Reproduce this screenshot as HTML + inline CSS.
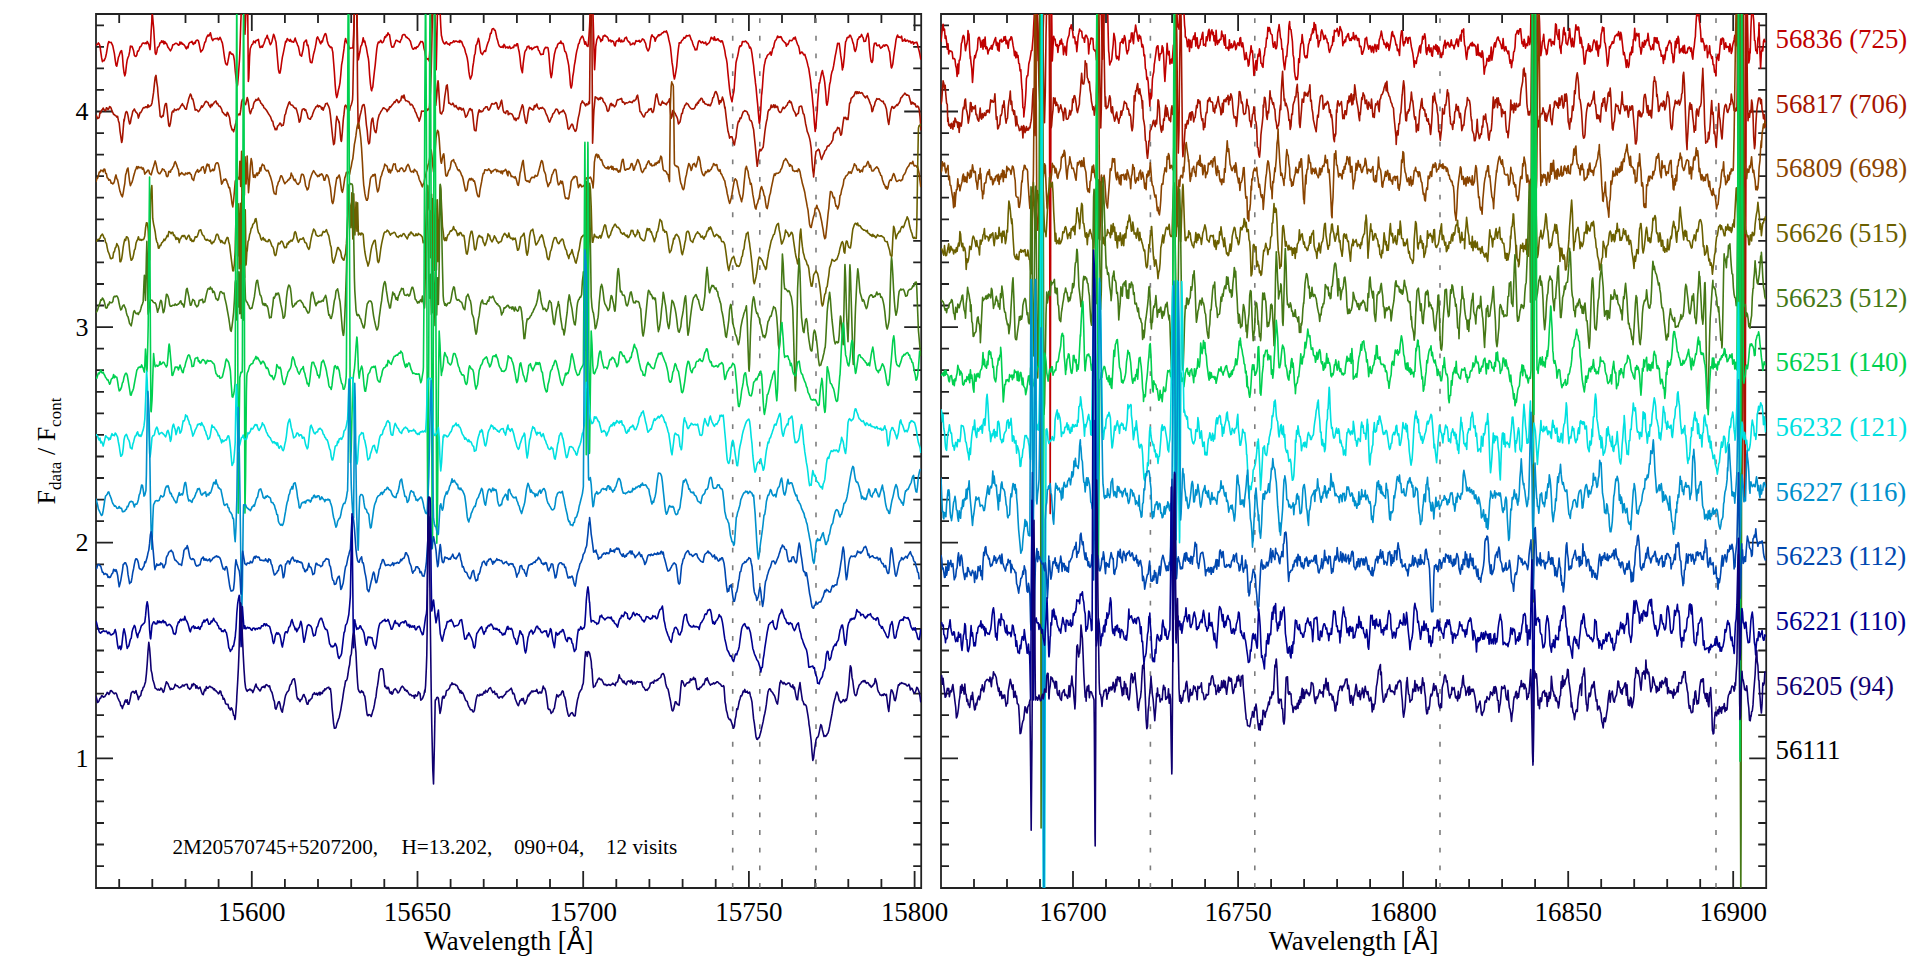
<!DOCTYPE html><html><head><meta charset="utf-8"><title>APOGEE visit spectra</title><style>
html,body{margin:0;padding:0;background:#fff;width:1920px;height:960px;overflow:hidden}
svg{display:block}
text{font-family:"Liberation Serif","Times New Roman",serif;fill:#000}
</style></head><body>
<svg width="1920" height="960" viewBox="0 0 1920 960">
<rect width="1920" height="960" fill="#fff"/>
<clipPath id="cl"><rect x="96.0" y="14.0" width="825.2" height="874.0"/></clipPath>
<clipPath id="cr"><rect x="941.0" y="14.0" width="825.2" height="874.0"/></clipPath>
<path d="M96.0,14.0H921.2V888.0H96.0ZM119.2,888.0v-9M119.2,14.0v9M152.3,888.0v-9M152.3,14.0v9M185.5,888.0v-9M185.5,14.0v9M218.6,888.0v-9M218.6,14.0v9M251.8,888.0v-17M251.8,14.0v17M284.9,888.0v-9M284.9,14.0v9M318.0,888.0v-9M318.0,14.0v9M351.2,888.0v-9M351.2,14.0v9M384.3,888.0v-9M384.3,14.0v9M417.5,888.0v-17M417.5,14.0v17M450.6,888.0v-9M450.6,14.0v9M483.7,888.0v-9M483.7,14.0v9M516.9,888.0v-9M516.9,14.0v9M550.0,888.0v-9M550.0,14.0v9M583.2,888.0v-17M583.2,14.0v17M616.3,888.0v-9M616.3,14.0v9M649.4,888.0v-9M649.4,14.0v9M682.6,888.0v-9M682.6,14.0v9M715.7,888.0v-9M715.7,14.0v9M748.9,888.0v-17M748.9,14.0v17M782.0,888.0v-9M782.0,14.0v9M815.2,888.0v-9M815.2,14.0v9M848.3,888.0v-9M848.3,14.0v9M881.4,888.0v-9M881.4,14.0v9M914.6,888.0v-17M914.6,14.0v17M96.0,866.1h8M921.2,866.1h-8M96.0,844.5h8M921.2,844.5h-8M96.0,823.0h8M921.2,823.0h-8M96.0,801.4h8M921.2,801.4h-8M96.0,779.9h8M921.2,779.9h-8M96.0,758.3h17M921.2,758.3h-17M96.0,736.7h8M921.2,736.7h-8M96.0,715.2h8M921.2,715.2h-8M96.0,693.6h8M921.2,693.6h-8M96.0,672.1h8M921.2,672.1h-8M96.0,650.5h8M921.2,650.5h-8M96.0,628.9h8M921.2,628.9h-8M96.0,607.4h8M921.2,607.4h-8M96.0,585.8h8M921.2,585.8h-8M96.0,564.3h8M921.2,564.3h-8M96.0,542.7h17M921.2,542.7h-17M96.0,521.1h8M921.2,521.1h-8M96.0,499.6h8M921.2,499.6h-8M96.0,478.0h8M921.2,478.0h-8M96.0,456.5h8M921.2,456.5h-8M96.0,434.9h8M921.2,434.9h-8M96.0,413.3h8M921.2,413.3h-8M96.0,391.8h8M921.2,391.8h-8M96.0,370.2h8M921.2,370.2h-8M96.0,348.7h8M921.2,348.7h-8M96.0,327.1h17M921.2,327.1h-17M96.0,305.5h8M921.2,305.5h-8M96.0,284.0h8M921.2,284.0h-8M96.0,262.4h8M921.2,262.4h-8M96.0,240.9h8M921.2,240.9h-8M96.0,219.3h8M921.2,219.3h-8M96.0,197.7h8M921.2,197.7h-8M96.0,176.2h8M921.2,176.2h-8M96.0,154.6h8M921.2,154.6h-8M96.0,133.1h8M921.2,133.1h-8M96.0,111.5h17M921.2,111.5h-17M96.0,89.9h8M921.2,89.9h-8M96.0,68.4h8M921.2,68.4h-8M96.0,46.8h8M921.2,46.8h-8M96.0,25.3h8M921.2,25.3h-8M941.0,14.0H1766.2V888.0H941.0ZM941.0,888.0v-9M941.0,14.0v9M974.0,888.0v-9M974.0,14.0v9M1007.0,888.0v-9M1007.0,14.0v9M1040.0,888.0v-9M1040.0,14.0v9M1073.0,888.0v-17M1073.0,14.0v17M1106.0,888.0v-9M1106.0,14.0v9M1139.0,888.0v-9M1139.0,14.0v9M1172.1,888.0v-9M1172.1,14.0v9M1205.1,888.0v-9M1205.1,14.0v9M1238.1,888.0v-17M1238.1,14.0v17M1271.1,888.0v-9M1271.1,14.0v9M1304.1,888.0v-9M1304.1,14.0v9M1337.1,888.0v-9M1337.1,14.0v9M1370.1,888.0v-9M1370.1,14.0v9M1403.1,888.0v-17M1403.1,14.0v17M1436.1,888.0v-9M1436.1,14.0v9M1469.1,888.0v-9M1469.1,14.0v9M1502.1,888.0v-9M1502.1,14.0v9M1535.1,888.0v-9M1535.1,14.0v9M1568.2,888.0v-17M1568.2,14.0v17M1601.2,888.0v-9M1601.2,14.0v9M1634.2,888.0v-9M1634.2,14.0v9M1667.2,888.0v-9M1667.2,14.0v9M1700.2,888.0v-9M1700.2,14.0v9M1733.2,888.0v-17M1733.2,14.0v17M1766.2,888.0v-9M1766.2,14.0v9M941.0,866.1h8M1766.2,866.1h-8M941.0,844.5h8M1766.2,844.5h-8M941.0,823.0h8M1766.2,823.0h-8M941.0,801.4h8M1766.2,801.4h-8M941.0,779.9h8M1766.2,779.9h-8M941.0,758.3h17M1766.2,758.3h-17M941.0,736.7h8M1766.2,736.7h-8M941.0,715.2h8M1766.2,715.2h-8M941.0,693.6h8M1766.2,693.6h-8M941.0,672.1h8M1766.2,672.1h-8M941.0,650.5h8M1766.2,650.5h-8M941.0,628.9h8M1766.2,628.9h-8M941.0,607.4h8M1766.2,607.4h-8M941.0,585.8h8M1766.2,585.8h-8M941.0,564.3h8M1766.2,564.3h-8M941.0,542.7h17M1766.2,542.7h-17M941.0,521.1h8M1766.2,521.1h-8M941.0,499.6h8M1766.2,499.6h-8M941.0,478.0h8M1766.2,478.0h-8M941.0,456.5h8M1766.2,456.5h-8M941.0,434.9h8M1766.2,434.9h-8M941.0,413.3h8M1766.2,413.3h-8M941.0,391.8h8M1766.2,391.8h-8M941.0,370.2h8M1766.2,370.2h-8M941.0,348.7h8M1766.2,348.7h-8M941.0,327.1h17M1766.2,327.1h-17M941.0,305.5h8M1766.2,305.5h-8M941.0,284.0h8M1766.2,284.0h-8M941.0,262.4h8M1766.2,262.4h-8M941.0,240.9h8M1766.2,240.9h-8M941.0,219.3h8M1766.2,219.3h-8M941.0,197.7h8M1766.2,197.7h-8M941.0,176.2h8M1766.2,176.2h-8M941.0,154.6h8M1766.2,154.6h-8M941.0,133.1h8M1766.2,133.1h-8M941.0,111.5h17M1766.2,111.5h-17M941.0,89.9h8M1766.2,89.9h-8M941.0,68.4h8M1766.2,68.4h-8M941.0,46.8h8M1766.2,46.8h-8M941.0,25.3h8M1766.2,25.3h-8" fill="none" stroke="#222" stroke-width="1.8"/>
<line x1="732.7" y1="14.0" x2="732.7" y2="888.0" stroke="#7d7d7d" stroke-width="1.6" stroke-dasharray="4.8 12.85" stroke-dashoffset="13.45"/>
<line x1="759.8" y1="14.0" x2="759.8" y2="888.0" stroke="#7d7d7d" stroke-width="1.6" stroke-dasharray="4.8 12.85" stroke-dashoffset="13.45"/>
<line x1="816.0" y1="14.0" x2="816.0" y2="888.0" stroke="#7d7d7d" stroke-width="1.6" stroke-dasharray="4.8 12.85" stroke-dashoffset="13.45"/>
<line x1="1150.4" y1="14.0" x2="1150.4" y2="888.0" stroke="#7d7d7d" stroke-width="1.6" stroke-dasharray="4.8 12.85" stroke-dashoffset="13.45"/>
<line x1="1254.8" y1="14.0" x2="1254.8" y2="888.0" stroke="#7d7d7d" stroke-width="1.6" stroke-dasharray="4.8 12.85" stroke-dashoffset="13.45"/>
<line x1="1440.0" y1="14.0" x2="1440.0" y2="888.0" stroke="#7d7d7d" stroke-width="1.6" stroke-dasharray="4.8 12.85" stroke-dashoffset="13.45"/>
<line x1="1716.0" y1="14.0" x2="1716.0" y2="888.0" stroke="#7d7d7d" stroke-width="1.6" stroke-dasharray="4.8 12.85" stroke-dashoffset="13.45"/>
<g clip-path="url(#cl)" fill="none" stroke-width="1.6" stroke-linejoin="round">
<path stroke="#c00000" d="M96.0,44.1L96.8,44.9 97.6,44.4 98.4,42.9 99.2,44.0 100,46.1 100.8,52.1 101.6,57.7 102.4,61.6 103.2,60.5 104,60.8 104.8,59.2 105.6,57.2 106.4,53.5 107.2,48.9 108,44.0 108.8,41.6 109.6,42.4 110.4,42.5 111.2,42.4 112,44.2 112.8,45.8 113.6,49.9 114.4,53.7 115.2,59.9 116,65.2 116.8,66.2 117.6,61.8 118.4,57.5 119.2,55.5 120,53.1 120.8,51.1 121.6,50.6 122.4,55.4 123.2,66.2 124,72.5 124.8,75.9 125.6,73.0 126.4,65.3 127.2,60.0 128,57.5 128.8,55.7 129.6,51.9 130.4,46.1 131.2,46.6 132,46.4 132.8,48.4 133.6,50.8 134.4,55.4 135.2,56.2 136,56.4 136.8,55.0 137.6,51.1 138.4,51.1 139.2,49.3 140,46.8 140.8,46.6 141.6,45.2 142.4,43.2 143.2,43.1 144,43.1 144.8,43.6 145.6,42.9 146.4,43.7 147.2,41.4 148,43.0 148.8,44.3 149.6,48.2 150.01,49.6 150.4,46.2 151.2,30.7 151.36,28.2 152,18.1 152.26,14.3 152.8,19.7 153.6,27.3 154.4,40.1 155.2,52.7 155.63,54.0 156,54.3 156.8,51.9 157.6,47.2 158.4,46.9 159.2,45.6 160,42.9 160.8,42.7 161.6,40.8 162.4,42.4 163.2,41.0 164,44.0 164.8,41.6 165.6,43.4 166.4,43.2 167.2,45.3 168,47.4 168.8,48.3 169.6,49.6 170.4,50.8 171.2,49.5 172,47.9 172.8,44.7 173.6,44.7 174.4,44.3 175.2,43.5 176,43.3 176.8,43.5 177.6,44.3 178.4,45.2 179.2,45.0 180,41.9 180.8,43.9 181.6,42.4 182.4,44.2 183.2,44.0 184,44.9 184.8,45.8 185.6,47.7 186.4,48.9 187.2,46.6 188,47.9 188.8,43.9 189.6,42.6 190.4,42.2 191.2,42.1 192,41.4 192.8,43.8 193.6,44.4 194.4,42.4 195.2,43.2 196,40.7 196.8,40.3 197.6,40.1 198.4,40.8 199.2,44.1 200,48.3 200.8,52.0 201.6,50.7 202.4,50.2 203.2,48.5 204,45.4 204.8,42.2 205.6,41.7 206.4,38.0 207.2,36.4 208,35.0 208.8,36.1 209.6,34.7 210.4,32.8 211.2,36.3 212,39.2 212.8,40.6 213.6,39.0 214.4,39.0 215.2,38.6 216,38.8 216.8,38.6 217.6,38.1 218.4,39.8 219.2,39.2 220,37.3 220.8,38.9 221.6,41.1 222.4,43.1 223.2,48.0 224,54.0 224.8,59.4 225.6,63.3 226.4,64.6 227.2,65.0 228,61.2 228.8,56.8 229.6,52.0 230.4,52.1 231.2,53.8 232,54.3 232.8,54.1 233.6,55.9 234.4,60.5 235.2,70.4 236,78.0 236.8,84.7 237.31,85.8 237.6,84.6 238.4,75.3 239.2,63.9 239.56,58.6 240,48.6 240.8,22.3 241.6,3.7 241.81,2.5 242.4,2.5 243.2,1.5 243.61,2.8 244,9.2 244.8,33.6 244.96,34.2 245.6,20.8 246.32,1.8 247.2,4.5 247.67,2.7 248,41.7 248.34,81.5 248.8,78.1 249.6,56.9 250.14,49.7 250.4,48.2 251.2,46.3 252,44.4 252.8,44.1 253.6,41.1 254.4,41.8 255.2,42.8 256,40.6 256.8,40.5 257.6,39.9 258.4,39.4 259.2,44.2 260,47.5 260.8,47.4 261.6,46.2 262.4,47.1 263.2,45.1 264,43.5 264.8,41.1 265.6,38.4 266.4,37.9 267.2,35.3 268,38.5 268.8,39.4 269.6,42.7 270.4,44.7 271.2,43.3 272,41.2 272.8,37.6 273.6,34.2 274.4,36.1 275.2,39.3 276,42.1 276.8,50.3 277.6,59.7 278.4,69.3 279.2,72.9 279.39,71.8 280,73.1 280.8,68.8 281.6,62.5 282.4,57.2 283.2,53.6 284,49.7 284.8,45.7 285.6,41.4 286.4,41.8 287.2,38.6 288,39.6 288.8,40.2 289.6,41.2 290.4,39.4 291.2,41.6 292,41.4 292.8,41.9 293.6,42.2 294.4,40.2 295.2,38.1 296,41.2 296.8,42.8 297.6,45.1 298.4,46.7 299.2,50.7 300,54.9 300.8,55.5 301.6,56.2 302.4,52.5 303.2,49.1 304,42.4 304.8,41.8 305.6,40.4 306.4,40.0 307.2,45.4 308,45.1 308.8,49.7 309.6,57.4 310.4,62.1 311.2,62.7 312,62.6 312.8,58.3 313.6,53.9 314.4,51.3 315.2,47.7 316,43.6 316.8,38.1 317.6,36.9 318.4,38.6 319.2,40.2 320,42.5 320.8,43.8 321.6,41.1 322.4,41.9 323.2,38.6 324,36.3 324.8,34.2 325.6,33.5 326.4,35.8 327.2,40.7 328,43.5 328.8,45.5 329.6,46.1 330.4,47.6 331.2,47.0 332,47.8 332.27,50.0 332.8,52.1 333.6,62.2 334.4,72.4 335.2,85.1 336,94.1 336.77,97.6 337.6,94.7 338.4,90.0 339.02,87.7 339.2,87.1 340,82.6 340.8,74.5 341.6,64.8 342.4,60.7 343.2,54.6 344,48.9 344.8,42.0 345.6,38.5 346.4,41.6 347.2,43.2 348,44.3 348.8,46.1 349.6,48.7 350.4,48.1 351.2,48.0 352,48.0 352.8,48.0 352.98,46.3 353.6,34.3 354.4,8.8 354.78,3.2 355.2,1.7 356,3.3 356.58,2.4 356.8,6.3 357.6,43.1 358.15,58.1 358.4,59.8 359.2,55.1 360,51.5 360.8,46.2 361.6,45.2 362.4,42.3 363.2,37.7 364,41.9 364.8,41.1 365.6,45.0 366.4,47.8 367.2,52.6 368,57.1 368.28,57.9 368.8,62.1 369.6,74.6 370.4,83.6 371.2,89.5 371.65,90.8 372,88.9 372.8,87.0 373.6,78.9 374.4,71.6 375.2,65.1 376,56.7 376.8,48.8 377.6,44.2 378.4,42.0 379.2,42.6 380,41.5 380.8,40.3 381.6,42.4 382.4,42.7 383.2,42.0 384,40.0 384.8,36.8 385.6,37.5 386.4,35.0 387.2,35.6 388,32.8 388.8,34.4 389.6,35.0 390.4,40.5 391.2,45.0 392,47.3 392.8,47.0 393.6,46.9 394.4,44.4 395.2,42.6 396,40.3 396.8,40.3 397.6,40.9 398.4,41.5 399.2,41.7 400,42.5 400.8,40.1 401.6,38.8 402.4,35.3 403.2,34.6 404,34.8 404.8,34.6 405.6,36.1 406.4,37.5 407.2,37.4 408,38.4 408.8,38.9 409.6,40.2 410.4,41.3 411.2,44.6 412,47.2 412.8,49.0 413.6,49.3 414.4,47.9 415.2,47.5 416,48.7 416.8,46.8 417.6,47.1 418.4,45.9 419.2,44.5 420,43.0 420.8,41.4 421.6,41.9 422.4,41.5 423.2,43.4 424,48.4 424.8,51.4 425.6,56.3 426.4,58.1 427.2,59.3 428,58.6 428.8,59.3 429.03,60.9 429.6,54.4 430.4,38.6 431.2,18.8 432,5.1 432.41,0.8 432.8,1.4 433.6,3.4 434.4,4.6 434.66,3.4 435.2,21.2 436,66.0 436.23,69.8 436.8,44.6 437.58,2.4 438.4,3.9 439.2,2.7 439.38,2.9 440,9.4 440.8,26.9 441.41,35.7 441.6,36.0 442.4,39.9 443.2,42.0 444,43.4 444.8,44.0 445.6,42.8 446.4,41.8 447.2,43.5 448,44.1 448.8,44.1 449.6,45.1 450.4,42.7 451.2,42.9 452,42.8 452.8,42.2 453.6,40.8 454.4,42.0 455.2,41.3 456,41.0 456.8,41.4 457.6,41.9 458.4,41.3 459.2,42.4 460,40.4 460.8,42.0 461.6,41.4 462.4,43.7 463.2,46.0 464,47.1 464.8,49.3 465.6,52.8 466.4,54.9 467.2,58.0 468,62.9 468.8,71.2 469.6,76.2 470.4,79.1 471.2,76.9 472,74.7 472.8,67.0 473.6,62.2 474.4,55.6 475.2,53.2 476,45.2 476.8,44.3 477.6,41.6 478.4,38.2 479.2,41.2 480,47.6 480.8,52.7 481.6,53.6 482.4,54.6 483.2,52.8 484,51.6 484.8,50.6 485.6,51.4 486.4,47.8 487.2,45.1 488,42.6 488.8,40.8 489.6,37.7 490.4,33.3 491.2,33.4 492,29.4 492.8,28.7 493.6,28.5 494.4,30.2 495.2,30.4 496,34.0 496.8,37.9 497.6,40.4 498.4,43.8 499.2,45.9 500,46.6 500.8,47.3 501.6,47.2 502.4,46.1 503.2,47.6 504,44.4 504.8,45.5 505.6,47.9 506.4,47.3 507.2,46.9 508,48.2 508.8,47.4 509.6,46.3 510.4,48.4 511.2,48.2 512,47.9 512.8,47.2 513.6,47.6 514.4,45.0 515.2,45.2 516,45.9 516.8,43.9 517.6,43.9 518.4,48.5 519.2,52.0 520,58.0 520.8,66.0 521.6,70.1 522.4,72.7 523.2,63.6 524,57.7 524.8,52.2 525.6,50.4 526.4,49.6 527.2,46.6 528,46.7 528.8,46.1 529.6,48.8 530.4,48.2 531.2,47.7 532,49.6 532.8,48.3 533.6,48.4 534.4,47.2 535.2,47.0 536,47.1 536.8,46.5 537.6,46.5 538.4,50.2 539.2,50.8 540,53.0 540.8,54.6 541.6,54.4 542.4,54.3 543.2,54.3 544,49.8 544.8,48.5 545.6,47.3 546.4,47.8 547.2,47.4 548,47.9 548.8,53.5 549.6,63.6 550.4,73.2 551.19,77.6 552,74.1 552.8,65.9 553.6,60.1 554.4,54.3 555.2,51.1 556,48.0 556.8,47.7 557.6,44.7 558.4,43.5 559.2,43.1 560,43.2 560.8,41.0 561.6,43.4 562.4,43.3 563.2,43.8 564,47.1 564.8,51.4 565.6,51.7 566.4,53.9 567.2,58.0 568,61.6 568.74,65.6 569.6,74.3 570.4,84.8 570.99,87.7 571.2,88.0 572,84.9 572.8,76.5 573.6,71.8 574.4,65.2 575.2,61.0 576,55.1 576.8,50.9 577.6,48.1 578.4,44.1 579.2,43.3 580,39.9 580.8,38.4 581.6,36.8 582.4,36.1 583.2,37.6 584,40.4 584.8,44.2 585.6,41.8 586.4,44.7 587.2,46.0 587.86,46.0 588,46.5 588.8,38.2 588.98,36.1 589.6,26.0 590.33,10.3 591.2,3.5 591.68,3.3 592,4.1 592.8,12.9 593.03,14.7 593.6,33.9 593.93,47.7 594.4,65.1 594.6,69.8 595.2,58.8 595.73,46.4 596,45.0 596.8,39.7 597.6,38.2 598.4,35.9 599.2,37.5 600,38.4 600.8,41.6 601.6,39.5 602.4,40.3 603.2,36.0 604,36.3 604.8,35.1 605.6,36.0 606.4,36.5 607.2,37.0 608,38.1 608.8,41.0 609.6,40.6 610.4,40.0 611.2,41.9 612,40.7 612.8,41.2 613.6,41.7 614.4,45.1 615.2,46.0 616,41.8 616.8,40.9 617.6,40.3 618.4,41.3 619.2,38.0 620,41.2 620.8,42.0 621.6,40.1 622.4,41.8 623.2,41.5 624,41.0 624.8,38.2 625.6,37.8 626.4,37.2 627.2,39.8 628,41.1 628.8,42.1 629.6,42.0 630.4,44.9 631.2,44.4 632,44.4 632.8,43.1 633.6,43.2 634.4,44.6 635.2,42.9 636,40.6 636.8,41.1 637.6,41.3 638.4,41.1 639.2,40.3 640,42.2 640.8,41.5 641.6,40.5 642.4,38.9 643.2,39.3 644,39.9 644.8,41.9 645.6,43.4 646.4,47.4 647.2,49.3 648,51.0 648.8,49.8 649.6,47.6 650.4,41.2 651.2,36.9 652,34.8 652.8,36.3 653.6,36.9 654.4,37.8 655.2,41.3 656,38.5 656.8,37.2 657.6,36.6 658.4,34.8 659.2,35.6 660,34.5 660.8,34.9 661.6,33.6 662.4,32.8 663.2,32.8 664,31.5 664.8,31.6 665.6,31.9 666.4,30.9 667.2,33.1 668,35.5 668.8,39.5 669.6,42.9 670.4,46.6 671.2,54.0 672,62.2 672.8,67.2 673.6,74.9 674.4,79.0 675.2,75.7 676,70.9 676.71,66.3 677.6,56.3 678.4,48.8 678.96,44.9 679.2,42.7 680,42.7 680.8,42.9 681.6,40.8 682.4,40.2 683.2,39.1 684,37.4 684.8,38.2 685.6,37.4 686.4,35.5 687.2,36.0 688,35.7 688.8,35.6 689.6,35.1 690.4,37.2 691.2,39.8 692,40.9 692.8,43.8 693.6,46.1 694.4,47.4 695.2,49.9 696,49.6 696.8,49.8 697.6,45.9 698.4,41.9 699.2,40.6 700,41.1 700.8,42.5 701.6,42.9 702.4,41.6 703.2,42.5 704,43.4 704.8,42.8 705.6,42.0 706.4,44.9 707.2,44.6 708,43.6 708.8,43.1 709.6,42.0 710.4,39.8 711.2,37.2 712,38.5 712.8,38.2 713.6,40.0 714.4,36.8 715.2,40.4 716,39.3 716.8,40.2 717.6,38.8 718.4,39.3 719.2,40.9 720,40.9 720.8,42.0 721.6,40.8 722.4,41.3 723.2,44.1 724,47.1 724.8,50.7 725.6,56.1 726.4,59.0 727.2,64.2 727.32,66.2 728,73.6 728.8,81.7 729.57,89.1 730.4,95.2 731.2,98.8 732,101.8 732.8,96.7 733.6,92.8 734.07,90.2 734.4,85.3 735.2,73.3 736,62.7 736.32,61.3 736.8,59.3 737.6,56.4 738.4,52.3 739.2,47.9 740,45.8 740.8,46.3 741.6,45.4 742.4,41.5 743.2,41.7 744,41.5 744.8,41.6 745.6,41.0 746.4,41.8 747.2,43.0 748,43.2 748.8,45.3 749.6,48.1 750.4,47.2 751.2,49.3 752,53.8 752.8,60.1 753.6,65.5 754.4,73.8 755.2,79.9 755.44,82.9 756,86.8 756.8,96.1 757.6,103.8 758.4,113.4 759.2,122.7 759.49,123.4 760,119.6 760.8,109.2 761.6,93.8 761.74,94.1 762.4,87.4 763.2,75.5 764,67.5 764.44,64.4 764.8,63.2 765.6,59.1 766.4,58.1 767.2,55.8 768,54.6 768.8,54.2 769.6,53.5 770.4,52.0 771.2,55.2 772,52.1 772.8,48.2 773.6,47.7 774.4,43.2 775.2,40.7 776,40.0 776.8,38.2 777.6,36.0 778.4,37.5 779.2,36.8 780,37.5 780.8,36.5 781.6,37.9 782.4,40.0 783.2,40.9 784,41.6 784.8,42.8 785.6,42.8 786.4,46.2 787.2,44.4 788,44.5 788.8,42.5 789.6,40.3 790.4,40.5 791.2,40.6 792,40.6 792.8,39.3 793.6,37.9 794.4,38.9 795.2,37.1 796,39.8 796.8,42.2 797.6,44.6 798.4,45.7 799.2,48.6 800,53.8 800.8,52.9 801.6,52.0 802.4,52.5 803.2,53.9 804,55.0 804.8,54.3 805.6,57.1 806.4,59.4 807.2,62.4 808,65.9 808.8,68.8 809.6,74.4 810.4,79.6 810.55,80.9 811.2,87.5 812,93.7 812.8,102.9 813.48,109.5 813.6,111.6 814.4,122.9 815.2,131.4 816,125.4 816.8,114.8 817.3,110.0 817.6,102.4 818.4,93.3 819.2,82.9 819.55,83.3 820,81.2 820.8,76.8 821.6,72.9 822.4,70.5 823.2,74.5 824,77.8 824.72,82.3 825.6,91.5 826.4,103.0 826.97,105.2 827.2,104.8 828,100.4 828.8,92.5 829.6,84.5 830.4,81.4 831.2,75.1 832,71.6 832.8,69.9 833.6,65.9 834.4,61.2 835.2,56.2 836,52.3 836.8,47.9 837.6,43.4 838.4,43.6 839.2,43.4 840,49.4 840.8,55.9 841.6,61.2 842.4,69.9 842.72,67.8 843.2,67.2 844,59.7 844.3,57.1 844.8,50.1 845.6,41.9 846.4,40.3 847.2,37.5 848,37.3 848.8,37.4 849.6,35.2 850.4,35.2 851.2,37.3 852,39.1 852.8,42.4 853.6,44.4 854.4,49.6 855.2,51.5 856,49.4 856.8,45.7 857.6,39.3 858.4,39.1 859.2,36.9 860,37.1 860.8,36.2 861.6,34.4 862.4,36.6 863.2,37.9 864,41.5 864.8,41.2 865.6,41.1 866.4,37.6 867.2,35.1 867.91,33.3 868.8,38.9 869.6,50.0 870.16,54.4 870.4,56.8 871.2,61.5 872,62.5 872.8,60.2 873.6,48.0 874.4,43.4 875.2,43.4 876,43.1 876.8,45.5 877.6,45.8 878.4,45.3 879.2,44.9 880,47.1 880.8,48.4 881.6,47.1 882.4,47.1 883.2,45.2 884,45.0 884.8,46.2 885.6,44.9 886.4,44.9 887.2,45.5 888,46.6 888.8,49.8 889.28,51.1 889.6,51.9 890.4,60.2 891.2,67.2 891.53,68.0 892,66.9 892.8,64.1 893.6,57.1 894.4,51.4 895.2,46.2 896,40.0 896.8,36.9 897.6,35.0 898.4,37.3 899.2,36.8 900,37.5 900.8,37.8 901.6,36.2 902.4,41.2 903.2,40.4 904,40.7 904.8,38.9 905.6,41.2 906.4,41.0 907.2,40.1 908,40.6 908.8,41.9 909.6,41.1 910.4,41.2 911.2,43.1 912,42.1 912.8,41.7 913.6,44.2 914.4,42.8 915.2,42.6 916,42.6 916.8,42.2 917.6,44.8 918.4,48.1 919.2,51.2 920,55.2 920.8,59.6"/>
<path stroke="#a51400" d="M96.0,115.0L96.8,116.4 97.6,118.6 98.4,118.1 99.2,117.5 100,112.4 100.8,112.8 101.6,110.2 102.4,109.7 103.2,108.0 104,109.7 104.8,110.4 105.6,110.9 106.4,107.8 107.2,108.2 108,109.6 108.8,108.8 109.6,106.6 110.4,107.0 111.2,108.4 112,111.1 112.8,112.5 113.6,114.4 114.4,114.6 115.2,115.5 116,115.8 116.8,117.1 117.6,116.3 118.4,120.7 119.2,122.9 120,131.1 120.8,136.4 121.6,142.4 121.88,142.1 122.4,139.1 123.2,128.9 124,119.3 124.13,121.0 124.8,117.1 125.6,112.8 126.4,111.5 127.2,112.4 128,115.6 128.8,120.3 129.6,123.9 130.4,122.9 131.2,118.0 132,115.1 132.8,111.2 133.6,110.2 134.4,109.0 135.2,111.0 136,112.2 136.8,112.9 137.6,113.9 138.4,118.1 139.2,115.7 140,112.6 140.8,112.6 141.6,111.2 142.4,109.5 143.2,107.9 144,107.5 144.8,107.9 145.6,106.8 146.4,106.7 147.2,107.7 148,104.8 148.8,107.1 149.6,106.0 150.4,105.9 151.2,105.2 152,102.9 152.8,97.7 153.6,92.2 154.4,84.2 155.2,77.4 156,75.4 156.8,82.3 157.6,87.7 157.88,92.0 158.4,97.6 159.2,105.5 160,113.7 160.13,116.2 160.8,116.8 161.6,117.4 162.4,115.7 163.2,116.1 164,110.8 164.8,105.7 165.6,103.6 166.4,103.6 167.2,110.6 168,118.4 168.8,125.6 169.6,126.4 170.4,123.5 171.2,118.0 172,112.4 172.8,111.0 173.6,112.0 174.4,109.1 175.2,109.8 176,110.4 176.8,109.6 177.6,109.1 178.4,109.7 179.2,108.6 180,107.8 180.8,106.0 181.6,105.1 182.4,103.7 183.2,105.6 184,106.2 184.8,108.3 185.6,109.2 186.4,109.2 187.2,104.9 188,102.0 188.8,98.4 189.6,96.2 190.4,94.0 191.2,95.1 192,98.9 192.8,98.9 193.6,102.1 194.4,106.0 195.2,110.2 196,109.6 196.8,109.9 197.6,110.7 198.4,111.6 199.2,110.8 200,109.4 200.8,108.0 201.6,105.9 202.4,107.2 203.2,105.8 204,104.6 204.8,102.9 205.6,101.5 206.4,101.3 207.2,102.3 208,102.6 208.8,105.0 209.6,105.9 210.4,107.5 211.2,104.3 212,105.9 212.8,104.2 213.6,103.6 214.4,102.2 215.2,101.6 216,101.0 216.8,103.7 217.6,103.4 218.4,105.1 219.2,106.4 220,106.2 220.8,107.6 221.6,109.1 222.4,112.1 223.2,112.7 224,113.8 224.8,114.9 225.6,114.6 226.4,116.1 227.2,112.3 228,113.3 228.8,115.6 229.6,117.8 230.4,124.2 231.2,127.0 232,129.9 232.8,129.6 233.6,131.7 234.4,128.9 235.2,125.3 236,122.4 236.8,118.6 237.6,115.3 238.4,114.6 239.2,113.9 240,114.9 240.8,109.4 241.6,102.0 242.4,99.4 243.2,99.1 244,102.8 244.8,103.5 245.6,104.6 246.4,101.1 247.2,97.6 248,100.1 248.8,105.6 249.6,111.4 250.4,113.8 251.2,111.2 252,108.8 252.8,108.4 253.6,104.1 254.4,101.8 255.2,101.1 256,99.4 256.8,100.4 257.6,99.9 258.4,98.1 259.2,100.2 260,100.7 260.8,103.1 261.6,103.7 262.4,105.0 263.2,105.5 264,107.9 264.8,108.3 265.6,109.4 266.4,110.1 267.2,111.5 268,112.9 268.8,114.3 269.6,115.4 270.4,116.4 271.2,118.7 272,121.0 272.8,121.3 273.6,125.7 274.4,127.1 275.2,129.7 276,128.7 276.8,129.7 277.6,126.0 278.4,125.6 279.2,124.3 280,123.0 280.8,123.7 281.6,126.0 282.4,125.2 283.2,125.2 284,121.7 284.8,115.1 285.6,113.8 286.4,110.0 287.2,107.5 288,105.2 288.8,102.8 289.6,101.8 290.4,104.3 291.2,105.0 292,105.1 292.8,105.5 293.6,107.1 294.4,107.5 295.2,108.5 296,108.2 296.8,110.6 297.6,113.6 298.4,116.8 299.2,122.1 300,121.4 300.8,118.0 301.6,112.3 302.4,109.2 303.2,109.0 304,108.7 304.8,110.4 305.6,109.6 306.4,112.0 307.2,114.1 308,117.8 308.8,118.6 309.6,118.9 310.4,119.2 311.2,117.1 312,116.5 312.8,113.6 313.6,111.5 314.4,109.5 315.2,108.4 316,106.7 316.8,106.4 317.6,105.2 318.4,107.0 319.2,105.8 320,106.2 320.8,106.6 321.6,109.1 322.4,107.7 323.2,110.2 324,107.7 324.8,106.4 325.6,103.8 326.4,103.6 327.2,103.2 328,105.2 328.8,106.7 329.6,109.3 330.4,115.2 331.2,122.8 332,130.9 332.8,138.4 333.6,144.6 334.07,143.9 334.4,143.6 335.2,135.4 336,123.0 336.77,116.3 337.6,119.0 338.4,120.2 339.02,122.8 339.2,121.8 340,130.6 340.8,139.7 341.27,141.4 341.6,140.4 342.4,131.4 343.2,120.6 343.52,117.6 344,114.2 344.8,106.5 345.6,105.1 346.4,106.3 347.2,108.3 348,110.8 348.8,109.6 349.6,110.5 350.4,106.6 351.2,105.0 352,102.1 352.53,99.8 352.8,94.2 353.6,52.7 354.4,9.5 354.78,2.6 355.2,1.2 356,1.8 356.58,3.0 356.8,9.5 357.6,91.7 358.15,128.3 358.4,126.0 359.2,120.8 360,115.7 360.8,112.7 361.6,109.4 362.4,105.7 363.2,104.7 364,104.5 364.8,108.2 365.6,116.0 366.4,125.0 367.2,130.3 368,140.4 368.8,143.9 369.6,142.7 370.4,133.8 371.2,123.1 372,119.0 372.8,118.0 373.6,124.7 374.4,129.7 375.2,131.9 376,132.7 376.8,128.0 377.6,121.1 378.4,117.8 379.2,114.8 380,113.6 380.8,111.8 381.6,110.6 382.4,109.4 383.2,107.8 384,108.0 384.8,108.6 385.6,109.0 386.4,109.8 387.2,111.6 388,109.4 388.8,109.6 389.6,106.8 390.4,107.3 391.2,106.2 392,105.1 392.8,104.2 393.6,103.3 394.4,101.7 395.2,102.3 396,100.5 396.8,99.5 397.6,100.6 398.4,102.6 399.2,102.5 400,100.9 400.8,100.5 401.6,96.3 402.4,96.0 403.2,98.0 404,95.0 404.8,98.4 405.6,100.8 406.4,100.8 407.2,101.0 408,101.7 408.8,101.5 409.6,103.2 410.4,105.0 411.2,104.3 412,104.8 412.8,105.7 413.6,108.0 414.4,108.7 415.2,111.6 416,112.7 416.8,115.0 417.6,117.3 418.4,118.4 419.2,121.3 420,118.7 420.8,115.9 421.6,111.1 422.4,111.3 423.2,111.3 424,111.0 424.8,111.8 425.6,109.7 426.4,110.7 427.2,110.5 428,108.9 428.8,109.7 429.03,109.7 429.6,105.8 430.4,92.1 431.2,72.5 432,35.7 432.8,2.1 433.6,2.2 434.21,3.8 434.4,7.0 435.2,72.6 435.78,105.3 436,103.2 436.8,95.3 437.6,84.3 438.03,80.7 438.4,83.3 439.2,97.3 440,111.0 440.28,112.9 440.8,113.4 441.6,114.0 442.4,111.8 443.2,110.8 444,104.1 444.8,96.7 445.6,91.5 446.4,85.7 447.04,86.1 447.2,84.9 448,92.1 448.8,103.3 449.29,103.2 449.6,103.0 450.4,104.1 451.2,104.6 452,104.5 452.8,103.2 453.6,104.5 454.4,106.6 455.2,106.6 456,105.5 456.8,107.6 457.6,108.6 458.4,109.6 459.2,107.4 460,109.0 460.8,107.8 461.6,109.9 462.4,109.7 463.2,108.4 464,110.6 464.8,113.6 465.6,117.2 466.4,116.4 467.2,115.2 468,112.7 468.8,110.8 469.6,108.7 470.4,108.6 471.2,110.3 472,109.5 472.8,114.8 473.6,123.2 474.4,130.0 475.2,130.8 476,130.8 476.8,123.6 477.6,116.8 478.4,112.5 479.2,109.8 480,112.0 480.8,110.8 481.6,111.9 482.4,111.4 483.2,110.4 484,108.5 484.8,108.3 485.6,106.8 486.4,106.9 487.2,106.8 488,109.5 488.8,110.1 489.6,109.3 490.4,107.4 491.2,104.9 492,103.5 492.8,104.0 493.6,104.0 494.4,104.0 495.2,103.1 496,102.5 496.8,103.5 497.6,107.5 498.4,109.2 499.2,107.3 500,105.8 500.8,102.0 501.6,100.2 502.4,105.1 503.2,110.5 504,112.4 504.8,112.6 505.6,113.4 506.4,111.0 507.2,110.9 508,111.5 508.15,114.6 508.8,114.5 509.6,113.3 510.4,113.5 511.2,113.9 512,114.0 512.8,115.6 513.6,117.5 514.4,119.6 515.2,118.2 516,120.6 516.8,118.9 517.6,118.1 518.4,118.7 519.2,116.2 520,112.5 520.8,110.0 521.6,107.2 522.4,104.7 523.2,106.7 524,113.4 524.8,117.6 525.6,122.3 526.4,123.3 527.2,119.7 528,113.7 528.8,109.5 529.6,107.4 530.4,107.9 531.2,109.2 532,109.1 532.8,110.0 533.6,109.5 534.4,105.6 535.2,107.0 536,105.1 536.8,104.0 537.6,107.3 538.4,108.3 539.2,109.1 540,108.1 540.8,107.9 541.6,108.4 542.4,107.3 543.2,108.4 544,108.9 544.8,109.9 545.6,112.5 546.4,114.5 547.2,115.9 548,118.3 548.8,121.0 549.6,122.1 550.4,120.2 551.2,117.9 552,117.0 552.8,114.0 553.6,113.4 554.4,112.2 555.2,110.6 556,109.0 556.8,109.2 557.6,109.9 558.4,112.1 559.2,114.0 560,112.3 560.8,112.1 561.6,111.5 562.4,111.7 563.2,110.0 564,111.3 564.8,113.0 565.6,114.3 566.4,118.3 567.2,122.3 568,128.5 568.8,129.3 569.6,128.2 570.4,126.7 571.2,125.0 572,124.1 572.8,125.0 573.6,128.3 574.4,129.6 575.2,131.3 576,130.9 576.8,127.7 577.6,121.9 578.4,117.4 579.2,114.1 580,109.3 580.8,104.0 581.6,102.9 582.4,100.9 583.2,102.5 584,103.0 584.8,104.3 585.6,106.0 586.4,103.8 587.2,104.8 588,104.6 588.8,101.8 589.43,103.6 589.6,97.4 590.4,8.0 590.56,2.1 591.2,0.9 591.68,2.8 592,43.4 592.58,143.3 592.8,138.7 593.6,116.6 593.93,110.1 594.4,105.7 595.2,96.8 596,97.6 596.8,97.6 597.6,99.0 598.4,99.8 599.2,98.0 600,99.4 600.8,97.4 601.6,98.2 602.4,98.2 603.2,101.2 604,102.3 604.8,103.0 605.6,105.0 606.4,106.6 607.2,110.6 608,111.3 608.8,110.4 609.6,107.0 610.4,104.0 611.2,103.3 612,105.7 612.8,104.4 613.6,105.4 614.4,106.9 615.2,105.9 616,104.8 616.8,101.2 617.6,99.6 618.4,100.0 619.2,99.3 620,99.2 620.8,98.8 621.6,98.4 622.4,102.1 623.2,101.9 624,102.5 624.8,104.3 625.6,103.1 626.4,102.8 627.2,103.0 628,102.6 628.8,102.1 629.6,101.5 630.4,102.1 631.2,102.1 632,102.7 632.8,101.5 633.6,100.4 634.4,100.9 635.2,100.0 636,99.3 636.8,96.3 637.6,95.1 638.4,100.0 639.2,104.8 640,111.7 640.8,111.7 641.6,113.8 642.4,114.9 643.2,116.5 644,117.0 644.8,115.3 645.6,112.9 646.4,112.5 647.2,112.2 648,111.2 648.8,109.2 649.6,109.9 650.4,108.7 651.2,108.5 652,111.9 652.8,112.5 653.6,110.9 654.4,106.0 655.2,100.5 656,94.9 656.8,93.9 657.6,97.6 658.4,101.6 659.2,104.5 660,104.8 660.8,105.3 661.6,103.0 662.4,101.2 663.2,103.2 664,103.0 664.8,103.5 665.6,104.0 666.4,104.8 667.2,102.8 668,102.3 668.8,100.5 669.51,98.8 670.4,111.1 671.09,118.5 672,116.5 672.8,110.5 673.6,111.2 674.4,112.4 675.2,113.5 676,115.5 676.8,116.8 677.6,119.1 678.4,123.9 679.2,122.9 680,122.0 680.8,118.2 681.6,113.6 682.4,113.4 683.2,109.0 684,108.1 684.8,105.3 685.6,105.0 686.4,103.1 687.2,103.6 688,104.1 688.8,105.7 689.6,106.9 690.4,108.0 691.2,108.7 692,109.1 692.8,108.8 693.6,109.0 694.4,108.3 695.2,106.9 696,104.3 696.8,105.0 697.6,102.2 698.4,103.1 699.2,100.4 700,100.5 700.8,98.5 701.6,98.2 702.4,99.3 703.2,102.2 704,101.5 704.8,103.7 705.6,103.9 706.4,104.2 707.2,104.5 708,105.4 708.8,104.4 709.6,105.7 710.4,105.7 711.2,103.5 712,101.7 712.8,97.7 713.6,97.4 714.4,94.3 715.2,91.9 716,91.5 716.8,93.4 717.6,95.6 718.4,99.7 719.2,104.1 720,100.6 720.8,102.4 721.6,100.4 722.4,97.1 723.2,99.5 724,102.6 724.8,108.1 725.07,107.1 725.6,112.1 726.4,119.2 727.2,125.6 727.32,126.5 728,131.3 728.8,133.9 729.6,138.1 730.4,136.9 731.2,136.9 732,136.8 732.8,139.8 733.6,143.1 734.4,145.0 735.2,140.1 736,137.5 736.8,130.0 737.6,124.8 738.4,121.4 739.2,121.6 740,118.0 740.8,118.6 741.6,116.5 742.4,114.0 743.2,111.9 744,111.3 744.8,110.6 745.6,111.2 746.4,111.3 747.2,112.0 748,114.6 748.8,115.2 749.6,119.4 750.4,120.6 751.2,120.8 752,122.7 752.8,126.5 753.6,129.6 754.32,136.8 755.2,145.2 756,153.9 756.8,163.0 757.24,166.3 757.6,164.1 758.4,158.0 759.2,151.5 760,149.2 760.8,150.9 761.6,149.7 762.4,148.4 763.2,147.0 764,139.8 764.8,132.3 765.6,126.7 766.4,121.9 767.2,118.7 768,111.9 768.8,109.7 769.6,109.9 770.4,108.5 771.2,105.0 772,107.4 772.8,106.9 773.6,104.7 774.4,107.6 775.2,105.1 776,107.5 776.8,106.4 777.6,106.6 778.4,110.3 779.2,111.6 780,112.5 780.8,112.5 781.6,110.7 782.4,108.7 783.2,107.1 784,108.7 784.8,108.0 785.6,106.9 786.4,105.7 787.2,105.1 788,102.6 788.8,102.2 789.6,100.6 790.4,102.6 791.2,102.0 792,104.9 792.8,107.8 793.6,110.4 794.4,111.7 795.2,113.0 796,116.1 796.8,114.4 797.6,113.8 798.4,113.3 799.2,106.9 800,106.5 800.8,106.1 801.6,106.3 802.4,109.6 803.2,113.7 804,114.1 804.8,118.5 805.6,123.7 806.4,127.1 807.2,131.4 808,133.3 808.8,135.6 809.6,138.4 810.4,142.4 810.55,143.8 811.2,148.4 812,160.8 812.8,170.2 813.48,174.5 813.6,177.0 814.4,168.5 815.2,157.4 815.73,153.8 816,151.5 816.8,150.8 817.6,150.1 818.4,149.2 819.2,150.1 820,153.6 820.8,157.2 821.6,159.4 822.4,157.3 823.2,155.1 824,153.7 824.8,151.0 825.6,150.2 826.4,149.1 827.2,146.4 828,145.8 828.8,146.1 829.6,144.5 830.4,143.8 831.2,143.0 832,141.1 832.8,140.0 833.6,133.7 834.4,132.2 835.2,132.7 836,130.5 836.8,130.1 837.6,127.4 838.4,128.1 839.2,128.0 840,132.2 840.8,135.2 841.6,134.1 842.4,127.8 843.2,121.9 844,117.2 844.8,118.2 845.6,117.4 846.4,119.5 847.2,118.2 848,119.6 848.8,112.5 849.6,103.2 850.4,102.7 851.2,98.2 852,97.8 852.8,96.7 853.6,96.3 854.4,94.7 855.2,92.2 856,91.5 856.8,93.8 857.6,91.8 858.4,93.3 859.2,91.9 860,92.9 860.8,93.2 861.6,92.6 862.4,93.2 863.2,94.8 864,96.1 864.8,97.1 865.6,97.8 866.4,96.2 867.2,95.9 868,98.1 868.8,99.6 869.6,101.9 870.4,104.0 871.2,105.8 872,111.7 872.8,110.8 873.6,106.8 874.4,105.6 875.2,102.0 876,100.7 876.8,98.6 877.6,99.1 878.4,99.1 879.2,98.8 880,99.8 880.8,100.5 881.6,101.2 882.4,101.6 883.2,101.2 884,103.8 884.8,104.0 885.6,106.5 886.4,108.9 887.2,115.1 888,121.0 888.8,124.5 889.6,118.8 890.4,112.6 891.2,108.9 892,106.6 892.8,106.8 893.6,108.4 894.4,107.9 895.2,106.5 896,105.9 896.8,104.7 897.6,105.4 898.4,103.6 899.2,102.9 900,101.2 900.8,97.9 901.6,97.5 902.4,96.3 903.2,95.2 904,94.5 904.8,93.2 905.6,93.9 906.4,95.1 907.2,94.9 908,95.3 908.8,95.6 909.6,98.3 910.4,101.2 911.2,104.2 912,102.1 912.8,103.7 913.6,102.8 914.4,104.5 915.2,103.9 916,106.7 916.8,107.0 917.6,106.0 918.4,107.2 918.53,107.0 919.2,109.8 920,116.7 920.8,127.4 921,130.5"/>
<path stroke="#8a4400" d="M96.0,182.0L96.8,178.8 97.6,178.2 98.4,175.7 99.2,172.1 100,172.1 100.8,170.2 101.6,170.7 102.4,170.4 103.2,171.8 104,169.0 104.8,169.2 105.6,173.2 106.4,173.7 107.2,177.9 108,178.3 108.8,180.1 109.6,179.6 110.4,180.6 111.2,183.3 112,183.0 112.8,184.0 113.6,183.3 114.4,181.4 115.2,177.3 116,174.9 116.8,178.6 117.6,179.8 118.4,183.7 119.2,187.7 120,191.3 120.8,193.6 121.6,195.6 122.4,196.9 123.2,193.1 124,187.8 124.8,183.5 125.6,175.0 126.4,172.4 127.2,169.1 128,168.0 128.8,174.8 129.6,181.5 130.4,185.7 131.2,183.7 132,182.4 132.8,179.5 133.6,176.3 134.4,173.6 135.2,170.6 136,168.7 136.8,166.6 137.6,168.6 138.4,166.7 139.2,167.3 140,167.9 140.8,167.3 141.6,167.4 142.4,169.3 143.2,168.0 144,170.3 144.8,174.1 145.6,172.8 146.4,172.3 147.2,171.0 148,170.1 148.8,170.4 149.6,173.6 150.4,174.2 151.2,174.8 152,171.8 152.8,169.1 153.6,166.5 154.4,163.6 155.2,160.9 156,163.7 156.8,167.5 157.6,171.6 158.4,172.9 159.2,173.8 160,173.6 160.8,172.2 161.6,171.0 162.4,168.7 163.2,169.5 164,169.6 164.8,171.4 165.6,171.8 166.4,175.9 167.2,176.7 168,176.0 168.8,171.5 169.6,171.2 170.4,172.2 171.2,169.6 172,169.2 172.8,167.3 173.6,166.4 174.4,163.1 175.2,161.5 176,163.4 176.8,165.4 177.6,168.1 178.4,169.6 179.2,175.9 180,173.7 180.8,174.1 181.6,172.5 182.4,173.4 183.2,174.2 184,174.7 184.8,174.9 185.6,173.0 186.4,173.6 187.2,174.1 188,172.6 188.8,173.3 189.6,172.5 190.4,174.1 191.2,174.7 192,178.6 192.8,179.4 193.6,180.5 194.4,176.8 195.2,174.3 196,172.0 196.8,171.1 197.6,169.5 198.4,172.2 199.2,171.4 200,170.4 200.8,170.5 201.6,167.5 202.4,167.1 203.2,166.7 204,169.7 204.8,173.3 205.6,170.8 206.4,166.2 207.2,164.1 208,165.8 208.8,164.5 209.6,168.4 210.4,171.6 211.2,170.5 212,170.7 212.8,169.2 213.6,170.7 214.4,169.8 215.2,165.2 216,163.4 216.8,162.8 217.6,162.7 218.4,164.1 219.2,167.9 220,172.3 220.8,178.5 221.6,184.1 222.4,183.0 223.2,180.9 224,179.4 224.8,180.1 225.6,178.9 226.4,180.1 227.2,182.6 228,184.6 228.8,187.8 229.6,187.6 230.4,192.1 231.2,196.7 232,203.5 232.8,206.9 233.6,200.8 234.4,191.2 235.2,181.8 235.51,180.5 236,180.4 236.8,179.2 237.6,177.2 238.4,177.8 239,179.3 239.2,178.4 239.9,161.2 240.69,186.5 241.6,151.3 242.4,189.6 242.54,191.2 243.2,162.9 243.5,153.9 244,178.7 244.39,195.2 244.8,170.5 245.07,156.7 245.6,172.0 246.08,183.9 246.4,177.7 247.16,156.1 248,179.2 248.5,192.7 248.8,189.1 249.6,179.6 250.4,165.6 251.2,158.6 252,162.3 252.8,173.0 253.52,177.3 254.4,175.1 255.2,177.4 256,174.9 256.8,173.1 257.6,175.4 258.4,172.6 259.2,173.2 260,167.9 260.8,170.9 261.6,166.2 262.4,164.2 263.2,165.2 264,165.2 264.8,168.7 265.6,169.7 266.4,170.9 267.2,170.7 268,170.3 268.8,172.4 269.6,174.6 270.4,176.6 271.2,179.3 272,182.1 272.8,186.3 273.6,191.3 274.4,193.7 275.2,193.7 276,194.3 276.8,187.0 277.6,185.0 278.4,182.0 279.2,181.2 280,178.2 280.8,175.8 281.6,175.8 282.4,177.6 283.2,179.8 284,181.9 284.8,183.7 285.6,182.7 286.4,182.0 287.2,181.3 288,179.9 288.8,180.0 289.6,178.0 290.4,178.4 291.2,173.0 292,175.1 292.8,176.3 293.6,179.2 294.4,180.7 295.2,179.3 296,181.8 296.8,183.2 297.6,184.3 298.4,184.4 299.2,182.8 300,182.2 300.8,177.4 301.6,174.2 302.4,174.2 303.2,174.6 304,176.7 304.8,180.5 305.6,185.8 306.4,187.3 307.2,189.9 308,189.2 308.8,186.7 309.6,180.9 310.4,178.5 311.2,176.0 312,173.8 312.8,172.2 313.6,170.7 314.4,171.9 315.2,173.1 316,174.5 316.8,175.2 317.6,176.7 318.4,175.5 319.2,176.3 320,174.4 320.8,174.9 321.6,173.8 322.4,174.8 323.2,176.3 324,180.2 324.8,180.3 325.6,177.3 326.4,174.9 327.2,175.1 328,176.4 328.8,178.9 329.6,183.8 330.4,187.4 331.2,195.0 332,201.9 332.8,203.6 333.6,200.7 334.4,194.8 335.2,187.8 336,182.6 336.8,177.5 337.6,178.1 338.4,176.1 339.2,175.0 340,178.1 340.8,184.6 341.6,190.4 342.4,192.3 343.2,188.9 344,183.6 344.8,177.9 345.6,175.9 346.4,172.2 347.2,173.0 348,171.8 348.8,172.4 349.6,174.4 350.4,169.8 351.2,166.6 352,161.9 352.8,158.8 353.6,151.8 354.4,144.4 355.2,140.3 356,135.2 356.8,128.5 357.6,124.7 358.4,123.2 359.2,125.6 360,131.9 360.8,138.7 361.53,147.8 362.4,162.1 363.2,177.8 363.78,185.8 364,186.6 364.8,193.2 365.6,197.3 366.4,200.1 367.2,200.3 368,197.9 368.8,190.4 369.6,185.3 370.4,178.7 371.2,176.9 372,176.3 372.8,174.8 373.6,175.9 374.4,174.4 375.2,174.4 376,181.8 376.8,187.8 377.6,191.9 378.4,190.5 379.2,186.9 380,181.2 380.8,176.9 381.6,175.3 382.4,172.0 383.2,170.1 384,167.7 384.8,164.1 385.6,165.4 386.4,165.6 387.2,166.6 388,170.3 388.8,172.1 389.6,169.3 390.4,173.0 391.2,170.4 392,170.4 392.8,166.4 393.6,163.9 394.4,164.2 395.2,163.9 396,169.2 396.8,169.8 397.6,171.7 398.4,171.0 399.2,171.4 400,169.1 400.8,168.2 401.6,167.9 402.4,168.4 403.2,170.3 404,171.6 404.8,171.0 405.6,170.1 406.4,167.0 407.2,165.6 408,164.3 408.8,165.6 409.6,168.0 410.4,170.7 411.2,171.9 412,171.7 412.8,171.0 413.6,172.4 414.4,169.3 415.2,170.2 416,171.1 416.8,171.5 417.6,174.3 418.4,175.8 419.2,179.2 420,181.1 420.8,182.6 421.6,185.2 422.4,186.8 423.2,184.0 424,183.1 424.8,178.4 425.6,175.6 426.4,171.7 427.2,168.7 428,165.3 428.8,162.9 429.6,158.6 430.4,152.2 431.2,149.9 432,155.9 432.8,165.8 433.53,171.8 434.4,162.0 435.2,149.2 435.78,141.2 436,138.2 436.8,133.1 437.6,130.2 438.03,131.1 438.4,131.7 439.2,139.1 440,151.0 440.8,161.0 441.41,163.3 441.6,162.4 442.4,158.0 443.2,154.6 443.66,153.8 444,155.1 444.8,165.2 445.6,174.0 445.91,175.7 446.4,176.1 447.2,175.8 448,172.7 448.8,170.4 449.6,169.7 450.4,167.0 451.2,162.0 452,160.6 452.8,160.6 453.6,159.6 454.4,162.6 455.2,162.9 456,165.6 456.8,167.2 457.6,169.4 458.4,170.6 459.2,169.8 460,171.3 460.8,172.9 461.6,175.3 462.4,176.5 463.2,179.5 464,183.8 464.8,187.5 465.6,191.0 466.4,190.6 467.2,188.9 468,182.6 468.8,180.1 469.6,178.7 470.4,179.8 471.2,178.3 472,179.9 472.8,179.0 473.6,181.3 474.4,180.9 475.2,184.2 476,188.1 476.8,192.6 477.6,195.5 478.4,196.7 479.2,196.6 480,190.2 480.8,185.9 481.6,181.9 482.4,177.2 483.2,173.4 484,173.4 484.8,169.7 485.6,169.7 486.4,170.1 487.2,170.5 488,169.8 488.8,168.9 489.6,170.5 490.4,170.6 491.2,173.3 492,171.3 492.8,171.5 493.6,170.3 494.4,169.9 495.2,169.4 496,169.5 496.8,171.6 497.6,170.1 498.4,171.4 499.2,171.6 500,171.2 500.8,173.0 501.6,171.1 502.4,173.9 503.2,170.9 504,171.2 504.8,170.3 505.6,169.3 506.4,170.8 507.2,174.4 508,175.8 508.15,171.5 508.8,171.2 509.6,172.2 510.4,173.8 511.2,176.6 512,176.3 512.8,176.7 513.6,177.0 514.4,177.9 515.2,176.7 516,178.6 516.8,181.3 517.6,184.9 518.4,185.4 519.2,181.1 520,173.6 520.8,170.5 521.6,166.6 522.4,162.4 523.2,160.4 524,168.0 524.8,174.2 525.6,180.2 526.4,180.6 527.2,181.5 528,180.7 528.8,181.8 529.6,182.3 530.4,179.7 531.2,178.2 532,177.1 532.8,177.6 533.6,177.3 534.4,177.7 535.2,175.2 536,176.0 536.8,176.2 537.6,175.2 538.4,172.1 539.2,169.2 540,166.3 540.8,162.6 541.6,160.6 542.4,161.3 543.2,165.2 544,170.7 544.8,172.3 545.6,174.5 546.4,180.5 547.2,182.9 548,186.6 548.8,185.2 549.6,182.9 550.4,182.8 551.2,178.4 552,174.8 552.8,173.6 553.6,171.4 554.4,169.7 555.2,169.3 556,170.0 556.8,175.7 557.6,181.6 558.4,184.9 559.2,184.5 560,182.7 560.8,180.9 561.6,183.4 562.4,181.4 563.2,185.3 564,190.6 564.8,195.7 565.6,198.5 566.4,198.2 567.2,198.1 568,199.1 568.8,198.4 569.6,192.9 570.4,188.7 571.2,181.4 572,179.8 572.8,178.9 573.6,176.9 574.4,177.7 575.2,176.2 576,176.6 576.8,177.1 577.6,183.4 578.4,187.6 579.2,186.4 580,184.3 580.8,184.9 581.6,186.8 582.4,186.2 583.2,186.4 584,185.3 584.8,185.1 585.6,178.8 586.4,177.8 587.2,179.0 588,178.2 588.8,178.1 589.6,178.0 590.4,177.0 591.2,178.8 592,181.9 592.8,185.1 593.03,188.0 593.6,180.6 594.4,162.0 594.6,161.1 595.2,157.0 596,154.5 596.8,154.1 597.6,157.6 598.4,154.9 599.2,156.9 600,158.8 600.8,160.2 601.6,159.7 602.4,162.5 603.2,165.1 604,165.9 604.8,167.2 605.6,168.0 606.4,167.7 607.2,168.7 608,166.5 608.8,169.0 609.6,167.3 610.4,167.3 611.2,166.2 612,169.3 612.8,166.5 613.6,169.9 614.4,168.7 615.2,168.7 616,169.8 616.8,168.7 617.6,170.9 618.4,172.2 619.2,170.4 620,171.8 620.8,168.1 621.6,162.7 622.4,159.8 623.2,159.3 624,165.1 624.8,169.8 625.6,170.2 626.4,169.3 627.2,168.9 628,169.1 628.8,168.9 629.6,168.1 630.4,166.8 631.2,163.7 632,163.5 632.8,166.0 633.6,170.3 634.4,169.4 635.2,165.7 636,164.8 636.8,161.7 637.6,159.6 638.4,160.2 639.2,162.9 640,164.8 640.8,168.8 641.6,171.4 642.4,172.6 643.2,171.6 644,169.7 644.8,168.2 645.6,168.5 646.4,165.1 647.2,164.1 648,161.8 648.8,160.8 649.6,163.0 650.4,164.9 651.2,163.9 652,166.0 652.8,165.6 653.6,165.2 654.4,165.5 655.2,163.1 656,164.7 656.8,162.6 657.6,163.2 658.4,161.1 659.2,162.6 660,159.1 660.8,156.1 661.6,157.2 662.4,163.7 663.2,169.4 664,170.6 664.8,170.8 665.6,171.3 666.4,172.1 667.2,174.1 668,174.5 668.8,178.5 669.51,181.6 670.4,104.3 671.2,86.0 671.76,81.9 672,83.3 672.8,84.2 673.34,86.1 673.6,97.4 674.4,164.0 675.2,165.8 676,165.8 676.8,166.8 677.6,166.4 678.4,167.6 679.2,172.8 680,179.0 680.8,183.2 681.6,184.9 682.4,188.2 683.2,189.7 684,188.5 684.8,183.3 685.6,177.7 686.4,174.9 687.2,170.4 688,166.9 688.8,163.5 689.6,164.6 690.4,167.2 691.2,170.5 692,168.4 692.8,164.6 693.6,164.0 694.4,163.4 695.2,165.9 696,166.9 696.8,163.7 697.6,160.9 698.4,156.5 699.2,158.0 700,161.2 700.8,166.9 701.6,171.0 702.4,173.5 703.2,175.0 704,175.8 704.8,174.2 705.6,171.5 706.4,172.7 707.2,171.6 708,169.8 708.8,171.6 709.6,171.2 710.4,169.7 711.2,169.4 712,167.2 712.8,166.1 713.6,163.6 714.4,164.1 715.2,165.5 716,164.9 716.8,164.6 717.6,168.7 718.4,170.4 719.2,171.1 720,169.6 720.8,173.5 721.6,174.1 722.4,176.0 723.2,177.6 724,179.6 724.8,181.0 725.6,185.7 726.4,188.5 727.2,193.5 728,196.8 728.8,200.6 729.6,203.4 730.4,201.4 731.2,198.0 732,194.2 732.8,189.0 733.6,184.4 734.4,180.4 735.2,178.8 736,179.7 736.8,180.9 737.6,185.6 738.4,189.2 739.2,193.2 740,196.1 740.8,198.7 741.6,201.8 741.94,199.6 742.4,198.4 743.2,193.6 744,184.3 744.8,176.0 745.6,168.1 745.99,168.9 746.4,166.2 747.2,169.3 748,171.2 748.8,176.9 749.6,179.4 750.4,184.3 751.2,183.4 752,188.1 752.8,194.4 753.6,198.6 754.4,203.7 755.2,207.8 756,209.2 756.8,204.6 757.6,203.1 758.4,199.8 759.2,197.8 760,192.5 760.8,188.2 761.6,186.5 762.4,189.1 763.2,191.1 764,195.1 764.8,196.7 765.6,202.9 766.4,207.6 767.2,208.6 768,204.9 768.8,200.1 769.6,195.5 770.4,193.3 771.2,188.4 772,184.6 772.8,180.8 773.6,176.8 774.4,173.9 775.2,175.3 776,173.2 776.8,173.4 777.6,173.3 778.4,173.1 779.2,172.4 780,171.9 780.8,169.4 781.6,168.6 782.4,166.1 783.2,163.0 784,160.6 784.8,160.1 785.6,158.5 786.4,159.8 787.2,160.8 788,162.8 788.8,163.7 789.6,166.3 790.4,164.6 791.2,165.8 792,166.0 792.8,170.5 793.6,170.5 794.4,171.5 795.2,171.1 796,171.3 796.8,170.7 797.6,171.7 798.4,168.9 799.2,169.5 800,171.7 800.8,176.2 801.6,179.6 802.4,183.6 803.2,186.3 804,189.2 804.8,192.5 805.6,197.6 806.4,201.7 807.2,206.4 808,210.1 808.8,217.5 809.6,224.6 810.4,227.0 811.2,227.5 812,223.7 812.8,219.6 813.6,216.5 814.4,214.4 815.2,208.2 816,208.5 816.8,205.2 817.6,208.2 818.4,209.4 819.2,211.3 820,213.5 820.8,217.5 821.6,221.2 822.4,225.8 823.2,230.1 824,235.8 824.8,238.7 825.17,237.4 825.6,237.8 826.4,230.3 827.2,223.2 828,214.7 828.55,209.8 828.8,208.6 829.6,198.8 830.4,191.6 830.8,191.5 831.2,191.7 832,192.5 832.8,196.1 833.6,197.9 834.4,197.3 835.2,202.9 836,206.3 836.8,206.1 837.6,209.0 838.4,206.9 839.2,204.0 840,195.7 840.8,194.6 841.6,190.1 842.4,187.4 843.2,184.8 844,179.1 844.8,178.6 845.6,176.5 846.4,175.6 847.2,175.1 848,173.8 848.8,171.8 849.6,172.9 850.4,171.9 851.2,173.4 852,171.3 852.8,168.9 853.6,166.7 854.4,163.7 855.2,165.2 856,165.5 856.8,168.8 857.6,170.4 858.4,169.1 859.2,169.5 860,172.2 860.8,171.1 861.6,170.1 862.4,171.7 863.2,167.8 864,166.4 864.8,166.8 865.6,166.2 866.4,165.4 867.2,162.8 868,161.4 868.8,163.6 869.6,167.3 870.4,165.3 871.2,168.4 872,171.0 872.8,171.0 873.6,170.7 874.4,169.2 875.2,168.5 876,167.5 876.8,166.8 877.6,168.0 878.4,168.6 879.2,171.7 880,172.9 880.8,175.4 881.6,175.9 882.4,179.7 883.2,182.1 884,184.4 884.8,185.3 885.6,188.1 886.4,186.6 887.2,189.2 888,187.7 888.8,183.1 889.6,180.7 890.4,179.7 891.2,180.5 892,178.2 892.8,175.6 893.6,173.5 894.4,175.0 895.2,177.6 896,180.4 896.8,181.5 897.6,181.3 898.4,180.5 899.2,180.1 900,180.2 900.8,181.0 901.6,179.9 902.4,179.8 903.2,175.9 904,174.6 904.8,173.7 905.6,172.1 906.4,169.6 907.2,167.9 908,166.8 908.8,165.9 909.6,164.0 910.4,162.8 911.2,163.4 912,163.6 912.8,161.3 913.6,164.6 914.4,166.0 915.2,165.6 916,165.7 916.8,167.1 917.6,166.3 918.4,170.0 919.2,174.0 920,180.8 920.8,187.2"/>
<path stroke="#6b6000" d="M96.0,241.8L96.8,240.7 97.6,239.9 98.4,239.2 99.2,239.2 100,238.3 100.8,235.9 101.6,235.0 102.4,234.0 103.2,235.6 104,237.9 104.8,238.4 105.6,242.4 106.4,243.2 107.2,247.6 108,251.3 108.8,253.0 109.6,255.3 110.4,258.3 111.2,258.8 112,258.1 112.8,257.9 113.6,252.3 114.4,251.8 115.2,248.0 116,247.1 116.8,243.6 117.6,245.2 118.4,246.6 119.2,251.0 120,261.7 120.8,261.6 121.6,259.1 122.4,253.9 123.2,247.2 124,242.7 124.8,239.2 125.6,240.5 126.4,236.9 127.2,237.1 128,238.1 128.8,241.5 129.6,250.3 130.4,256.5 131.2,260.3 132,259.6 132.8,258.2 133.6,254.6 134.4,250.2 135.2,248.8 136,243.3 136.8,241.0 137.6,239.6 138.4,236.8 139.2,239.8 140,240.1 140.8,239.3 141.6,240.4 142.4,239.5 143.2,239.6 144,238.8 144.8,235.9 145.6,227.6 146.4,222.8 147.2,223.1 148,228.2 148.21,230.7 148.8,244.1 149.56,259.9 150.4,208.5 150.68,196.0 151.2,189.1 151.81,185.6 152,188.2 152.71,218.4 153.6,224.1 154.4,227.8 155.2,232.0 156,238.5 156.8,241.8 157.6,243.1 158.4,248.1 159.2,248.0 160,245.4 160.8,245.4 161.6,242.9 162.4,242.3 163.2,241.3 164,239.2 164.8,240.5 165.6,238.8 166.4,237.4 167.2,235.4 168,236.6 168.8,231.5 169.6,231.7 170.4,232.5 171.2,233.7 172,232.3 172.8,232.2 173.6,235.5 174.4,235.0 175.2,237.0 176,239.5 176.8,237.5 177.6,239.2 178.4,238.3 179.2,242.6 180,239.2 180.8,238.4 181.6,236.5 182.4,235.5 183.2,236.6 184,235.4 184.8,235.9 185.6,238.2 186.4,239.3 187.2,237.9 188,236.0 188.8,235.2 189.6,236.6 190.4,240.2 191.2,239.0 192,241.5 192.8,240.6 193.6,241.4 194.4,239.6 195.2,236.7 196,236.9 196.8,237.2 197.6,235.6 198.4,233.1 199.2,230.2 200,230.1 200.8,229.8 201.6,232.6 202.4,234.7 203.2,235.5 204,236.1 204.8,238.9 205.6,239.8 206.4,240.3 207.2,239.4 208,240.2 208.8,240.4 209.6,241.2 210.4,240.2 211.2,243.2 212,243.8 212.8,242.0 213.6,242.5 214.4,240.7 215.2,239.4 216,235.7 216.8,234.2 217.6,234.3 218.4,236.0 219.2,239.2 220,240.1 220.8,242.5 221.6,240.5 222.4,241.7 223.2,243.0 224,243.0 224.8,243.8 225.6,241.1 226.4,239.0 227.2,237.4 228,237.8 228.8,242.0 229.6,244.9 230.4,251.7 231.2,258.2 232,264.3 232.8,270.8 233.26,270.7 233.6,270.9 234.4,263.5 235.06,252.7 235.2,249.4 236,215.3 236.8,206.0 237.55,256.0 238.24,203.8 238.4,209.2 239.17,268.8 240,216.2 240.33,203.4 240.8,268.7 241.02,288.7 241.6,223.0 242.03,179.5 242.4,220.8 242.85,274.1 243.2,246.3 243.68,204.0 244,225.4 244.58,277.4 244.8,261.3 245.27,209.8 245.6,230.7 246.06,265.0 246.4,260.5 247,249.5 247.2,251.1 248,241.7 248.8,240.0 249.6,234.8 250.4,232.4 251.2,228.4 252,227.7 252.8,224.5 253.6,223.5 254.4,222.7 255.2,219.2 256,218.6 256.8,223.0 257.6,228.9 258.4,232.4 259.2,233.4 260,235.2 260.8,238.6 261.6,240.1 262.4,238.7 263.2,237.5 264,240.0 264.8,239.1 265.6,241.1 266.4,241.4 267.2,241.2 268,241.7 268.8,239.5 269.6,240.0 270.4,241.8 271.2,243.9 272,246.2 272.8,246.8 273.6,249.0 274.4,254.0 275.2,255.6 276,254.9 276.8,250.3 277.6,246.4 278.4,243.0 279.2,243.9 280,243.8 280.8,241.6 281.6,241.1 282.4,241.9 283.2,243.7 284,246.4 284.8,247.9 285.6,247.2 286.4,247.5 287.2,243.3 288,244.2 288.8,241.8 289.6,242.3 290.4,240.6 291.2,240.3 292,241.2 292.8,239.6 293.6,238.2 294.4,233.0 295.2,231.7 296,233.2 296.8,237.3 297.6,240.3 298.4,242.3 299.2,240.7 300,239.1 300.8,239.0 301.6,239.3 302.4,238.9 303.2,237.6 304,239.5 304.8,242.3 305.6,242.8 306.4,243.2 307.2,246.4 308,247.9 308.8,249.5 309.6,247.9 310.4,242.6 311.2,238.4 312,234.8 312.8,232.2 313.6,229.1 314.4,230.0 315.2,231.3 316,234.8 316.8,235.5 317.6,236.0 318.4,236.3 319.2,235.9 320,235.4 320.8,235.3 321.6,235.7 322.4,233.4 323.2,231.4 324,231.9 324.8,232.1 325.6,231.0 326.4,229.6 327.2,232.1 328,234.1 328.8,235.9 329.6,240.3 330.4,244.9 331.2,247.2 332,256.9 332.8,261.8 333.6,263.1 334.4,260.3 335.2,257.4 336,254.6 336.8,250.9 337.6,247.6 338.4,247.5 339.2,249.5 340,250.1 340.8,252.1 341.6,257.0 342.4,258.5 343.2,259.7 344,260.2 344.8,256.0 345.6,253.1 346.23,245.3 346.4,243.9 347.2,230.1 348,211.7 348.8,199.5 349,201.3 349.6,203.6 349.9,205.3 350.4,219.3 350.85,227.8 351.2,218.3 351.8,192.9 352,198.4 352.8,239.0 353.6,197.0 353.76,193.8 354.4,217.5 354.9,235.0 355.2,227.6 356,202.0 356.8,227.6 356.93,231.1 357.6,202.7 358.4,234.9 359.2,233.9 360,233.2 360.8,235.0 361.6,233.1 362.4,233.5 363.2,234.5 364,244.6 364.8,251.5 365.6,256.1 366.4,259.9 367.2,262.4 368,266.1 368.8,263.6 369.6,260.4 370.4,254.4 371.2,249.4 372,245.8 372.8,243.9 373.6,241.7 374.4,240.4 375.2,240.4 376,247.4 376.8,253.0 377.6,261.0 378.4,262.6 379.2,260.6 380,254.6 380.8,248.5 381.6,243.8 382.4,240.2 383.2,236.6 384,233.3 384.8,232.0 385.6,232.0 386.4,231.7 387.2,230.2 388,230.9 388.8,231.8 389.6,233.6 390.4,235.2 391.2,233.6 392,233.6 392.8,233.2 393.6,232.5 394.4,232.3 395.2,233.0 396,235.0 396.8,236.8 397.6,236.8 398.4,237.5 399.2,235.7 400,235.9 400.8,235.2 401.6,236.3 402.4,235.1 403.2,233.7 404,233.6 404.8,234.9 405.6,236.5 406.4,237.4 407.2,239.0 408,237.0 408.8,234.3 409.6,234.9 410.4,232.6 411.2,232.0 412,233.8 412.8,233.6 413.6,235.4 414.4,235.7 415.2,235.8 416,233.8 416.8,235.5 417.6,235.2 418.4,233.4 419.2,234.5 420,234.5 420.8,235.2 421.6,236.1 422.4,237.3 423.2,242.8 424,242.0 424.8,240.0 425.6,234.3 426.4,220.6 427.2,197.0 427.91,185.9 428.8,207.7 429,209.2 429.6,210.6 429.9,212.1 430.4,252.5 430.54,257.7 431.2,213.2 431.58,194.3 432,227.5 432.53,274.4 432.8,246.0 433.18,198.6 433.6,220.6 434.33,270.7 435.2,209.4 435.47,199.8 436,239.6 436.42,270.1 436.8,241.6 437.31,199.7 437.6,217.0 438.16,261.7 438.4,256.7 439,230.0 439.2,221.9 440,187.5 440.28,184.8 440.8,189.1 441.6,207.3 442.4,225.0 442.53,226.8 443.2,231.8 444,239.3 444.8,240.6 445.6,237.8 446.4,240.5 447.2,237.0 448,234.7 448.8,234.5 449.6,232.5 450.4,230.9 451.2,231.1 452,230.4 452.8,228.8 453.6,226.6 454.4,229.7 455.2,229.7 456,230.7 456.8,232.8 457.6,235.6 458.4,233.5 459.2,234.8 460,232.5 460.8,232.5 461.6,234.3 462.4,235.8 463.2,235.3 464,235.8 464.8,241.4 465.6,248.5 466.4,253.7 467.2,254.1 468,250.3 468.8,244.3 469.6,238.0 470.4,234.1 471.2,231.3 472,231.4 472.8,235.3 473.6,241.3 474.4,248.5 475.2,250.0 476,248.6 476.8,243.4 477.6,238.7 478.4,236.8 479.2,235.4 480,236.9 480.8,236.4 481.6,237.7 482.4,237.3 483.2,241.8 484,243.2 484.8,245.6 485.6,244.1 486.4,241.3 487.2,238.7 488,233.7 488.8,235.7 489.6,235.4 490.4,239.2 491.2,240.4 492,242.0 492.8,240.4 493.6,238.6 494.4,235.8 495.2,237.3 496,238.5 496.8,241.1 497.6,241.5 498.4,243.3 499.2,242.4 500,241.8 500.8,241.7 501.6,240.5 502.4,237.2 503.2,235.9 504,234.1 504.8,233.4 505.6,234.9 506.4,235.1 507.2,237.4 508,236.6 508.15,236.3 508.8,233.0 509.6,236.4 510.4,238.3 511.2,238.6 512,238.0 512.8,239.8 513.6,238.1 514.4,239.2 515.2,238.2 516,241.4 516.8,246.3 517.6,250.3 518.4,249.9 519.2,247.4 520,242.5 520.8,237.2 521.6,236.4 522.4,235.9 523.2,234.4 524,233.2 524.8,238.5 525.6,245.1 526.4,252.7 527.2,255.3 528,251.8 528.8,245.6 529.6,236.5 530.4,232.3 531.2,230.3 532,230.2 532.8,229.1 533.6,233.4 534.4,236.6 535.2,242.0 536,245.0 536.8,244.0 537.6,242.6 538.4,241.0 539.2,239.6 540,237.0 540.8,236.9 541.6,234.8 542.4,235.7 543.2,238.8 544,242.5 544.8,246.4 545.6,248.1 546.4,251.8 547.2,257.5 548,259.3 548.8,259.7 549.6,256.3 550.4,251.5 551.2,249.9 552,246.8 552.8,242.4 553.6,240.0 554.4,237.7 555.2,237.5 556,237.7 556.8,240.2 557.6,242.4 558.4,243.7 559.2,243.5 560,241.3 560.8,240.8 561.6,239.2 562.4,239.0 563.2,240.1 564,244.0 564.8,246.7 565.6,249.3 566.4,250.2 567.2,254.4 568,256.0 568.8,258.6 569.6,254.6 570.4,254.0 571.2,252.7 572,249.5 572.8,253.1 573.6,256.0 574.4,258.2 575.2,261.9 576,263.2 576.8,260.1 577.6,256.7 578.4,252.2 579.2,249.6 580,244.0 580.8,239.3 581.6,237.0 582.4,236.5 583.2,235.3 584,235.7 584.8,234.5 585.6,232.3 586.4,219.9 586.73,217.2 587.2,223.9 587.86,231.4 588,230.2 588.8,200.2 589.43,183.6 589.6,183.3 590.4,189.0 590.78,197.5 591.2,206.5 592,236.6 592.35,242.2 592.8,242.3 593.6,238.3 594.4,234.2 595.2,236.8 596,236.4 596.8,237.6 597.6,237.1 598.4,238.1 599.2,236.7 600,235.5 600.8,238.1 601.6,236.0 602.4,232.7 603.2,230.4 604,226.5 604.8,224.8 605.6,225.4 606.4,229.9 607.2,233.6 608,236.7 608.8,237.8 609.6,235.8 610.4,235.0 611.2,231.9 612,230.2 612.8,227.5 613.6,226.8 614.4,224.9 615.2,224.2 616,225.4 616.8,227.1 617.6,227.4 618.4,227.4 619.2,228.8 620,229.6 620.8,232.7 621.6,232.9 622.4,234.2 623.2,233.9 624,232.8 624.8,234.9 625.6,235.0 626.4,236.4 627.2,235.2 628,237.6 628.8,237.2 629.6,235.3 630.4,233.8 631.2,230.4 632,231.0 632.8,230.4 633.6,234.1 634.4,234.5 635.2,236.8 636,235.0 636.8,234.3 637.6,230.1 638.4,232.2 639.2,232.7 640,237.0 640.8,238.4 641.6,239.0 642.4,240.1 643.2,240.6 644,240.6 644.8,239.8 645.6,236.1 646.4,231.4 647.2,228.4 648,230.5 648.8,228.8 649.6,228.7 650.4,231.9 651.2,231.5 652,234.3 652.8,236.3 653.6,238.9 654.4,241.8 655.2,238.7 656,237.0 656.8,232.2 657.6,231.6 658.4,228.0 659.2,223.6 660,219.3 660.8,220.6 661.6,221.2 662.4,225.8 663.2,230.5 664,229.9 664.8,232.2 665.6,231.4 666.4,231.8 667.2,235.1 668,240.6 668.8,247.9 669.6,252.7 670.4,251.6 671.2,250.4 672,246.1 672.8,243.3 673.6,238.3 674.4,239.0 675.2,235.8 676,234.7 676.8,234.3 677.6,235.9 678.4,236.3 679.2,238.7 680,242.2 680.8,246.9 681.6,252.9 682.4,254.7 683.2,251.4 684,248.0 684.8,243.1 685.6,239.7 686.4,232.9 687.2,231.5 688,231.1 688.8,232.2 689.6,235.4 690.4,240.0 691.2,241.1 692,241.7 692.8,242.4 693.6,239.3 694.4,238.1 695.2,235.8 696,234.0 696.8,233.2 697.6,231.8 698.4,233.4 699.2,233.5 700,234.6 700.8,236.9 701.6,237.1 702.4,236.0 703.2,238.2 704,239.1 704.8,236.5 705.6,236.6 706.4,233.7 707.2,231.1 708,230.9 708.8,227.8 709.6,229.5 710.4,226.9 711.2,228.1 712,230.5 712.8,232.5 713.6,235.4 714.4,236.7 715.2,236.1 716,234.7 716.8,234.3 717.6,235.6 718.4,235.6 719.2,237.8 720,236.7 720.8,238.6 721.6,241.4 722.4,241.7 723.2,241.5 724,242.6 724.8,244.8 725.6,250.0 726.4,255.9 727.2,262.3 728,267.5 728.8,270.6 729.6,266.4 730.4,263.6 731.2,260.5 732,258.2 732.8,257.6 733.6,256.3 734.4,258.5 735.2,262.5 736,264.2 736.8,266.1 737.6,265.5 738.4,266.4 739.2,266.3 740,264.3 740.8,261.9 741.6,257.1 742.4,256.0 743.2,250.4 744,248.9 744.8,242.0 745.6,238.4 746.4,233.6 747.2,233.4 748,232.2 748.8,239.1 749.6,243.5 749.82,245.8 750.4,250.0 751.2,256.7 752,264.1 752.8,272.6 753.6,281.3 754.32,283.7 755.2,280.4 756,277.0 756.8,272.3 757.6,265.7 758.4,259.8 759.2,257.1 760,257.6 760.8,258.3 761.6,259.8 762.4,260.7 763.2,263.6 764,265.8 764.8,266.7 765.6,269.5 766.4,268.3 767.2,261.2 768,256.9 768.8,251.7 769.6,248.5 770.4,244.6 771.2,240.9 772,239.0 772.8,236.8 773.6,234.6 774.4,234.2 775.2,230.5 776,227.3 776.8,225.0 777.6,223.9 778.4,223.4 779.2,229.9 780,233.6 780.8,239.5 781.6,244.0 782.4,243.0 783.2,240.7 784,238.8 784.8,235.0 785.6,230.1 786.4,232.3 787.2,232.2 788,233.9 788.8,236.6 789.6,235.5 790.4,234.4 791.2,232.2 792,232.7 792.8,235.0 793.6,241.1 794.4,246.7 795.2,252.2 796,256.8 796.8,259.4 797.6,263.8 798.18,264.1 798.4,263.4 799.2,249.6 800,234.5 800.43,231.2 800.8,229.0 801.6,239.6 802.4,246.7 802.68,248.5 803.2,252.5 804,255.1 804.8,258.7 805.6,259.9 806.4,261.6 807.2,264.7 808,265.2 808.8,268.5 809.6,275.9 810.4,281.1 811.2,286.0 812,286.2 812.8,282.0 813.6,275.2 814.4,273.5 815.2,272.4 816,270.5 816.8,272.5 817.6,273.6 818.4,277.7 819.2,282.4 820,287.6 820.8,294.9 821.6,303.3 822.4,305.9 823.2,304.2 824,298.9 824.8,294.2 825.6,293.2 826.4,287.5 827.2,286.7 828,280.3 828.8,275.3 829.6,267.8 830.4,265.9 831.2,263.1 832,259.4 832.8,260.0 833.6,260.8 834.4,261.2 835.2,260.6 836,259.6 836.8,259.6 837.6,257.2 838.4,255.0 839.2,252.2 840,248.2 840.8,245.5 841.6,242.6 842.4,241.7 843.2,243.6 844,251.9 844.8,253.2 845.6,244.4 846.4,241.0 847.2,241.5 848,244.9 848.8,247.2 849.6,247.8 850.4,247.9 851.2,243.0 852,235.6 852.8,229.3 853.6,226.9 854.4,224.6 855.2,223.3 856,223.6 856.8,224.9 857.6,223.1 858.4,225.8 859.2,225.5 860,225.7 860.8,227.0 861.6,228.4 862.4,229.0 863.2,229.8 864,230.2 864.8,230.1 865.6,230.6 866.4,231.7 867.2,230.3 868,233.1 868.8,233.5 869.6,234.0 870.4,235.3 871.2,234.9 872,236.5 872.8,234.2 873.6,236.1 874.4,235.6 875.2,237.2 876,237.7 876.8,236.2 877.6,234.6 878.4,235.8 879.2,236.0 880,236.3 880.8,235.7 881.6,235.9 882.4,236.8 883.2,237.1 884,237.6 884.8,240.9 885.6,241.4 886.4,241.8 887.2,241.5 888,245.1 888.8,247.7 889.6,250.3 890.4,255.1 891.2,255.4 891.53,257.1 892,255.6 892.8,238.5 893.6,226.3 893.78,226.7 894.4,228.3 895.2,233.3 896,238.8 896.8,236.0 897.6,233.8 898.4,233.1 899.2,231.3 900,231.8 900.8,228.8 901.6,227.0 902.4,226.4 903.2,227.7 904,226.2 904.8,223.6 905.6,221.2 906.4,219.6 907.2,216.8 908,218.6 908.8,221.1 909.6,225.8 910.4,228.9 911.2,231.6 912,233.5 912.8,237.2 913.6,238.3 914.4,237.4 915.2,238.4 916,237.8 916.28,238.4 916.8,225.0 917.6,170.8 918.4,129.2 918.53,127.8 919.2,125.5 920,125.7 920.8,123.7"/>
<path stroke="#457816" d="M96.0,312.8L96.8,311.6 97.6,310.0 98.4,307.1 99.2,305.0 100,302.9 100.8,299.7 101.6,300.1 102.4,298.1 103.2,299.1 104,300.7 104.8,303.6 105.6,307.7 106.4,308.1 107.2,307.5 108,304.2 108.8,304.8 109.6,301.9 110.4,302.8 111.2,302.7 112,302.6 112.8,301.6 113.6,297.2 114.4,296.3 115.2,296.7 116,296.2 116.8,295.9 117.6,297.1 118.4,299.5 119.2,303.8 120,307.2 120.8,309.9 121.6,309.2 122.4,306.5 123.2,305.4 124,304.9 124.8,307.2 125.6,308.6 126.4,312.7 127.2,315.6 128,316.7 128.8,320.0 129.6,323.6 130.4,324.6 131.2,325.8 132,321.9 132.8,317.2 133.6,312.2 134.4,310.6 135.2,312.2 136,313.5 136.8,313.8 137.6,313.1 138.4,314.5 139.2,312.3 140,311.7 140.8,309.0 141.6,305.8 142.4,304.1 143.2,301.4 144,282.0 144.38,275.4 144.8,283.2 145.5,300.4 146.4,256.5 146.86,241.4 147.2,253.1 148,310.6 148.21,314.1 148.8,311.6 149.6,303.4 150.4,299.6 151.2,300.3 152,300.2 152.8,301.5 153.6,302.4 154.4,302.9 155.2,302.8 156,304.3 156.8,308.1 157.6,312.3 158.4,309.4 159.2,307.5 160,302.7 160.8,300.2 161.6,301.5 162.4,307.1 163.2,312.7 164,311.5 164.8,307.3 165.6,300.6 166.4,294.3 167.2,294.6 168,296.3 168.8,299.2 169.6,304.6 170.4,306.3 171.2,306.3 172,305.8 172.8,305.2 173.6,305.3 174.4,305.4 175.2,303.9 176,304.9 176.8,305.1 177.6,304.2 178.4,304.1 179.2,303.3 180,301.5 180.8,300.8 181.6,304.0 182.4,303.6 183.2,305.3 184,307.1 184.8,302.0 185.6,295.7 186.4,289.4 187.2,288.3 188,292.8 188.8,296.2 189.6,301.3 190.4,305.3 191.2,305.0 192,301.9 192.8,299.4 193.6,300.2 194.4,300.6 195.2,304.5 196,305.4 196.8,306.9 197.6,306.2 198.4,305.1 199.2,300.3 200,300.5 200.8,299.7 201.6,299.9 202.4,299.2 203.2,302.8 204,301.8 204.8,301.9 205.6,298.0 206.4,294.3 207.2,291.1 208,288.8 208.8,288.4 209.6,289.1 210.4,287.0 211.2,289.0 212,288.7 212.8,292.5 213.6,291.2 214.4,292.3 215.2,295.6 216,298.9 216.8,298.9 217.6,300.4 218.4,299.5 219.2,296.1 220,292.3 220.8,291.5 221.6,291.9 222.4,293.2 223.2,293.5 224,293.0 224.8,298.1 225.6,301.3 226.4,304.9 227.2,309.5 228,313.9 228.8,318.4 229.6,324.0 230.4,329.8 231.2,331.3 232,326.3 232.8,320.0 233.6,312.5 234.4,300.4 235.2,282.6 235.51,280.6 236,300.3 236.5,319.9 236.8,307.1 237.4,271.9 237.6,275.3 238.26,307.0 238.4,303.8 238.9,271.7 239.2,284.8 239.79,313.8 240,307.3 240.72,265.4 241.45,318.3 241.6,316.7 242.4,273.2 242.58,270.6 243.2,320.2 244,279.9 244.3,268.5 244.8,279.3 245.5,299.3 246.4,301.8 247.2,302.2 248,304.6 248.8,305.5 249.6,308.4 250.4,308.9 251.2,307.9 252,308.1 252.8,304.3 253.6,300.7 254.4,296.7 255.2,290.5 256,283.7 256.8,280.5 257.6,280.3 258.4,286.0 259.2,290.2 260,294.7 260.8,295.6 261.6,298.1 262.4,303.1 263.2,305.0 264,303.4 264.8,305.5 265.6,303.8 266.4,305.9 267.2,305.9 268,308.5 268.8,313.6 269.6,318.0 270.4,317.3 271.2,317.5 272,310.6 272.8,305.0 273.6,297.2 274.4,298.1 275.2,295.9 276,293.3 276.8,294.8 277.6,293.5 278.4,293.0 279.2,295.5 280,300.0 280.8,304.4 281.6,307.9 282.4,312.1 283.2,318.2 284,317.8 284.8,316.0 285.6,307.8 286.4,298.4 287.2,291.5 288,287.4 288.8,285.1 289.6,285.7 290.4,288.2 291.2,294.5 292,303.7 292.8,307.1 293.6,306.0 294.4,305.7 295.2,303.3 296,303.9 296.8,302.2 297.6,301.4 298.4,301.0 299.2,300.6 300,300.3 300.8,300.6 301.6,302.2 302.4,302.9 303.2,304.5 304,307.3 304.8,307.1 305.6,308.0 306.4,310.0 307.2,311.5 308,313.1 308.8,312.8 309.6,310.7 310.4,301.5 311.2,294.6 312,292.4 312.8,292.4 313.6,296.8 314.4,299.5 315.2,303.5 316,305.7 316.8,302.9 317.6,303.3 318.4,301.3 319.2,302.1 320,301.3 320.8,302.0 321.6,301.1 322.4,300.3 323.2,301.2 324,298.4 324.8,297.2 325.6,295.3 326.4,298.3 327.2,303.8 328,309.9 328.8,315.1 329.6,314.9 330.4,318.0 331.2,318.5 332,315.7 332.8,312.1 333.6,305.9 334.4,300.4 335.2,298.1 336,291.1 336.8,290.1 337.6,288.8 338.4,292.7 339.2,297.9 340,301.6 340.15,303.1 340.8,310.0 341.6,320.3 342.4,330.2 343.2,335.2 343.52,335.4 344,331.8 344.8,315.9 345.6,295.3 345.77,290.6 346.4,270.9 347.2,238.4 348,206.8 348.8,185.1 349.15,184.4 349.6,184.9 350.4,183.5 351.2,184.0 352,184.0 352.53,185.5 352.8,188.5 353.6,229.6 354.4,278.3 354.78,290.4 355.2,296.8 356,310.1 356.8,314.5 357.03,315.1 357.6,315.7 358.4,314.5 359.2,315.6 360,318.2 360.8,319.1 361.6,322.5 362.4,324.4 363.2,327.4 364,328.0 364.8,324.3 365.6,316.5 366.4,309.5 367.2,304.0 368,302.8 368.8,301.2 369.6,301.0 370.4,301.0 371.2,301.6 372,303.7 372.8,310.4 373.6,316.1 374.4,320.2 375.2,323.8 376,327.3 376.8,329.9 377.6,328.9 378.4,325.9 379.2,317.6 380,311.8 380.8,305.7 381.6,300.9 382.4,293.7 383.2,287.7 384,283.5 384.8,281.6 385.6,283.8 386.4,290.7 387.2,295.6 388,301.1 388.8,304.1 389.6,308.0 390.4,307.8 391.2,302.0 392,297.5 392.8,292.0 393.6,294.7 394.4,293.6 395.2,296.5 396,299.4 396.8,297.7 397.6,300.3 398.4,295.9 399.2,294.8 400,291.7 400.8,290.8 401.6,288.2 402.4,289.0 403.2,288.7 404,293.6 404.8,295.2 405.6,295.2 406.4,295.4 407.2,294.4 408,294.6 408.8,296.1 409.6,295.4 410.4,292.9 411.2,289.8 412,287.3 412.8,287.4 413.6,290.2 414.4,293.8 415.2,299.2 416,299.9 416.8,301.5 417.6,303.1 418.4,301.6 419.2,302.7 420,300.8 420.8,299.7 421.6,301.7 422.4,296.0 423.2,301.7 424,305.8 424.53,307.9 424.8,303.7 425.6,251.4 426.4,194.3 426.78,184.8 427.2,192.3 428,233.4 428.8,281.0 429.5,298.1 430.4,274.4 431.2,308.0 431.43,314.4 432,267.4 432.8,308.8 432.98,312.8 433.6,278.2 433.83,272.3 434.4,296.9 434.98,325.6 435.2,316.9 435.93,266.6 436.7,314.9 437.54,277.8 438.4,304.4 439.2,264.0 440,192.9 440.28,184.2 440.8,191.4 441.6,223.8 442.4,264.4 443.2,295.9 443.66,300.9 444,302.1 444.8,305.3 445.6,303.7 446.4,305.9 447.2,304.8 448,303.0 448.8,303.0 449.6,303.2 450.4,301.8 451.2,298.6 452,293.4 452.8,289.7 453.6,286.9 454.4,287.5 455.2,293.1 456,297.9 456.8,299.9 457.6,300.3 458.4,299.5 459.2,300.2 460,301.3 460.8,301.9 461.6,302.3 462.4,304.6 463.2,307.5 464,308.9 464.8,309.7 465.6,302.3 466.4,296.5 467.2,295.8 468,294.2 468.8,296.5 469.6,299.6 470.4,300.8 471.2,305.1 472,313.8 472.8,315.7 473.6,318.1 474.4,324.2 475.2,330.3 476,334.2 476.8,331.7 477.6,324.3 478.4,319.1 479.2,315.4 480,308.5 480.8,303.6 481.6,301.3 482.4,300.0 483.2,303.7 484,303.7 484.8,303.8 485.6,303.8 486.4,304.3 487.2,302.2 488,300.3 488.8,301.1 489.6,296.7 490.4,297.4 491.2,297.7 492,297.2 492.8,296.2 493.6,297.8 494.4,300.0 495.2,301.8 496,302.7 496.8,304.2 497.6,303.8 498.4,305.8 499.2,305.8 500,307.2 500.8,310.3 501.6,315.0 502.4,312.9 503.2,312.2 504,307.8 504.8,308.1 505.6,307.2 506.4,306.7 507.2,305.5 508,305.3 508.8,306.5 509.6,308.0 510.4,307.6 511.2,307.1 512,309.1 512.8,306.8 513.6,308.9 514.4,311.0 515.2,307.0 516,309.2 516.8,310.3 517.6,311.1 518.4,310.4 519.2,306.8 520,306.6 520.8,307.7 521.6,312.0 522.4,319.9 522.62,320.7 523.2,328.1 524,338.7 524.2,337.8 524.8,338.4 525.6,330.9 526.4,323.5 527.2,318.9 528,319.4 528.8,318.4 529.6,318.1 530.4,315.9 531.2,315.6 532,313.0 532.8,312.2 533.6,310.0 534.4,308.5 535.2,306.7 536,305.2 536.8,302.3 537.6,299.0 538.4,292.6 539.2,289.9 540,292.4 540.8,299.0 541.6,303.8 542.4,306.0 543.2,309.5 544,308.5 544.8,308.4 545.6,310.0 546.4,311.4 547.2,309.7 548,308.3 548.8,302.8 549.6,300.7 550.4,302.0 551.2,302.8 552,310.2 552.8,316.4 553.6,323.2 554.4,324.6 555.2,318.8 556,313.1 556.8,308.2 557.6,306.0 558.4,301.6 558.61,304.3 559.2,304.7 560,312.6 560.8,319.0 561.6,323.9 562.4,329.5 563.2,329.3 564,335.0 564.8,331.3 565.6,324.6 566.4,317.9 567.2,312.2 568,302.4 568.8,297.5 569.19,294.9 569.6,296.2 570.4,301.4 571.2,305.1 572,308.9 572.8,315.2 573.6,320.4 574.4,324.2 575.2,325.0 576,318.5 576.8,308.5 577.6,302.7 578.4,300.0 579.2,299.1 580,297.0 580.8,297.1 581.11,296.1 581.6,294.7 582.4,281.0 583.2,274.6 583.36,271.8 584,285.5 584.8,305.2 584.93,305.6 585.6,247.5 586.28,181.2 587.2,276.0 587.86,330.9 588,327.5 588.8,236.3 589.43,185.6 589.6,187.4 590.4,244.0 591.2,296.7 592,307.1 592.8,311.6 593.48,313.1 593.6,314.7 594.4,320.0 595.2,328.8 596,327.5 596.8,324.2 597.6,319.5 597.98,317.9 598.4,314.5 599.2,302.5 600,293.7 600.8,286.2 601.35,286.5 601.6,284.4 602.4,287.1 603.2,292.7 604,299.8 604.8,303.7 605.6,305.0 606.4,306.6 607.2,308.2 608,310.6 608.8,309.7 609.6,307.8 610.4,300.2 611.2,295.5 612,296.5 612.8,300.7 613.6,304.1 614.4,310.0 614.85,311.3 615.2,310.2 616,299.1 616.8,284.5 617.6,272.2 618.22,268.6 618.4,268.7 619.2,275.5 620,287.8 620.47,291.9 620.8,291.7 621.6,291.3 622.4,294.9 623.2,295.3 624,295.0 624.8,296.9 625.6,302.0 626.4,305.2 627.2,305.9 628,304.1 628.8,300.3 629.6,296.3 630.4,292.4 631.2,291.9 632,295.5 632.8,299.9 633.6,302.7 634.4,302.3 635.2,303.0 636,300.9 636.8,301.5 637.6,301.6 638.4,301.5 639.2,303.1 640,307.3 640.72,308.8 641.6,322.7 642.4,332.5 642.97,335.6 643.2,336.0 644,331.7 644.8,325.3 645.6,317.1 646.4,308.9 647.2,300.6 648,292.9 648.59,290.2 648.8,291.0 649.6,291.4 650.4,294.5 651.2,294.3 652,296.1 652.8,298.7 653.6,297.5 654.4,298.7 655.2,300.2 655.34,298.1 656,304.3 656.8,315.0 657.6,324.9 658.4,331.7 658.71,330.2 659.2,329.3 660,324.5 660.8,318.1 661.6,308.9 662.09,305.0 662.4,302.4 663.2,292.3 664,295.5 664.8,301.3 665.6,305.6 666.4,312.6 667.2,320.9 668,325.7 668.8,328.6 669.6,324.1 670.4,315.1 671.2,307.8 672,300.3 672.21,301.1 672.8,301.2 673.6,303.0 674.4,306.1 675.2,309.3 676,313.8 676.8,319.9 677.6,327.4 678.4,331.6 679.2,332.2 680,329.6 680.8,326.8 681.6,319.1 682.4,315.3 683.2,310.7 684,304.6 684.8,298.2 685.6,295.8 686.4,305.7 687.2,325.9 687.96,335.3 688.8,331.4 689.6,324.7 690.4,317.3 691.2,311.1 692,305.5 692.8,300.6 693.6,297.6 694.4,296.9 695.2,295.4 696,294.6 696.8,296.6 697.6,299.1 698.4,299.7 699.2,303.6 700,306.6 700.8,309.6 701.6,310.1 702.4,310.2 703.2,306.9 704,302.0 704.8,296.1 705.6,284.8 706.4,273.5 707.08,267.2 707.2,268.9 708,276.0 708.8,287.7 709.33,291.5 709.6,292.7 710.4,289.7 711.2,287.5 712,285.3 712.8,286.3 713.6,285.7 714.4,287.7 715.2,289.1 716,287.9 716.8,291.1 717.6,291.5 718.4,296.5 719.2,298.2 720,301.6 720.8,303.7 721.6,310.4 722.4,313.5 723.2,317.8 724,323.9 724.8,329.1 725.6,336.1 726.4,337.4 727.2,332.0 728,326.3 728.8,320.0 729.6,309.3 730.4,305.3 730.7,304.4 731.2,305.2 732,314.3 732.8,324.0 732.95,323.1 733.6,326.4 734.4,328.9 735.2,333.9 736,335.6 736.8,337.8 737.6,342.2 738.4,344.8 739.2,341.7 740,335.9 740.8,327.4 741.6,323.4 742.4,319.4 743.2,316.5 744,313.2 744.8,311.3 745.6,309.0 746.4,305.8 747.2,320.1 748,346.3 748.8,368.5 749.14,371.2 749.6,363.7 750.4,336.0 750.94,322.1 751.2,318.9 752,307.3 752.8,300.2 753.6,296.8 754.4,299.7 755.2,306.3 756,310.5 756.8,313.5 757.6,313.1 758.4,316.8 759.2,317.7 760,323.4 760.8,325.1 761.6,329.5 762.4,333.5 763.2,336.8 764,335.5 764.8,337.7 765.6,335.6 766.4,332.2 767.2,326.6 768,321.6 768.8,320.6 769.6,317.9 770.4,316.1 771.2,316.1 772,312.4 772.8,309.8 773.6,306.6 774.4,307.8 775.2,307.9 776,311.5 776.8,317.7 777.6,328.7 778.4,344.6 779.06,348.6 779.2,348.3 780,340.6 780.64,327.2 780.8,322.0 781.6,282.3 782.4,254.0 783.2,264.1 784,282.1 784.68,288.9 785.6,288.8 786.4,289.8 787.2,290.6 788,291.7 788.8,290.6 789.6,291.7 790.4,294.9 791.2,296.7 792,301.9 792.56,306.6 792.8,310.3 793.6,336.1 794.4,366.9 795.2,388.2 795.48,390.9 796,377.8 796.8,332.3 797.6,289.5 797.73,285.9 798.4,271.2 799.2,258.5 800,271.8 800.8,301.2 801.56,317.6 802.4,325.0 803.2,331.3 804,332.6 804.8,325.3 805.6,319.6 806.4,318.7 807.2,322.3 808,331.9 808.8,339.0 809.6,344.2 810.4,349.1 811.2,351.0 811.68,351.0 812,350.5 812.8,342.4 813.6,333.3 814.38,330.1 815.2,331.7 816,336.5 816.63,340.6 816.8,342.4 817.6,349.5 818.4,359.0 819.2,364.7 819.55,365.8 820,365.2 820.8,365.0 821.6,361.8 822.4,359.8 823.2,356.0 824,352.9 824.8,348.0 825.17,347.6 825.6,342.1 826.4,327.0 827.2,311.5 827.42,309.1 828,303.5 828.8,298.5 829.6,292.2 830.4,299.2 831.2,310.5 831.92,319.2 832.8,327.1 833.6,334.8 834.4,340.8 835.2,343.9 836,342.1 836.8,341.7 837.6,342.9 838.4,342.3 838.67,340.3 839.2,335.2 840,321.0 840.47,316.0 840.8,317.2 841.6,324.8 842.4,336.5 843.17,344.8 844,307.4 844.8,267.4 844.97,264.6 845.6,277.2 846.4,309.1 846.54,313.0 847.2,328.4 848,341.7 848.8,317.7 849.6,272.3 849.92,264.8 850.4,272.3 851.2,299.4 851.72,317.3 852,327.2 852.8,356.7 853.29,364.5 853.6,362.4 854.4,342.7 855.2,316.7 855.54,307.5 856,298.7 856.8,282.1 857.6,270.9 857.79,268.9 858.4,273.0 859.2,282.6 860,292.2 860.8,294.9 861.6,297.8 862.4,301.1 863.2,299.7 864,301.0 864.8,304.0 865.6,306.7 866.4,308.6 867.2,307.0 868,302.6 868.8,298.2 869.6,296.1 870.4,295.4 871.2,294.7 872,295.2 872.8,297.1 873.6,297.3 874.4,296.0 875.2,296.4 876,294.3 876.8,292.0 877.6,294.7 878.4,294.3 879.2,293.6 880,293.7 880.8,297.3 881.6,296.8 882.4,298.5 883.2,301.6 884,305.6 884.8,311.7 885.6,319.8 886.4,326.4 887.2,329.1 888,326.2 888.8,322.3 889.28,318.6 889.6,312.9 890.4,285.2 891.2,261.3 891.53,257.7 892,261.2 892.8,274.0 893.6,290.0 893.78,292.0 894.4,301.6 895.2,310.7 896,315.3 896.8,312.4 897.6,307.1 898.4,297.2 899.2,291.2 900,290.3 900.8,289.0 901.6,289.9 902.4,289.6 903.2,289.2 904,290.4 904.8,293.0 905.6,296.1 906.4,295.9 907.2,295.6 908,291.3 908.8,290.1 909.6,289.3 910.4,289.4 911.2,289.0 912,287.9 912.8,285.7 913.6,286.5 914.4,284.6 915.2,282.2 916,282.2 916.28,282.1 916.8,288.4 917.6,309.8 918.4,329.8 918.53,331.6 919.2,339.3 920,348.3 920.8,353.2 921,356.1"/>
<path stroke="#00d050" d="M96.0,376.8L96.8,378.3 97.6,375.5 98.4,373.0 99.2,373.8 100,372.0 100.8,370.0 101.6,372.6 102.4,372.9 103.2,372.2 104,374.1 104.8,375.5 105.6,377.5 106.4,378.3 107.2,379.9 108,379.7 108.8,382.1 109.6,384.3 110.4,382.9 111.2,379.3 112,378.5 112.8,377.9 113.6,374.5 114.4,377.8 115.2,376.1 116,377.0 116.8,377.2 117.6,381.3 118.4,386.9 119.2,390.9 120,390.3 120.8,389.0 121.6,386.9 122.4,382.9 123.2,381.7 124,377.3 124.8,375.0 125.6,373.2 126.4,373.4 127.2,375.0 128,379.5 128.8,384.6 129.6,389.4 130.4,394.9 131.2,395.1 132,392.0 132.8,390.6 133.6,388.2 134.4,383.5 135.2,379.2 136,375.0 136.8,370.3 137.6,369.1 138.4,367.4 139.2,367.5 140,366.7 140.8,367.5 141.6,364.9 142.4,366.9 143.2,368.2 144,371.4 144.38,372.1 144.8,365.6 145.5,349.0 146.4,366.4 146.86,371.7 147.2,368.1 148,335.0 148.21,324.3 148.8,253.9 149.56,177.1 150.4,337.1 150.91,410.9 151.2,411.7 152,400.3 152.26,394.2 152.8,376.3 153.6,353.6 154.4,362.2 155.2,366.7 156,365.8 156.8,365.1 157.6,366.2 158.4,365.8 159.2,365.0 160,361.5 160.8,364.5 161.6,363.9 162.4,363.0 163.2,362.1 164,362.5 164.8,364.3 165.6,365.7 166.4,367.0 166.88,365.6 167.2,365.5 168,356.4 168.8,346.2 169.13,344.0 169.6,346.1 170.4,355.3 171.2,364.1 172,375.2 172.51,375.4 172.8,375.2 173.6,372.5 174.4,370.3 175.2,367.0 176,367.5 176.8,367.0 177.6,367.3 178.4,370.0 179.2,367.8 180,365.0 180.8,367.4 181.6,369.9 182.4,372.3 183.2,372.7 184,368.1 184.8,366.9 185.6,363.1 186.4,360.5 187.2,358.0 188,355.6 188.8,354.9 189.6,355.6 190.4,358.8 191.2,360.8 192,366.6 192.8,366.2 193.6,366.1 194.4,361.9 195.2,358.4 196,358.1 196.8,357.8 197.6,357.4 198.4,361.4 199.2,360.7 200,363.0 200.8,362.9 201.6,361.2 202.4,359.8 203.2,359.6 204,360.3 204.8,361.0 205.6,363.7 206.4,362.9 207.2,360.4 208,360.6 208.8,361.3 209.6,361.0 210.4,360.7 211.2,361.2 212,361.8 212.8,363.2 213.6,363.2 214.4,365.0 215.2,369.7 216,373.7 216.8,374.3 217.6,376.3 218.4,376.5 219.2,375.8 220,378.3 220.8,378.0 221.6,377.6 222.4,376.8 223.2,373.5 224,369.9 224.8,366.8 225.6,361.7 226.4,359.0 227.2,360.4 228,361.1 228.8,362.9 229.6,366.5 229.89,368.0 230.4,371.0 231.2,384.0 232,394.9 232.14,396.8 232.8,397.1 233.6,394.6 234.4,390.0 235.06,382.8 235.2,375.1 236,167.2 236.8,-18.5 237.6,282.5 238.21,513.1 238.4,507.9 239.2,420.1 239.79,376.9 240,377.2 240.8,372.4 241.6,372.7 242.26,371.5 242.4,360.1 243.2,67.8 243.61,-20.0 244,85.4 244.8,491.1 244.96,513.1 245.6,474.7 246.4,392.0 246.77,376.3 247.2,373.0 248,371.4 248.8,368.7 249.6,365.9 250.4,365.0 251.2,364.0 252,363.7 252.8,363.5 253.6,360.5 254.4,359.8 255.2,358.4 256,356.4 256.8,359.0 257.6,357.4 258.4,358.9 259.2,360.5 260,361.6 260.8,364.0 261.6,363.1 262.4,361.3 263.2,361.3 264,362.5 264.8,364.0 265.6,366.4 266.4,368.4 267.2,367.7 268,368.7 268.8,371.5 269.6,374.6 270.4,375.3 271.2,376.4 272,375.5 272.8,378.0 273.6,379.7 274.4,377.9 275.2,375.6 276,371.9 276.8,364.5 277.6,366.2 278.4,367.2 279.2,368.5 280,367.1 280.8,369.2 281.6,374.7 282.4,379.3 283.2,383.0 284,384.6 284.8,384.0 285.6,381.1 286.4,377.8 287.2,375.4 288,372.0 288.8,371.0 289.6,369.5 290.4,368.4 291.2,365.6 292,359.2 292.8,356.8 293.6,358.4 294.4,360.6 295.2,364.8 296,366.8 296.8,367.9 297.6,371.0 298.4,372.7 299.2,374.2 300,372.3 300.8,370.2 301.6,368.8 302.4,368.7 303.2,366.5 304,371.4 304.8,373.2 305.6,377.0 306.4,379.5 307.2,383.8 308,383.6 308.8,386.2 309.6,381.6 310.4,374.8 311.2,367.5 312,362.5 312.8,362.2 313.6,362.3 314.4,364.7 315.2,366.6 316,368.6 316.8,371.6 317.6,375.3 318.4,375.3 319.2,377.9 320,374.5 320.8,368.1 321.6,362.1 322.4,361.9 323.2,360.2 324,361.9 324.8,364.7 325.6,367.3 326.4,370.7 327.2,375.6 328,379.2 328.8,385.2 329.6,387.2 330.4,387.4 331.2,389.5 332,385.4 332.8,377.7 333.6,372.6 334.4,366.6 335.2,365.7 336,367.2 336.8,368.8 337.6,366.5 338.4,368.6 339.2,370.6 340,376.2 340.8,379.8 341.6,383.4 342.4,384.2 343.2,389.1 344,389.2 344.8,387.2 345.6,382.8 346.23,376.0 346.4,367.5 347.2,213.8 348,24.6 348.48,-20.8 348.8,13.5 349.6,263.2 350.4,462.6 351.2,450.7 352,414.2 352.8,383.4 352.98,380.5 353.6,374.3 354.4,369.2 354.78,364.7 355.2,359.2 356,346.9 356.8,337.0 357.03,337.6 357.6,346.0 358.4,370.3 358.83,375.0 359.2,378.1 360,371.8 360.8,368.9 361.6,366.1 362.4,368.5 363.2,375.7 364,385.1 364.8,390.9 365.6,391.2 366.4,386.4 367.2,381.1 368,374.6 368.8,373.3 369.6,372.5 370.4,369.8 371.2,367.9 372,366.9 372.8,367.4 373.6,366.4 374.4,367.3 375.2,366.1 376,370.5 376.8,375.7 377.6,379.9 378.4,381.0 379.2,381.9 380,382.0 380.8,377.5 381.6,375.6 382.4,371.0 383.2,368.9 384,367.7 384.8,367.4 385.6,366.8 386.4,364.7 387.2,365.8 388,360.4 388.8,361.0 389.6,362.9 390.4,363.3 391.2,364.4 392,362.0 392.8,359.9 393.6,357.7 394.4,356.2 395.2,356.2 396,355.2 396.8,355.0 397.6,355.3 398.4,353.6 399.2,353.0 400,353.4 400.8,351.1 401.6,352.3 402.4,353.3 403.2,359.0 404,362.0 404.8,365.4 405.6,367.3 406.4,364.0 407.2,366.5 408,364.2 408.8,362.9 409.6,363.6 410.4,366.7 411.2,369.7 412,371.2 412.8,373.5 413.6,373.0 414.4,373.4 415.2,373.9 416,374.1 416.8,373.9 417.6,374.2 418.4,373.9 419.2,374.0 420,379.1 420.8,382.8 421.6,380.6 422.4,375.5 423.2,370.6 423.41,367.0 424,296.4 424.8,103.2 425.6,-20.3 426.4,124.3 427.2,413.9 427.91,546.1 428.8,350.4 429.6,67.4 430.16,-19.7 430.4,-1.8 431.2,232.0 432,497.7 432.41,548.3 432.8,501.5 433.6,238.5 434.4,0.8 434.66,-21.1 435.2,62.6 436,344.2 436.8,543.2 437.6,498.4 438.4,388.2 439.16,331.1 440,344.6 440.8,364.8 441.41,375.5 441.6,372.9 442.4,370.5 443.2,365.6 444,356.6 444.8,352.5 445.6,354.5 446.4,356.6 447.2,357.2 448,362.7 448.8,363.1 449.6,364.2 450.4,365.0 451.2,363.9 452,361.8 452.8,356.7 453.6,353.5 454.4,353.5 455.2,354.0 456,356.8 456.8,358.7 457.6,363.1 458.4,366.3 459.2,367.7 460,371.4 460.8,372.3 461.6,374.4 462.4,375.1 463.2,374.8 464,375.5 464.8,380.5 465.6,383.6 466.4,384.4 467.2,382.6 468,375.6 468.8,368.8 469.6,365.8 470.4,367.2 471.2,368.8 472,369.1 472.8,369.8 473.6,372.6 474.4,379.6 475.2,385.6 476,389.1 476.8,386.6 477.6,384.4 478.4,377.0 479.2,370.3 480,368.4 480.8,365.2 481.6,364.8 482.4,362.9 483.2,359.7 484,359.3 484.8,358.2 485.6,357.7 486.4,356.8 487.2,358.3 488,362.7 488.8,363.5 489.6,366.9 490.4,366.0 491.2,363.7 492,360.5 492.8,356.4 493.6,356.0 494.4,355.9 495.2,356.7 496,354.5 496.8,357.2 497.6,358.7 498.4,362.3 499.2,365.9 500,367.7 500.8,368.5 501.6,371.1 502.4,371.0 503.2,371.4 504,371.4 504.8,370.6 505.6,369.9 506.4,367.4 507.2,362.8 508,358.6 508.15,355.7 508.8,356.6 509.6,357.1 510.4,358.3 511.2,358.0 512,361.0 512.8,362.8 513.6,365.8 514.4,370.5 515.2,373.9 516,379.3 516.8,382.6 517.6,381.2 518.4,376.3 519.2,369.1 520,363.7 520.8,362.8 521.6,367.1 522.4,370.6 523.2,374.8 524,376.5 524.8,379.4 525.6,381.8 526.4,381.3 527.2,376.2 528,371.7 528.8,365.2 529.6,364.9 530.4,363.7 531.2,367.0 532,368.5 532.8,370.7 533.6,368.7 534.4,366.8 535.2,364.8 536,362.4 536.8,364.4 537.6,362.8 538.4,364.5 539.2,362.6 540,363.6 540.8,367.6 541.6,371.7 542.4,372.4 543.2,378.5 544,383.2 544.8,387.5 545.6,390.1 546.4,391.9 547.2,391.3 548,384.4 548.8,381.8 549.6,377.7 550.4,372.1 551.2,370.0 552,369.3 552.8,365.9 553.6,365.2 554.4,362.0 555.2,360.4 556,361.2 556.8,364.2 557.6,367.7 558.4,370.5 559.2,374.7 560,378.6 560.8,382.2 561.6,383.9 562.4,385.4 563.2,383.2 564,379.7 564.8,376.7 565.6,373.2 566.4,374.8 567.2,372.8 568,373.5 568.8,371.1 569.6,367.3 570.4,362.9 571.2,356.2 572,353.7 572.8,356.7 573.6,360.2 574.4,364.3 575.2,369.0 576,371.5 576.8,373.8 577.6,375.4 578.4,374.6 579.2,374.4 580,371.0 580.8,369.0 581.6,367.7 582.4,366.2 583.2,364.6 583.36,362.9 584,280.8 584.8,146.3 584.93,142.4 585.6,296.1 586.28,454.7 587.2,259.6 587.86,142.3 588,149.4 588.8,344.4 589.43,453.4 589.6,451.3 590.4,385.7 591.2,331.1 592,344.3 592.8,365.2 593.48,373.3 593.6,372.5 594.4,373.8 595.2,372.2 596,369.5 596.8,368.4 597.6,365.5 598.4,358.6 599.2,353.6 600,351.0 600.8,351.6 601.6,358.4 602.4,361.7 603.2,365.1 604,368.0 604.8,367.2 605.6,367.3 606.4,367.5 607.2,368.9 608,366.8 608.8,364.5 609.6,360.4 610.4,359.3 611.2,359.7 612,357.6 612.8,357.3 613.6,358.7 614.4,359.0 615.2,362.3 616,363.2 616.8,366.8 617.6,365.7 618.4,363.3 619.2,355.9 620,352.0 620.8,351.7 621.6,352.7 622.4,354.9 623.2,356.3 624,355.5 624.8,357.8 625.6,359.3 626.4,362.5 627.2,362.7 628,361.1 628.8,361.6 629.6,360.0 630.4,357.2 631.2,357.7 632,352.8 632.8,351.1 633.6,347.0 634.4,344.2 635.2,347.4 636,348.1 636.8,350.0 637.6,354.0 638.4,358.6 639.2,362.4 640,365.7 640.8,369.3 641.6,370.9 642.4,371.4 643.2,375.3 644,374.9 644.8,375.8 645.6,372.2 646.4,366.7 647.2,364.4 648,362.3 648.8,364.5 649.6,364.1 650.4,366.0 651.2,367.2 652,367.9 652.8,368.4 653.6,368.8 654.4,367.7 655.2,363.8 656,361.2 656.8,358.3 657.6,357.0 658.4,353.7 659.2,353.3 660,354.4 660.8,352.8 661.6,352.6 662.4,355.4 663.2,357.0 664,359.2 664.8,361.3 665.6,362.8 666.4,365.7 667.2,368.8 668,372.6 668.8,379.2 669.6,381.7 670.4,382.2 671.2,381.2 672,378.0 672.8,372.1 673.6,370.9 674.4,366.3 675.2,363.6 676,365.0 676.8,367.9 677.6,370.3 678.4,371.2 679.2,375.7 680,380.4 680.8,385.8 681.6,392.1 682.4,392.7 683.2,390.9 684,386.0 684.8,381.1 685.6,374.6 686.4,368.4 687.2,364.5 688,361.2 688.8,361.6 689.6,364.7 690.4,369.7 691.2,371.5 692,372.7 692.8,369.4 693.6,368.2 694.4,367.6 695.2,366.9 696,362.6 696.8,361.3 697.6,361.2 698.4,361.3 699.2,359.4 700,358.9 700.8,360.7 701.6,360.9 702.4,361.5 703.2,359.5 704,355.9 704.8,352.5 705.6,351.5 706.4,348.9 707.2,349.0 708,352.6 708.8,358.2 709.6,360.4 710.4,362.4 711.2,361.8 712,365.9 712.8,365.6 713.6,366.7 714.4,366.6 715.2,366.3 716,365.6 716.8,365.8 717.6,367.0 718.4,366.6 719.2,364.2 720,363.9 720.8,363.8 721.6,362.5 722.4,363.4 723.2,365.0 724,373.2 724.8,379.4 725.6,378.4 726.4,374.7 727.2,371.7 728,370.8 728.8,369.1 729.6,367.5 730.4,367.7 731.2,367.0 732,365.1 732.8,363.2 733.6,364.0 734.07,364.5 734.4,365.0 735.2,368.8 736,378.1 736.32,380.8 736.8,386.0 737.6,397.9 738.4,405.5 738.57,406.2 739.2,406.6 740,402.9 740.8,397.8 741.6,390.8 742.4,387.0 743.2,382.7 744,375.4 744.8,373.2 745.6,372.8 746.4,378.1 747.2,385.1 748,387.8 748.8,392.6 749.6,395.2 750.4,395.6 751.2,396.0 752,393.3 752.8,388.5 753.6,382.6 754.4,381.6 755.2,380.4 756,378.7 756.8,379.9 757.6,377.3 758.4,375.8 759.2,373.5 760,372.7 760.8,371.2 761.06,373.4 761.6,374.0 762.4,386.2 763.2,401.7 764,412.0 764.44,414.4 764.8,412.4 765.6,407.9 766.4,402.2 767.2,394.9 768,394.0 768.8,391.1 769.6,388.0 770.4,384.8 771.2,380.6 772,378.5 772.8,374.6 773.6,372.7 774.4,370.9 774.56,371.2 775.2,378.0 776,393.1 776.8,400.8 777.6,389.1 778.4,364.8 779.06,349.5 779.2,348.8 780,339.3 780.8,330.3 781.6,323.7 781.98,322.5 782.4,328.7 783.2,338.7 784,352.5 784.68,357.4 785.6,356.1 786.4,356.5 787.2,355.8 788,356.3 788.8,359.5 789.6,360.3 790.4,365.6 791.2,363.2 792,366.6 792.8,371.4 793.6,373.9 794.4,374.5 795.2,376.0 796,374.1 796.8,367.7 797.6,362.2 798.4,361.7 799.2,361.2 800,367.1 800.8,371.5 801.6,374.0 802.4,374.2 803.2,377.4 804,379.4 804.8,381.7 805.6,383.1 806.4,386.5 807.2,387.9 808,392.4 808.8,393.6 809.6,395.4 810.4,398.0 811.2,399.8 812,399.8 812.8,400.1 813.6,399.3 814.4,400.0 815.2,399.5 816,400.7 816.8,402.7 817.6,405.0 818.4,405.5 819.2,404.5 820,393.1 820.8,385.6 821.6,381.1 821.8,378.4 822.4,381.6 823.2,393.5 824,406.4 824.8,412.5 825.17,411.4 825.6,406.5 826.4,385.8 827.2,366.9 827.42,366.8 828,369.6 828.8,372.9 829.6,378.8 830.4,383.4 831.2,383.8 832,385.2 832.8,387.4 833.6,388.9 834.4,392.4 835.2,396.8 836,400.4 836.8,401.4 837.6,400.7 838.4,392.6 839.2,383.1 839.8,375.6 840,375.2 840.8,360.6 841.6,343.5 842.4,329.5 843.17,323.0 844,328.5 844.8,344.6 845.42,351.9 845.6,354.9 846.4,357.2 847.2,362.0 848,365.0 848.8,366.0 849.6,361.5 850.4,354.1 851.2,344.2 852,340.5 852.17,340.4 852.8,343.6 853.6,352.9 854.4,363.9 855.2,371.5 855.54,373.4 856,372.2 856.8,366.8 857.6,361.3 858.4,355.5 859.2,354.8 860,354.9 860.8,357.2 861.6,357.5 862.4,358.2 863.2,359.1 864,360.3 864.8,360.9 865.6,362.6 866.4,362.7 867.2,365.3 868,365.0 868.8,363.1 869.6,365.8 870.4,360.4 871.2,354.6 872,350.7 872.8,347.1 873.6,351.8 874.4,359.2 875.2,363.8 876,368.7 876.8,370.4 877.6,371.0 878.4,372.7 879.2,370.1 880,370.1 880.8,368.1 881.6,365.9 882.4,363.7 883.2,365.2 884,366.9 884.8,370.2 885.6,374.2 886.4,379.6 887.2,383.9 888,385.5 888.8,384.3 889.6,378.4 890.4,369.3 891.2,361.2 892,351.2 892.8,341.0 893.6,336.7 893.78,335.8 894.4,340.4 895.2,353.3 896,361.3 896.8,364.6 897.6,365.6 898.4,365.8 899.2,366.7 900,364.1 900.8,362.1 901.6,359.1 902.4,356.3 903.2,356.1 904,354.3 904.8,355.0 905.6,354.0 906.4,353.1 907.2,352.6 908,352.9 908.8,355.2 909.6,355.1 910.4,358.8 911.2,359.1 912,362.2 912.8,362.7 913.6,367.0 914.4,371.6 915.2,374.7 916,380.1 916.28,379.8 916.8,379.3 917.6,375.6 918.4,368.2 919.2,357.0 919.65,350.8"/>
<path stroke="#00e0e0" d="M96.0,434.1L96.8,435.4 97.6,435.9 98.4,438.6 99.2,440.1 100,438.1 100.8,442.9 101.6,441.5 102.4,443.3 103.2,446.1 104,442.9 104.8,439.6 105.6,435.9 106.4,436.5 107.2,437.6 108,437.7 108.8,439.9 109.6,438.2 110.4,439.1 111.2,435.7 112,433.7 112.8,435.4 113.6,435.1 114.4,435.7 115.2,433.0 116,433.8 116.8,435.5 117.6,437.2 118.4,442.0 119.2,446.0 120,451.6 120.8,456.3 121.6,455.6 122.4,454.1 123.2,448.6 124,440.0 124.8,436.3 125.6,435.3 126.4,434.3 127.2,436.2 128,438.9 128.8,440.1 129.6,442.6 130.4,448.0 131.2,448.0 132,449.0 132.8,444.2 133.6,441.9 134.4,438.6 135.2,436.0 136,435.7 136.8,433.2 137.6,431.8 138.4,435.0 139.2,436.1 140,434.9 140.8,436.5 141.6,435.2 142.4,432.0 143.2,429.9 144,425.9 144.8,419.0 145.05,413.5 145.6,400.6 146.4,376.7 146.63,371.3 147.2,380.4 148,403.9 148.21,410.2 148.8,428.3 149.6,453.0 150.01,456.9 150.4,454.6 151.2,446.9 152,437.5 152.26,437.0 152.8,435.7 153.6,435.7 154.4,434.6 155.2,430.7 156,428.6 156.8,427.0 157.6,428.7 158.4,432.5 159.2,434.5 160,433.3 160.8,433.0 161.6,432.5 162.4,432.9 163.2,434.0 164,434.6 164.8,435.8 165.6,436.9 166.4,434.5 167.2,431.2 168,430.4 168.8,432.8 169.6,436.1 170.4,441.4 171.2,439.3 172,430.1 172.8,425.7 173.6,424.1 174.4,427.4 175.2,429.6 176,434.6 176.8,432.0 177.6,428.5 178.4,426.9 179.2,428.0 180,433.1 180.8,432.3 181.6,430.2 182.4,425.2 183.2,420.7 184,421.2 184.8,419.7 185.6,414.8 186.4,416.4 187.2,416.1 188,419.5 188.8,420.8 189.6,424.5 190.4,425.2 191.2,429.2 192,431.8 192.8,436.1 193.6,434.5 194.4,432.5 195.2,430.0 196,428.7 196.8,427.0 197.6,424.4 198.4,424.7 199.2,423.8 200,423.9 200.8,425.5 201.6,422.6 202.4,424.4 203.2,425.7 204,426.9 204.8,430.0 205.6,431.3 206.4,434.5 207.2,435.9 208,439.4 208.8,438.7 209.6,437.9 210.4,434.6 211.2,429.5 212,425.0 212.8,427.3 213.6,427.0 214.4,427.5 215.2,429.3 216,429.9 216.8,431.4 217.6,432.8 218.4,435.8 219.2,435.4 220,438.0 220.8,439.9 221.6,442.9 222.4,439.9 223.2,441.6 224,441.1 224.8,440.4 225.6,439.8 226.4,440.0 227.2,437.6 228,435.9 228.8,436.1 229.6,440.3 230.4,447.4 230.56,449.1 231.2,456.7 232,465.4 232.59,464.7 232.8,463.6 233.6,462.6 234.4,453.5 235.06,444.6 235.2,442.3 236,395.8 236.41,384.5 236.8,391.0 237.6,430.6 238.21,450.3 238.4,451.3 239.2,446.5 240,444.0 240.8,440.3 241.6,437.5 242.4,437.3 243.2,435.1 244,438.3 244.8,439.6 245.6,439.0 246.4,439.2 247.2,436.7 248,432.6 248.8,433.7 249.6,432.6 250.4,431.2 251.2,428.3 252,429.0 252.8,428.9 253.6,427.3 254.4,425.8 255.2,424.5 256,425.3 256.8,424.6 257.6,427.3 258.4,429.6 259.2,430.5 260,428.9 260.8,427.3 261.6,426.1 262.4,422.8 263.2,424.5 264,424.9 264.8,427.3 265.6,429.6 266.4,432.1 267.2,433.2 268,435.4 268.8,436.3 269.6,437.3 270.4,437.9 271.2,440.1 272,441.4 272.8,443.0 273.6,441.7 274.4,441.9 275.2,443.6 276,442.6 276.8,445.1 277.6,442.9 278.4,446.6 279.2,448.3 280,446.8 280.8,445.9 281.6,447.1 282.4,449.9 283.2,450.6 284,448.7 284.8,444.4 285.6,441.0 286.4,436.1 287.2,428.9 288,423.2 288.8,420.9 289.6,419.0 290.4,422.5 291.2,427.4 292,430.2 292.8,433.6 293.6,437.9 294.4,437.5 295.2,436.7 296,435.7 296.8,433.1 297.6,433.1 298.4,434.1 299.2,435.9 300,434.9 300.8,434.7 301.6,435.4 302.4,438.2 303.2,437.4 304,437.2 304.8,440.6 305.6,444.6 306.4,446.7 307.2,448.8 308,447.4 308.8,440.2 309.6,432.3 310.4,426.4 311.2,425.2 312,427.4 312.8,429.4 313.6,431.9 314.4,433.5 315.2,433.9 316,432.4 316.8,431.8 317.6,431.9 318.4,429.1 319.2,429.1 320,428.2 320.8,429.0 321.6,429.8 322.4,431.0 323.2,434.1 324,434.7 324.8,437.1 325.6,437.9 326.4,439.7 327.2,439.8 328,442.2 328.8,445.5 329.6,448.9 330.4,450.3 331.2,456.6 332,459.9 332.8,459.9 333.6,456.2 334.4,451.2 335.2,446.4 336,445.7 336.8,445.5 337.6,441.4 338.4,442.6 339.2,438.9 340,438.9 340.8,438.1 341.6,439.4 342.4,437.6 343.2,436.1 344,431.1 344.8,430.3 345.6,428.8 346.4,425.6 347.2,421.0 347.58,419.4 348,411.1 348.8,384.9 349.15,381.2 349.6,378.6 350.4,378.5 351.2,377.6 352,378.1 352.53,377.8 352.8,380.0 353.6,401.6 354.4,427.3 354.78,435.8 355.2,442.1 356,454.5 356.8,463.6 357.03,464.0 357.6,460.7 358.4,447.0 359.2,436.4 360,434.9 360.8,434.4 361.6,432.6 362.4,433.3 363.2,433.1 364,438.7 364.8,440.5 365.6,444.5 366.4,448.5 367.2,455.6 368,460.0 368.8,458.7 369.6,458.4 370.4,454.0 371.2,451.9 372,449.1 372.8,446.4 373.6,445.7 374.4,445.3 375.2,449.0 376,451.0 376.8,452.9 377.6,448.9 378.4,444.8 379.2,439.8 380,436.5 380.8,434.7 381.6,434.9 382.4,434.0 383.2,430.2 384,429.0 384.8,426.8 385.6,426.0 386.4,423.1 387.2,421.3 388,420.7 388.8,422.2 389.6,422.6 390.4,430.4 391.2,434.6 392,435.1 392.8,435.1 393.6,430.1 394.4,425.9 395.2,423.3 396,424.8 396.8,426.6 397.6,428.1 398.4,428.5 399.2,430.9 400,432.1 400.8,432.6 401.6,433.4 402.4,430.2 403.2,429.8 404,428.1 404.8,427.7 405.6,427.1 406.4,428.2 407.2,428.2 408,430.1 408.8,432.1 409.6,430.6 410.4,430.7 411.2,431.1 412,430.7 412.8,430.8 413.6,429.3 414.4,430.9 415.2,430.9 416,433.0 416.8,433.5 417.6,434.4 418.4,433.3 419.2,434.5 420,432.3 420.8,431.7 421.6,431.9 422.4,431.1 423.2,432.0 424,431.5 424.8,430.7 425.6,431.9 426.4,417.7 427.2,391.3 427.91,379.2 428.8,378.2 429.6,378.8 430.4,378.5 431.2,378.6 432,391.5 432.8,419.7 433.53,432.6 434.4,435.0 435.2,435.6 436,434.1 436.8,433.2 437.6,430.6 438.4,427.6 439.2,437.0 440,459.4 440.73,470.9 441.6,462.5 442.4,447.8 443.2,436.1 443.66,437.3 444,434.9 444.8,435.2 445.6,435.4 446.4,436.0 447.2,436.9 448,436.4 448.8,435.1 449.6,433.6 450.4,432.1 451.2,431.5 452,429.0 452.8,426.1 453.6,426.5 454.4,425.2 455.2,424.8 456,423.0 456.8,425.6 457.6,425.4 458.4,424.5 459.2,426.9 460,427.3 460.8,429.3 461.6,432.1 462.4,434.1 463.2,435.4 464,436.7 464.8,439.2 465.6,437.9 466.4,439.3 467.2,440.2 468,441.6 468.8,439.7 469.6,441.8 470.4,441.5 471.2,442.2 472,444.3 472.8,446.0 473.6,446.2 474.4,451.3 475.2,450.6 476,450.5 476.8,445.3 477.6,440.1 478.4,436.8 479.2,434.6 480,431.1 480.8,431.9 481.6,429.6 482.4,430.9 483.2,436.2 484,440.0 484.8,445.0 485.6,446.0 486.4,443.2 487.2,438.6 488,433.1 488.8,430.4 489.6,429.1 490.4,427.2 491.2,425.0 492,426.2 492.8,426.0 493.6,429.0 494.4,427.7 495.2,428.4 496,429.4 496.8,429.8 497.6,431.3 498.4,431.1 499.2,432.2 500,430.5 500.8,429.4 501.6,428.9 502.4,428.8 503.2,428.6 504,432.0 504.8,433.0 505.6,435.1 506.4,430.8 507.2,427.8 508,425.0 508.15,428.9 508.8,428.4 509.6,430.0 510.4,431.3 511.2,429.4 512,428.7 512.8,431.0 513.6,433.5 514.4,437.0 515.2,440.8 516,442.9 516.8,446.3 517.6,447.8 518.4,449.3 519.2,448.1 520,444.0 520.8,442.1 521.6,439.2 522.4,437.1 523.2,436.1 524,434.4 524.2,433.0 524.8,434.3 525.6,444.0 526.4,452.3 527.12,458.0 528,453.8 528.8,446.2 529.6,439.9 530.4,437.8 531.2,432.6 532,429.8 532.8,426.6 533.6,428.2 534.4,427.9 535.2,430.8 536,432.9 536.8,434.9 537.6,432.4 538.4,433.3 539.2,432.9 540,432.3 540.8,435.2 541.6,436.6 542.4,434.7 543.2,433.7 544,436.4 544.8,439.6 545.6,440.7 546.4,443.6 547.2,444.9 548,447.8 548.8,448.8 549.6,449.5 550.4,449.0 551.2,447.0 552,448.7 552.8,448.3 553.6,453.4 554.4,458.2 555.2,459.1 556,454.8 556.8,450.1 557.6,444.5 558.4,441.7 559.2,436.0 560,434.6 560.8,432.9 561.6,433.4 562.4,437.4 563.2,439.4 564,444.6 564.8,449.1 565.6,454.0 566.4,457.6 567.2,457.2 568,454.1 568.8,450.2 569.6,446.7 570.4,446.8 571.2,446.5 572,447.2 572.8,447.5 573.6,449.3 574.4,450.7 575.2,451.5 576,454.4 576.8,455.1 577.6,452.5 578.4,448.6 579.2,446.6 580,444.5 580.8,442.1 581.6,437.9 582.4,433.5 583.2,432.1 584,426.6 584.48,423.8 584.8,420.9 585.6,393.4 586.28,382.2 587.2,384.5 588,390.4 588.8,399.8 589.6,411.4 590.11,415.8 590.4,418.7 591.2,421.6 592,423.6 592.8,423.0 593.6,421.4 594.4,416.7 595.2,418.4 596,416.9 596.8,418.2 597.6,420.0 598.4,421.5 599.2,422.0 600,425.8 600.8,428.9 601.6,432.3 602.4,431.3 603.2,431.4 604,430.4 604.8,431.6 605.6,432.2 606.4,435.9 607.2,434.5 608,432.1 608.8,430.8 609.6,427.2 610.4,426.5 611.2,424.9 612,426.0 612.8,423.7 613.6,422.7 614.4,425.6 615.2,422.6 616,423.1 616.8,420.5 617.6,421.3 618.4,422.5 619.2,423.3 620,421.1 620.8,422.2 621.6,420.8 622.4,425.0 623.2,424.9 624,426.0 624.8,428.3 625.6,431.6 626.4,433.2 627.2,432.8 628,430.1 628.8,431.3 629.6,428.0 630.4,427.5 631.2,426.6 632,426.9 632.8,425.2 633.6,426.4 634.4,429.3 635.2,429.7 636,429.2 636.8,427.2 637.6,425.3 638.4,422.5 639.2,418.1 640,416.4 640.8,415.5 641.6,412.5 642.4,412.6 643.2,410.9 644,414.6 644.8,417.9 645.6,422.1 646.4,424.7 647.2,429.3 648,432.2 648.8,431.0 649.6,430.8 650.4,428.9 651.2,429.2 652,426.2 652.8,423.8 653.6,420.7 654.4,418.7 655.2,420.4 656,419.1 656.8,418.7 657.6,417.3 658.4,416.3 659.2,418.0 660,416.8 660.8,415.7 661.6,414.9 662.4,416.4 663.2,417.1 664,419.7 664.8,422.5 665.6,422.4 666.4,425.7 667.2,428.0 668,431.4 668.8,433.6 669.6,439.3 670.4,445.2 671.2,451.6 672,454.8 672.8,448.7 673.6,442.4 674.4,435.3 675.2,433.2 676,433.8 676.8,434.7 677.6,434.9 678.4,435.0 679.2,438.2 680,446.2 680.8,447.8 681.21,449.8 681.6,449.0 682.4,441.1 683.2,426.9 684,419.8 684.58,417.7 684.8,420.0 685.6,421.2 686.4,423.1 687.2,427.1 688,428.7 688.8,428.1 689.6,425.8 690.4,425.5 691.2,423.2 692,423.8 692.8,424.6 693.6,424.9 694.4,424.5 695.2,424.4 696,425.0 696.8,425.0 697.6,424.0 698.4,427.6 699.2,431.4 700,435.0 700.8,435.2 701.6,435.5 702.4,433.7 703.2,426.6 704,422.3 704.8,418.6 705.6,420.7 706.4,423.2 707.2,424.9 708,426.0 708.8,423.0 709.6,418.0 710.4,416.1 711.2,419.6 712,421.8 712.8,423.4 713.6,425.3 714.4,426.4 715.2,424.7 716,423.8 716.8,424.4 717.6,422.9 718.4,421.1 719.2,420.1 720,415.3 720.8,416.4 721.6,415.2 722.4,416.2 723.2,415.2 724,423.0 724.8,432.3 725.07,435.0 725.6,440.7 726.4,451.1 727.2,459.6 728,462.6 728.8,463.4 729.6,461.2 730.4,456.4 731.2,448.1 732,442.4 732.8,440.3 733.6,442.7 734.4,448.3 735.2,454.2 736,459.5 736.8,465.4 737.6,465.7 738.4,459.3 739.2,450.9 740,446.2 740.8,442.7 741.6,439.0 742.4,434.4 743.2,431.0 744,428.6 744.8,425.9 745.6,423.6 746.4,421.6 747.2,420.5 748,419.7 748.8,419.1 749.6,421.3 750.4,427.9 751.2,437.1 752,443.8 752.8,455.2 753.6,462.7 754.4,469.0 754.99,472.1 755.2,472.0 756,469.4 756.8,465.0 757.6,462.7 758.4,462.0 759.2,461.6 760,460.0 760.8,458.7 761.6,463.3 762.4,466.2 763.2,470.3 764,468.7 764.8,463.4 765.6,456.5 766.4,450.5 767.2,446.7 768,442.1 768.8,442.8 769.6,438.3 770.4,437.9 771.2,435.2 772,433.1 772.8,430.5 773.6,428.3 774.4,424.8 775.2,424.2 776,425.2 776.8,422.5 777.6,419.5 778.4,417.3 779.2,414.7 780,413.4 780.19,414.7 780.8,418.6 781.6,428.8 782.4,434.0 783.2,436.2 784,433.0 784.8,429.0 785.6,427.2 786.4,425.5 787.2,423.8 788,424.9 788.8,418.7 789.6,418.8 790.4,417.8 791.2,416.8 791.88,416.0 792.8,421.3 793.6,431.4 794.4,438.1 794.81,440.0 795.2,442.6 796,442.1 796.8,442.6 797.6,441.4 798.4,440.5 799.2,437.4 800,431.1 800.8,427.3 801.56,424.5 802.4,429.7 803.2,437.4 803.8,444.7 804,444.7 804.8,451.9 805.6,456.9 806.4,462.7 807.2,466.7 808,473.0 808.8,480.7 809.6,485.6 810.4,484.4 811.2,485.2 812,476.6 812.8,470.5 813.6,473.6 814.4,476.1 815.2,475.3 816,479.2 816.8,481.0 817.6,482.3 818.4,482.5 819.2,484.6 820,486.3 820.8,487.3 821.6,486.5 822.4,489.0 823.2,484.0 824,482.2 824.8,479.4 825.6,471.7 826.4,464.1 827.2,458.8 828,457.3 828.8,458.5 829.6,454.8 830.4,452.8 831.2,450.7 832,451.3 832.8,451.5 833.6,450.1 834.4,450.3 835.2,450.8 836,450.1 836.8,450.1 837.6,451.5 838.4,452.0 839.2,449.9 840,444.9 840.8,442.7 841.6,437.3 842.4,439.9 843.2,441.6 844,446.9 844.8,451.0 845.42,453.4 845.6,453.5 846.4,446.9 847.2,435.1 848,422.6 848.79,419.6 849.6,418.7 850.4,419.7 851.2,420.9 852,420.0 852.8,419.4 853.6,417.7 854.4,412.0 855.2,408.9 856,409.0 856.8,412.0 857.6,413.8 858.4,416.5 859.2,418.7 860,419.1 860.8,420.4 861.6,421.2 862.4,421.5 863.2,420.7 864,422.3 864.8,424.4 865.6,425.5 866.4,422.9 867.2,423.2 868,424.4 868.8,425.4 869.6,425.3 870.4,424.0 871.2,426.4 872,426.4 872.8,426.6 873.6,427.0 874.4,427.0 875.2,428.2 876,427.3 876.8,426.5 877.6,428.6 878.4,428.5 879.2,428.5 880,429.3 880.8,428.2 881.6,430.3 882.4,429.4 883.2,430.0 884,427.8 884.8,425.8 885.6,429.4 886.4,430.1 887.2,439.3 888,446.0 888.8,444.3 889.6,438.1 890.4,431.5 891.2,429.7 892,427.5 892.8,427.8 893.6,430.1 894.4,430.9 895.2,433.6 896,435.6 896.8,438.9 897.6,436.0 898.4,432.7 899.2,426.9 900,421.3 900.8,419.9 901.6,423.8 902.4,424.7 903.2,427.0 904,429.6 904.8,431.7 905.6,430.8 906.4,430.3 907.2,431.8 908,429.7 908.8,427.3 909.6,422.5 910.4,422.7 911.2,420.7 912,421.3 912.8,421.1 913.6,422.3 914.4,422.2 915.2,424.7 916,428.0 916.8,432.6 917.6,438.3 918.4,442.6 919.2,445.1 920,447.4 920.8,453.0"/>
<path stroke="#0090cc" d="M96.0,498.6L96.8,501.9 97.6,505.0 98.4,509.2 99.2,510.6 100,512.5 100.8,514.3 101.6,515.5 102.4,514.6 103.2,510.5 104,505.5 104.8,499.8 105.6,496.0 106.4,495.2 107.2,494.3 108,492.3 108.8,491.9 109.6,494.6 110.4,496.4 111.2,498.6 112,501.2 112.8,503.5 113.6,504.5 114.4,506.2 115.2,505.8 116,506.5 116.8,508.3 117.6,508.4 118.4,508.0 119.2,506.5 120,508.0 120.8,508.4 121.6,508.4 122.4,511.6 123.2,511.6 124,511.4 124.8,511.1 125.6,509.5 126.4,509.4 127.2,506.4 128,506.7 128.8,504.3 129.6,502.3 130.4,501.8 131.2,501.2 132,501.7 132.8,501.7 133.6,504.6 134.4,507.0 135.2,504.1 136,504.3 136.8,504.3 137.6,502.4 138.4,499.5 139.2,494.8 140,493.4 140.8,489.2 141.6,485.0 142.4,485.2 143.2,489.7 144,496.1 144.8,495.1 145.6,491.8 145.95,490.5 146.4,474.5 147.2,413.8 147.76,391.2 148,392.2 148.8,407.2 149.11,414.7 149.6,440.6 150.4,497.3 151.2,534.7 151.81,549.2 152,546.0 152.8,518.9 153.38,507.0 153.6,504.7 154.4,503.2 155.2,501.1 156,500.7 156.8,500.6 157.6,500.9 158.4,500.7 159.2,500.3 160,497.8 160.8,495.7 161.6,496.2 162.4,496.9 163.2,496.6 164,495.5 164.8,491.0 165.6,488.0 166.4,486.2 167.2,486.8 168,485.6 168.8,487.8 169.6,491.6 170.4,493.7 171.2,493.4 172,496.3 172.8,497.0 173.6,498.8 174.4,500.5 175.2,501.3 176,502.9 176.8,502.3 177.6,497.8 178.4,495.9 179.2,492.6 180,495.2 180.8,494.8 181.6,493.9 182.4,494.9 183.2,492.5 184,486.9 184.8,483.0 185.6,482.4 186.4,487.0 187.2,493.9 188,498.0 188.8,501.0 189.6,500.1 190.4,500.5 191.2,501.7 192,502.3 192.8,499.4 193.6,498.5 194.4,497.5 195.2,495.4 196,493.0 196.8,491.8 197.6,488.8 198.4,489.4 199.2,488.3 200,490.2 200.8,493.7 201.6,495.0 202.4,494.9 203.2,493.2 204,493.4 204.8,492.2 205.6,491.9 206.4,496.4 207.2,494.7 208,494.0 208.8,495.1 209.6,492.6 210.4,493.1 211.2,491.3 212,488.6 212.8,485.7 213.6,482.6 214.4,482.4 215.2,484.1 216,479.8 216.8,483.8 217.6,484.7 218.4,487.9 219.2,487.8 220,489.1 220.8,489.2 221.6,493.0 222.4,496.9 223.2,500.6 224,504.6 224.8,505.4 225.6,504.6 226.4,504.1 227.2,504.0 228,507.7 228.8,507.7 229.6,511.4 230.4,512.2 231.2,513.3 232,514.6 232.8,518.4 233.26,518.0 233.6,519.5 234.4,533.7 235.06,540.7 235.2,541.7 236,526.7 236.8,500.0 237.6,442.5 238.21,407.3 238.4,410.5 239.2,446.6 240,497.0 240.8,558.0 241.6,609.6 241.81,609.8 242.4,585.7 243.2,519.1 243.61,504.8 244,505.1 244.8,504.8 245.6,504.8 246.4,507.0 247.2,508.0 248,508.5 248.8,509.4 249.6,509.5 250.4,510.7 251.2,509.2 252,506.9 252.8,506.7 253.6,505.0 254.4,506.1 255.2,503.1 256,500.1 256.8,497.9 257.6,497.1 258.4,492.7 259.2,489.7 260,489.3 260.8,488.9 261.6,491.4 262.4,494.1 263.2,497.5 264,498.2 264.8,498.4 265.6,496.4 266.4,497.1 267.2,495.7 268,496.4 268.8,497.0 269.6,497.5 270.4,498.2 271.2,502.2 272,502.6 272.8,502.5 273.6,504.2 274.4,505.2 275.2,508.6 276,510.6 276.8,514.5 277.6,514.7 278.4,521.4 279.2,523.1 280,524.4 280.8,525.2 281.6,524.4 282.4,525.4 283.2,523.9 284,520.6 284.8,515.5 285.6,511.2 286.4,506.0 287.2,502.2 288,500.1 288.8,495.1 289.6,493.6 290.4,489.8 291.2,488.9 292,486.5 292.8,488.9 293.6,483.9 294.4,483.1 295.2,482.9 296,486.6 296.8,491.0 297.6,497.8 298.4,501.1 299.2,507.5 300,508.1 300.8,506.0 301.6,503.2 302.4,502.7 303.2,502.1 304,502.7 304.8,501.5 305.6,503.1 306.4,500.5 307.2,500.4 308,499.9 308.8,500.7 309.6,500.3 310.4,502.1 311.2,500.8 312,497.7 312.8,498.1 313.6,495.7 314.4,495.2 315.2,497.6 316,496.3 316.8,497.3 317.6,495.8 318.4,495.8 319.2,496.3 320,499.6 320.8,499.2 321.6,496.9 322.4,497.8 323.2,499.1 324,499.6 324.8,501.6 325.6,499.5 326.4,499.9 327.2,500.0 328,499.0 328.8,500.1 329.6,499.7 330.4,502.4 331.2,504.8 332,507.6 332.8,513.1 333.6,517.5 334.4,520.1 335.2,524.4 336,527.2 336.8,525.7 337.6,521.3 338.4,519.8 339.2,518.5 340,517.9 340.8,514.8 341.6,510.1 342.4,507.2 343.2,504.4 344,503.3 344.8,503.4 345.6,500.9 346.4,497.8 347.2,492.1 347.58,491.0 348,469.2 348.8,392.3 349.15,379.1 349.6,388.5 350.4,436.4 351.2,482.9 351.4,488.7 352,501.2 352.8,514.5 353.6,518.0 354.4,418.1 354.78,383.4 355.2,397.8 356,468.6 356.58,509.0 356.8,517.4 357.6,542.0 358.15,550.2 358.4,544.9 359.2,509.6 359.73,496.6 360,496.1 360.8,494.5 361.6,494.6 362.4,495.0 363.2,496.8 364,502.9 364.8,507.8 365.6,509.0 366.4,509.4 367.2,512.5 368,513.2 368.8,514.4 369.6,522.5 370.4,528.0 371.2,527.4 372,521.6 372.8,516.1 373.6,509.9 374.4,505.6 375.2,503.1 376,501.4 376.8,498.2 377.6,496.8 378.4,495.7 379.2,495.4 380,494.9 380.8,492.9 381.6,492.4 382.4,494.5 383.2,492.1 384,492.1 384.8,489.8 385.6,489.6 386.4,489.4 387.2,487.2 388,487.6 388.8,489.4 389.6,490.0 390.4,490.2 391.2,491.9 392,494.2 392.8,495.8 393.6,496.3 394.4,497.4 395.2,497.0 396,497.6 396.8,493.6 397.6,493.0 398.4,490.3 399.2,486.5 400,481.3 400.8,479.8 401.6,479.0 402.4,484.0 403.2,488.4 404,491.6 404.8,496.4 405.6,496.3 406.4,497.5 407.2,502.4 408,501.6 408.8,500.1 409.6,495.4 410.4,492.1 411.2,490.6 412,491.5 412.8,492.2 413.6,492.0 414.4,496.0 415.2,496.2 416,500.1 416.8,499.4 417.6,500.9 418.4,499.5 419.2,498.9 420,498.1 420.8,497.0 421.6,497.6 422.4,500.0 423.2,503.2 424,507.8 424.8,510.3 425.6,512.9 426.4,513.6 426.78,513.5 427.2,511.5 428,496.4 428.58,482.1 428.8,476.1 429.6,439.8 430.4,399.9 431.2,380.6 432,410.8 432.8,480.7 433.53,518.2 434.4,523.9 435.2,526.5 436,526.9 436.8,531.3 437.6,533.7 438.03,534.6 438.4,533.8 439.2,520.1 440,505.5 440.28,505.4 440.8,503.7 441.6,507.9 442.4,510.2 443.2,507.8 444,500.2 444.8,496.5 445.6,494.5 446.4,491.9 447.2,494.0 448,491.2 448.8,489.8 449.6,486.4 450.4,484.8 451.2,482.6 452,478.8 452.8,482.2 453.6,481.1 454.4,480.3 455.2,482.3 456,483.0 456.8,484.6 457.6,484.4 458.4,488.8 459.2,488.1 460,489.7 460.8,488.0 461.6,489.8 462.4,490.4 463.2,492.1 464,493.8 464.8,496.3 465.6,502.1 466.4,508.8 467.2,516.7 468,520.2 468.8,522.0 469.6,518.6 470.4,517.5 471.2,513.4 472,512.0 472.8,509.7 473.6,508.0 474.4,506.3 475.2,506.5 476,503.3 476.8,499.6 477.6,498.4 478.4,497.3 479.2,494.7 480,493.2 480.8,490.5 481.6,488.3 482.4,489.6 483.2,494.6 484,500.1 484.8,504.1 485.6,505.2 486.4,500.0 487.2,494.9 488,491.1 488.8,489.2 489.6,489.0 490.4,490.0 491.2,491.9 492,490.3 492.8,488.1 493.6,490.5 494.4,489.2 495.2,490.4 496,489.7 496.8,493.3 497.6,500.7 498.4,504.0 499.2,506.0 500,505.8 500.8,504.4 501.6,504.7 502.4,500.4 503.2,497.9 504,496.9 504.8,495.5 505.6,494.2 506.4,495.0 507.2,499.4 508,500.0 508.15,491.0 508.8,489.6 509.6,489.4 510.4,492.8 511.2,494.2 512,495.6 512.8,496.7 513.6,497.8 514.4,497.6 515.2,497.6 516,497.0 516.8,500.3 517.6,502.0 518.4,504.8 519.2,506.1 520,509.5 520.8,511.4 521.6,513.6 522.4,510.7 523.2,507.7 524,505.2 524.8,502.1 525.6,496.2 526.4,489.9 527.2,486.3 528,483.2 528.8,485.3 529.6,487.9 530.4,492.1 531.2,490.1 532,492.1 532.8,492.9 533.6,493.0 534.4,494.0 535.2,496.8 536,493.8 536.8,495.3 537.6,495.6 538.4,492.7 539.2,491.1 540,490.0 540.8,493.3 541.6,491.9 542.4,490.0 543.2,489.1 544,488.5 544.8,490.0 545.6,492.1 546.4,497.5 547.2,500.8 548,503.3 548.8,504.1 549.6,505.9 550.4,507.0 551.2,508.8 552,509.8 552.8,509.9 553.6,509.3 554.4,508.3 555.2,504.2 556,497.7 556.8,495.6 557.6,493.2 558.4,492.8 559.2,492.1 560,492.3 560.8,493.0 561.6,492.1 562.4,491.4 563.2,495.6 564,498.9 564.8,503.7 565.6,507.7 566.4,511.2 567.2,514.5 568,519.3 568.8,521.6 569.6,521.3 570.4,524.8 571.2,525.0 572,524.7 572.8,525.6 573.6,522.7 574.4,522.3 575.2,517.7 576,517.5 576.8,516.2 577.6,513.3 578.4,510.7 579.2,506.2 580,503.3 580.8,500.0 581.6,496.9 582.4,493.6 583.2,488.0 583.36,486.5 584,398.1 584.8,254.6 584.93,249.7 585.6,255.2 586.4,270.2 586.73,279.5 587.2,320.1 588,439.1 588.53,477.8 588.8,479.9 589.6,479.9 590.33,477.5 591.2,484.3 592,496.3 592.8,505.8 593.03,506.8 593.6,505.5 594.4,498.8 595.2,494.0 596,493.3 596.8,491.6 597.6,494.0 598.4,493.7 599.2,492.7 600,492.7 600.8,491.4 601.6,489.3 602.4,488.9 603.2,488.4 604,489.4 604.8,489.0 605.6,488.8 606.4,490.4 607.2,486.9 608,485.7 608.8,485.7 609.6,489.1 610.4,487.1 611.2,489.5 612,490.5 612.8,492.1 613.6,490.0 614.4,490.4 615.2,487.5 616,486.6 616.8,483.4 617.6,481.0 618.4,478.6 619.2,478.5 620,479.8 620.8,482.5 621.6,487.3 622.4,490.5 623.2,493.1 624,493.0 624.8,493.2 625.6,493.8 626.4,492.7 627.2,492.6 628,491.9 628.8,491.2 629.6,492.3 630.4,492.4 631.2,491.3 632,491.8 632.8,488.3 633.6,489.8 634.4,488.9 635.2,488.9 636,487.1 636.8,487.7 637.6,486.9 638.4,486.0 639.2,485.9 640,487.4 640.8,484.5 641.6,485.5 642.4,483.1 643.2,485.1 644,485.2 644.8,485.0 645.6,484.8 646.4,486.0 647.2,487.4 648,488.5 648.8,489.2 649.6,494.2 650.4,497.0 651.2,501.7 652,504.1 652.8,501.2 653.6,502.3 654.4,498.8 655.2,496.2 656,491.8 656.8,484.2 657.6,478.1 658.4,473.0 659.2,473.2 660,473.3 660.8,474.3 661.6,476.4 662.4,482.1 663.2,490.1 664,497.6 664.8,505.8 665.6,511.6 666.4,514.3 667.2,513.1 668,510.4 668.8,507.3 669.6,505.7 670.4,506.9 671.2,506.5 672,507.1 672.8,506.4 673.6,507.2 674.4,510.4 675.2,513.1 676,514.6 676.8,514.4 677.6,513.9 678.4,510.1 679.2,509.8 680,507.3 680.8,500.5 681.6,495.8 682.4,487.9 683.2,481.9 683.46,480.7 684,482.2 684.8,480.4 685.6,479.2 686.4,480.6 687.2,483.6 688,485.2 688.8,489.2 689.6,488.8 690.4,491.4 691.2,492.5 692,492.2 692.8,492.9 693.6,492.2 694.4,495.0 695.2,495.4 696,496.1 696.8,498.0 697.6,500.8 698.4,501.6 699.2,501.9 700,502.7 700.8,503.5 701.6,499.4 702.4,495.7 703.2,494.9 704,494.2 704.8,493.0 705.6,490.0 706.4,489.4 707.2,489.3 708,487.4 708.8,483.2 709.6,478.9 710.4,477.3 711.2,477.5 712,480.9 712.8,486.6 713.6,488.4 714.4,488.2 715.2,488.2 716,488.0 716.8,487.1 717.6,484.7 718.4,485.1 719.2,484.9 720,487.6 720.8,488.6 721.6,488.5 722.4,489.8 722.82,491.9 723.2,495.4 724,502.1 724.8,511.8 725.07,512.5 725.6,515.0 726.4,518.7 727.2,519.3 728,521.6 728.8,523.3 729.6,529.2 730.4,535.5 731.2,538.3 732,541.8 732.8,541.8 733.6,545.4 734.07,544.8 734.4,543.7 735.2,533.0 736,521.6 736.32,517.2 736.8,516.7 737.6,512.4 738.4,510.2 739.2,507.6 740,504.5 740.8,499.6 741.6,497.9 742.4,495.8 743.2,494.2 744,492.7 744.8,492.6 745.6,491.1 746.4,492.0 747.2,491.4 748,493.6 748.8,492.9 749.6,491.3 750.4,491.8 751.2,492.8 752,493.3 752.8,495.9 753.19,495.3 753.6,495.1 754.4,505.1 755.2,514.4 755.44,519.4 756,528.2 756.8,542.1 757.6,552.8 758.14,557.5 758.4,559.0 759.2,555.1 760,547.5 760.8,540.8 761.06,539.3 761.6,535.5 762.4,529.9 763.2,523.0 764,515.0 764.44,514.9 764.8,514.1 765.6,508.7 766.4,501.5 767.2,498.3 768,495.1 768.8,495.1 769.6,492.4 770.4,489.6 771.2,490.3 772,493.7 772.8,495.1 773.6,495.9 774.4,495.0 775.2,494.4 776,496.9 776.8,492.2 777.6,489.0 778.4,487.3 779.2,486.9 780,483.3 780.8,479.8 781.6,478.0 782.4,483.0 783.2,489.9 784,494.1 784.8,495.1 785.6,492.6 786.4,488.1 787.2,482.8 788,479.4 788.8,483.8 789.6,483.9 790.4,482.8 791.2,482.8 792,483.2 792.8,486.1 793.6,488.7 794.4,491.9 795.2,493.9 796,496.0 796.8,495.0 797.6,500.4 798.4,500.6 799.2,502.8 800,503.8 800.8,505.6 801.6,508.6 802.4,510.1 803.2,512.0 804,513.5 804.8,517.5 805.6,518.6 806.4,522.3 807.2,524.4 808,529.6 808.8,533.4 809.6,538.0 810.4,541.8 811.2,547.8 812,553.2 812.8,560.0 813.6,562.7 813.93,563.4 814.4,561.4 815.2,552.7 816,543.3 816.63,540.0 816.8,541.3 817.6,538.5 818.4,540.5 819.2,539.8 820,540.5 820.8,538.0 821.6,536.5 822.4,533.7 823.2,532.6 824,536.9 824.8,540.0 825.6,544.4 826.4,544.4 827.2,541.6 828,540.8 828.8,535.6 829.6,534.1 830.4,529.6 831.2,525.9 832,524.2 832.8,523.1 833.6,518.5 834.4,514.7 835.2,511.9 836,510.2 836.8,509.6 837.6,510.3 838.4,511.7 839.2,515.1 840,517.0 840.8,514.6 841.6,514.0 842.4,511.0 843.2,507.6 844,503.5 844.8,503.0 845.6,501.7 846.4,499.6 847.2,496.2 848,491.7 848.8,486.5 849.6,481.3 850.4,476.7 851.2,472.4 852,468.8 852.8,466.4 853.6,467.2 854.4,473.1 855.2,478.3 856,481.2 856.8,482.4 857.6,482.0 858.4,484.5 859.2,486.9 860,490.5 860.8,493.3 861.6,498.6 862.4,496.3 863.2,497.8 864,499.3 864.8,498.0 865.6,499.7 866.4,498.9 867.2,494.9 868,492.7 868.8,489.0 869.6,490.5 870.4,495.4 871.2,496.1 872,497.1 872.8,494.0 873.6,492.8 874.4,491.8 875.2,488.9 876,489.1 876.8,492.5 877.6,493.4 878.4,496.6 879.2,496.8 880,493.8 880.8,491.0 881.6,488.0 882.4,485.1 883.2,489.9 884,492.6 884.8,498.3 885.6,504.0 886.4,507.2 887.2,510.0 888,510.3 888.8,513.2 889.6,513.5 890.4,509.0 891.2,504.3 892,500.2 892.8,497.6 893.6,493.9 894.4,489.9 895.2,486.7 896,484.6 896.8,486.3 897.6,489.3 898.4,496.3 899.2,498.6 900,499.5 900.8,500.7 901.6,502.9 902.4,502.4 903.2,505.3 904,501.0 904.8,494.5 905.6,490.7 906.4,490.9 907.2,489.2 908,489.4 908.8,487.6 909.6,485.7 910.4,484.1 911.2,482.5 912,478.8 912.8,476.2 913.6,475.4 914.4,482.4 915.2,487.9 916,491.8 916.8,492.1 917.6,485.7 918.4,476.6 919.2,472.8 920,469.6 920.8,469.7"/>
<path stroke="#0048b0" d="M96.0,569.0L96.8,568.1 97.6,565.1 98.4,564.5 99.2,564.6 100,565.7 100.8,566.4 101.6,569.4 102.4,572.2 103.2,572.3 104,574.4 104.8,573.9 105.6,573.5 106.4,574.6 107.2,574.3 108,577.4 108.8,576.6 109.6,577.6 110.4,577.3 111.2,575.3 112,573.7 112.8,572.9 113.6,569.4 114.4,570.0 115.2,571.3 116,569.6 116.8,571.8 117.6,575.2 118.4,581.3 119.2,586.8 120,583.9 120.8,580.3 121.6,575.4 122.4,570.8 123.2,564.4 124,564.0 124.8,562.7 125.6,562.7 126.4,564.8 127.2,567.1 128,574.4 128.8,578.8 129.6,583.6 130.4,582.4 131.2,582.2 132,577.7 132.8,572.2 133.6,568.7 134.4,564.1 135.2,560.4 136,558.7 136.8,559.0 137.6,560.3 138.4,563.3 139.2,568.0 140,569.0 140.8,569.1 141.6,569.9 142.4,568.9 143.2,567.3 144,566.1 144.8,561.9 145.6,562.6 146.4,559.8 147.2,557.1 148,552.9 148.8,550.1 149.6,543.4 150.4,534.6 151.13,531.7 152,536.4 152.8,546.6 153.38,552.9 153.6,555.6 154.4,565.1 154.96,569.7 155.2,568.3 156,566.4 156.8,563.9 157.6,565.4 158.4,565.3 159.2,564.4 160,565.0 160.8,562.9 161.6,563.9 162.4,564.0 163.2,567.7 164,567.6 164.8,565.1 165.6,563.8 166.4,557.4 167.2,555.8 168,554.6 168.8,552.1 169.6,551.6 170.4,551.0 171.2,550.2 172,551.7 172.8,552.1 173.6,555.6 174.4,558.6 175.2,560.4 176,560.4 176.8,561.6 177.6,562.1 178.4,563.4 179.2,564.4 180,564.1 180.8,564.6 181.6,565.4 182.4,560.6 183.2,556.4 184,550.2 184.8,549.4 185.6,548.0 186.4,548.6 187.2,545.6 188,547.9 188.8,551.9 189.6,556.2 190.4,558.4 191.2,559.2 192,559.6 192.8,558.6 193.6,559.2 194.4,560.1 195.2,563.7 196,565.4 196.8,566.1 197.6,565.6 198.4,565.8 199.2,564.8 200,564.7 200.8,561.4 201.6,558.5 202.4,558.2 203.2,557.0 204,560.2 204.8,558.7 205.6,560.2 206.4,559.2 207.2,560.7 208,560.4 208.8,559.7 209.6,558.9 210.4,561.7 211.2,560.4 212,559.8 212.8,558.4 213.6,557.6 214.4,557.6 215.2,556.4 216,556.8 216.8,555.9 217.6,556.9 218.4,556.6 219.2,557.3 220,558.1 220.8,560.2 221.6,563.5 222.4,566.6 223.2,569.0 224,568.9 224.8,570.0 225.6,567.0 226.4,566.6 227.2,568.8 228,574.3 228.8,579.9 229.6,585.5 230.4,589.2 231.2,591.1 232,590.8 232.8,590.8 233.6,588.9 234.4,581.2 235.2,566.8 235.96,559.7 236.8,563.5 237.6,566.0 238.4,568.9 239.2,570.7 239.56,573.1 240,577.1 240.8,592.1 241.14,594.1 241.6,585.3 242.4,554.0 242.71,551.2 243.2,554.2 244,559.0 244.8,563.7 245.6,564.1 246.4,565.0 247.2,563.1 248,563.0 248.8,563.2 249.6,563.4 250.4,561.2 251.2,562.3 252,562.8 252.8,561.4 253.6,558.1 254.4,556.5 255.2,558.3 256,556.0 256.8,556.7 257.6,557.5 258.4,557.0 259.2,557.4 260,560.1 260.8,560.3 261.6,560.1 262.4,560.5 263.2,560.3 264,560.9 264.8,560.4 265.6,558.8 266.4,560.9 267.2,560.3 268,562.1 268.8,558.7 269.6,559.9 270.4,559.8 271.2,563.8 272,565.1 272.8,568.9 273.6,572.3 274.4,574.9 275.2,574.6 276,573.4 276.8,572.8 277.6,570.8 278.4,570.7 279.2,566.5 280,565.5 280.8,565.0 281.6,566.1 282.4,571.6 283.2,577.8 284,576.5 284.8,571.3 285.6,564.1 286.4,564.0 287.2,561.8 288,560.8 288.8,561.4 289.6,563.9 290.4,561.2 291.2,559.2 292,557.8 292.8,557.0 293.6,559.7 294.4,561.1 295.2,560.3 296,560.5 296.8,562.3 297.6,560.6 298.4,561.4 299.2,562.1 300,561.9 300.8,562.7 301.6,562.3 302.4,564.0 303.2,568.0 304,568.7 304.8,571.5 305.6,571.6 306.4,569.5 307.2,570.1 308,567.1 308.8,563.4 309.6,566.9 310.4,566.9 311.2,568.0 312,570.9 312.8,574.7 313.6,574.0 314.4,573.5 315.2,567.5 316,563.3 316.8,563.3 317.6,564.8 318.4,565.0 319.2,565.1 320,565.6 320.8,566.7 321.6,566.0 322.4,565.6 323.2,561.9 324,561.6 324.8,560.9 325.6,559.4 326.4,558.5 327.2,559.3 328,559.1 328.8,559.7 329.6,565.4 330.4,566.5 331.2,570.9 332,576.9 332.8,580.1 333.6,580.6 334.4,584.4 335.2,584.3 336,583.7 336.8,580.2 337.6,578.1 338.4,576.6 339.2,576.1 340,581.5 340.8,589.5 341.6,588.3 342.4,585.5 343.2,583.0 344,577.4 344.8,571.2 345.6,566.6 346.4,565.6 347.2,561.6 348,557.4 348.8,554.7 349.6,551.5 350.28,549.4 350.4,549.2 351.2,534.2 352,517.6 352.53,517.0 352.8,516.5 353.6,520.4 354.33,527.3 355.2,538.8 355.9,548.8 356.8,556.3 357.6,560.7 358.4,562.0 359.2,562.2 360,559.4 360.8,558.3 361.6,556.8 362.4,562.7 363.2,562.7 364,566.7 364.8,572.1 365.6,575.6 366.4,580.3 367.2,589.1 368,590.7 368.8,591.7 369.6,588.7 370.4,585.0 371.2,581.3 372,578.8 372.8,574.2 373.6,572.1 374.4,574.1 375.2,579.6 376,582.8 376.8,582.1 377.6,578.1 378.4,574.6 379.2,569.5 380,568.3 380.8,564.3 381.6,563.1 382.4,559.8 383.2,559.5 384,561.2 384.8,563.9 385.6,565.6 386.4,565.1 387.2,565.1 388,564.6 388.8,564.9 389.6,565.4 390.4,565.8 391.2,564.8 392,564.1 392.8,562.7 393.6,565.4 394.4,563.3 395.2,563.2 396,563.4 396.8,562.7 397.6,562.3 398.4,563.2 399.2,562.9 400,561.7 400.8,559.3 401.6,560.7 402.4,559.0 403.2,558.4 404,558.2 404.8,556.0 405.6,552.7 406.4,552.8 407.2,554.8 408,555.8 408.8,558.6 409.6,562.9 410.4,564.4 411.2,566.6 412,570.9 412.8,573.3 413.6,571.3 414.4,570.8 415.2,569.9 416,566.7 416.8,566.9 417.6,566.7 418.4,568.3 419.2,568.7 420,572.8 420.8,571.5 421.6,573.0 422.4,575.9 423.2,575.9 424,576.4 424.8,572.7 425.6,568.4 426.4,561.8 427.2,550.2 427.91,538.5 428.8,526.5 429.6,518.7 430.16,516.5 430.4,518.7 431.2,540.3 431.73,549.0 432,547.6 432.8,541.2 433.6,536.7 434.4,540.8 435.2,545.0 436,550.3 436.8,559.9 437.6,566.6 438.03,565.6 438.4,563.4 439.2,553.3 440,546.0 440.28,544.5 440.8,548.2 441.6,557.5 442.4,562.0 443.2,562.7 444,561.5 444.8,557.0 445.6,557.5 446.4,558.1 447.2,557.8 448,558.6 448.8,559.5 449.6,558.4 450.4,559.1 451.2,557.1 452,555.8 452.8,554.2 453.6,556.9 454.4,558.3 455.2,558.1 456,559.0 456.8,557.6 457.6,556.2 458.4,555.2 459.2,553.0 460,554.9 460.8,559.5 461.6,562.3 462.4,567.0 463.2,566.5 464,568.7 464.8,571.5 465.6,572.2 466.4,572.2 467.2,573.7 468,576.1 468.8,577.3 469.6,578.6 470.4,578.6 471.2,576.1 472,572.5 472.8,570.9 473.6,570.4 474.4,575.2 475.2,578.5 476,581.0 476.8,579.7 477.6,580.1 478.4,574.1 479.2,574.1 480,571.8 480.8,567.7 481.6,566.0 482.4,562.4 483.2,561.8 484,561.0 484.8,562.7 485.6,564.4 486.4,565.3 487.2,561.2 488,561.3 488.8,559.2 489.6,559.4 490.4,558.6 491.2,559.7 492,561.6 492.8,564.2 493.6,561.4 494.4,562.7 495.2,561.1 496,560.5 496.8,558.7 497.6,560.2 498.4,559.7 499.2,559.9 500,560.5 500.8,560.7 501.6,560.5 502.4,562.4 503.2,563.7 504,563.5 504.8,562.4 505.6,562.2 506.4,561.6 507.2,563.5 508,563.7 508.8,565.3 509.6,564.3 510.4,563.8 511.2,563.6 512,564.3 512.8,563.8 513.6,566.5 514.4,567.1 515.2,569.5 516,573.2 516.8,577.1 517.6,574.3 518.4,573.5 519.2,571.2 520,566.4 520.8,565.7 521.6,565.5 522.4,568.6 523.2,569.5 524,569.8 524.8,572.7 525.6,573.8 526.4,576.2 527.2,571.4 528,568.0 528.8,565.1 529.6,565.0 530.4,564.4 531.2,563.8 532,564.2 532.8,563.1 533.6,562.8 534.4,561.8 535.2,562.4 536,560.4 536.8,560.2 537.6,559.4 538.4,557.3 539.2,558.4 540,559.3 540.8,560.5 541.6,563.3 542.4,563.4 543.2,564.7 544,563.0 544.8,564.2 545.6,562.6 546.4,562.9 547.2,566.3 548,569.9 548.8,570.9 549.6,568.1 550.4,567.6 551.2,564.0 552,563.9 552.8,564.4 553.6,569.3 554.4,573.0 555.2,578.0 556,577.3 556.8,573.5 557.6,568.6 558.4,564.7 559.2,563.6 560,562.8 560.8,562.8 561.6,563.1 562.4,564.5 563.2,564.2 564,564.4 564.8,567.5 565.6,567.2 566.4,571.3 567.2,574.6 568,577.9 568.8,578.0 569.6,576.8 570.4,577.7 571.2,576.8 572,576.0 572.8,577.9 573.6,581.4 574.4,584.7 575.2,586.2 576,582.2 576.8,575.8 577.6,572.5 578.4,570.1 579.2,567.2 580,563.7 580.8,562.6 581.6,560.6 582.4,558.8 583.2,554.5 584,553.4 584.8,551.9 585.6,548.4 586.4,546.6 586.73,545.3 587.2,540.4 588,533.1 588.8,523.4 589.43,520.9 589.6,517.5 590.4,524.9 591.2,534.2 592,539.5 592.8,545.6 593.6,552.1 594.4,551.0 595.2,551.9 596,550.1 596.8,553.6 597.6,554.7 598.4,559.1 599.2,558.3 600,557.4 600.8,557.9 601.6,556.5 602.4,554.3 603.2,554.2 604,553.0 604.8,553.4 605.6,554.1 606.4,552.6 607.2,553.5 608,552.9 608.8,553.7 609.6,552.3 610.4,548.8 611.2,551.3 612,551.0 612.8,551.3 613.6,550.2 614.4,552.3 615.2,549.2 616,549.3 616.8,548.0 617.6,549.4 618.4,548.3 619.2,549.5 620,552.6 620.8,553.9 621.6,555.0 622.4,556.4 623.2,553.8 624,556.3 624.8,557.1 625.6,555.3 626.4,556.1 627.2,553.7 628,553.6 628.8,553.1 629.6,551.5 630.4,551.0 631.2,554.1 632,551.0 632.8,554.0 633.6,554.2 634.4,555.5 635.2,557.7 636,556.3 636.8,555.4 637.6,554.9 638.4,553.8 639.2,552.2 640,554.3 640.8,556.5 641.6,554.8 642.4,557.5 643.2,559.2 644,561.0 644.8,564.5 645.6,563.3 646.4,561.4 647.2,558.1 648,555.5 648.8,554.7 649.6,554.7 650.4,555.6 651.2,554.1 652,555.0 652.8,555.4 653.6,554.6 654.4,553.4 655.2,554.3 656,554.0 656.8,554.5 657.6,552.6 658.4,554.2 659.2,553.3 660,553.9 660.8,551.8 661.6,551.3 662.4,553.9 663.2,552.2 664,556.9 664.8,559.5 665.6,562.5 666.4,565.9 667.2,569.1 668,571.1 668.8,570.8 669.6,570.4 670.4,568.6 671.2,567.5 672,565.5 672.8,564.7 673.6,563.2 674.4,562.9 675.2,563.9 676,564.6 676.8,569.4 677.6,576.8 678.4,582.8 679.2,584.1 680,582.8 680.8,573.9 681.6,565.4 682.4,562.7 683.2,559.0 684,558.6 684.8,555.3 685.6,553.4 686.4,552.3 687.2,551.4 688,550.7 688.8,552.0 689.6,554.5 690.4,554.6 691.2,554.3 692,555.6 692.8,556.5 693.6,555.2 694.4,555.0 695.2,554.1 696,553.8 696.8,554.0 697.6,556.8 698.4,558.3 699.2,559.3 700,560.3 700.8,561.2 701.6,561.6 702.4,562.2 703.2,562.2 704,557.5 704.8,554.5 705.6,553.7 706.4,553.1 707.2,552.4 708,551.0 708.8,552.9 709.6,552.4 710.4,553.7 711.2,554.1 712,555.9 712.8,556.9 713.6,556.1 714.4,554.9 715.2,559.0 716,557.1 716.8,557.9 717.6,559.9 718.4,561.1 719.2,560.6 720,558.7 720.8,559.6 721.6,557.8 722.4,557.7 723.2,560.2 724,563.1 724.8,568.9 725.07,571.4 725.6,577.3 726.4,584.8 727.2,590.8 727.32,591.9 728,589.1 728.8,591.1 729.6,585.8 730.4,586.6 731.2,584.5 732,590.2 732.8,596.6 733.6,601.1 734.4,601.3 735.2,598.1 736,592.9 736.8,591.7 737.6,587.8 738.4,582.4 739.2,578.4 740,572.0 740.8,571.6 741.6,567.2 742.4,564.3 743.2,563.5 744,563.1 744.8,561.5 745.6,562.3 746.4,561.6 747.2,559.8 748,559.6 748.8,557.7 749.6,558.2 750.4,558.6 751.2,562.7 752,566.2 752.8,574.3 753.6,586.6 754.32,591.9 755.2,594.5 756,595.9 756.8,600.5 757.6,598.4 758.4,596.2 759.2,590.5 760,587.2 760.8,591.3 761.6,599.0 762.4,605.2 762.64,606.4 763.2,603.1 764,597.7 764.8,587.1 765.56,581.3 766.4,579.6 767.2,575.8 768,573.3 768.8,570.5 769.6,568.6 770.4,567.2 771.2,564.2 772,561.4 772.8,561.2 773.6,560.9 774.4,562.1 775.2,563.9 776,562.4 776.8,560.3 777.6,558.3 778.4,556.6 779.2,553.6 780,551.6 780.8,548.2 781.6,547.7 782.4,545.0 783.2,546.4 784,546.6 784.8,549.1 785.6,549.4 786.4,550.0 787.2,555.1 788,559.4 788.8,561.7 789.6,561.8 790.4,560.6 791.2,561.4 792,557.3 792.8,557.1 793.6,556.9 794.4,559.9 795.2,561.7 796,562.9 796.8,561.0 797.6,553.3 798.4,547.7 799.2,543.0 800,546.1 800.8,553.6 801.6,558.2 802.4,564.0 803.2,570.1 804,571.8 804.8,571.8 805.6,575.6 806.4,572.7 807.2,577.0 808,582.1 808.8,587.8 809.6,593.6 810.4,597.4 811.2,602.7 812,606.7 812.8,607.9 813.6,608.2 814.4,605.5 815.2,605.1 816,602.2 816.8,603.6 817.6,604.1 818.4,602.6 819.2,602.1 820,602.0 820.8,601.9 821.6,600.0 822.4,598.0 823.2,596.6 824,593.5 824.8,590.6 825.6,591.9 826.4,589.3 827.2,590.2 828,590.3 828.8,591.8 829.6,591.9 830.4,592.0 831.2,589.6 832,586.5 832.8,585.5 833.6,586.8 834.4,585.9 835.2,584.8 836,585.1 836.8,584.8 837.6,579.6 838.4,577.3 839.2,573.6 840,569.0 840.8,563.3 841.6,558.8 842.4,551.5 843.17,547.0 844,551.2 844.8,561.5 845.6,572.7 846.4,579.8 846.54,579.4 847.2,576.1 848,568.6 848.8,563.1 849.6,558.9 850.4,557.3 851.2,556.0 852,556.2 852.8,556.6 853.6,556.3 854.4,555.9 855.2,556.9 856,555.6 856.8,553.9 857.6,551.0 858.4,552.2 859.2,552.6 860,551.9 860.8,553.3 861.6,552.3 862.4,551.2 863.2,549.8 864,547.4 864.8,547.3 865.6,546.3 866.4,548.2 867.2,550.8 868,555.1 868.8,554.0 869.6,557.7 870.4,557.1 871.2,556.2 872,556.3 872.8,555.8 873.6,557.5 874.4,557.7 875.2,558.0 876,558.4 876.8,557.3 877.6,557.6 878.4,560.0 879.2,559.0 880,558.2 880.8,560.7 881.6,562.7 882.4,563.7 883.2,563.6 884,566.8 884.8,567.0 885.6,565.5 886.4,569.0 887.2,572.1 888,573.5 888.8,573.0 889.6,565.9 890.4,555.3 891.2,547.7 892,549.5 892.8,555.9 893.6,562.5 894.4,568.0 895.2,574.3 896,576.2 896.8,574.2 897.6,570.2 898.4,566.4 899.2,562.5 900,560.9 900.8,560.4 901.6,557.5 902.4,558.7 903.2,559.6 904,558.4 904.8,557.6 905.6,556.3 906.4,556.7 907.2,558.2 908,555.6 908.8,554.5 909.6,552.9 910.4,551.7 911.2,554.4 912,556.0 912.8,556.9 913.6,560.3 914.4,561.8 915.2,562.2 916,566.0 916.8,568.2 917.6,572.0 918.4,572.8 919.2,579.3"/>
<path stroke="#000090" d="M96.0,621.1L96.8,623.6 97.6,627.0 98.4,629.1 99.2,631.9 100,632.8 100.8,633.2 101.6,631.9 102.4,631.7 103.2,630.9 104,631.0 104.8,631.5 105.6,631.4 106.4,631.0 107.2,632.7 108,633.6 108.8,632.2 109.6,632.8 110.4,634.8 111.2,634.9 112,634.6 112.8,633.9 113.6,633.8 114.4,631.7 115.2,629.6 116,632.7 116.8,638.6 117.6,645.1 118.4,648.6 119.2,647.9 120,646.0 120.8,649.6 121.6,647.2 122.4,639.8 123.2,632.6 124,628.7 124.8,632.0 125.6,636.0 126.4,643.4 127.2,648.5 128,646.8 128.8,646.0 129.6,642.5 130.4,639.2 131.2,638.3 132,632.3 132.8,629.1 133.6,627.2 134.4,625.4 135.2,626.8 136,631.7 136.8,634.9 137.6,637.6 138.4,633.4 139.2,632.4 140,630.4 140.8,627.6 141.6,625.2 142.4,625.0 143.2,623.9 144,623.3 144.8,622.0 145.6,615.4 146.4,606.2 147.2,601.7 148,605.9 148.8,616.7 149.11,620.1 149.6,629.9 150.4,638.4 150.68,638.8 151.2,634.0 152,625.3 152.26,625.0 152.8,623.3 153.6,621.8 154.4,622.2 155.2,623.9 156,623.6 156.8,624.0 157.6,620.9 158.4,622.6 159.2,621.0 160,622.6 160.8,621.7 161.6,622.7 162.4,621.5 163.2,620.3 164,622.8 164.8,621.6 165.6,622.3 166.4,624.8 167.2,625.7 168,625.1 168.8,624.5 169.6,624.4 170.4,625.1 171.2,626.3 172,627.5 172.8,630.3 173.6,633.7 174.4,633.6 175.2,634.3 176,632.4 176.8,626.7 177.6,624.6 178.4,621.9 179.2,622.3 180,619.9 180.8,619.2 181.6,620.7 182.4,619.3 183.2,619.4 184,620.1 184.8,616.4 185.6,619.5 186.4,620.6 187.2,622.0 188,624.1 188.8,627.0 189.6,630.3 190.4,631.9 191.2,628.9 192,627.1 192.8,626.8 193.6,625.9 194.4,628.5 195.2,626.9 196,628.3 196.8,628.1 197.6,628.3 198.4,626.7 199.2,628.6 200,629.3 200.8,626.5 201.6,626.4 202.4,622.8 203.2,622.3 204,620.1 204.8,621.9 205.6,620.2 206.4,620.2 207.2,619.0 208,621.6 208.8,624.2 209.6,624.1 210.4,623.8 211.2,621.0 212,621.9 212.8,620.4 213.6,618.2 214.4,620.4 215.2,621.5 216,622.2 216.8,622.8 217.6,625.3 218.4,625.9 219.2,628.7 220,628.9 220.8,628.6 221.6,631.4 222.4,630.8 223.2,631.7 224,630.5 224.8,629.6 225.6,631.8 226.4,632.6 227.2,636.7 228,641.5 228.8,647.8 229.6,648.9 230.4,651.4 231.2,649.7 232,649.4 232.8,646.1 233.6,646.1 234.4,641.5 235.2,637.2 235.51,633.2 236,628.5 236.8,613.5 237.6,604.3 237.76,603.2 238.4,599.2 239.2,595.3 239.56,596.2 240,604.7 240.8,640.0 241.14,646.6 241.6,631.7 242.26,606.5 242.4,606.8 243.2,618.0 244,628.6 244.8,625.7 245.6,628.7 246.4,628.7 247.2,627.3 248,627.5 248.8,628.1 249.6,627.6 250.4,628.7 251.2,629.9 252,630.3 252.8,628.2 253.6,628.1 254.4,628.3 255.2,629.8 256,628.5 256.8,628.5 257.6,629.1 258.4,628.1 259.2,627.8 260,628.8 260.8,628.0 261.6,625.8 262.4,625.9 263.2,626.0 264,623.9 264.8,623.8 265.6,625.7 266.4,623.9 267.2,625.2 268,625.8 268.8,626.1 269.6,626.5 270.4,629.2 271.2,632.8 272,635.2 272.8,640.9 273.6,643.5 274.4,641.3 275.2,636.3 276,633.9 276.8,632.6 277.6,634.2 278.4,633.0 279.2,634.1 280,635.3 280.8,639.2 281.6,644.2 282.4,647.0 283.2,642.6 284,638.9 284.8,633.6 285.6,631.8 286.4,631.8 287.2,632.8 288,630.9 288.8,627.3 289.6,626.9 290.4,625.2 291.2,621.3 292,619.5 292.8,622.6 293.6,625.3 294.4,626.7 295.2,629.7 296,628.4 296.8,631.7 297.6,630.1 298.4,628.1 299.2,627.8 300,624.5 300.8,621.2 301.6,623.9 302.4,629.5 303.2,637.0 304,642.3 304.8,639.4 305.6,634.9 306.4,630.6 307.2,626.3 308,625.1 308.8,624.6 309.6,625.5 310.4,625.6 311.2,626.8 312,628.9 312.8,633.3 313.6,635.9 314.4,635.4 315.2,635.2 316,631.2 316.8,627.2 317.6,626.6 318.4,623.5 319.2,620.9 320,619.3 320.8,618.3 321.6,618.3 322.4,620.8 323.2,622.9 324,626.0 324.8,628.0 325.6,629.4 326.4,629.4 327.2,630.3 328,633.8 328.8,638.7 329.6,643.8 330.4,644.9 331.2,646.7 332,646.0 332.8,646.9 333.6,646.1 334.4,645.5 335.2,643.4 336,644.9 336.8,647.2 337.6,653.5 338.4,657.3 339.2,658.5 340,656.6 340.8,655.8 341.6,653.5 342.4,646.6 343.2,639.5 344,632.9 344.8,631.1 345.6,625.2 346.4,624.1 347.2,622.2 348,618.3 348.8,614.5 349.6,605.9 350.28,597.2 350.4,594.3 351.2,550.1 352,513.7 352.8,588.7 353.43,647.8 353.6,647.6 354.4,627.0 354.78,619.9 355.2,622.5 356,625.8 356.8,629.4 357.6,628.1 358.4,628.8 359.2,627.9 360,625.7 360.8,626.4 361.6,628.9 362.4,629.5 363.2,631.1 364,633.1 364.8,638.2 365.6,643.1 366.4,645.2 367.2,640.8 368,637.0 368.8,637.0 369.6,637.6 370.4,637.4 371.2,637.6 372,637.7 372.8,641.3 373.6,645.0 374.4,646.4 375.2,648.8 376,645.7 376.8,640.0 377.6,634.2 378.4,629.0 379.2,625.4 380,623.1 380.8,622.7 381.6,622.2 382.4,621.2 383.2,620.5 384,620.8 384.8,619.3 385.6,621.3 386.4,620.8 387.2,621.0 388,619.4 388.8,621.1 389.6,624.0 390.4,626.0 391.2,629.3 392,629.1 392.8,627.5 393.6,624.7 394.4,622.4 395.2,620.6 396,623.5 396.8,623.2 397.6,623.2 398.4,624.8 399.2,626.4 400,624.2 400.8,622.8 401.6,622.7 402.4,622.0 403.2,621.9 404,623.0 404.8,621.3 405.6,620.8 406.4,622.5 407.2,625.5 408,625.9 408.8,624.3 409.6,627.4 410.4,625.2 411.2,626.7 412,627.2 412.8,625.9 413.6,627.1 414.4,625.8 415.2,629.1 416,629.8 416.8,628.8 417.6,626.8 418.4,626.9 419.2,626.2 420,628.0 420.8,631.0 421.6,632.6 422.4,634.7 423.2,634.3 424,628.9 424.8,622.9 425.6,617.1 426.4,613.6 426.78,609.4 427.2,592.4 428,524.3 428.58,498.8 428.8,499.2 429.6,497.2 430.16,498.2 430.4,505.1 431.2,580.5 431.73,611.0 432,610.0 432.8,604.0 433.53,600.0 434.4,607.9 435.2,616.3 435.78,620.7 436,622.8 436.8,619.2 437.6,613.5 438.03,612.2 438.4,610.1 439.2,620.4 440,630.2 440.28,633.7 440.8,635.8 441.6,639.2 442.4,641.1 443.2,636.7 444,633.5 444.8,629.4 445.6,628.4 446.4,625.3 447.2,621.6 448,621.9 448.8,621.6 449.6,620.5 450.4,621.1 451.2,619.5 452,621.3 452.8,622.5 453.6,625.1 454.4,626.8 455.2,626.0 456,625.7 456.8,625.5 457.6,625.5 458.4,624.7 459.2,623.2 460,620.4 460.8,620.0 461.6,619.6 462.4,624.4 463.2,629.4 464,634.8 464.8,639.2 465.6,638.7 466.4,638.7 467.2,635.3 468,635.5 468.8,632.8 469.6,634.3 470.4,636.3 471.2,637.4 472,639.6 472.8,642.1 473.6,647.0 474.4,648.1 475.2,646.0 476,638.7 476.8,633.4 477.6,632.7 478.4,631.1 479.2,629.8 480,628.7 480.8,627.5 481.6,626.7 482.4,629.4 483.2,632.4 484,634.3 484.8,631.6 485.6,631.5 486.4,627.6 487.2,627.9 488,626.0 488.8,625.4 489.6,626.0 490.4,624.2 491.2,624.1 492,625.3 492.8,626.7 493.6,629.2 494.4,628.2 495.2,628.4 496,629.5 496.8,628.4 497.6,629.5 498.4,630.4 499.2,629.6 500,632.3 500.8,632.4 501.6,632.9 502.4,635.0 503.2,634.9 504,633.3 504.8,634.5 505.6,632.1 506.4,629.6 507.2,627.0 508,626.4 508.15,629.4 508.8,628.8 509.6,628.3 510.4,629.1 511.2,628.3 512,629.5 512.8,632.1 513.6,636.2 514.4,638.5 515.2,639.0 516,642.6 516.8,644.3 517.6,642.9 518.4,637.4 519.2,635.0 520,630.7 520.8,631.7 521.6,634.2 522.4,634.3 523.2,637.5 524,644.5 524.8,650.4 525.6,652.9 526.4,649.7 527.2,643.1 528,637.6 528.8,635.2 529.6,632.0 530.4,631.8 531.2,630.2 532,630.9 532.8,634.0 533.6,632.5 534.4,631.9 535.2,629.7 536,627.4 536.8,626.2 537.6,626.4 538.4,628.7 539.2,628.6 540,629.4 540.8,631.4 541.6,632.4 542.4,632.7 543.2,631.9 544,631.3 544.8,630.9 545.6,631.7 546.4,630.8 547.2,635.4 548,637.0 548.8,634.8 549.6,632.7 550.4,628.6 551.2,629.8 552,635.3 552.8,640.6 553.6,644.0 554.4,647.6 555.2,641.1 556,632.3 556.8,633.6 557.6,635.2 558.4,633.4 559.2,634.0 560,631.9 560.8,631.4 561.6,631.9 562.4,629.6 563.2,629.8 564,632.4 564.8,635.3 565.6,638.9 566.4,640.3 567.2,641.6 568,637.6 568.8,638.4 569.6,637.6 570.4,639.0 571.2,638.8 572,643.0 572.8,643.8 573.6,648.3 574.4,651.5 575.2,650.1 576,649.3 576.8,641.3 577.6,634.4 578.4,629.4 579.2,630.2 580,628.8 580.8,626.7 581.6,629.0 582.4,629.4 583.2,627.9 584,627.9 584.48,626.5 584.8,624.7 585.6,613.0 586.28,600.7 587.2,591.1 587.86,587.2 588,586.9 588.8,593.3 589.43,602.5 589.6,602.1 590.4,615.1 591.2,622.0 592,620.5 592.8,620.7 593.6,620.8 594.4,621.9 595.2,622.5 596,622.5 596.8,624.3 597.6,623.3 598.4,623.4 599.2,621.1 600,616.0 600.8,616.7 601.6,615.1 602.4,617.4 603.2,617.9 604,618.8 604.8,619.9 605.6,619.0 606.4,618.2 607.2,617.8 608,617.3 608.8,617.7 609.6,617.5 610.4,618.4 611.2,617.0 612,619.7 612.8,621.0 613.6,620.5 614.4,622.9 615.2,623.7 616,624.1 616.8,625.8 617.6,627.2 618.4,623.5 619.2,620.4 620,618.4 620.8,618.4 621.6,615.2 622.4,615.7 623.2,616.7 624,615.2 624.8,612.1 625.6,612.4 626.4,613.4 627.2,613.8 628,618.3 628.8,618.5 629.6,619.5 630.4,618.0 631.2,617.4 632,616.0 632.8,613.3 633.6,612.4 634.4,614.6 635.2,615.7 636,614.3 636.8,613.5 637.6,614.4 638.4,615.0 639.2,614.6 640,616.5 640.8,616.7 641.6,618.7 642.4,620.5 643.2,620.3 644,622.0 644.8,620.5 645.6,619.3 646.4,616.5 647.2,616.7 648,616.9 648.8,617.9 649.6,618.5 650.4,619.1 651.2,618.4 652,618.5 652.8,615.6 653.6,616.7 654.4,616.4 655.2,616.1 656,618.2 656.8,618.7 657.6,617.6 658.4,614.0 659.2,611.5 660,609.5 660.8,609.3 661.6,608.0 662.4,606.1 663.2,612.2 664,620.1 664.8,623.3 665.6,627.9 666.4,630.8 667.2,632.9 668,635.3 668.8,636.8 669.6,639.6 670.4,640.7 671.2,642.3 672,639.1 672.8,633.2 673.6,632.1 674.4,628.4 675.2,627.6 676,627.3 676.8,628.7 677.6,629.7 678.4,633.7 679.2,634.6 680,635.0 680.8,632.5 681.6,631.3 682.4,627.0 683.2,621.4 684,617.1 684.8,614.7 685.6,614.8 686.4,614.3 687.2,620.4 688,622.4 688.8,624.2 689.6,625.8 690.4,625.7 691.2,627.0 692,627.0 692.8,626.9 693.6,625.4 694.4,626.8 695.2,626.9 696,626.4 696.8,626.7 697.6,627.1 698.4,627.0 699.2,629.4 700,625.2 700.8,622.9 701.6,622.3 702.4,620.8 703.2,619.6 704,618.0 704.8,614.6 705.6,613.8 706.4,614.4 707.2,612.5 708,610.1 708.8,610.2 709.6,609.3 710.4,609.9 711.2,613.2 712,618.9 712.8,623.4 713.6,621.6 714.4,624.3 715.2,623.3 716,620.9 716.8,620.4 717.6,618.9 718.4,617.6 719.2,614.5 720,616.5 720.8,616.4 721.6,618.5 722.4,622.1 723.2,627.2 724,633.3 724.8,638.9 725.6,642.2 726.4,645.9 727.2,649.9 728,651.0 728.8,652.5 729.6,654.6 730.4,656.2 731.2,655.9 732,658.3 732.8,660.4 733.6,661.5 734.4,658.4 735.2,654.8 736,653.8 736.8,654.9 737.6,651.6 738.4,650.0 739.2,646.7 740,640.5 740.8,634.3 741.6,629.0 742.4,626.6 743.2,625.1 744,624.2 744.8,623.7 745.6,626.3 746.4,627.0 747.2,628.8 748,627.1 748.8,627.7 749.6,630.1 750.4,632.5 751.2,637.5 752,642.5 752.8,648.4 753.6,650.7 754.4,653.7 755.2,655.7 756,657.3 756.8,659.7 757.6,660.5 758.4,662.1 759.2,664.7 760,667.2 760.8,672.0 761.6,667.7 762.4,667.2 763.2,659.0 764,654.6 764.8,648.0 765.56,643.2 766.4,637.7 767.2,632.3 768,628.5 768.8,624.7 769.6,624.0 770.4,622.8 771.2,622.4 772,622.0 772.8,620.7 773.6,625.5 774.4,627.7 775.2,629.2 776,629.4 776.8,627.8 777.6,622.7 778.4,619.0 779.2,615.3 780,613.6 780.8,612.9 781.6,609.4 782.4,610.7 783.2,613.8 784,616.3 784.8,618.6 785.6,619.1 786.4,621.8 787.2,623.4 788,622.5 788.8,624.5 789.6,623.4 790.4,622.7 791.2,623.9 792,623.9 792.8,627.4 793.6,629.0 794.4,630.7 795.2,629.4 796,627.1 796.8,624.8 797.6,623.8 798.4,622.9 799.2,627.7 800,631.3 800.8,633.7 801.6,638.2 802.4,639.6 803.2,642.4 804,644.4 804.8,646.4 805.6,648.2 806.4,649.6 807.2,653.4 808,659.2 808.8,667.1 809.6,667.1 810.4,666.9 811.2,666.5 812,666.5 812.8,666.0 813.6,668.3 814.4,667.7 815.2,673.0 816,675.1 816.8,677.2 817.6,683.3 818.4,683.0 819.2,683.9 820,680.4 820.8,679.0 821.6,677.8 822.4,676.5 823.2,671.9 824,670.6 824.8,668.3 825.6,661.5 826.4,654.1 827.2,651.4 828,651.5 828.8,658.1 829.6,660.2 830.4,658.9 831.2,656.2 832,651.4 832.8,649.7 833.6,646.4 834.4,645.8 835.2,644.2 836,645.5 836.8,642.2 837.6,641.2 838.4,639.9 839.2,635.2 840,630.3 840.8,628.2 841.6,625.5 842.4,625.0 843.2,629.0 844,636.5 844.8,643.2 845.6,645.2 846.4,639.3 847.2,630.9 848,625.7 848.8,622.6 849.6,621.7 850.4,619.0 851.2,619.9 852,618.4 852.8,619.2 853.6,618.2 854.4,618.9 855.2,617.2 856,614.0 856.8,609.6 857.6,610.9 858.4,611.9 859.2,612.1 860,612.6 860.8,615.6 861.6,614.2 862.4,614.5 863.2,614.6 864,616.4 864.8,617.4 865.6,618.3 866.4,616.4 867.2,616.6 868,614.6 868.8,614.9 869.6,614.8 870.4,613.6 871.2,615.8 872,617.1 872.8,617.5 873.6,619.0 874.4,619.0 875.2,618.8 876,620.3 876.8,618.0 877.6,617.6 878.4,619.3 879.2,624.3 880,625.5 880.8,626.2 881.6,628.2 882.4,626.7 883.2,628.8 884,630.7 884.8,632.1 885.6,633.7 886.4,635.8 887.2,637.2 888,637.8 888.8,635.4 889.6,629.8 890.4,625.0 891.2,623.6 892,621.6 892.8,625.7 893.6,633.2 894.4,637.9 895.2,638.2 896,636.8 896.8,631.4 897.6,629.0 898.4,625.7 899.2,622.5 900,620.4 900.8,620.1 901.6,620.2 902.4,619.2 903.2,620.4 904,616.9 904.8,617.5 905.6,617.6 906.4,618.0 907.2,618.4 908,617.5 908.8,619.5 909.6,620.8 910.4,624.5 911.2,627.2 912,628.5 912.8,630.0 913.6,628.1 914.4,629.9 915.2,627.7 916,631.7 916.8,633.8 917.6,637.8 918.4,639.4 919.2,639.5 920,635.1 920.8,629.0"/>
<path stroke="#100070" d="M96.0,696.3L96.8,699.1 97.6,702.5 98.4,701.8 99.2,700.3 100,698.3 100.8,698.1 101.6,695.8 102.4,695.8 103.2,697.2 104,696.8 104.8,696.7 105.6,695.1 106.4,694.2 107.2,692.4 108,692.8 108.8,694.5 109.6,693.4 110.4,690.8 111.2,690.6 112,691.4 112.8,692.3 113.6,693.2 114.4,693.8 115.2,693.0 116,693.0 116.8,694.7 117.6,697.5 118.4,699.1 119.2,700.8 120,702.1 120.8,705.8 121.6,705.9 122.4,708.6 123.2,705.6 124,704.5 124.8,701.5 125.6,700.0 126.4,702.1 127.2,699.8 128,704.3 128.8,704.2 129.6,701.5 130.4,697.8 131.2,693.3 132,692.1 132.8,691.5 133.6,691.6 134.4,693.2 135.2,692.0 136,690.7 136.8,694.2 137.6,695.5 138.4,699.6 139.2,697.0 140,696.2 140.8,695.4 141.6,691.0 142.4,690.4 143.2,687.5 144,686.9 144.8,684.1 145.5,681.9 146.4,673.9 147.2,663.9 148,651.4 148.8,642.4 149.6,648.1 150.4,658.6 151.13,670.3 152,673.6 152.8,679.4 153.6,681.9 154.4,684.8 155.2,688.2 156,688.5 156.8,689.3 157.6,690.0 158.4,689.0 159.2,690.1 160,690.0 160.8,688.1 161.6,688.5 162.4,690.4 163.2,692.3 164,691.2 164.8,687.6 165.6,684.8 166.4,681.7 167.2,682.9 168,683.8 168.8,686.0 169.6,687.6 170.4,689.6 171.2,688.4 172,689.2 172.8,689.2 173.6,688.2 174.4,687.1 175.2,684.3 176,685.4 176.8,685.9 177.6,685.9 178.4,687.0 179.2,687.8 180,687.7 180.8,686.9 181.6,686.9 182.4,685.1 183.2,685.3 184,686.2 184.8,684.9 185.6,684.5 186.4,684.4 187.2,684.4 188,687.9 188.8,688.1 189.6,689.4 190.4,688.6 191.2,687.8 192,684.2 192.8,685.8 193.6,683.6 194.4,684.5 195.2,684.7 196,688.2 196.8,685.7 197.6,687.8 198.4,688.7 199.2,687.8 200,687.0 200.8,689.7 201.6,692.3 202.4,694.1 203.2,694.7 204,691.7 204.8,689.2 205.6,690.7 206.4,686.5 207.2,688.2 208,688.1 208.8,687.2 209.6,686.3 210.4,686.5 211.2,687.4 212,687.5 212.8,688.0 213.6,689.7 214.4,688.9 215.2,690.7 216,690.6 216.8,691.9 217.6,692.3 218.4,693.9 219.2,693.1 220,690.9 220.8,691.5 221.6,695.3 222.4,695.6 223.2,699.3 224,698.3 224.8,700.4 225.6,703.8 226.4,704.1 227.2,704.5 228,704.3 228.8,708.0 229.6,708.5 230.4,710.0 231.2,707.8 232,708.8 232.8,711.2 233.6,715.3 234.4,715.7 234.84,719.5 235.2,718.9 236,709.9 236.64,701.2 236.8,696.8 237.6,683.0 238.4,667.7 238.89,655.3 239.2,644.9 240,610.5 240.46,602.8 240.8,603.6 241.6,619.4 242.26,632.0 242.4,636.5 243.2,654.3 244,669.3 244.51,676.4 244.8,681.3 245.6,687.7 246.4,690.0 247.2,691.3 248,690.0 248.8,690.2 249.6,689.1 250.4,689.2 251.2,690.5 252,690.3 252.8,692.6 253.6,690.8 254.4,688.6 255.2,686.0 256,684.1 256.8,687.1 257.6,687.7 258.4,689.2 259.2,689.9 260,691.0 260.8,689.8 261.6,687.8 262.4,686.9 263.2,687.2 264,686.1 264.8,687.7 265.6,685.4 266.4,684.6 267.2,685.1 268,685.8 268.8,686.6 269.6,685.8 270.4,689.4 271.2,691.1 272,692.5 272.8,695.6 273.6,699.7 274.4,701.3 275.2,708.2 276,709.1 276.8,707.0 277.6,704.3 278.4,702.0 279.2,701.6 280,704.0 280.8,708.6 281.6,711.0 282.4,712.2 283.2,707.0 284,704.1 284.8,698.9 285.6,695.3 286.4,693.7 287.2,692.0 288,691.3 288.8,690.3 289.6,686.7 290.4,684.6 291.2,684.1 292,681.2 292.8,679.6 293.6,679.0 294.4,678.9 295.2,682.9 296,688.7 296.8,695.9 297.6,699.0 298.4,698.5 299.2,700.1 300,701.6 300.8,699.5 301.6,699.5 302.4,697.2 303.2,695.1 304,694.5 304.8,696.9 305.6,698.2 306.4,702.0 307.2,704.3 308,704.2 308.8,700.4 309.6,700.8 310.4,699.3 311.2,698.9 312,697.9 312.8,694.3 313.6,694.3 314.4,692.7 315.2,694.2 316,694.4 316.8,693.2 317.6,695.1 318.4,693.6 319.2,692.3 320,695.0 320.8,692.3 321.6,693.7 322.4,693.2 323.2,690.7 324,690.9 324.8,688.9 325.6,689.6 326.4,688.5 327.2,687.7 328,687.6 328.8,687.2 329.6,689.2 330.4,688.5 331.2,694.5 332,707.3 332.72,714.3 333.6,723.7 334.4,728.3 335.2,728.2 336,727.6 336.8,724.1 337.6,721.7 338.4,719.4 339.2,717.5 340,713.6 340.8,709.8 341.6,704.9 342.4,700.3 343.2,694.6 344,689.3 344.8,685.5 345.6,680.7 346.4,680.7 347.2,678.8 348,674.0 348.8,668.2 349.6,664.8 350.4,656.8 351.2,654.2 351.4,653.4 352,645.7 352.8,636.7 353.6,633.0 354.4,634.8 355.2,644.9 355.9,651.8 356.8,670.1 357.6,682.8 358.15,689.2 358.4,689.6 359.2,691.6 360,692.6 360.8,692.4 361.6,690.7 362.4,692.2 363.2,692.0 364,695.1 364.8,696.3 365.6,701.9 366.4,709.3 367.2,715.0 368,715.8 368.8,714.5 369.6,714.7 370.4,715.2 371.2,716.5 372,714.1 372.8,710.9 373.6,708.7 374.4,704.9 375.2,699.9 376,696.7 376.8,689.3 377.6,685.2 378.4,679.6 379.2,672.6 380,669.6 380.8,668.8 381.6,668.7 382.4,668.7 383.2,670.8 384,678.6 384.8,686.7 385.6,686.1 386.4,688.4 387.2,688.8 388,687.2 388.8,688.3 389.6,692.0 390.4,693.3 391.2,691.8 392,694.3 392.8,693.2 393.6,690.4 394.4,689.5 395.2,688.7 396,689.8 396.8,690.5 397.6,692.8 398.4,692.8 399.2,691.6 400,690.1 400.8,688.1 401.6,686.8 402.4,686.2 403.2,687.1 404,688.3 404.8,690.1 405.6,689.5 406.4,691.3 407.2,690.5 408,692.1 408.8,693.6 409.6,694.9 410.4,694.3 411.2,694.9 412,695.9 412.8,695.8 413.6,695.6 414.4,698.3 415.2,694.9 416,695.6 416.8,696.1 417.6,695.0 418.4,691.7 419.2,692.9 420,693.4 420.8,700.1 421.6,699.5 422.4,698.7 423.2,696.6 424,694.5 424.8,690.0 424.98,692.2 425.6,685.2 426.4,666.8 426.78,655.5 427.2,626.1 428,532.7 428.58,497.1 428.8,502.2 429.6,561.5 430.16,610.5 430.4,628.5 431.2,690.8 431.73,723.0 432,735.5 432.8,769.6 433.53,784.0 434.4,744.9 435.2,701.6 435.33,700.0 436,699.7 436.8,697.6 437.6,697.4 438.4,698.3 439.2,705.6 440,713.4 440.8,710.1 441.6,704.3 442.4,697.5 443.2,696.2 444,698.3 444.8,696.3 445.6,695.5 446.4,690.9 447.2,690.3 448,689.9 448.8,688.9 449.6,687.9 450.4,685.0 451.2,684.9 452,682.7 452.8,684.5 453.6,684.1 454.4,684.2 455.2,684.4 456,685.5 456.8,685.3 457.6,686.7 458.4,689.0 459.2,689.6 460,692.7 460.8,690.6 461.6,693.2 462.4,692.3 463.2,693.8 464,695.8 464.8,698.0 465.6,700.1 466.4,701.0 467.2,701.4 468,704.5 468.8,706.6 469.6,707.8 470.4,709.8 471.2,709.8 472,709.9 472.8,711.8 473.6,712.0 474.4,710.3 475.2,705.4 476,700.3 476.8,696.8 477.6,694.8 478.4,695.6 479.2,696.0 480,694.2 480.8,695.2 481.6,694.4 482.4,695.0 483.2,693.7 484,691.9 484.8,693.2 485.6,690.3 486.4,691.6 487.2,692.2 488,690.7 488.8,688.8 489.6,688.2 490.4,687.5 491.2,689.3 492,690.8 492.8,692.6 493.6,692.1 494.4,691.2 495.2,694.4 496,693.9 496.8,693.6 497.6,696.5 498.4,697.5 499.2,698.1 500,696.9 500.8,696.7 501.6,696.5 502.4,697.8 503.2,696.2 504,695.7 504.8,694.6 505.6,694.0 506.4,691.5 507.2,691.8 508,691.2 508.8,690.6 509.6,689.8 510.4,689.1 511.2,688.2 512,690.1 512.8,693.8 513.6,693.2 514.4,694.6 515.2,698.8 516,700.8 516.8,702.8 517.6,704.8 518.4,705.7 519.2,703.2 520,700.6 520.8,700.7 521.6,698.8 522.4,700.4 523.2,698.2 524,701.7 524.8,704.0 525.6,702.9 526.4,700.9 527.2,698.4 528,695.1 528.8,696.0 529.6,693.3 530.4,693.6 531.2,691.7 532,690.9 532.8,692.0 533.6,691.1 534.4,691.2 535.2,691.0 536,691.3 536.8,689.4 537.6,692.3 538.4,693.5 539.2,692.6 540,691.9 540.8,692.9 541.6,692.9 542.4,689.7 543.2,686.1 544,688.4 544.8,688.4 545.6,690.9 546.4,695.6 547.2,701.9 548,708.4 548.8,709.4 549.6,709.2 550.4,710.7 551.2,713.4 552,712.3 552.8,711.9 553.6,709.2 554.4,708.2 555.2,703.2 556,698.8 556.8,694.6 557.6,695.9 558.4,696.9 559.2,695.0 560,694.9 560.8,694.8 561.6,692.3 562.4,690.9 563.2,691.5 564,695.9 564.8,697.2 565.6,700.3 566.4,706.4 567.2,710.5 568,714.2 568.8,716.2 569.6,715.8 570.4,714.0 571.2,713.1 572,712.6 572.8,713.6 573.6,715.4 574.4,716.0 575.2,715.7 576,708.9 576.8,704.0 577.6,699.4 578.4,696.7 579.2,693.1 580,691.6 580.8,690.1 581.6,689.3 582.4,685.6 583.2,683.5 583.36,682.3 584,673.5 584.8,659.7 585.6,651.7 586.4,652.3 587.2,656.4 588,651.5 588.8,651.9 589.6,653.1 590.4,657.2 591.2,661.3 591.68,668.5 592,669.0 592.8,681.8 593.48,687.5 593.6,686.5 594.4,686.5 595.2,685.9 596,683.3 596.8,682.4 597.6,680.0 598.4,678.9 599.2,678.0 600,679.2 600.8,679.7 601.6,679.3 602.4,681.0 603.2,682.7 604,684.4 604.8,684.6 605.6,684.3 606.4,685.5 607.2,685.4 608,684.8 608.8,684.4 609.6,685.0 610.4,685.4 611.2,684.6 612,684.3 612.8,683.2 613.6,684.3 614.4,684.4 615.2,685.7 616,682.6 616.8,682.4 617.6,681.7 618.4,678.5 619.2,674.8 620,678.1 620.8,678.5 621.6,679.3 622.4,681.3 623.2,682.7 624,680.9 624.8,683.2 625.6,683.9 626.4,684.6 627.2,681.7 628,681.3 628.8,680.9 629.6,681.3 630.4,682.7 631.2,680.2 632,680.8 632.8,684.3 633.6,682.2 634.4,682.0 635.2,684.0 636,683.1 636.8,681.8 637.6,681.6 638.4,682.2 639.2,681.7 640,682.1 640.8,682.3 641.6,681.8 642.4,685.3 643.2,687.1 644,687.5 644.8,689.2 645.6,690.3 646.4,689.5 647.2,690.3 648,688.9 648.8,688.1 649.6,686.9 650.4,683.0 651.2,683.1 652,682.4 652.8,682.0 653.6,683.2 654.4,680.3 655.2,680.8 656,680.9 656.8,679.9 657.6,680.3 658.4,678.7 659.2,678.4 660,677.9 660.8,677.3 661.6,674.4 662.4,674.0 663.2,673.5 664,674.9 664.8,677.8 665.6,683.2 666.4,686.4 667.2,688.2 668,689.0 668.8,692.5 669.6,696.9 670.4,700.5 671.2,705.6 672,710.1 672.8,711.0 673.6,709.3 674.4,705.8 675.2,701.9 676,701.8 676.8,703.6 677.6,704.4 678.4,704.6 678.96,705.4 679.2,704.7 680,697.3 680.8,687.7 681.6,680.8 682.4,680.7 683.2,682.6 684,684.8 684.8,686.4 685.6,685.0 686.4,683.6 687.2,682.7 688,683.1 688.8,682.1 689.6,682.4 690.4,678.9 691.2,680.4 692,679.2 692.8,679.6 693.6,677.3 694.4,679.4 695.2,678.5 696,682.8 696.8,688.1 697.6,689.6 698.4,688.7 699.2,689.4 700,687.3 700.8,687.4 701.6,686.5 702.4,685.4 703.2,684.0 704,684.6 704.8,681.5 705.6,678.8 706.4,680.1 707.2,677.8 708,680.4 708.8,682.4 709.6,683.9 710.4,685.2 711.2,684.1 712,684.2 712.8,683.8 713.6,682.8 714.4,683.9 715.2,683.3 716,682.8 716.8,681.9 717.6,681.8 718.4,682.5 719.2,683.6 720,683.9 720.8,684.6 721.6,686.2 722.4,686.2 723.2,686.5 723.5,685.7 724,686.8 724.8,697.6 725.07,701.8 725.6,704.4 726.4,710.6 727.2,713.1 728,717.2 728.8,718.7 729.6,719.6 730.4,719.4 731.2,721.4 732,723.7 732.8,726.3 733.6,728.2 734.4,726.3 735.2,719.4 736,716.0 736.8,708.7 737.6,709.5 738.4,705.9 739.2,701.5 740,699.0 740.8,695.7 741.6,696.0 742.4,694.1 743.2,691.0 744,691.9 744.8,689.4 745.6,692.2 746.4,692.1 747.2,691.2 748,693.2 748.8,693.0 749.6,692.0 750.4,695.9 751.2,698.3 752,702.1 752.8,710.5 753.6,718.9 754.32,723.1 755.2,730.2 756,736.8 756.8,739.2 757.6,739.4 758.4,737.7 759.2,737.6 760,734.7 760.8,732.1 761.6,728.3 762.4,724.9 763.2,721.4 764,716.7 764.8,713.5 765.6,709.3 766.4,704.2 767.2,697.4 768,692.0 768.8,689.8 769.6,688.8 770.4,689.3 771.2,691.4 772,691.9 772.8,692.9 773.6,694.6 774.4,695.4 775.2,697.8 776,700.8 776.8,703.0 777.49,704.1 778.4,698.0 779.2,689.1 780,682.5 780.19,683.1 780.8,680.6 781.6,681.7 782.4,683.0 783.2,683.9 784,682.4 784.8,683.6 785.6,684.6 786.4,684.4 787.2,683.8 788,683.0 788.8,683.1 789.6,683.2 790.4,686.0 791.2,686.7 792,687.1 792.8,684.8 793.6,688.8 794.4,687.2 795.2,691.8 796,696.1 796.8,699.5 797.6,699.7 798.4,692.0 799.2,687.4 800,682.6 800.8,689.3 801.6,695.0 802.4,700.4 803.2,701.6 804,704.6 804.8,704.4 805.6,704.9 806.4,706.3 807.2,711.2 808,715.8 808.8,721.5 808.98,724.1 809.6,727.6 810.4,734.3 811.2,741.0 812,752.0 812.8,760.4 813.6,757.9 814.4,750.6 815.2,745.2 816,740.0 816.8,737.8 817.6,737.3 818.4,735.9 819.2,732.3 820,728.1 820.8,724.6 821.6,725.8 822.4,730.0 823.2,733.1 824,736.5 824.8,735.5 825.6,736.3 826.4,735.7 827.2,734.1 828,733.1 828.8,730.3 829.6,726.4 830.4,721.9 831.2,717.9 832,713.7 832.8,708.6 833.6,704.0 834.4,700.4 835.2,697.7 836,694.5 836.8,692.1 837.6,693.8 838.4,696.6 839.2,700.5 840,701.1 840.8,702.8 841.6,701.9 842.4,701.3 843.2,699.6 844,700.4 844.8,701.6 845.6,699.4 846.4,700.3 847.2,697.4 848,691.3 848.79,684.8 849.6,673.6 850.37,665.7 851.2,667.7 852,677.4 852.8,681.0 853.6,687.6 854.4,693.2 855.2,695.3 856,695.7 856.8,694.0 857.6,689.6 858.4,687.6 859.2,685.1 860,684.3 860.8,683.5 861.6,681.9 862.4,681.8 863.2,680.7 864,681.8 864.8,680.5 865.6,682.0 866.4,683.4 867.2,682.6 868,682.7 868.8,684.0 869.6,685.6 870.4,685.4 871.2,687.3 872,686.5 872.8,685.6 873.6,684.1 874.4,683.8 875.2,678.6 876,680.6 876.8,683.8 877.6,689.2 878.4,691.8 879.2,692.7 880,694.7 880.8,695.1 881.6,695.6 882.4,694.6 883.2,695.5 884,693.8 884.8,694.2 885.6,695.4 886.4,694.4 887.2,700.9 888,707.4 888.8,711.5 889.6,703.7 890.4,694.9 891.2,689.9 892,690.3 892.8,692.2 893.6,695.0 894.4,699.9 895.2,700.7 896,697.8 896.8,692.8 897.6,688.7 898.4,684.9 899.2,685.1 900,683.4 900.8,683.8 901.6,682.7 902.4,683.3 903.2,683.6 904,683.5 904.8,684.3 905.6,684.0 906.4,685.3 907.2,686.0 908,685.7 908.8,684.3 909.6,686.0 910.4,690.0 911.2,688.4 912,688.4 912.8,690.1 913.6,692.2 914.4,693.1 915.2,692.2 916,690.4 916.8,687.2 917.6,688.1 918.4,690.0 919.2,692.3 920,696.7 920.8,702.4"/>
</g>
<g clip-path="url(#cr)" fill="none" stroke-width="1.6" stroke-linejoin="round">
<path stroke="#c00000" d="M941.0,42.1L941.7,34.5 942.4,28.4 943.1,24.2 943.8,30.5 944.5,29.2 945.2,38.5 945.9,36.0 946.6,41.8 947.3,49.2 948,43.8 948.7,54.0 949.4,50.6 950.1,50.7 950.8,51.5 951.5,51.3 952.2,52.2 952.9,58.7 953.6,58.5 954.3,58.5 955,59.7 955.7,65.6 956.4,68.3 957.1,76.4 957.8,64.1 958.5,73.8 959.2,60.3 959.9,60.1 960.6,54.8 961.3,43.8 962,42.0 962.7,37.1 963.4,35.4 964.1,36.8 964.8,43.3 965.5,50.8 966.2,46.1 966.9,43.8 967.6,39.7 968,30.5 968.3,32.4 969,34.4 969.7,51.0 970.25,58.6 970.4,56.2 971.1,63.6 971.8,69.0 972.5,82.4 973.2,72.6 973.9,60.6 974.6,56.3 974.75,55.5 975.3,57.8 976,53.9 976.7,51.2 977.4,49.4 978.1,38.6 978.8,37.3 979.5,37.6 980.2,41.0 980.9,47.3 981.6,43.6 982.3,40.4 983,49.2 983.7,39.5 984.4,46.4 985.1,37.1 985.8,48.8 986.5,46.7 987.2,47.9 987.9,54.0 988.6,50.8 989.3,49.7 990,48.0 990.7,48.5 991.4,45.5 992.1,49.3 992.8,45.4 993.5,43.6 994.2,41.3 994.9,39.3 995.6,37.6 996.3,45.5 997,42.2 997.7,49.9 998.4,43.4 999.1,51.1 999.8,40.2 1000.5,41.0 1001.2,39.3 1001.9,42.1 1002.6,41.1 1003.3,41.1 1004,36.8 1004.7,40.2 1005.4,36.6 1006.1,43.8 1006.8,40.2 1007.5,43.7 1008.2,48.3 1008.9,41.6 1009.6,39.3 1010.3,39.9 1011,36.7 1011.7,37.1 1012.4,40.9 1013.1,45.7 1013.8,49.2 1014.5,55.7 1015.2,51.4 1015.9,58.0 1016.6,52.2 1017.3,57.1 1018,55.4 1018.7,63.2 1019.4,63.9 1020.1,71.0 1020.8,69.8 1021.5,82.6 1022.01,89.2 1022.2,90.1 1022.9,107.7 1023.6,108.4 1023.81,117.0 1024.3,111.3 1025,105.4 1025.7,95.5 1026.06,88.6 1026.4,78.7 1027.1,75.7 1027.8,75.6 1028.5,67.8 1028.76,64.2 1029.2,62.3 1029.9,59.6 1030.6,55.4 1031.3,50.7 1032,50.4 1032.7,41.9 1033.26,35.1 1033.4,30.7 1034.1,17.9 1034.8,2.3 1035.06,-2.2 1035.5,5.9 1036.2,2.3 1036.63,3.1 1036.9,4.1 1037.6,40.2 1038.21,60.7 1039,35.7 1039.7,7.5 1040.01,5.8 1040.4,12.2 1041.1,54.4 1041.8,78.5 1042.5,63.8 1043.2,28.5 1043.9,5.0 1044.06,10.7 1044.6,10.5 1045.3,1.5 1045.86,2.7 1046,-5.6 1046.2,-20.0 1046.7,-15.7 1047.4,-19.6 1048.1,-21.6 1048.8,-12.6 1049.2,-20.0 1049.5,94.7 1050.2,513.6 1050.9,94.7 1051.2,-20.0 1051.6,4.0 1052.3,60.9 1053,46.8 1053.51,38.4 1053.7,36.2 1054.4,39.5 1055.1,39.1 1055.8,45.2 1056.5,46.1 1057.2,44.5 1057.9,52.5 1058.6,45.8 1059.3,45.6 1060,40.9 1060.7,43.9 1061.4,39.1 1062.1,44.1 1062.8,43.5 1063.5,54.6 1064.2,50.2 1064.9,46.3 1065.6,50.6 1066.3,55.2 1067,43.2 1067.7,39.1 1068.4,36.9 1069.1,35.0 1069.8,28.0 1070.5,28.2 1071.2,24.8 1071.9,28.8 1072.6,31.1 1073.3,37.8 1074,36.9 1074.7,37.0 1075.4,43.8 1076.1,41.8 1076.8,51.7 1077.5,44.2 1078.2,36.2 1078.9,32.9 1079.6,29.1 1080.3,30.7 1081,31.1 1081.7,31.3 1082.4,37.7 1083.1,37.9 1083.8,38.1 1084.5,42.3 1085.2,36.1 1085.9,35.1 1086.6,35.9 1087.3,37.8 1088,39.1 1088.7,53.9 1089.4,44.3 1090.1,44.0 1090.8,38.2 1091.5,38.0 1092.2,39.0 1092.9,38.5 1093.6,49.3 1094.3,49.9 1095,51.2 1095.7,50.3 1096.4,59.9 1096.72,42.4 1097.1,36.5 1097.8,21.9 1098.5,4.5 1099.2,4.6 1099.9,-1.5 1100.6,-3.4 1100.77,-1.5 1101.3,14.6 1102,45.5 1102.57,59.3 1102.7,58.5 1103.4,40.1 1104.1,13.7 1104.8,-3.4 1105.5,1.5 1106.2,3.1 1106.9,4.7 1107.52,5.3 1108.3,37.9 1108.64,51.1 1109,53.4 1109.7,65.0 1110.4,62.5 1111.1,61.8 1111.8,59.1 1112.5,50.9 1113.2,44.5 1113.9,33.4 1114.6,36.7 1115.3,41.5 1116,55.7 1116.7,58.8 1117.4,56.4 1118.1,57.8 1118.8,59.9 1119.5,53.1 1120.2,42.8 1120.9,42.2 1121.6,42.2 1122.3,38.8 1123,43.5 1123.7,40.4 1124.4,35.6 1125.1,37.8 1125.8,44.0 1126.5,50.5 1127.2,53.9 1127.9,51.0 1128.6,50.0 1129.3,40.2 1130,42.3 1130.7,41.2 1131.4,33.1 1132.1,32.9 1132.8,39.4 1133.5,43.7 1134.2,32.8 1134.9,31.5 1135.6,25.0 1136.3,29.3 1137,33.5 1137.7,38.4 1138.4,41.1 1139.1,35.0 1139.8,38.3 1140.5,36.3 1141.2,40.4 1141.9,47.0 1142.6,44.6 1143.3,47.2 1144,55.9 1144.7,55.1 1145.4,68.5 1146.1,70.1 1146.8,79.5 1147.5,77.4 1148.2,82.2 1148.9,93.6 1149.6,101.8 1149.82,106.3 1150.3,93.3 1151,98.7 1151.7,95.7 1152.4,79.5 1152.52,78.3 1153.1,74.8 1153.8,71.7 1154.32,63.6 1154.5,63.3 1155.2,58.0 1155.9,53.1 1156.6,47.4 1157.3,46.1 1158,45.8 1158.7,55.3 1159.4,60.5 1160.1,53.8 1160.8,53.9 1161.5,52.9 1162.2,45.7 1162.65,49.1 1162.9,47.3 1163.6,54.6 1164.3,72.3 1164.9,81.5 1165.7,68.3 1166.4,58.6 1167.1,43.3 1167.8,51.6 1168.5,54.9 1169.2,51.3 1169.9,64.0 1170.6,61.0 1171.3,59.2 1172,63.3 1172.7,54.7 1173.4,45.0 1173.9,48.1 1174.1,43.9 1174.8,26.7 1175.5,10.0 1176.15,-1.7 1176.9,12.3 1177.6,27.0 1178.3,24.6 1179,29.1 1179.7,12.4 1180.4,9.8 1180.65,6.0 1181.1,4.5 1181.8,-1.0 1182.5,1.7 1182.9,0.4 1183.2,2.6 1183.9,11.9 1184.6,25.3 1185.15,30.0 1185.3,37.1 1186,37.1 1186.7,39.4 1187.4,46.7 1188.1,44.4 1188.8,39.3 1189.5,51.5 1190.2,40.2 1190.9,46.6 1191.6,47.6 1192.3,40.0 1193,39.2 1193.7,36.0 1194.4,39.5 1195.1,32.7 1195.8,46.2 1196.5,38.0 1197.2,37.9 1197.9,47.8 1198.6,48.4 1199.3,45.8 1200,45.0 1200.7,39.4 1201.4,39.3 1202.1,34.7 1202.8,32.3 1203.5,45.3 1204.2,44.7 1204.9,44.3 1205.6,46.1 1206.3,36.8 1207,40.8 1207.7,36.3 1208.4,31.1 1209.1,29.3 1209.8,40.8 1210.5,35.0 1211.2,31.2 1211.9,29.8 1212.6,34.6 1213.3,32.2 1214,41.0 1214.7,35.7 1215.4,45.2 1216.1,30.4 1216.8,41.1 1217.5,44.4 1218.2,40.6 1218.9,42.6 1219.6,39.4 1220.3,40.0 1221,39.2 1221.7,31.0 1222.4,36.3 1223.1,35.0 1223.8,41.4 1224.5,45.2 1225.2,34.9 1225.9,48.1 1226.6,47.9 1227.3,48.3 1228,47.0 1228.7,50.4 1229.4,39.7 1230.1,47.9 1230.8,47.8 1231.5,43.7 1232.2,47.7 1232.9,46.8 1233.6,45.4 1234.3,41.1 1235,43.0 1235.7,49.7 1236.4,47.9 1237.1,44.3 1237.8,42.8 1238.5,44.5 1239.2,45.6 1239.9,38.3 1240.6,37.6 1241.3,45.6 1242,46.9 1242.7,42.9 1243.4,47.7 1244.1,53.3 1244.8,59.6 1245.5,58.8 1246.2,52.5 1246.9,58.9 1247.6,59.0 1248.3,66.1 1249,64.7 1249.7,56.3 1250.4,53.0 1251.1,45.7 1251.8,52.0 1252.5,51.0 1253.2,61.6 1253.9,75.5 1254.6,72.0 1255.3,64.8 1256,60.6 1256.7,70.2 1257.4,60.5 1258.1,54.3 1258.8,56.2 1259.5,48.9 1260.2,52.0 1260.9,63.3 1261.6,63.4 1262.3,66.3 1263,67.4 1263.7,56.8 1264.4,54.9 1265.1,48.0 1265.8,47.2 1266.5,38.0 1267.2,38.6 1267.9,27.2 1268.6,31.1 1269.3,27.6 1270,29.6 1270.7,33.5 1271.4,34.3 1272.1,34.8 1272.8,43.5 1273.5,47.3 1274.2,44.6 1274.9,41.8 1275.6,48.7 1276.3,48.7 1277,45.3 1277.7,32.8 1278.4,29.8 1279.1,24.5 1279.8,30.5 1280.5,37.8 1281.2,39.6 1281.9,49.1 1282.6,48.8 1283.3,59.2 1284,65.3 1284.7,69.7 1285.4,63.0 1286.1,56.3 1286.8,56.5 1287.5,46.1 1288.2,42.6 1288.9,26.0 1289.6,21.6 1289.78,25.4 1290.3,29.2 1291,29.6 1291.7,35.7 1292.4,41.3 1293.1,54.9 1293.8,58.0 1294.5,71.5 1295.2,76.5 1295.9,79.6 1296.09,77.8 1296.6,77.6 1297.3,79.4 1298,74.5 1298.7,58.8 1299.4,62.4 1300.1,50.5 1300.8,43.8 1301.5,43.3 1302.16,34.6 1302.9,42.0 1303.6,44.5 1304.3,54.4 1305,57.0 1305.7,57.8 1306.4,55.8 1307.1,57.6 1307.8,51.0 1308.5,44.4 1309.2,42.4 1309.9,38.8 1310.6,40.2 1311.3,34.3 1312,34.1 1312.7,28.9 1313.4,32.8 1314.1,22.5 1314.8,29.7 1315.5,24.6 1316.2,30.7 1316.9,38.5 1317.6,35.3 1318.3,46.9 1319,43.6 1319.7,40.5 1320.4,40.5 1321.1,32.1 1321.8,29.9 1322.5,32.6 1323.2,35.2 1323.9,39.4 1324.6,37.5 1325.3,35.2 1326,38.6 1326.7,38.7 1327.4,42.8 1328.1,42.7 1328.8,49.6 1329.5,52.4 1330.2,50.3 1330.9,47.9 1331.6,45.7 1332.3,45.2 1333,36.5 1333.7,41.4 1334.4,30.2 1335.1,30.6 1335.8,31.6 1336.5,30.5 1337.2,28.4 1337.9,31.5 1338.6,36.1 1339.3,33.5 1340,26.6 1340.7,28.6 1341.4,30.4 1342.1,32.5 1342.8,45.8 1343.5,41.7 1344.2,42.9 1344.9,39.9 1345.6,41.7 1346.3,36.6 1347,36.9 1347.7,34.2 1348.4,33.5 1349.1,38.3 1349.8,40.5 1350.5,38.8 1351.2,40.5 1351.9,37.4 1352.6,38.2 1353,37.1 1353.15,38.7 1353.3,32.5 1354,36.6 1354.7,39.8 1355.4,36.1 1356.1,35.4 1356.8,37.7 1357.5,40.5 1358.2,38.4 1358.9,38.8 1359.6,46.8 1360.3,46.1 1361,46.7 1361.7,53.9 1362.4,54.2 1363.1,52.1 1363.8,49.5 1364.5,46.3 1365.2,38.5 1365.9,39.5 1366.6,37.3 1367.3,43.5 1368,46.0 1368.7,49.1 1369.4,46.2 1370.1,45.7 1370.8,48.8 1371.5,52.0 1372.2,46.2 1372.9,47.6 1373.6,52.7 1374.3,46.8 1375,44.4 1375.7,47.9 1376.4,51.5 1377.1,44.9 1377.8,45.8 1378.5,49.1 1379.2,40.0 1379.9,37.9 1380.6,35.5 1381.3,31.0 1382,34.5 1382.7,39.5 1383.4,40.0 1384.1,44.4 1384.8,43.3 1385.5,45.2 1386.2,47.9 1386.9,42.3 1387.6,46.3 1388.3,44.0 1389,50.5 1389.7,47.9 1390.4,43.1 1391.1,38.8 1391.8,32.6 1392.5,31.5 1393.2,36.4 1393.9,35.5 1394.6,37.8 1395.3,40.9 1396,45.0 1396.7,44.5 1397.4,50.6 1398.1,49.2 1398.8,51.3 1399.5,55.5 1400.2,42.8 1400.9,35.3 1401.6,30.7 1402.3,31.6 1403,42.8 1403.7,45.8 1404.4,41.9 1405.1,42.9 1405.8,37.7 1406.5,37.3 1407.2,39.5 1407.9,43.3 1408.6,37.7 1409.3,38.2 1410,37.3 1410.7,42.0 1411.4,46.9 1412.1,50.0 1412.8,53.3 1413.5,58.7 1414.2,67.2 1414.9,60.9 1415.6,62.3 1416.3,63.5 1417,57.6 1417.7,56.4 1418.4,52.4 1419.1,48.3 1419.8,45.9 1420.5,53.0 1421.2,44.6 1421.9,43.6 1422.6,36.3 1423.3,39.2 1424,37.0 1424.7,33.7 1425.4,38.0 1426.1,52.0 1426.8,54.5 1427.5,47.7 1428.2,49.9 1428.9,44.8 1429.6,52.0 1430.3,50.7 1431,47.9 1431.7,55.7 1432.4,56.2 1433.1,48.8 1433.8,46.1 1434.5,47.6 1435.2,49.2 1435.9,44.5 1436.6,51.0 1437.3,45.7 1438,54.2 1438.7,47.1 1439.4,49.4 1440.1,52.7 1440.8,56.6 1441.5,57.4 1442.2,52.6 1442.9,54.5 1443.6,46.3 1444.3,44.0 1445,40.4 1445.7,48.1 1446.4,43.4 1447.1,44.8 1447.8,42.2 1448.5,43.3 1449.2,46.7 1449.9,47.0 1450.6,44.2 1451.3,39.9 1452,45.5 1452.7,45.3 1453.4,45.3 1454.1,48.9 1454.8,45.3 1455.5,44.3 1456.2,40.4 1456.9,38.9 1457.6,44.0 1458.3,46.5 1459,39.6 1459.7,38.4 1460.4,35.0 1461.1,41.1 1461.8,30.3 1462.5,32.0 1463.2,29.8 1463.67,28.9 1463.9,36.4 1464.6,44.7 1465.3,46.9 1466,55.3 1466.6,59.4 1467.4,52.7 1468.1,47.1 1468.8,48.8 1469.5,46.1 1470.2,44.6 1470.9,43.3 1471.6,45.7 1472.3,42.3 1473,46.0 1473.7,44.2 1474.4,44.6 1475.1,46.3 1475.8,46.0 1476.5,55.2 1477.2,54.8 1477.9,44.2 1478.6,54.9 1479.3,55.7 1480,52.9 1480.7,56.0 1481.4,57.3 1482.1,50.8 1482.8,53.3 1483.5,62.1 1484.2,74.1 1484.9,68.3 1485.6,66.2 1486.3,64.9 1487,58.4 1487.7,60.0 1488.4,61.2 1489.1,55.6 1489.8,60.9 1490.5,55.7 1491.2,47.0 1491.9,60.1 1492.6,55.5 1493.3,50.7 1494,45.3 1494.7,42.8 1495.4,46.9 1496.1,42.2 1496.8,39.7 1497.5,37.4 1498.2,37.0 1498.9,40.3 1499.6,40.9 1500.3,43.1 1501,44.7 1501.7,48.7 1502.4,48.5 1503.1,38.5 1503.8,47.2 1504.5,50.9 1505.2,47.1 1505.9,46.5 1506.6,51.0 1507.3,51.0 1508,53.8 1508.7,51.1 1509.4,58.4 1510.1,63.3 1510.8,59.7 1511.5,67.7 1512.2,61.8 1512.9,60.4 1513.6,52.1 1514.3,51.4 1515,47.1 1515.7,34.4 1516.4,33.9 1517.1,30.9 1517.8,30.5 1518.5,34.1 1519.2,31.3 1519.9,28.7 1520.6,28.7 1521.3,36.1 1522,43.6 1522.7,42.0 1523.4,46.3 1524.1,39.2 1524.8,42.2 1525.5,48.2 1526.2,44.8 1526.9,43.6 1527.6,45.6 1528.3,36.2 1529,39.2 1529.7,44.6 1530,43.3 1530.4,40.3 1531.1,7.6 1531.8,-21.0 1532,-20.8 1532.5,37.0 1533.2,177.1 1533.5,203.4 1533.9,161.4 1534.6,18.6 1535,-19.9 1535.3,-11.7 1536,39.3 1536.5,56.9 1536.7,52.1 1537.4,36.9 1538.1,11.3 1538.58,2.8 1538.8,7.0 1539.5,21.0 1540.2,44.0 1540.83,55.6 1541.6,50.4 1542.3,41.9 1543,39.7 1543.7,34.4 1544.4,43.8 1545.1,48.6 1545.8,49.3 1546.5,54.7 1547.2,53.3 1547.9,46.4 1548.6,41.8 1549.3,39.2 1550,40.9 1550.7,39.3 1551.4,45.9 1552.1,41.9 1552.8,41.5 1553.5,43.7 1554.2,44.6 1554.9,35.9 1555.6,23.9 1556.3,24.8 1557,34.6 1557.7,35.6 1558.4,39.3 1559.1,29.5 1559.8,47.4 1560.5,49.6 1561.08,53.5 1561.2,46.4 1561.9,44.2 1562.6,40.3 1563.3,30.9 1564,27.5 1564.7,34.8 1565.4,33.1 1566.1,43.1 1566.8,43.9 1567.5,44.9 1568.2,40.3 1568.9,36.9 1569.6,28.5 1570.3,36.6 1571,42.8 1571.7,46.8 1572.4,38.2 1573.1,45.3 1573.8,46.8 1574.5,40.4 1575.2,32.1 1575.9,24.8 1576.6,29.8 1577.3,30.0 1578,26.9 1578.7,27.4 1579.4,34.8 1580.1,43.4 1580.8,37.4 1581.5,40.4 1582.2,47.6 1582.9,46.6 1583.6,55.4 1584.3,64.1 1585,63.6 1585.7,56.6 1586.4,50.5 1587.1,50.7 1587.8,48.3 1588.5,43.9 1589.2,51.3 1589.9,45.7 1590.6,51.8 1591.3,49.8 1592,50.5 1592.7,45.9 1593.4,41.8 1594.1,39.9 1594.8,41.5 1595.5,43.6 1596.2,49.7 1596.9,41.0 1597.6,51.1 1598.3,56.1 1599,45.2 1599.7,48.4 1600.4,46.0 1601.1,34.8 1601.8,31.9 1602.5,27.1 1603.2,30.8 1603.9,27.8 1604.6,42.1 1605.3,43.8 1606,48.7 1606.7,56.8 1607.4,66.1 1608.1,63.6 1608.8,56.5 1609.5,46.5 1610.2,48.2 1610.9,45.0 1611.6,44.3 1612.3,41.6 1613,43.3 1613.7,43.0 1614.4,38.1 1615.1,35.9 1615.8,36.0 1616.5,34.6 1617.2,34.1 1617.9,35.8 1618.6,31.6 1619.3,34.4 1620,39.9 1620.7,32.2 1621.4,35.0 1622.1,41.1 1622.8,47.3 1623.5,54.7 1624.2,52.4 1624.9,56.1 1625.6,61.5 1626.3,67.5 1627,59.7 1627.7,63.8 1628.4,67.4 1629.1,64.8 1629.8,54.6 1630.5,52.3 1631.2,54.8 1631.9,47.0 1632.6,52.4 1633.3,39.6 1634,39.0 1634.7,28.4 1635.4,40.6 1636.1,35.3 1636.8,33.2 1637.5,35.3 1638.2,36.4 1638.9,33.5 1639.6,46.5 1640.3,47.6 1641,54.2 1641.7,50.1 1642.4,42.3 1643.1,44.8 1643.8,47.3 1644.5,40.5 1645.2,44.9 1645.9,42.4 1646.6,39.7 1647.3,40.7 1648,33.4 1648.7,39.0 1649.4,45.7 1650.1,45.9 1650.8,49.8 1651.5,49.2 1652.2,48.2 1652.9,44.5 1653.6,49.7 1654.3,37.6 1655,41.4 1655.7,37.9 1656.4,42.6 1657.1,37.9 1657.8,43.4 1658.5,41.5 1659.2,46.7 1659.9,50.0 1660.6,50.5 1661.3,56.3 1662,55.1 1662.7,56.3 1663.4,63.4 1664.1,55.0 1664.8,59.4 1665.5,53.2 1666.2,47.6 1666.9,50.5 1667.6,45.7 1668.3,44.8 1669,41.8 1669.7,40.5 1670.4,43.0 1671.1,43.1 1671.8,53.1 1672.5,54.0 1673.2,62.6 1673.9,61.8 1674.6,52.5 1675.3,41.4 1676,47.6 1676.7,38.8 1677.4,43.4 1678.1,36.4 1678.8,39.1 1679.5,53.0 1680.2,51.7 1680.9,49.1 1681.6,48.4 1682.3,51.9 1683,46.1 1683.7,53.0 1684.4,45.4 1685.1,52.5 1685.8,53.4 1686.5,52.1 1687.2,52.7 1687.9,48.1 1688.6,48.6 1689.3,46.9 1690,47.9 1690.7,51.4 1691.4,48.0 1692.1,55.8 1692.8,59.1 1693.5,50.5 1694.2,46.7 1694.9,39.1 1695.37,36.7 1695.6,30.6 1696.3,18.8 1697,11.4 1697.17,11.0 1697.7,15.8 1698.4,12.5 1698.97,12.7 1699.1,19.4 1699.8,23.6 1700.5,30.4 1701.2,41.7 1701.9,41.7 1702.6,38.5 1703.3,42.1 1704,43.8 1704.7,50.5 1705.4,46.7 1706.1,45.4 1706.8,45.5 1707.5,57.7 1708.2,52.4 1708.9,52.8 1709.6,45.8 1710.3,54.3 1711,55.1 1711.7,58.5 1712.4,56.7 1713.1,64.8 1713.8,64.6 1714.5,72.1 1715.2,70.6 1715.9,76.0 1716.6,57.4 1717.3,58.8 1718,54.4 1718.7,60.4 1719.4,53.8 1720.1,45.5 1720.8,39.1 1721.5,44.1 1722.2,38.3 1722.9,38.1 1723.6,39.1 1724.3,49.3 1725,46.3 1725.7,42.9 1726.4,47.4 1727.1,46.4 1727.8,47.1 1728.5,46.7 1729.2,51.7 1729.9,43.8 1730.6,47.5 1731.3,53.4 1732,51.0 1732.7,45.1 1733.4,42.2 1734.1,39.9 1734.8,35.2 1735.5,45.8 1736,45.9 1736.2,43.9 1736.9,3.2 1737.5,-20.0 1738.3,156.0 1739,301.5 1739.7,156.0 1740.4,-17.2 1741.1,156.0 1741.8,455.7 1742,479.2 1742.5,350.4 1743.2,32.0 1743.5,-23.0 1743.9,71.2 1744.6,408.8 1745,499.5 1745.3,445.9 1746,114.8 1746.5,-20.0 1746.7,-22.3 1747.4,14.0 1748.1,51.2 1748.5,55.2 1748.8,62.9 1749.5,59.1 1750,48.5 1750.2,53.1 1750.9,28.5 1751.6,12.9 1752.28,5.0 1753,13.5 1753.7,20.3 1754.4,36.4 1754.53,40.5 1755.1,40.7 1755.8,50.6 1756.5,49.6 1757.2,53.5 1757.9,38.5 1758.6,36.0 1759.03,22.7 1759.3,34.7 1760,54.2 1760.6,68.2 1761.4,51.9 1762.1,49.2 1762.4,47.4 1762.8,51.0 1763.5,41.6 1764.2,39.3 1764.9,41.8 1765.6,41.0"/>
<path stroke="#a51400" d="M941.0,104.3L941.7,100.5 942.4,90.7 943.1,80.9 943.8,83.3 944.5,88.6 945.2,85.2 945.5,90.8 945.9,95.5 946.6,103.1 947.3,104.5 947.75,121.5 948,117.5 948.7,125.2 949.4,125.8 950.1,124.3 950.8,128.3 951.5,123.2 952.2,125.5 952.9,129.2 953.6,121.3 954.3,126.4 955,118.1 955.7,119.6 956.4,122.4 957.1,121.8 957.8,127.5 958.5,122.4 959.2,132.4 959.9,122.8 960.6,125.9 961.25,126.1 962,120.8 962.7,110.9 963.4,107.3 964.1,108.7 964.8,100.3 965.5,99.0 966.2,108.9 966.9,111.7 967.6,115.5 968.3,123.1 969,118.9 969.7,114.6 970.4,102.5 971.1,103.0 971.8,111.7 972.5,106.7 973.2,106.9 973.9,108.9 974.6,107.8 975.3,105.6 976,114.8 976.7,114.4 977.4,118.6 978.1,120.3 978.8,121.2 979.5,114.9 980.2,108.1 980.9,117.8 981.6,119.2 982.3,113.5 983,117.7 983.7,115.5 984.4,112.9 985.1,115.4 985.8,115.5 986.5,110.6 987.2,112.2 987.9,110.0 988.6,111.2 989.3,112.7 990,106.6 990.7,99.9 991.4,101.9 992.1,100.4 992.8,102.0 993.5,102.2 994.2,100.6 994.9,93.9 995.6,106.8 996.3,119.4 997,116.8 997.7,128.9 998.4,128.0 999.1,125.1 999.8,124.6 1000.5,115.2 1001.2,115.5 1001.9,112.9 1002.6,105.4 1003.3,107.2 1004,100.8 1004.7,108.8 1005.4,117.9 1006.1,123.1 1006.26,122.0 1006.8,119.1 1007.5,118.3 1008.2,107.5 1008.9,101.5 1009.6,98.3 1010.3,91.0 1011,104.4 1011.7,101.3 1012.4,110.6 1013.1,109.8 1013.8,114.5 1014.5,110.7 1015.2,117.6 1015.9,126.0 1016.6,116.4 1017.3,124.0 1018,125.2 1018.7,127.0 1019.4,130.7 1020.1,129.2 1020.8,130.0 1021.5,126.2 1022.2,127.3 1022.9,138.0 1023.6,125.6 1024.3,127.2 1025,132.7 1025.7,131.0 1026.4,126.6 1027.1,130.1 1027.8,128.7 1028.5,130.0 1029.2,127.2 1029.9,128.0 1030.6,123.2 1031.01,121.4 1031.3,119.7 1032,111.2 1032.7,95.7 1033.26,88.5 1033.4,93.9 1034.1,110.0 1034.8,132.2 1035.06,135.6 1035.5,106.5 1036.2,26.6 1036.63,2.2 1036.9,3.8 1037.6,23.8 1038.3,54.6 1039,85.7 1039.7,100.4 1040.01,108.2 1040.4,99.8 1041.1,58.1 1041.8,14.2 1042.26,-5.2 1042.5,7.4 1043.2,49.5 1043.9,104.1 1044.51,122.8 1045.3,91.5 1046,35.6 1046.7,4.4 1047.4,5.9 1048.1,3.9 1048.8,0.3 1049.01,0.9 1049.5,17.8 1050.2,69.9 1050.9,118.0 1051.26,127.6 1051.6,125.7 1052.3,116.0 1053,110.1 1053.51,97.7 1053.7,103.8 1054.4,102.2 1055.1,98.1 1055.8,105.6 1056.5,102.2 1057.2,105.2 1057.9,104.9 1058.6,112.5 1059.3,109.7 1060,108.1 1060.7,104.9 1061.4,107.9 1062.1,111.0 1062.8,113.0 1063.5,120.5 1064.2,112.2 1064.9,108.0 1065.6,109.6 1066.3,119.0 1067,119.1 1067.7,119.1 1068.4,117.9 1069.1,114.5 1069.8,110.3 1070.5,114.9 1071.2,111.5 1071.9,110.6 1072.6,99.1 1073.3,102.4 1074,96.0 1074.7,95.7 1075.4,98.4 1076.1,103.4 1076.8,110.1 1077.5,112.6 1078.2,109.1 1078.9,105.9 1079.39,104.2 1079.6,98.0 1080.3,92.0 1081,81.7 1081.64,73.3 1082.4,83.0 1083.1,83.9 1083.8,84.0 1084.5,78.9 1085.2,60.7 1085.46,63.7 1085.9,63.5 1086.6,63.5 1087.26,77.5 1088,79.0 1088.7,82.6 1089.4,81.6 1090.1,90.1 1090.8,94.1 1091.5,101.7 1092.2,105.2 1092.9,109.8 1093.6,106.7 1094.3,115.1 1095,110.9 1095.7,105.0 1096.27,106.7 1096.4,94.6 1097.1,71.3 1097.8,26.4 1098.5,-4.8 1099.2,30.1 1099.9,85.6 1100.6,121.5 1100.77,128.0 1101.3,108.9 1102,55.7 1102.7,9.5 1103.02,1.3 1103.4,10.2 1104.1,49.1 1104.8,91.1 1105.27,106.4 1105.5,96.9 1106.2,108.6 1106.9,106.6 1107.6,107.6 1108.3,104.9 1109,99.5 1109.7,95.7 1110.4,98.4 1111.1,111.2 1111.8,112.8 1112.5,106.9 1113.2,114.3 1113.9,117.4 1114.6,121.2 1115.3,119.0 1116,114.4 1116.7,112.0 1117.4,118.3 1118.1,119.7 1118.8,123.3 1119.5,118.2 1120.2,117.6 1120.9,111.0 1121.6,115.2 1122.3,110.8 1123,110.1 1123.7,105.7 1124.4,101.3 1125.1,103.3 1125.8,102.9 1126.5,103.8 1127.2,109.2 1127.9,108.3 1128.6,109.6 1129.3,115.2 1130,114.2 1130.7,116.6 1131.4,126.9 1132.1,130.8 1132.27,130.0 1132.8,127.1 1133.5,116.1 1134.2,95.7 1134.52,98.5 1134.9,101.0 1135.6,90.9 1136.3,91.1 1137,86.3 1137.7,83.5 1138.4,92.8 1139.1,93.9 1139.8,88.8 1140.5,94.4 1141.2,96.1 1141.9,101.1 1142.4,108.5 1142.6,100.9 1143.3,118.7 1144,122.0 1144.65,126.3 1145.4,140.4 1146.1,141.5 1146.8,152.9 1147.5,158.3 1148.2,151.8 1148.9,141.0 1149.6,140.9 1149.82,132.5 1150.3,130.0 1151,129.6 1151.7,126.5 1152.4,125.5 1153.1,121.2 1153.8,120.3 1154.5,124.3 1155.2,126.6 1155.9,120.3 1156.6,123.9 1157.02,118.5 1157.3,115.6 1158,99.7 1158.7,101.1 1158.82,103.0 1159.4,108.1 1160.1,123.8 1160.4,124.7 1160.8,129.0 1161.5,132.1 1162.2,126.1 1162.9,129.9 1163.6,119.0 1164.3,120.4 1165,111.2 1165.7,105.4 1166.4,116.4 1167.1,107.9 1167.8,111.9 1168.5,117.1 1169.2,120.1 1169.9,118.0 1170.6,121.7 1171.3,109.6 1172,105.7 1172.7,114.4 1173.4,107.5 1173.9,109.8 1174.1,107.3 1174.8,69.9 1175.5,23.5 1176.15,2.3 1176.9,43.1 1177.6,113.2 1178.3,153.1 1179,130.7 1179.7,62.3 1180.4,8.3 1180.65,2.5 1181.1,19.0 1181.8,83.1 1182.5,145.1 1182.9,156.7 1183.2,153.8 1183.9,148.8 1184.6,136.1 1185.15,127.9 1185.3,124.3 1186,128.3 1186.7,124.0 1187.4,120.5 1188.1,123.9 1188.8,118.0 1189.5,114.0 1190.2,112.7 1190.9,120.3 1191.6,112.1 1192.3,111.8 1193,115.1 1193.7,121.9 1194.4,118.0 1195.1,117.6 1195.8,111.9 1196.5,105.5 1197.2,107.8 1197.9,99.7 1198.6,100.0 1199.3,103.3 1200,101.3 1200.7,112.7 1201.4,117.7 1202.1,120.6 1202.8,118.8 1203.5,129.8 1204.2,123.6 1204.9,127.2 1205.6,116.4 1206.3,112.3 1207,112.6 1207.7,100.2 1208.4,101.5 1209.1,98.3 1209.8,97.7 1210.5,101.4 1211.2,102.0 1211.9,101.9 1212.6,102.6 1213.3,111.2 1214,108.5 1214.7,112.9 1215.4,105.4 1216.1,107.9 1216.8,102.8 1217.5,101.0 1218.2,96.5 1218.9,102.6 1219.6,106.0 1220.3,108.0 1221,114.8 1221.7,113.7 1222.4,103.2 1223.1,112.3 1223.8,100.1 1224.5,101.3 1225.2,99.2 1225.9,101.8 1226.6,97.9 1227.3,99.2 1228,95.3 1228.7,104.6 1229.4,97.0 1230.1,100.1 1230.8,93.9 1231.5,95.5 1232.2,98.8 1232.9,108.3 1233.6,114.9 1234.3,118.0 1235,117.2 1235.7,116.8 1236.4,126.5 1237.1,120.1 1237.8,110.1 1238.5,104.6 1239.2,91.6 1239.9,91.7 1240.6,95.3 1241.3,102.9 1242,101.9 1242.7,104.8 1243.4,112.7 1244.1,114.4 1244.8,113.8 1245.5,113.5 1246.2,107.6 1246.9,99.2 1247.48,105.0 1248.3,106.0 1249,110.4 1249.7,120.9 1250.4,121.1 1251.1,127.0 1251.8,121.7 1252.5,114.3 1253.2,113.7 1253.9,106.9 1254.6,110.4 1255.3,120.5 1256,122.0 1256.7,127.9 1257.4,147.1 1258.1,147.8 1258.73,154.5 1259.5,157.1 1260.2,150.0 1260.9,135.2 1261.6,128.6 1262.3,122.8 1263,115.7 1263.23,105.1 1263.7,107.4 1264.4,97.3 1265.03,97.6 1265.8,103.6 1266.5,115.6 1267.2,119.4 1267.9,111.4 1268.6,112.9 1269.3,103.5 1270,90.7 1270.7,98.8 1271.4,98.0 1272.1,101.6 1272.8,104.4 1273.5,102.7 1274.2,107.8 1274.9,109.6 1275.6,119.8 1276.3,122.5 1277,128.7 1277.41,128.1 1277.7,125.6 1278.4,125.8 1279.1,121.1 1279.8,110.9 1280.5,105.1 1280.78,109.8 1281.2,93.0 1281.9,80.6 1282.58,71.4 1283.3,86.5 1284,97.3 1284.16,100.7 1284.7,98.9 1285.4,105.6 1286.1,103.3 1286.8,105.9 1287.5,108.5 1288.2,112.4 1288.9,120.5 1289.6,119.8 1290.23,129.4 1291,125.9 1291.7,114.0 1292.4,114.5 1293.1,104.9 1293.8,102.6 1294.5,100.8 1295.2,96.5 1295.9,97.0 1296.6,88.1 1297.3,84.4 1297.66,92.2 1298,92.3 1298.7,105.2 1299.4,123.5 1299.91,126.4 1300.1,127.5 1300.8,118.1 1301.5,109.8 1302.16,99.1 1302.9,99.5 1303.6,102.3 1304.3,92.6 1305,92.3 1305.7,95.6 1306.4,94.8 1307.1,93.2 1307.8,96.2 1308.5,92.0 1309.2,90.7 1309.9,84.7 1310.6,101.2 1311.3,100.2 1312,108.9 1312.7,112.5 1313.4,119.9 1314.1,122.9 1314.8,126.4 1315.5,129.1 1316.2,131.8 1316.9,122.5 1317.6,115.3 1318.3,117.1 1319,107.7 1319.7,102.0 1320.4,96.7 1321.1,95.6 1321.8,95.2 1322.5,96.1 1323.2,109.1 1323.9,108.3 1324.6,105.1 1325.3,103.4 1326,105.0 1326.7,103.5 1327.4,101.3 1328.1,102.2 1328.8,105.2 1329.5,112.4 1330.2,109.8 1330.9,115.8 1331.41,117.5 1331.6,114.9 1332.3,120.7 1333,129.4 1333.7,138.7 1334.4,141.6 1334.79,134.3 1335.1,136.2 1335.8,133.7 1336.5,109.9 1337.04,112.2 1337.2,104.7 1337.9,100.7 1338.6,103.6 1339.3,105.9 1340,103.9 1340.7,103.6 1341.4,101.5 1342.1,109.3 1342.8,118.6 1343.5,115.1 1344.2,118.7 1344.9,110.7 1345.6,110.8 1346.3,114.6 1347,108.2 1347.7,100.9 1348.4,102.8 1349.1,96.1 1349.8,101.8 1350.5,96.0 1351.2,93.8 1351.9,104.9 1352.6,101.0 1353,104.0 1353.15,94.8 1353.3,100.6 1354,99.4 1354.7,84.9 1355.4,90.0 1356.1,96.7 1356.8,102.0 1357.5,105.4 1358.2,109.7 1358.9,116.8 1359.6,120.8 1359.75,112.5 1360.3,114.7 1361,106.5 1361.7,98.1 1362,97.3 1362.4,99.4 1363.1,92.9 1363.8,94.8 1364.5,95.9 1365.2,103.7 1365.9,103.2 1366.6,100.0 1367.3,108.0 1368,109.4 1368.7,102.0 1369.4,104.6 1370.1,105.9 1370.8,108.2 1371.5,99.0 1372.2,107.1 1372.9,116.9 1373.6,113.8 1374.3,117.5 1375,108.2 1375.7,103.7 1376.4,104.8 1377.1,103.2 1377.8,101.0 1378.5,108.2 1379.2,111.7 1379.9,99.6 1380.6,98.5 1381.3,94.9 1382,94.8 1382.7,93.1 1383.4,91.3 1384.1,87.8 1384.8,85.9 1385.5,83.1 1386.2,90.6 1386.9,81.2 1387.6,91.9 1388.3,93.0 1389,96.0 1389.7,96.6 1390.4,99.6 1391.1,102.6 1391.8,103.5 1392.5,106.6 1393.2,107.6 1393.49,108.3 1393.9,115.2 1394.6,122.7 1395.3,129.9 1396,137.1 1396.19,144.4 1396.7,135.2 1397.4,130.9 1398.1,135.0 1398.8,123.7 1399.5,123.9 1400.2,114.8 1400.9,112.3 1401.6,102.8 1402.04,96.0 1402.3,94.5 1403,86.3 1403.61,80.9 1404.4,87.1 1405.1,109.7 1405.8,120.5 1406.5,120.9 1407.2,112.0 1407.9,113.3 1408.6,109.6 1409.3,110.9 1410,104.9 1410.7,101.2 1411.4,92.0 1412.1,99.2 1412.8,101.1 1413.5,108.2 1414.2,116.1 1414.9,119.4 1415.6,116.9 1416.3,132.0 1417,128.8 1417.7,124.3 1418.4,130.4 1419.1,119.7 1419.8,110.4 1420.5,108.2 1421.2,102.1 1421.9,98.6 1422.6,108.2 1423.3,107.9 1424,110.1 1424.7,109.6 1425.4,116.3 1426.1,113.9 1426.8,120.5 1427.5,121.3 1428.2,118.7 1428.9,124.3 1429.6,124.1 1430.3,132.7 1430.61,134.5 1431,130.7 1431.7,122.3 1432.4,110.0 1432.86,96.3 1433.1,102.6 1433.8,99.7 1434.5,93.1 1435.2,99.3 1435.9,103.1 1436.6,104.8 1437.3,111.4 1438,115.3 1438.7,131.7 1439.4,131.3 1440.1,138.3 1440.28,140.3 1440.8,135.7 1441.5,129.6 1442.2,118.2 1442.53,108.5 1442.9,114.0 1443.6,114.0 1444.3,113.7 1445,104.7 1445.7,105.4 1446.4,101.0 1447.1,92.3 1447.48,89.7 1447.8,95.6 1448.5,93.0 1449.2,103.9 1449.9,116.4 1450.18,116.5 1450.6,123.8 1451.3,124.5 1452,124.3 1452.7,129.4 1453.4,121.3 1454.1,123.3 1454.8,111.9 1455.5,111.5 1456.2,104.2 1456.9,107.2 1457.6,110.5 1458.3,106.5 1459,112.6 1459.7,117.6 1460.4,113.4 1461.1,120.4 1461.8,130.6 1462.5,128.3 1463.2,125.0 1463.9,125.3 1464.6,116.9 1465.3,110.5 1466,107.3 1466.7,105.5 1467.4,97.5 1468.1,99.8 1468.8,100.1 1469.5,100.9 1470.2,105.0 1470.9,115.9 1471.6,121.1 1471.77,119.7 1472.3,130.4 1473,132.3 1473.7,133.8 1474.4,140.8 1475.1,140.7 1475.8,137.1 1476.5,130.7 1477.2,119.3 1477.9,131.6 1478.6,134.0 1479.3,138.7 1480,137.1 1480.7,133.9 1481.4,134.4 1482.1,126.0 1482.8,127.1 1483.5,116.0 1484.2,119.4 1484.9,118.7 1485.6,114.0 1486.3,122.0 1487,123.7 1487.7,128.5 1488.4,137.5 1489.1,140.2 1489.8,133.4 1490.5,130.5 1491.2,130.7 1491.9,122.4 1492.6,109.2 1493.3,97.0 1494,107.9 1494.7,106.8 1495.4,99.8 1496.1,102.5 1496.8,98.1 1497.5,107.7 1498.2,97.7 1498.9,101.6 1499.6,105.3 1500.3,103.7 1501,106.6 1501.7,116.8 1502.4,109.4 1503.1,111.6 1503.8,113.4 1504.5,112.1 1505.2,111.5 1505.9,125.1 1506.6,132.1 1507.3,131.3 1507.76,133.2 1508,137.8 1508.7,131.6 1509.4,123.3 1510.1,115.9 1510.46,109.1 1510.8,100.0 1511.5,109.8 1512.2,104.8 1512.9,105.5 1513.6,112.8 1514.3,103.2 1515,109.6 1515.7,110.1 1516.4,103.4 1517.1,105.6 1517.8,106.8 1518.5,106.4 1519.2,103.5 1519.9,105.3 1520.59,94.8 1521.3,88.3 1522,85.1 1522.7,81.3 1523.4,69.3 1523.96,70.7 1524.1,68.0 1524.8,76.1 1525.5,73.5 1525.76,78.1 1526.2,87.3 1526.9,103.5 1527.33,107.7 1527.6,109.0 1528.3,115.0 1529,111.9 1529.7,115.0 1530.4,110.7 1531,110.0 1531.8,38.2 1532.5,-20.0 1533.2,101.5 1533.9,246.6 1534.6,155.0 1535.3,-6.9 1535.5,-23.2 1536,16.3 1536.7,105.4 1537,118.6 1537.4,120.5 1538.1,120.5 1538.8,127.0 1539.5,116.0 1540.2,117.4 1540.9,113.8 1541.6,113.5 1542.3,113.9 1543,107.7 1543.7,111.0 1544.4,112.1 1545.1,120.4 1545.8,113.2 1546.5,121.3 1547.2,117.3 1547.9,114.5 1548.6,111.7 1549.3,109.0 1550,104.9 1550.7,118.3 1551.4,121.6 1552.08,124.8 1552.8,116.0 1553.5,108.5 1554.2,107.0 1554.33,102.3 1554.9,101.2 1555.6,101.3 1556.3,105.2 1557,102.8 1557.7,107.0 1558.4,108.2 1559.1,97.9 1559.8,105.3 1560.5,100.1 1561.2,98.0 1561.9,95.8 1562.6,104.8 1563.3,108.1 1564,105.7 1564.7,94.4 1565.4,101.3 1566.1,97.3 1566.25,93.8 1566.8,96.8 1567.5,107.5 1568.2,121.6 1568.9,124.4 1569.6,129.1 1570.3,118.6 1571,121.8 1571.7,117.2 1572.4,106.0 1573.1,110.4 1573.8,105.0 1574.5,90.9 1575.2,93.8 1575.9,82.7 1576.6,76.0 1577.27,72.8 1578,77.9 1578.7,85.4 1579.4,98.8 1580.1,99.8 1580.8,104.4 1581.5,110.9 1582.2,121.9 1582.9,134.8 1583.57,138.1 1584.3,137.8 1585,134.6 1585.7,121.2 1586.4,112.9 1586.94,108.8 1587.1,108.7 1587.8,104.0 1588.5,103.1 1589.2,105.8 1589.9,106.3 1590.6,104.5 1591.3,103.7 1592,100.3 1592.7,99.8 1593.4,94.7 1594.1,91.3 1594.8,103.6 1595.5,104.6 1596.2,111.9 1596.9,118.6 1597.6,114.9 1598.3,118.5 1599,115.4 1599.7,119.7 1600.4,121.9 1601.1,110.9 1601.8,103.3 1602.5,106.3 1603.2,98.7 1603.9,102.3 1604.6,97.9 1605.3,107.1 1606,111.2 1606.7,105.1 1607.4,101.7 1608.1,93.4 1608.8,92.2 1609.44,96.1 1610.2,88.0 1610.9,97.5 1611.6,115.2 1612.3,128.4 1612.81,129.4 1613,130.1 1613.7,122.9 1614.4,121.2 1615.1,112.3 1615.8,104.0 1616.5,106.3 1617.2,105.8 1617.9,105.5 1618.6,110.1 1619.3,111.6 1619.56,113.2 1620,113.8 1620.7,108.0 1621.4,102.3 1621.81,97.8 1622.1,91.7 1622.8,104.3 1623.5,104.7 1624.2,107.6 1624.9,110.7 1625.6,106.1 1626.3,109.5 1627,105.7 1627.7,112.5 1628.4,117.2 1629.1,111.1 1629.8,106.3 1630.5,110.2 1631.2,109.3 1631.9,105.7 1632.6,106.2 1633.3,115.5 1634,124.1 1634.7,131.2 1635.4,143.7 1635.98,143.9 1636.8,139.9 1637.5,123.0 1638.2,111.6 1638.9,111.1 1639.13,110.5 1639.6,115.9 1640.3,112.0 1641,117.0 1641.7,116.3 1642.4,113.1 1643.1,112.7 1643.8,98.7 1644.5,94.9 1645.2,94.3 1645.9,98.5 1646.6,106.7 1647.3,112.6 1648,105.5 1648.7,115.3 1649.4,115.0 1650.1,110.4 1650.8,116.2 1651.05,110.5 1651.5,117.9 1652.2,107.6 1652.9,95.4 1653.6,81.9 1654.3,80.1 1654.43,76.8 1655,81.3 1655.7,81.2 1656.4,88.9 1656.68,96.5 1657.1,94.2 1657.8,100.3 1658.5,111.4 1658.93,107.5 1659.2,110.9 1659.9,106.3 1660.6,104.5 1661.3,103.1 1662,105.9 1662.7,106.4 1663.4,101.1 1664.1,101.8 1664.8,109.9 1665.5,107.3 1666.2,103.8 1666.9,95.6 1667.6,91.8 1667.93,96.3 1668.3,95.1 1669,98.1 1669.7,107.8 1670.4,121.1 1671.1,128.3 1671.3,126.5 1671.8,129.6 1672.5,125.6 1673.2,112.4 1673.9,108.2 1674.6,105.2 1675.3,100.4 1676,103.5 1676.7,101.9 1677.4,103.8 1678.1,101.2 1678.8,100.2 1679.5,105.1 1680.2,103.1 1680.9,100.5 1681.42,97.5 1681.6,94.4 1682.3,92.7 1683,75.7 1683.67,72.3 1684.4,83.6 1685.1,102.7 1685.8,124.8 1686.5,142.2 1687.05,149.6 1687.2,143.0 1687.9,132.3 1688.6,118.2 1689.3,107.0 1690,102.9 1690.7,109.2 1691.4,106.9 1691.54,104.6 1692.1,109.2 1692.8,117.4 1693.5,123.1 1694.2,132.3 1694.47,126.0 1694.9,126.5 1695.6,130.1 1696.3,111.4 1697,108.9 1697.7,113.7 1698.4,116.1 1699.1,109.5 1699.8,106.8 1700.5,106.2 1701.2,102.7 1701.9,84.9 1702.6,73.2 1702.79,68.3 1703.3,80.8 1704,99.2 1704.7,125.0 1705.4,135.7 1705.72,143.3 1706.1,141.2 1706.8,141.4 1707.5,141.9 1708.2,137.0 1708.42,132.3 1708.9,138.9 1709.6,131.5 1710.3,122.9 1711,109.5 1711.7,100.6 1712.4,114.1 1713.1,112.3 1713.8,124.3 1714.04,133.6 1714.5,131.3 1715.2,135.8 1715.9,144.6 1716.29,147.5 1716.6,140.8 1717.3,131.3 1718,114.6 1718.54,108.2 1718.7,103.5 1719.4,116.4 1720.1,120.1 1720.8,129.0 1721.5,136.1 1721.91,139.0 1722.2,137.7 1722.9,125.4 1723.6,115.5 1724.3,109.2 1725,105.5 1725.29,105.2 1725.7,104.4 1726.4,105.7 1727.1,111.5 1727.8,112.5 1728.5,109.9 1729.2,108.3 1729.9,103.9 1730.6,104.5 1731.3,94.1 1732,99.3 1732.7,101.8 1733.4,104.7 1734.1,110.5 1734.8,108.9 1735.5,111.1 1736.2,107.8 1736.9,110.5 1737.6,64.2 1738.3,-13.7 1738.5,-19.9 1739,31.0 1739.7,210.3 1740.4,398.9 1741,470.0 1741.8,200.5 1742.5,-20.0 1743.2,126.5 1743.9,387.7 1744.5,500.0 1745.3,214.0 1746,-20.0 1746.7,19.4 1747.4,89.8 1748,120.8 1748.8,113.5 1749.5,117.3 1750.2,110.6 1750.9,112.5 1751.6,100.0 1752.28,103.5 1753,114.6 1753.7,137.1 1754.4,147.3 1754.53,148.6 1755.1,144.7 1755.8,125.1 1756.5,114.1 1756.78,110.3 1757.2,107.0 1757.9,102.0 1758.6,98.1 1759.3,98.4 1760,98.1 1760.7,103.6 1761.4,99.6 1762.1,110.0 1762.8,112.2 1763.5,118.7 1764.2,114.5 1764.9,119.8 1765.6,127.5"/>
<path stroke="#8a4400" d="M941.0,172.5L941.7,170.4 942.4,161.8 943.1,165.1 943.8,166.0 944.5,163.0 945.2,169.6 945.9,172.9 946.6,169.0 947.3,167.9 948,165.4 948.7,179.7 949.4,176.2 950.1,185.3 950.8,185.3 951.5,190.2 952.2,194.9 952.9,199.1 953.6,207.7 954.3,192.5 955,206.4 955.7,196.2 956.4,189.6 957.1,189.6 957.8,178.7 958.5,186.4 959.2,184.9 959.9,190.8 960.6,187.2 961.3,184.4 962,181.9 962.7,176.1 963.4,174.1 964.1,181.6 964.8,176.6 965.5,181.5 966.2,177.4 966.9,182.4 967.6,172.3 968.3,175.2 969,174.2 969.7,178.3 970.4,170.4 971.1,177.0 971.8,171.5 972.5,164.8 973.2,169.2 973.9,172.5 974.6,171.3 975.3,171.7 976,180.8 976.7,183.3 977.4,189.3 978.1,181.6 978.8,174.7 979.5,178.9 980.2,168.3 980.38,175.9 980.9,173.8 981.6,189.5 982.3,192.0 982.63,198.7 983,191.5 983.7,193.9 984.4,183.6 985.1,182.7 985.8,182.9 986.5,176.7 987.2,173.5 987.9,171.9 988.6,174.6 989.3,169.5 990,177.0 990.7,179.5 991.4,176.9 992.1,178.9 992.8,184.8 993.5,183.0 994.2,178.8 994.9,180.6 995.6,176.4 996.3,176.4 997,175.1 997.7,181.0 998.4,174.2 999.1,184.5 999.8,176.3 1000.5,179.0 1001.2,173.9 1001.9,176.7 1002.6,170.0 1003.3,181.7 1004,170.9 1004.7,177.2 1005.4,175.0 1006.1,177.6 1006.8,166.3 1007.5,170.9 1008.2,168.1 1008.9,168.8 1009.6,169.9 1010.3,170.4 1011,174.4 1011.7,170.6 1012.4,166.1 1013.1,166.8 1013.8,169.7 1014.5,176.4 1015.2,180.7 1015.9,195.5 1016.6,196.9 1017.3,197.3 1018,197.4 1018.7,207.0 1019.31,207.3 1020.1,202.1 1020.8,194.5 1021.5,183.1 1022.01,180.5 1022.2,181.9 1022.9,171.1 1023.6,170.2 1024.3,165.4 1025,165.5 1025.7,168.5 1026.4,169.0 1027.1,169.5 1027.63,171.5 1027.8,178.0 1028.5,189.0 1029.2,199.7 1029.9,208.5 1030.6,196.0 1031.3,204.0 1032,193.3 1032.7,187.0 1033,190.8 1033.4,173.7 1034.1,101.5 1034.8,19.2 1035.5,-20.0 1036.2,92.5 1036.9,226.8 1037.6,230.2 1038.3,220.7 1039,208.0 1039.7,200.5 1040,201.9 1040.4,199.5 1041.1,187.6 1041.8,182.2 1042.5,175.3 1043.2,178.9 1043.9,171.8 1044.6,163.7 1045,173.0 1045.3,165.1 1046,184.0 1046.7,200.9 1047,207.4 1047.4,208.7 1048.1,196.7 1048.8,192.2 1049.5,189.6 1050.2,173.7 1050.9,178.9 1051.6,174.3 1052.3,163.4 1053,167.2 1053.7,165.6 1054.4,166.6 1055.1,172.9 1055.8,168.3 1056.5,171.0 1057.2,176.9 1057.9,178.3 1058.6,174.3 1059.3,172.1 1060,170.2 1060.7,167.9 1061.4,157.1 1062.1,157.5 1062.8,154.3 1063.5,156.1 1064.2,150.2 1064.9,152.7 1065.6,162.0 1066.3,171.8 1067,179.1 1067.7,170.2 1068.4,165.6 1069.1,164.6 1069.8,156.7 1070.5,161.5 1071.2,163.7 1071.9,168.4 1072.6,168.5 1073.3,168.1 1074,171.1 1074.7,173.6 1075.4,177.8 1076.1,180.3 1076.8,170.4 1077.5,162.6 1078.2,165.0 1078.9,162.6 1079.6,161.0 1080.3,162.0 1081,166.7 1081.7,160.6 1082.4,165.7 1083.1,166.3 1083.8,157.8 1084.5,166.5 1085.2,169.4 1085.9,172.1 1086.6,181.4 1087.3,189.0 1088,191.6 1088.7,188.7 1089.4,192.4 1090.1,181.5 1090.8,180.3 1091.5,172.5 1092.2,166.4 1092.9,172.4 1093.6,165.1 1094.3,171.6 1095,177.2 1095.7,178.6 1096.4,179.9 1097.1,128.1 1097.8,17.7 1098.3,-19.6 1098.5,-7.4 1099.2,148.5 1099.8,240.0 1100.6,210.4 1101.3,176.9 1101.5,175.0 1102,182.4 1102.7,178.4 1103.4,178.8 1104.1,175.4 1104.8,180.8 1105.5,191.6 1106.2,202.4 1106.9,205.6 1107.52,208.0 1108.3,196.6 1109,187.9 1109.7,178.4 1110.22,168.9 1110.4,169.6 1111.1,170.4 1111.8,166.7 1112.5,158.5 1113.2,158.7 1113.9,162.2 1114.6,158.8 1115.3,171.0 1116,176.9 1116.7,179.8 1117.4,172.2 1118.1,175.9 1118.8,178.8 1119.5,183.8 1120.2,175.4 1120.9,184.9 1121.6,174.8 1122.3,175.0 1123,175.2 1123.7,174.4 1124.4,179.5 1125.1,178.4 1125.8,174.0 1126.5,180.0 1127.2,169.8 1127.9,171.9 1128.6,174.9 1129.3,178.4 1130,179.3 1130.7,188.6 1131.4,176.4 1132.1,174.0 1132.8,164.5 1133.5,168.9 1134.2,167.6 1134.9,180.3 1135.6,183.1 1136.3,180.9 1137,177.6 1137.7,178.4 1138.4,180.4 1139.1,173.3 1139.8,171.9 1140.5,170.2 1141.2,179.2 1141.9,176.4 1142.6,172.4 1143.3,176.1 1144,180.7 1144.7,188.2 1145.4,183.4 1146.1,189.6 1146.8,174.3 1147.5,176.9 1148.2,171.0 1148.9,175.8 1149.6,170.8 1150.3,162.7 1151,171.6 1151.7,181.5 1152.4,185.5 1153.1,186.1 1153.8,190.6 1154.5,194.9 1155.2,197.2 1155.9,195.1 1156.6,202.9 1157.3,210.8 1158,207.2 1158.7,213.3 1159.27,213.9 1159.4,214.9 1160.1,208.9 1160.8,199.9 1161.5,185.7 1162.2,183.5 1162.9,184.2 1163.6,176.0 1164.3,172.7 1165,167.9 1165.7,170.0 1166.4,171.8 1167.1,156.6 1167.8,159.2 1168.5,153.6 1169.2,155.5 1169.9,168.4 1170.6,167.6 1171.3,165.4 1172,166.1 1172.7,169.6 1173.4,168.5 1174.1,129.0 1174.8,33.5 1175.5,-20.0 1176.2,92.5 1176.9,226.8 1177.6,217.6 1178.3,194.5 1179,180.1 1179.7,186.4 1180.4,177.1 1181.1,175.3 1181.8,176.2 1182.5,177.8 1183,174.5 1183.2,167.4 1183.9,171.6 1184.6,161.3 1185.3,147.7 1186,144.0 1186.27,142.6 1186.7,147.0 1187.4,151.9 1188.1,156.4 1188.52,161.7 1188.8,159.9 1189.5,170.6 1190.2,181.4 1190.77,178.3 1190.9,173.4 1191.6,176.3 1192.3,168.8 1193,168.6 1193.7,166.3 1194.4,172.2 1195.1,172.0 1195.8,176.4 1196.5,167.1 1197.2,162.4 1197.9,164.2 1198.6,160.6 1199.3,165.1 1200,155.2 1200.7,166.2 1201.4,163.9 1202.1,164.2 1202.8,174.8 1203.5,171.6 1204.2,165.4 1204.9,165.5 1205.6,177.7 1206.3,172.2 1207,174.0 1207.7,171.3 1208.4,163.2 1209.1,163.5 1209.8,164.4 1210.5,162.3 1211.2,160.5 1211.9,162.1 1212.6,166.9 1213.3,158.5 1214,160.7 1214.7,156.7 1215.4,164.6 1216.1,173.3 1216.8,175.4 1217.5,166.0 1218.2,172.1 1218.9,170.8 1219.6,178.5 1220.3,181.6 1221,179.4 1221.7,184.7 1222.4,179.1 1223.1,181.3 1223.8,182.4 1224.5,168.8 1225.2,172.1 1225.9,157.7 1226.6,150.7 1227.23,140.8 1228,151.4 1228.7,148.7 1229.4,156.2 1230.1,164.2 1230.8,166.2 1231.5,169.8 1232.2,170.6 1232.9,168.0 1233.6,166.9 1234.3,165.5 1235,172.4 1235.7,162.7 1236.4,167.3 1237.1,175.6 1237.8,178.0 1238.5,182.9 1239.2,178.3 1239.9,190.5 1240.6,182.9 1241.3,182.2 1242,179.9 1242.7,175.5 1243.4,167.9 1243.66,171.6 1244.1,167.6 1244.8,182.0 1245.5,194.3 1245.91,198.2 1246.2,196.8 1246.9,196.8 1247.6,218.8 1248.3,219.1 1248.83,221.1 1249,211.1 1249.7,210.2 1250.4,203.9 1251.1,186.0 1251.53,190.0 1251.8,179.1 1252.5,179.9 1253.2,172.5 1253.9,170.0 1254.6,168.2 1255.3,170.6 1256,170.6 1256.7,167.3 1257.4,175.7 1258.1,178.9 1258.8,187.2 1259.5,184.2 1260.2,189.4 1260.9,195.3 1261.6,197.4 1262.3,194.8 1263,203.2 1263.23,209.5 1263.7,203.4 1264.4,194.2 1265.1,186.2 1265.8,177.7 1266.16,175.4 1266.5,173.4 1267.2,165.0 1267.9,160.9 1268.6,162.4 1269.08,166.3 1269.3,169.0 1270,173.9 1270.7,186.7 1271.4,189.7 1271.78,190.3 1272.1,198.6 1272.8,181.5 1273.5,182.7 1274.2,175.1 1274.9,167.7 1275.16,171.7 1275.6,166.7 1276.3,158.7 1277,143.4 1277.7,138.8 1278.08,129.1 1278.4,139.2 1279.1,149.4 1279.8,162.2 1280.5,170.1 1280.78,175.4 1281.2,172.9 1281.9,173.6 1282.6,177.4 1283.3,180.4 1284,185.5 1284.16,178.8 1284.7,178.6 1285.4,171.9 1286.1,158.0 1286.8,149.5 1287.5,154.1 1288.2,155.6 1288.9,164.2 1289.6,168.1 1289.78,174.6 1290.3,180.5 1291,179.3 1291.7,186.3 1292.4,182.1 1293.1,185.1 1293.8,180.2 1294.5,176.2 1295.2,173.7 1295.9,167.2 1296.6,172.5 1297.3,169.6 1298,172.9 1298.7,169.4 1299.4,162.1 1300.1,167.1 1300.8,159.0 1301.49,158.8 1302.2,169.6 1302.9,185.0 1303.6,199.4 1303.74,197.8 1304.3,203.8 1305,188.6 1305.7,175.0 1305.99,184.0 1306.4,174.6 1307.1,169.3 1307.8,169.2 1308.5,155.0 1309.2,158.6 1309.9,162.9 1310.6,162.8 1311.3,173.3 1312,174.0 1312.7,168.4 1313.4,171.3 1314.1,169.2 1314.8,173.5 1315.5,168.0 1316.2,171.1 1316.9,174.6 1317.6,175.6 1318.3,177.8 1319,174.3 1319.7,168.0 1320.4,174.8 1321.1,168.7 1321.8,171.8 1322.5,166.5 1323.2,165.5 1323.9,166.4 1324.6,162.2 1325.3,155.4 1326,162.6 1326.7,163.0 1327.4,159.9 1328.1,172.4 1328.8,169.2 1329.16,170.1 1329.5,175.9 1330.2,186.5 1330.9,200.1 1331.6,215.6 1332.09,217.8 1332.3,207.0 1333,197.7 1333.7,175.3 1334.4,153.9 1334.79,156.2 1335.1,158.5 1335.8,150.8 1336.5,165.1 1337.2,165.3 1337.9,170.5 1338.6,177.0 1339.3,173.6 1340,175.2 1340.7,173.9 1341.4,176.2 1342.1,178.9 1342.8,170.2 1343.5,173.3 1344.2,166.5 1344.9,169.3 1345.6,163.4 1346.3,164.0 1347,156.6 1347.7,157.3 1348.4,159.7 1349.1,164.7 1349.8,157.1 1350.5,172.3 1351.2,170.6 1351.9,166.2 1352.6,179.0 1353,180.5 1353.15,188.9 1353.3,186.4 1354,182.3 1354.7,180.4 1355.25,173.2 1355.4,174.0 1356.1,163.4 1356.8,170.1 1357.5,167.0 1358.2,160.6 1358.9,165.2 1359.6,167.0 1360.3,164.4 1361,169.8 1361.7,172.4 1362.4,171.6 1363.1,167.9 1363.8,166.3 1364.5,165.9 1365.2,158.4 1365.9,160.8 1366.6,166.6 1367.3,173.7 1368,169.6 1368.7,169.2 1369.4,170.8 1370.1,169.9 1370.8,172.3 1371.5,169.6 1372.2,168.9 1372.9,166.5 1373.6,180.1 1374.3,180.8 1375,182.0 1375.7,175.6 1376.4,181.7 1377.1,171.1 1377.8,169.7 1378.5,157.0 1379.2,167.1 1379.9,168.5 1380.6,170.0 1381.3,175.8 1382,186.2 1382.7,187.2 1383.4,181.4 1384.1,180.2 1384.8,175.7 1385.5,171.6 1386.2,176.3 1386.9,173.6 1387.6,170.2 1388.3,174.8 1389,180.1 1389.7,173.6 1390.4,178.6 1391.1,181.1 1391.8,180.4 1392.5,184.1 1393.2,177.5 1393.9,177.1 1394.6,176.4 1395.3,180.4 1396,176.6 1396.7,177.9 1397.4,176.3 1398.1,188.1 1398.8,184.6 1399.11,190.3 1399.5,187.1 1400.2,183.3 1400.9,174.8 1401.6,160.1 1402.3,162.4 1402.94,151.6 1403.7,152.9 1404.4,166.4 1405.1,171.9 1405.8,173.7 1406.5,178.2 1407.2,181.6 1407.9,180.0 1408.6,177.9 1409.3,185.1 1410,181.1 1410.7,176.6 1411.4,185.9 1412.1,180.2 1412.8,184.1 1413.5,177.6 1414.2,170.8 1414.9,170.5 1415.6,167.3 1416.3,171.4 1417,171.9 1417.7,171.9 1418.4,176.6 1419.1,171.7 1419.8,172.8 1420.5,177.6 1421.2,181.7 1421.9,182.6 1422.6,188.9 1423.3,194.5 1424,193.4 1424.7,200.1 1425.4,201.0 1426.1,191.1 1426.8,187.7 1427.5,189.4 1428.2,176.0 1428.9,178.7 1429.6,177.9 1430.3,172.2 1431,171.6 1431.7,176.4 1432.4,167.5 1433.1,164.3 1433.8,167.4 1434.5,167.1 1435.2,162.8 1435.9,164.2 1436.6,171.9 1437.3,169.3 1438,169.3 1438.7,168.8 1439.4,163.7 1440.1,166.6 1440.8,164.9 1441.5,164.7 1442.2,168.2 1442.9,163.8 1443.6,168.7 1444.3,166.4 1445,167.5 1445.7,166.8 1446.4,171.4 1447.1,168.0 1447.8,170.0 1448.5,175.2 1449.2,175.0 1449.9,179.2 1450.6,179.7 1451.3,181.8 1452,181.2 1452.7,185.3 1453.4,186.3 1454.1,194.1 1454.23,197.4 1454.8,211.8 1455.5,216.3 1456.03,220.5 1456.2,217.4 1456.9,207.7 1457.6,190.6 1458.27,183.7 1459,177.5 1459.7,173.1 1460.4,166.8 1461.1,168.4 1461.8,179.4 1462.5,176.5 1463.2,176.6 1463.9,184.4 1464.6,183.0 1465.3,178.1 1466,185.9 1466.7,179.2 1467.4,176.8 1468.1,183.1 1468.8,179.3 1469.5,177.3 1470.2,182.0 1470.9,180.4 1471.6,184.6 1472.3,175.9 1473,185.2 1473.7,183.4 1474.4,181.7 1475.1,171.8 1475.8,165.5 1476.27,167.6 1476.5,168.0 1477.2,178.4 1477.9,187.2 1478.6,197.7 1478.97,196.5 1479.3,197.3 1480,207.0 1480.7,210.0 1481.4,207.5 1482.1,214.2 1482.8,200.0 1483.5,192.2 1484.2,183.9 1484.9,179.0 1485.6,176.2 1486.3,171.1 1487,171.6 1487.7,165.9 1488.4,165.9 1489.1,177.0 1489.8,175.7 1490.5,182.9 1491.2,190.4 1491.9,196.9 1492.6,198.3 1493.3,202.9 1493.59,208.8 1494,200.2 1494.7,190.8 1495.4,182.5 1496.1,175.5 1496.52,170.4 1496.8,172.1 1497.5,165.6 1498.2,161.4 1498.9,157.9 1499.6,156.3 1500.3,159.3 1501,163.0 1501.7,164.4 1502.4,159.8 1503.1,166.6 1503.8,167.6 1504.5,173.8 1505.2,174.4 1505.9,175.0 1506.6,174.9 1507.3,174.2 1508,175.3 1508.7,185.3 1509.4,183.8 1510.1,180.0 1510.8,167.4 1511.5,172.1 1512.2,173.4 1512.9,175.5 1513.6,184.0 1514.3,182.6 1515,187.0 1515.7,184.7 1516.4,196.5 1517.1,196.2 1517.8,200.7 1518.34,199.8 1518.5,198.7 1519.2,191.9 1519.9,183.3 1520.59,177.1 1521.3,176.3 1522,178.6 1522.7,163.9 1523.4,165.9 1524.1,157.0 1524.8,160.8 1525.5,164.6 1526.2,175.5 1526.9,182.3 1527.6,175.0 1528.3,181.2 1529,181.1 1529.7,193.1 1530.4,179.3 1531.1,192.8 1531.8,193.7 1532.5,153.4 1533.2,67.9 1533.9,6.0 1534.08,4.9 1534.6,28.2 1535.3,109.0 1536,180.6 1536.33,188.3 1536.7,178.2 1537.4,104.3 1538.1,25.0 1538.58,4.2 1538.8,7.6 1539.5,69.1 1540.2,150.1 1540.83,185.7 1541.6,174.9 1542.3,181.9 1543,176.4 1543.7,174.3 1544.4,177.6 1545.1,174.8 1545.8,179.5 1546.5,185.2 1547.2,179.2 1547.9,172.2 1548.6,175.7 1549.3,182.2 1550,179.0 1550.7,163.5 1551.4,174.2 1552.1,163.3 1552.8,170.9 1553.5,160.4 1554.2,170.7 1554.9,178.7 1555.6,173.8 1556.3,170.2 1557,179.3 1557.7,168.7 1558.4,170.5 1559.1,176.1 1559.8,175.4 1560.5,174.1 1561.2,166.4 1561.9,176.3 1562.6,173.1 1563.3,174.8 1564,167.4 1564.7,165.9 1565.4,170.4 1566.1,168.7 1566.8,173.5 1567.5,166.9 1568.2,165.7 1568.9,173.1 1569.6,173.3 1570.3,173.8 1571,164.4 1571.7,165.0 1572.4,164.1 1573.1,159.7 1573.8,149.1 1574.5,155.2 1575.2,148.1 1575.9,146.1 1576.6,158.8 1577.3,164.4 1578,164.6 1578.7,168.3 1579.4,168.5 1580.1,174.9 1580.8,165.5 1581.5,169.6 1582.2,163.9 1582.9,169.6 1583.6,169.3 1584.3,180.5 1585,178.5 1585.7,179.2 1586.4,177.3 1587.1,177.7 1587.8,169.4 1588.5,174.8 1589.2,165.1 1589.9,163.1 1590.6,171.5 1591.3,170.3 1592,172.1 1592.7,170.5 1593.4,175.5 1594.1,169.8 1594.8,167.3 1595.5,166.9 1596.2,163.7 1596.9,160.5 1597.6,159.1 1598.3,152.4 1599,149.7 1599.32,144.5 1599.7,154.2 1600.4,158.9 1601.1,170.0 1601.8,185.4 1602.5,194.3 1602.69,200.4 1603.2,201.5 1603.9,193.5 1604.6,191.8 1605.3,182.1 1606,195.5 1606.7,197.8 1607.4,206.6 1608.1,210.3 1608.31,212.2 1608.8,217.1 1609.5,201.9 1610.2,199.1 1610.56,191.9 1610.9,181.0 1611.6,184.4 1612.3,180.3 1613,171.0 1613.7,176.1 1614.4,174.4 1615.1,175.8 1615.8,168.1 1616.5,173.9 1617.2,175.2 1617.9,168.4 1618.6,170.6 1619.3,172.5 1620,166.5 1620.7,171.4 1621.4,162.1 1622.1,170.3 1622.8,162.0 1623.5,159.0 1624.2,161.6 1624.9,154.1 1625.6,152.2 1626.3,149.3 1627,144.3 1627.7,151.9 1628.4,155.6 1629.1,159.4 1629.8,165.1 1630.5,156.2 1631.2,167.0 1631.9,166.4 1632.6,167.3 1633.3,168.3 1634,173.9 1634.7,170.0 1635.4,183.0 1636.1,178.2 1636.43,179.4 1636.8,181.2 1637.5,170.0 1638.2,162.9 1638.68,162.4 1638.9,166.0 1639.6,153.7 1640.3,165.0 1641,170.8 1641.7,185.9 1642.4,182.7 1643.1,187.7 1643.8,205.9 1644.5,207.4 1644.98,207.3 1645.2,203.7 1645.9,207.5 1646.6,184.7 1647.3,185.5 1647.68,185.6 1648,180.5 1648.7,176.3 1649.4,180.9 1650.1,176.0 1650.8,176.9 1651.5,177.9 1652.2,178.8 1652.9,171.5 1653.6,174.9 1654.3,170.9 1655,170.0 1655.7,163.0 1656.4,156.9 1657.1,158.2 1657.8,155.2 1658.5,153.6 1659.2,160.2 1659.9,170.6 1660.6,174.8 1661.3,177.7 1662,160.8 1662.7,168.1 1663.4,166.0 1664.1,167.2 1664.8,165.5 1665.5,171.6 1666.2,175.4 1666.9,171.9 1667.6,172.0 1668.3,173.3 1669,165.7 1669.7,163.0 1670.4,160.6 1671.1,160.4 1671.8,177.3 1672.5,175.6 1673.2,189.0 1673.9,190.0 1674.6,178.7 1675.3,185.0 1676,175.0 1676.7,181.0 1677.4,166.3 1678.1,166.0 1678.8,159.6 1679.5,160.1 1680.2,153.1 1680.9,158.3 1681.6,157.2 1682.3,166.7 1683,168.2 1683.7,170.5 1684.4,169.6 1685.1,165.7 1685.8,163.9 1686.5,160.4 1687.2,159.7 1687.9,160.6 1688.6,160.9 1689.3,174.0 1690,172.4 1690.7,166.8 1691.4,178.9 1692.1,168.0 1692.8,169.7 1693.5,159.1 1694.2,156.9 1694.9,160.0 1695.6,154.7 1696.3,147.7 1697,155.8 1697.7,150.7 1698.4,157.9 1699.1,171.7 1699.8,168.5 1700.5,175.6 1701.2,179.9 1701.9,174.6 1702.6,176.8 1703.3,180.9 1704,177.1 1704.7,180.4 1705.4,180.4 1706.1,174.5 1706.8,175.3 1707.5,174.1 1708.2,180.7 1708.9,186.7 1709.6,181.4 1710.3,189.6 1711,190.7 1711.7,194.5 1712.4,195.5 1713.1,188.6 1713.8,194.1 1714.5,195.0 1715.2,196.5 1715.9,202.0 1716.6,208.9 1717.3,205.2 1718,204.7 1718.7,197.8 1719.4,188.6 1720.1,187.5 1720.8,181.6 1721.5,173.3 1722.2,169.5 1722.9,170.4 1723.6,161.7 1724.3,176.6 1725,176.1 1725.7,184.7 1726.4,181.6 1727.1,182.5 1727.8,175.0 1728.5,180.4 1729.2,179.4 1729.9,172.4 1730.6,174.0 1731.3,168.9 1732,171.0 1732.7,169.1 1733.16,170.3 1733.4,166.9 1734.1,135.8 1734.8,87.8 1735.5,39.2 1736.2,7.2 1736.53,7.7 1736.9,14.7 1737.6,80.5 1738.3,151.4 1738.78,167.7 1739,166.7 1739.7,110.3 1740.4,35.3 1741.03,-4.6 1741.8,23.1 1742.5,65.3 1743.2,113.3 1743.9,150.5 1744.41,159.8 1744.6,162.8 1745.3,165.3 1746,174.7 1746.7,178.7 1747.4,169.1 1748.1,171.0 1748.8,172.3 1749.5,166.1 1750.2,167.7 1750.9,162.4 1751.6,156.7 1752.3,166.3 1753,172.4 1753.7,170.2 1754.4,176.3 1755.1,180.4 1755.8,189.7 1756.5,186.6 1757.2,189.9 1757.9,187.9 1758.6,179.2 1759.03,169.3 1759.3,166.0 1760,160.3 1760.7,146.8 1761.28,140.7 1761.4,147.5 1762.1,133.6 1762.8,129.2 1763.5,124.0 1764.2,127.8 1764.9,121.3 1765.6,124.2"/>
<path stroke="#6b6000" d="M941.0,249.4L941.7,248.8 942.4,250.6 943.1,253.4 943.8,255.2 944.5,245.5 945.2,252.5 945.9,255.8 946.6,255.1 947.3,250.9 948,247.8 948.7,243.7 949.4,252.7 950.1,251.4 950.8,246.3 951.5,247.9 952.2,250.3 952.9,249.3 953.6,254.0 954.3,251.1 955,249.9 955.7,252.6 956.4,247.6 957.1,251.3 957.8,246.6 958.5,243.1 959.2,246.0 959.9,231.5 960.6,234.3 961.3,243.8 962,246.7 962.7,243.2 963.4,250.6 964.1,247.1 964.8,248.3 965.5,252.7 966.2,269.4 966.9,258.9 967.6,262.5 968.3,260.3 969,255.8 969.7,246.2 970.4,247.7 971.1,249.5 971.8,244.5 972.5,238.5 973.2,236.1 973.9,237.1 974.6,239.6 975.3,242.8 976,246.5 976.7,240.5 977.4,245.6 978.1,247.0 978.8,248.4 979.5,255.0 980.2,240.0 980.9,244.3 981.6,240.3 982.3,240.8 983,234.9 983.7,234.0 984.4,228.5 985.1,239.0 985.8,236.0 986.5,236.5 987.2,236.5 987.9,237.0 988.6,240.9 989.3,238.9 990,234.9 990.7,237.7 991.4,234.0 992.1,234.8 992.8,232.7 993.5,240.5 994.2,245.7 994.9,239.1 995.6,232.7 996.3,237.1 997,239.0 997.7,235.8 998.4,238.1 999.1,227.4 999.8,235.7 1000.5,235.4 1001.2,233.3 1001.9,242.7 1002.6,231.4 1003.3,236.1 1004,231.1 1004.7,236.7 1005.4,243.6 1006.1,239.8 1006.26,239.1 1006.8,230.3 1007.5,232.0 1008.2,213.5 1008.9,201.0 1009.6,204.3 1010.3,210.0 1011,218.2 1011.7,223.6 1011.88,218.8 1012.4,224.9 1013.1,238.2 1013.8,248.8 1014.13,254.5 1014.5,255.7 1015.2,257.8 1015.9,258.8 1016.6,254.3 1017.3,259.4 1018,257.0 1018.7,259.8 1019.4,251.8 1020.1,251.9 1020.8,249.5 1021.5,252.3 1022.2,250.6 1022.9,250.5 1023.6,251.8 1024.3,250.1 1025,249.5 1025.7,255.8 1026.4,255.3 1027.1,255.9 1027.8,250.1 1028.5,254.1 1029.2,259.5 1029.88,259.7 1030.6,269.8 1031.3,273.7 1031.46,271.9 1032,257.0 1032.7,205.9 1033.26,187.9 1033.4,182.2 1034.1,198.5 1034.8,220.0 1035.5,227.2 1036.2,219.9 1036.9,198.2 1037.6,190.5 1037.76,194.4 1038.3,194.3 1039,208.4 1039.7,222.9 1040.01,231.5 1040.4,222.5 1041.1,203.5 1041.8,186.2 1042.26,182.3 1042.5,180.3 1043.2,189.3 1043.9,214.4 1044.6,230.5 1045.3,232.4 1045.64,232.9 1046,236.7 1046.7,225.1 1047.4,210.7 1048.1,198.1 1048.8,189.6 1049.01,187.7 1049.5,177.5 1050.2,187.0 1050.9,183.4 1051.6,186.9 1052.3,182.3 1053,192.3 1053.7,211.5 1054.4,224.3 1054.64,229.4 1055.1,241.1 1055.8,233.4 1056.5,243.7 1057.2,241.5 1057.9,240.4 1058.6,243.7 1059.3,238.1 1060,243.9 1060.7,242.9 1061.4,240.9 1062.1,239.0 1062.8,231.8 1063.5,232.9 1064.2,232.1 1064.9,227.7 1065.6,226.6 1066.3,229.0 1067,234.1 1067.7,238.7 1068.4,234.2 1069.1,235.1 1069.8,232.5 1070.5,238.3 1071.2,228.6 1071.9,230.5 1072.6,227.5 1073.3,226.4 1074,231.5 1074.7,226.1 1074.89,234.7 1075.4,225.3 1076.1,222.4 1076.8,209.3 1077.14,207.7 1077.5,212.8 1078.2,213.0 1078.9,221.2 1079.39,224.1 1079.6,228.8 1080.3,220.3 1081,210.0 1081.64,203.2 1082.4,205.3 1083.1,223.0 1083.8,223.4 1084.5,228.8 1085.2,236.3 1085.9,237.3 1086.6,232.7 1087.3,244.7 1088,234.4 1088.7,236.5 1089.4,231.3 1090.1,229.6 1090.8,233.0 1091.5,234.3 1092.2,238.4 1092.9,240.1 1093.6,248.0 1094.02,240.5 1094.3,236.4 1095,218.4 1095.7,193.6 1096.27,188.1 1096.4,189.7 1097.1,201.1 1097.8,225.5 1098.5,238.8 1099.2,228.6 1099.9,202.6 1100.6,184.4 1100.77,181.7 1101.3,191.2 1102,217.7 1102.7,238.2 1103.02,243.7 1103.4,237.2 1104.1,241.6 1104.8,245.1 1105.5,235.7 1106.2,235.8 1106.9,235.2 1107.6,229.6 1108.3,232.8 1109,233.0 1109.7,233.0 1110.4,237.6 1111.1,225.0 1111.8,234.5 1112.5,228.9 1113.2,223.5 1113.9,231.8 1114.6,227.0 1115.3,240.3 1116,232.6 1116.7,241.5 1117.4,247.9 1118.1,235.8 1118.8,236.3 1119.5,240.8 1120.2,232.9 1120.9,236.5 1121.6,245.4 1122.3,241.7 1123,235.1 1123.7,245.8 1124.4,235.2 1125.1,233.7 1125.8,238.0 1126.5,226.9 1127.2,228.6 1127.9,221.2 1128.6,221.8 1129.3,215.1 1130,218.1 1130.7,223.4 1131.4,231.3 1132.1,230.7 1132.8,222.0 1133.5,227.2 1134.2,234.1 1134.9,233.1 1135.6,233.0 1136.3,238.2 1137,232.4 1137.7,228.3 1138.4,236.0 1139.1,240.7 1139.8,232.3 1140.5,239.6 1141.2,238.9 1141.9,242.6 1142.6,244.6 1143.3,248.0 1144,250.9 1144.7,250.1 1145.4,258.9 1146.1,266.1 1146.8,267.8 1147.5,265.5 1148.2,255.9 1148.9,244.6 1149.15,248.0 1149.6,245.6 1150.3,235.1 1151,234.7 1151.4,226.6 1151.7,226.6 1152.4,239.1 1153.1,251.8 1153.65,259.4 1153.8,256.8 1154.5,266.2 1155.2,260.9 1155.9,259.8 1156.6,265.3 1157.3,270.0 1158,278.7 1158.7,272.4 1159.4,270.1 1160.1,263.2 1160.8,247.7 1161.5,244.8 1162.2,238.8 1162.9,234.8 1163.6,242.9 1164.3,237.3 1165,234.2 1165.7,229.7 1166.4,227.3 1167.1,227.6 1167.8,229.4 1168.5,227.2 1169.2,224.2 1169.9,234.0 1170.6,236.0 1171.3,236.5 1171.65,236.3 1172,236.5 1172.7,210.6 1173.4,190.1 1173.9,182.8 1174.1,182.9 1174.8,204.2 1175.5,230.9 1176.15,236.5 1176.9,225.7 1177.6,201.4 1178.3,186.5 1179,194.8 1179.7,219.6 1180.4,240.3 1180.65,241.8 1181.1,232.2 1181.8,211.5 1182.5,188.2 1182.9,184.4 1183.2,187.2 1183.9,207.7 1184.6,228.4 1185.15,239.3 1185.3,240.5 1186,240.6 1186.7,237.2 1187.4,237.0 1188.1,237.7 1188.8,230.7 1189.5,234.3 1190.2,233.0 1190.9,240.1 1191.6,242.3 1192.3,245.4 1193,245.7 1193.7,247.6 1194.4,241.7 1195.1,241.6 1195.8,232.5 1196.5,242.6 1197.2,234.2 1197.9,240.1 1198.6,234.1 1199.3,234.8 1200,238.1 1200.7,238.1 1201.4,244.5 1202.1,239.1 1202.8,233.1 1203.5,231.0 1204.2,228.0 1204.9,224.9 1205.6,227.4 1206.3,231.5 1207,239.2 1207.7,240.3 1208.4,241.0 1209.1,242.1 1209.8,238.2 1210.5,235.5 1211.2,235.7 1211.9,235.6 1212.6,236.7 1213.3,235.3 1214,244.4 1214.7,246.7 1215.4,240.4 1216.1,249.4 1216.8,244.1 1217.5,240.8 1218.2,243.8 1218.9,242.8 1219.6,231.9 1220.3,235.0 1221,226.9 1221.7,232.6 1222.4,238.9 1223.1,240.7 1223.8,246.7 1224.5,237.8 1225.2,244.4 1225.9,248.7 1226.6,253.9 1227.3,252.8 1228,255.6 1228.7,254.9 1229.4,249.6 1230.1,244.0 1230.8,251.3 1231.5,246.4 1232.2,236.4 1232.9,233.1 1233.6,229.9 1234.3,227.2 1235,228.3 1235.7,233.7 1236.4,238.1 1237.1,237.7 1237.8,241.9 1238.5,244.7 1239.2,242.4 1239.9,235.9 1240.6,227.5 1241.3,228.4 1242,229.9 1242.7,226.1 1243.4,226.9 1244.1,218.5 1244.8,220.2 1245.5,226.9 1246.2,222.2 1246.9,231.6 1247.6,229.5 1248.3,229.8 1249,239.5 1249.7,241.8 1250.4,253.3 1251.1,276.0 1251.53,271.8 1251.8,274.8 1252.5,266.6 1253.2,245.2 1253.78,244.4 1254.6,246.5 1255.3,249.7 1256,246.9 1256.7,266.6 1257.4,261.2 1258.1,265.8 1258.8,265.2 1259.5,272.7 1260.2,271.1 1260.9,275.4 1261.6,274.3 1262.3,266.8 1263,257.3 1263.7,250.2 1264.4,250.9 1265.1,247.4 1265.8,243.2 1266.5,247.3 1267.2,248.0 1267.9,254.6 1268.6,249.5 1269.3,249.3 1270,247.8 1270.7,237.5 1271.4,236.4 1271.78,235.3 1272.1,223.2 1272.8,222.9 1273.5,211.7 1274.03,203.5 1274.2,208.9 1274.9,212.3 1275.6,208.1 1276.28,209.9 1277,221.8 1277.7,239.8 1278.4,252.4 1278.53,251.6 1279.1,256.0 1279.8,268.4 1280.5,265.5 1280.78,264.6 1281.2,266.1 1281.9,247.0 1282.6,227.5 1283.03,225.9 1283.3,225.6 1284,230.0 1284.7,237.9 1285.4,246.1 1286.1,241.5 1286.8,246.0 1287.5,246.3 1288.2,250.0 1288.9,245.2 1289.6,249.3 1290.3,249.7 1291,247.3 1291.7,248.1 1292.4,255.3 1293.1,248.5 1293.8,253.3 1294.5,247.8 1295.2,258.5 1295.9,248.4 1296.6,252.4 1297.3,244.2 1298,243.1 1298.7,241.2 1299.4,229.7 1300.1,239.9 1300.8,236.7 1301.5,234.6 1302.2,233.8 1302.9,239.1 1303.6,244.1 1304.3,242.0 1305,247.4 1305.7,247.2 1306.4,248.5 1307.1,250.6 1307.8,249.9 1308.5,245.8 1309.2,245.0 1309.9,236.7 1310.6,243.1 1311.3,236.1 1312,233.3 1312.7,233.8 1313.4,230.6 1314.1,245.6 1314.8,248.7 1315.5,251.0 1316.2,252.4 1316.9,258.5 1317.6,248.4 1318.3,250.8 1319,243.1 1319.7,248.3 1320.4,253.0 1321.1,246.1 1321.8,242.1 1322.5,241.7 1323.2,238.2 1323.9,229.5 1324.6,224.1 1325.3,223.3 1326,235.3 1326.7,239.6 1327.4,245.2 1328.1,249.3 1328.8,245.6 1329.5,245.3 1330.2,234.3 1330.9,232.2 1331.6,224.4 1332.3,224.0 1333,230.9 1333.7,232.7 1334.4,237.9 1335.1,241.3 1335.8,238.6 1336.5,233.6 1337.2,234.7 1337.9,225.8 1338.6,234.5 1339.3,241.9 1340,240.5 1340.7,248.7 1341.4,251.7 1342.1,256.3 1342.8,249.7 1343.5,235.6 1344.2,233.8 1344.9,235.9 1345.6,238.3 1346.3,234.2 1347,238.7 1347.7,241.5 1348.4,241.1 1349.1,249.5 1349.8,254.7 1350.5,261.3 1351.2,250.0 1351.9,244.6 1352.6,243.2 1353,239.3 1353.15,240.9 1353.3,245.7 1354,241.3 1354.7,241.5 1355.4,242.0 1356.1,239.6 1356.8,243.1 1357.5,246.5 1358.2,244.2 1358.9,244.5 1359.6,244.9 1360.3,248.5 1361,242.6 1361.7,244.7 1362.4,238.4 1363.1,236.6 1363.8,234.2 1364.5,233.8 1365.2,222.6 1365.9,219.2 1366.05,215.0 1366.6,219.7 1367.3,236.2 1368,258.3 1368.3,252.6 1368.7,248.7 1369.4,238.8 1370.1,231.1 1370.8,223.9 1371,231.3 1371.5,229.6 1372.2,231.2 1372.9,240.1 1373.6,239.9 1374.3,235.8 1375,233.6 1375.7,234.0 1376.4,238.2 1377.1,238.6 1377.8,240.7 1378.5,246.6 1379.2,245.0 1379.9,254.5 1380.6,255.1 1381.3,257.9 1382,250.4 1382.7,253.2 1383.4,243.9 1384.1,232.9 1384.8,238.0 1385.5,244.6 1386.2,241.6 1386.9,250.5 1387.6,245.3 1388.3,250.3 1389,240.7 1389.7,230.6 1390.4,223.5 1391.1,234.1 1391.8,235.9 1392.5,233.4 1393.2,243.0 1393.9,241.6 1394.6,238.6 1395.3,235.8 1396,243.2 1396.7,244.5 1397.4,239.4 1398.1,229.5 1398.8,233.1 1399.5,234.7 1400.2,221.1 1400.9,227.3 1401.6,238.3 1402.3,238.8 1403,238.8 1403.7,245.6 1404.4,242.6 1405.1,245.7 1405.8,244.4 1406.5,241.6 1407.2,239.0 1407.9,246.7 1408.6,253.2 1409.3,251.4 1410,257.1 1410.7,258.7 1411.4,259.5 1412.1,260.6 1412.61,263.4 1412.8,262.9 1413.5,260.0 1414.2,239.4 1414.9,230.8 1415.54,221.6 1416.3,223.8 1417,234.7 1417.7,247.4 1418.23,248.9 1418.4,245.3 1419.1,242.8 1419.8,242.6 1420.5,235.9 1421.2,242.6 1421.9,240.7 1422.6,248.2 1423.3,243.6 1424,257.4 1424.7,254.5 1425.4,252.7 1426.1,246.0 1426.8,246.9 1427.5,230.7 1428.2,238.3 1428.9,234.6 1429.6,235.5 1430.3,233.4 1431,236.4 1431.7,235.7 1432.4,242.4 1433.1,239.5 1433.8,229.8 1434.5,229.6 1435.2,244.3 1435.9,247.0 1436.6,247.5 1437.3,245.4 1438,244.9 1438.7,242.1 1439.4,236.2 1440.1,231.9 1440.8,228.0 1441.5,223.8 1442.2,239.6 1442.9,235.2 1443.6,236.3 1444.3,242.1 1445,245.3 1445.7,242.2 1446.4,251.6 1447.1,250.6 1447.8,245.6 1448.5,248.4 1449.2,241.7 1449.9,243.0 1450.6,243.1 1451.3,237.1 1452,234.4 1452.7,241.0 1453.4,232.8 1454.1,235.2 1454.8,233.7 1455.5,227.0 1456.2,224.8 1456.9,225.4 1457.6,220.2 1458.3,232.3 1459,228.0 1459.7,237.3 1460.4,242.7 1461.1,239.8 1461.8,232.4 1462.5,240.3 1463.2,239.4 1463.9,240.0 1464.35,238.6 1464.6,248.8 1465.3,232.7 1466,226.5 1466.6,217.3 1467.4,224.8 1468.1,232.1 1468.8,235.3 1469.5,244.2 1470.2,242.3 1470.9,242.9 1471.6,247.5 1472.3,236.2 1473,250.7 1473.7,242.0 1474.4,246.9 1475.1,240.9 1475.8,247.7 1476.5,246.4 1477.2,242.1 1477.9,249.5 1478.6,249.8 1479.3,248.5 1480,248.1 1480.7,253.4 1481.4,250.4 1482.1,246.5 1482.8,252.5 1483.5,253.0 1484.2,256.0 1484.9,257.2 1485.6,253.7 1486.3,253.2 1487,258.6 1487.7,261.5 1488.4,250.6 1489.1,239.6 1489.8,229.8 1490.5,236.7 1491.2,236.1 1491.9,239.8 1492.6,246.9 1493.3,238.4 1494,239.4 1494.7,239.1 1495.4,232.4 1496.1,228.6 1496.8,235.9 1497.5,238.2 1498.2,231.8 1498.9,232.1 1499.6,227.3 1500.3,238.8 1501,239.7 1501.7,238.5 1502.4,242.5 1503.1,243.2 1503.8,243.3 1504.5,249.7 1505.2,258.2 1505.9,253.4 1506.6,260.3 1507.3,253.6 1508,260.0 1508.7,255.4 1509.4,252.5 1510.1,246.6 1510.46,236.0 1510.8,238.7 1511.5,227.3 1512.2,226.3 1512.9,219.2 1513.16,213.8 1513.6,214.1 1514.3,226.9 1515,235.2 1515.7,244.9 1516.09,257.6 1516.4,245.3 1517.1,258.7 1517.8,260.9 1518.34,259.5 1518.5,266.8 1519.2,264.1 1519.9,253.1 1520.6,245.0 1521.3,248.3 1522,248.3 1522.7,243.3 1523.4,251.6 1524.1,246.3 1524.8,245.5 1525.5,249.4 1526.2,239.4 1526.9,254.1 1527.6,251.0 1528.3,256.3 1528.46,251.6 1529,242.1 1529.7,213.3 1530.4,189.4 1530.71,187.6 1531.1,190.1 1531.8,222.4 1532.5,253.2 1532.96,264.0 1533.2,260.9 1533.9,233.6 1534.6,198.7 1535.21,183.3 1536,204.7 1536.7,236.4 1537.4,257.5 1538.1,254.4 1538.8,246.0 1539.5,237.2 1540.16,236.8 1540.9,230.3 1541.6,236.1 1542.3,238.9 1543,236.6 1543.7,232.3 1544.4,228.1 1545.1,222.1 1545.8,213.7 1546.5,217.4 1547.2,228.4 1547.9,231.4 1548.6,240.1 1549.3,248.0 1550,247.4 1550.7,243.4 1551.4,245.4 1552.1,240.5 1552.8,235.2 1553.5,231.3 1554.2,230.6 1554.9,224.4 1555.6,229.4 1556.3,233.3 1556.58,224.8 1557,228.3 1557.7,232.4 1558.4,242.9 1559.1,247.7 1559.8,253.0 1559.95,261.4 1560.5,248.0 1561.2,255.8 1561.9,248.4 1562.6,257.6 1563.3,259.2 1564,254.9 1564.7,257.5 1565.4,270.0 1566.1,269.7 1566.25,267.7 1566.8,266.4 1567.5,253.2 1568.2,248.3 1568.9,239.4 1569.6,226.2 1570.3,217.4 1571,207.8 1571.65,200.1 1572.4,212.5 1573.1,234.3 1573.8,250.4 1574.5,242.3 1575.2,241.6 1575.9,233.8 1576.6,230.1 1577.3,228.8 1578,227.4 1578.7,233.4 1579.4,239.2 1580.1,248.6 1580.8,242.0 1581.5,243.7 1582.2,246.6 1582.9,244.6 1583.6,240.9 1584.3,232.5 1585,232.1 1585.7,232.9 1586.4,221.7 1587.1,233.8 1587.8,225.2 1588.5,227.6 1589.2,230.5 1589.9,231.0 1590.6,227.0 1591.3,223.3 1592,222.7 1592.7,225.7 1593.4,221.4 1594.1,226.4 1594.8,236.9 1595.5,239.3 1596.2,247.5 1596.9,248.9 1597.6,256.3 1598.3,258.4 1599,261.8 1599.7,270.0 1600.4,266.4 1601.1,263.8 1601.8,258.6 1602.5,257.6 1603.2,241.3 1603.9,244.3 1604.6,247.0 1605.3,249.5 1606,257.1 1606.7,246.7 1607.4,245.5 1608.1,244.5 1608.8,238.2 1609.5,232.7 1610.2,231.1 1610.9,232.7 1611.6,241.4 1612.3,234.9 1613,239.6 1613.7,234.2 1614.4,241.8 1615.1,239.5 1615.8,230.7 1616.5,233.1 1617.2,223.2 1617.9,231.2 1618.6,231.5 1619.3,229.3 1620,240.4 1620.7,237.6 1621.4,240.2 1622.1,238.1 1622.8,234.7 1623.5,228.9 1624.2,232.5 1624.9,234.5 1625.6,230.6 1626.3,237.2 1627,240.8 1627.7,236.8 1628.4,235.4 1629.1,244.5 1629.8,240.3 1630.5,240.5 1631.2,244.7 1631.9,251.7 1632.6,256.4 1633.3,261.1 1634,268.5 1634.7,256.3 1635.4,261.3 1636.1,256.5 1636.8,249.5 1637.5,250.7 1638.2,253.6 1638.9,238.6 1639.6,228.7 1640.3,226.8 1640.48,223.9 1641,223.5 1641.7,231.5 1642.4,247.9 1643.1,253.0 1643.8,250.0 1644.5,244.8 1645.2,238.5 1645.9,230.8 1646.56,227.4 1647.3,232.7 1648,240.9 1648.7,240.9 1649.4,237.7 1650.1,242.7 1650.8,242.1 1651.5,234.4 1652.2,230.4 1652.9,218.4 1653.6,220.3 1654.3,217.7 1655,215.5 1655.7,218.0 1656.4,231.7 1657.1,233.8 1657.8,233.1 1658.5,241.9 1659.2,241.0 1659.9,232.7 1660.6,237.1 1661.3,246.3 1662,240.6 1662.7,240.3 1663.4,250.7 1664.1,246.9 1664.8,252.3 1665.5,248.5 1666.2,249.5 1666.9,251.6 1667.6,239.3 1668.3,249.4 1669,249.9 1669.7,245.6 1670.4,238.2 1671.1,236.1 1671.3,238.7 1671.8,235.3 1672.5,227.3 1673.2,224.1 1673.55,221.3 1673.9,222.5 1674.6,227.8 1675.3,226.9 1676,236.7 1676.7,242.3 1677.4,231.5 1678.1,231.2 1678.8,228.1 1679.5,213.6 1680.2,207.1 1680.9,215.3 1681.6,221.3 1682.3,227.8 1683,234.2 1683.7,240.0 1684.4,232.1 1685.1,230.3 1685.8,236.3 1686.5,231.4 1687.2,239.9 1687.9,240.7 1688.6,240.7 1689.3,240.9 1690,242.8 1690.7,246.1 1691.4,248.1 1692.1,247.4 1692.8,240.3 1693.5,239.1 1694.2,234.9 1694.9,235.8 1695.6,240.8 1696.3,232.2 1697,229.5 1697.7,231.6 1698.4,228.0 1699.1,222.0 1699.8,220.0 1700.5,219.7 1701.2,221.7 1701.9,225.4 1702.6,234.7 1703.3,246.8 1703.92,245.8 1704.7,255.1 1705.4,254.1 1706.1,252.3 1706.8,245.6 1707.5,247.7 1708.2,254.6 1708.9,260.9 1709.6,259.2 1710.3,265.3 1711,262.8 1711.7,265.6 1712.4,274.3 1713.1,267.8 1713.8,262.5 1714.5,255.3 1715.16,252.5 1715.9,242.9 1716.6,236.9 1717.3,235.8 1718,231.6 1718.7,226.7 1719.4,226.0 1720.1,224.9 1720.8,229.7 1721.5,225.9 1722.2,228.9 1722.9,229.4 1723.6,232.9 1724.3,235.8 1725,235.7 1725.7,226.7 1726.4,230.3 1727.1,228.6 1727.8,224.3 1728.5,230.0 1729.2,227.0 1729.9,230.7 1730.6,227.6 1731.3,232.5 1732,230.3 1732.7,224.1 1733.4,225.6 1734.1,219.6 1734.28,227.1 1734.8,214.2 1735.5,201.3 1736.2,188.2 1736.53,187.9 1736.9,191.5 1737.6,212.1 1738.3,238.5 1738.78,244.3 1739,245.9 1739.7,221.4 1740.4,194.5 1741.03,185.9 1741.8,184.4 1742.5,181.6 1743.2,184.8 1743.9,189.7 1744.6,215.1 1745.3,226.8 1745.53,233.2 1746,230.3 1746.7,233.9 1747.4,236.7 1748.1,235.9 1748.8,244.6 1749.5,244.7 1750.2,235.4 1750.9,234.8 1751.6,241.0 1752.3,232.2 1753,233.2 1753.7,235.6 1754.4,234.2 1755.1,224.5 1755.8,218.5 1756.5,213.7 1757.2,210.6 1757.9,202.2 1758.6,209.5 1759.3,215.3 1760,229.3 1760.6,223.7 1761.4,235.6 1762.1,228.9 1762.8,222.8 1763.5,222.9 1764.2,218.6 1764.9,220.0 1765.6,216.1"/>
<path stroke="#457816" d="M941.0,300.4L941.7,300.2 942.4,301.4 943.1,301.8 943.8,303.7 944.5,307.9 945.2,310.3 945.9,308.7 946.6,312.6 947.3,308.2 948,308.2 948.7,307.5 949.4,303.6 950.1,302.9 950.8,302.2 951.5,299.6 952.2,300.3 952.9,305.6 953.6,313.0 954.3,314.2 955,319.5 955.7,307.4 956.4,311.2 957.1,312.4 957.8,304.1 958.5,305.4 959.2,307.8 959.9,304.7 960.6,302.0 961.3,299.9 962,295.8 962.7,295.1 963.4,303.7 964.1,309.7 964.8,311.6 965.3,315.2 965.5,318.3 966.2,303.7 966.9,297.9 967.6,287.4 968,290.3 968.3,292.1 969,294.4 969.7,299.5 970.25,302.5 970.4,311.4 971.1,304.7 971.8,321.3 972.5,323.4 973.2,336.4 973.63,335.9 973.9,336.0 974.6,333.0 975.3,332.7 976,331.4 976.7,323.2 977.4,317.8 978.1,316.9 978.8,323.2 979.5,324.5 980.2,333.6 980.38,342.7 980.9,331.7 981.6,317.3 982.3,303.1 982.63,297.4 983,300.8 983.7,299.8 984.4,298.7 985.1,298.6 985.8,296.0 986.5,299.0 987.2,295.3 987.9,298.2 988.6,294.0 989.3,294.6 990,296.2 990.7,297.8 991.4,288.2 992.1,290.1 992.8,299.5 993.5,308.4 994.2,304.6 994.9,304.7 995.6,299.6 996.3,296.4 997,300.8 997.7,300.4 998.4,306.6 999.1,303.9 999.8,309.2 1000.5,293.7 1001.2,297.8 1001.9,286.0 1002.6,291.4 1003.3,298.4 1004,308.2 1004.7,312.2 1005.4,312.2 1006.1,318.3 1006.8,321.4 1007.5,324.8 1008.2,324.1 1008.9,333.8 1009.6,328.2 1010.3,322.7 1011,308.1 1011.7,296.3 1012.4,283.3 1013.01,277.8 1013.8,296.6 1014.5,316.6 1015.2,337.4 1015.71,339.5 1015.9,339.5 1016.6,339.6 1017.3,333.3 1018,328.4 1018.63,324.0 1019.4,316.5 1020.1,320.1 1020.8,316.1 1021.5,319.3 1022.2,316.6 1022.9,305.2 1023.6,302.3 1024.3,299.7 1025,298.4 1025.7,300.0 1026.4,307.6 1027.1,314.7 1027.8,312.7 1028.5,322.2 1029.2,323.8 1029.88,322.0 1030.6,226.0 1031.01,186.8 1031.3,192.5 1032,254.1 1032.7,327.4 1033.26,356.0 1033.4,350.1 1034.1,300.4 1034.8,224.5 1035.5,186.3 1036.2,227.7 1036.9,313.6 1037.6,372.9 1037.76,377.9 1038.3,348.7 1038.6,320.0 1039,232.2 1039.7,15.1 1040,-20.0 1040.4,204.3 1041.1,828.0 1041.8,462.3 1042.5,-20.0 1043.2,178.0 1043.9,414.4 1044.6,403.2 1045.3,358.1 1046,314.2 1046.5,300.0 1046.7,292.0 1047.4,302.9 1048.1,298.5 1048.8,291.3 1049.5,291.5 1050.2,295.4 1050.9,281.0 1051.6,285.0 1052.3,282.9 1053,282.8 1053.7,281.7 1054.4,279.4 1055.1,292.6 1055.8,288.1 1056.5,293.8 1056.89,290.7 1057.2,288.3 1057.9,304.2 1058.6,305.9 1059.3,318.8 1059.81,320.5 1060,318.5 1060.7,321.6 1061.4,312.7 1062.1,308.5 1062.8,303.1 1063.5,299.6 1064.2,293.7 1064.9,292.4 1065.6,288.0 1066.3,291.6 1067,292.7 1067.7,297.3 1068.4,301.7 1069.1,297.3 1069.8,300.8 1070.5,298.4 1071.2,292.5 1071.9,292.9 1072.6,283.5 1073.3,287.8 1074,285.3 1074.7,273.7 1074.89,268.4 1075.4,263.0 1076.1,262.0 1076.8,249.3 1077.14,249.6 1077.5,253.5 1078.2,269.4 1078.9,286.6 1079.39,290.8 1079.6,292.6 1080.3,299.0 1081,306.7 1081.64,306.5 1082.4,295.9 1083.1,280.9 1083.8,276.2 1084.5,279.8 1085.2,276.7 1085.9,277.7 1086.6,278.4 1087.3,282.8 1088,283.7 1088.7,291.4 1089.4,295.7 1090.1,309.6 1090.8,321.2 1091.5,325.2 1091.77,324.2 1092.2,308.6 1092.9,252.5 1093.6,197.0 1094.02,189.2 1094.3,190.9 1095,235.1 1095.7,289.0 1096.27,303.6 1096.4,303.4 1097.1,270.1 1097.8,214.3 1098.5,179.8 1099.2,212.1 1099.9,267.6 1100.6,309.4 1100.77,306.4 1101.3,290.9 1102,237.7 1102.7,191.3 1103.02,177.5 1103.4,185.1 1104.1,202.8 1104.8,225.6 1105.5,249.6 1106.2,268.1 1106.39,266.0 1106.9,268.0 1107.6,274.5 1108.3,272.7 1108.64,273.8 1109,277.5 1109.7,286.6 1110.4,290.8 1110.89,295.8 1111.1,300.7 1111.8,293.0 1112.5,277.2 1113.2,274.9 1113.9,271.1 1114.6,280.2 1115.3,280.3 1116,282.9 1116.52,292.0 1116.7,293.4 1117.4,292.5 1118.1,301.3 1118.77,320.0 1119.5,309.9 1120.2,303.2 1120.9,286.8 1121.6,291.5 1122.3,296.1 1123,284.2 1123.7,283.8 1124.4,282.2 1125.1,286.2 1125.8,280.7 1126.5,296.0 1127.2,298.2 1127.9,290.0 1128.6,298.4 1129.3,283.8 1130,284.4 1130.7,287.6 1131.4,282.0 1132.1,284.3 1132.8,285.1 1133.5,294.4 1134.2,292.7 1134.9,303.7 1135.6,304.1 1136.3,303.1 1137,307.6 1137.7,311.7 1138.4,308.1 1139.1,315.6 1139.8,318.6 1140.5,318.5 1141.2,322.1 1141.9,323.3 1142.6,339.5 1143.3,330.3 1144,337.7 1144.7,331.2 1145.4,321.4 1146.1,317.5 1146.8,311.8 1147.5,306.1 1148.2,298.9 1148.9,287.5 1149.15,286.6 1149.6,288.4 1150.3,302.4 1151,323.0 1151.4,328.9 1151.7,323.5 1152.4,322.0 1153.1,310.8 1153.8,306.0 1154.5,307.4 1155.2,302.4 1155.9,295.6 1156.6,304.9 1157.3,317.1 1158,312.3 1158.7,309.5 1159.4,312.3 1160.1,308.4 1160.8,307.1 1161.5,314.0 1162.2,318.3 1162.9,311.4 1163.6,315.7 1164.3,313.6 1165,308.2 1165.7,304.3 1166.4,306.6 1167.1,302.3 1167.8,310.3 1168.5,316.5 1169.2,320.2 1169.4,315.4 1169.9,323.9 1170.6,345.7 1171.3,366.1 1171.65,371.1 1172,359.2 1172.7,287.2 1173.4,208.2 1173.9,187.4 1174.1,186.4 1174.8,214.4 1175.5,262.7 1176.2,313.2 1176.9,347.7 1177.27,347.0 1177.6,343.9 1178.3,280.2 1179,207.9 1179.52,189.4 1179.7,191.3 1180.4,216.0 1181.1,268.9 1181.8,325.0 1182.5,364.1 1182.9,370.0 1183.2,366.6 1183.9,345.8 1184.6,320.9 1185.15,309.8 1185.3,305.7 1186,308.5 1186.7,298.0 1187.4,298.4 1188.1,304.6 1188.8,303.3 1189.5,298.6 1190.2,298.0 1190.9,286.8 1191.6,290.3 1192.3,285.4 1193,274.9 1193.7,275.0 1194.15,270.8 1194.4,276.4 1195.1,287.4 1195.8,309.8 1196.4,322.3 1197.2,317.6 1197.9,311.2 1198.6,309.0 1199.3,303.9 1200,300.4 1200.7,301.1 1201.4,305.0 1202.1,298.1 1202.8,302.5 1203.5,302.9 1204.2,306.6 1204.9,312.5 1205.6,314.3 1206.3,323.0 1207,330.4 1207.7,335.1 1208.4,338.3 1208.78,337.5 1209.1,328.6 1209.8,324.2 1210.5,309.9 1211.03,310.2 1211.2,309.1 1211.9,299.7 1212.6,290.7 1213.3,285.4 1214,287.3 1214.4,285.5 1214.7,282.0 1215.4,298.2 1216.1,306.1 1216.8,308.2 1217.5,317.5 1217.78,315.1 1218.2,314.8 1218.9,314.4 1219.6,313.6 1220.3,306.6 1221,297.0 1221.7,301.2 1222.4,294.0 1223.1,296.2 1223.8,290.0 1224.5,287.1 1225.2,285.7 1225.9,288.8 1226.6,276.9 1227.3,284.1 1228,277.2 1228.7,284.9 1229.4,290.5 1230.1,292.4 1230.8,289.7 1231.28,294.0 1231.5,297.2 1232.2,295.6 1232.9,283.6 1233.6,277.2 1234.3,267.5 1234.65,269.4 1235,277.0 1235.7,271.2 1236.4,288.5 1237.1,298.2 1237.8,313.8 1238.03,313.2 1238.5,323.1 1239.2,314.2 1239.9,319.1 1240.6,327.7 1241.3,325.0 1242,326.1 1242.7,314.1 1243.4,304.5 1243.66,305.8 1244.1,307.0 1244.8,312.4 1245.5,320.5 1246.2,331.8 1246.9,325.2 1247.03,337.8 1247.6,330.1 1248.3,320.2 1249,314.1 1249.7,295.0 1250.4,290.5 1251.1,291.4 1251.8,310.2 1252.5,328.9 1253.2,340.6 1253.78,334.8 1254.6,329.9 1255.3,307.9 1256,302.4 1256.7,303.3 1257.4,310.4 1258.1,324.4 1258.28,320.7 1258.8,325.9 1259.5,336.7 1260.2,333.8 1260.53,340.6 1260.9,337.6 1261.6,321.4 1262.3,302.0 1262.78,293.0 1263,295.7 1263.7,299.4 1264.4,293.0 1265.1,298.8 1265.8,301.4 1266.5,312.5 1267.2,326.8 1267.9,322.5 1268.6,326.1 1269.3,322.0 1270,317.6 1270.7,305.1 1271.4,304.2 1271.78,308.2 1272.1,305.4 1272.8,318.4 1273.5,330.4 1274.03,345.6 1274.2,336.8 1274.9,311.7 1275.6,273.4 1276.28,251.8 1277,264.7 1277.7,280.7 1278.4,291.4 1278.53,298.9 1279.1,295.4 1279.8,291.9 1280.5,289.4 1280.78,283.9 1281.2,285.1 1281.9,299.7 1282.6,322.2 1283.03,325.5 1283.3,319.2 1284,293.6 1284.7,262.5 1285.28,248.6 1286.1,265.5 1286.8,293.5 1287.5,304.7 1288.2,304.2 1288.9,307.4 1289.6,306.9 1290.3,302.7 1291,305.1 1291.7,311.2 1292.4,311.0 1293.1,316.4 1293.8,313.4 1294.5,316.3 1295.2,309.7 1295.9,316.8 1296.6,317.3 1297.3,318.3 1298,321.8 1298.7,316.8 1299.4,332.4 1300.1,327.0 1300.8,332.4 1301.04,323.5 1301.5,325.2 1302.2,321.0 1302.9,308.8 1303.6,302.7 1303.74,303.7 1304.3,295.6 1305,283.8 1305.7,278.6 1306.4,273.8 1306.66,273.7 1307.1,275.0 1307.8,279.2 1308.5,287.9 1309.2,286.3 1309.9,298.3 1310.6,292.8 1311.3,296.4 1312,287.3 1312.7,294.3 1313.4,296.4 1314.1,294.4 1314.8,294.7 1315.5,297.0 1316.2,298.7 1316.9,304.0 1317.6,308.3 1318.3,311.7 1319,314.4 1319.7,321.4 1320.4,314.3 1321.1,315.0 1321.8,307.1 1322.5,307.4 1323.2,303.5 1323.9,303.7 1324.6,297.5 1325.3,284.5 1326,285.9 1326.7,286.9 1327.4,288.9 1328.1,287.2 1328.8,295.8 1329.5,293.1 1330.2,298.6 1330.9,298.1 1331.6,286.7 1332.3,286.2 1333,278.9 1333.7,272.1 1334.4,265.0 1335.1,263.0 1335.8,264.3 1336.5,271.2 1337.2,280.9 1337.9,295.9 1338.16,287.2 1338.6,278.9 1339.3,289.9 1340,287.7 1340.7,299.7 1341.4,293.5 1342.1,289.8 1342.8,289.0 1343.5,285.4 1344.2,277.7 1344.9,277.0 1345.6,282.7 1346.3,291.2 1347,307.0 1347.17,307.8 1347.7,313.6 1348.4,313.4 1349.1,309.0 1349.8,313.2 1350.5,311.1 1351.2,310.2 1351.9,307.5 1352.6,302.3 1353,299.4 1353.15,292.3 1353.3,292.4 1354,295.5 1354.7,298.5 1355.4,300.8 1356.1,300.8 1356.8,303.7 1357.5,306.7 1358.2,303.5 1358.9,309.4 1359.6,309.5 1360.3,303.3 1361,305.4 1361.7,302.4 1362.4,303.0 1363.1,300.3 1363.8,301.8 1364.5,302.4 1365.2,306.6 1365.9,310.6 1366.6,309.2 1367.3,310.9 1368,293.6 1368.7,297.5 1369.4,280.9 1370.1,277.0 1370.8,286.8 1371.5,290.3 1372.2,294.2 1372.9,298.0 1373.25,291.2 1373.6,293.6 1374.3,313.3 1375,318.2 1375.49,321.5 1375.7,319.9 1376.4,309.1 1377.1,294.8 1377.74,294.8 1378.5,291.8 1379.2,293.1 1379.9,291.8 1380.6,286.1 1381.3,283.4 1382,290.6 1382.7,295.8 1383.4,306.6 1384.1,307.2 1384.8,318.0 1385.5,310.8 1386.2,307.8 1386.9,310.6 1387.6,308.1 1388.3,308.9 1389,306.6 1389.7,309.7 1390.4,310.2 1391.1,321.0 1391.8,315.3 1392.5,308.8 1393.2,304.8 1393.9,300.7 1394.6,292.9 1395.3,283.3 1396,280.8 1396.7,286.4 1397.4,285.6 1398.1,286.8 1398.8,286.6 1399.5,292.0 1400.2,289.3 1400.9,293.0 1401.6,290.0 1402.3,294.3 1403,292.9 1403.7,286.8 1404.4,280.2 1405.1,285.6 1405.8,286.9 1406.5,290.6 1407.2,293.8 1407.9,300.8 1408.6,301.0 1409.3,302.7 1410,301.7 1410.7,313.2 1411.04,319.6 1411.4,316.6 1412.1,326.6 1412.8,329.4 1413.5,332.5 1414.19,340.1 1414.9,333.3 1415.6,315.8 1416.3,303.2 1417,290.8 1417.7,289.3 1418.4,288.1 1419.1,295.6 1419.8,302.9 1420.5,310.6 1421.2,303.8 1421.9,314.5 1422.6,322.8 1423.18,323.6 1424,312.0 1424.7,307.8 1425.4,293.6 1426.1,291.8 1426.8,294.6 1427.5,290.4 1428.2,292.7 1428.9,306.8 1429.6,302.2 1430.3,305.1 1431,304.8 1431.7,308.7 1432.4,308.0 1433.1,312.2 1433.8,321.8 1434.5,327.3 1435.2,330.9 1435.78,327.8 1436.6,315.7 1437.3,310.9 1438,295.2 1438.48,295.4 1438.7,295.0 1439.4,313.4 1440.1,337.6 1440.73,348.1 1441.5,350.1 1442.2,344.6 1442.9,323.5 1443.6,313.3 1444.3,305.3 1445,289.9 1445.68,289.6 1446.4,289.3 1447.1,302.6 1447.8,311.3 1448.5,316.8 1449.2,315.2 1449.9,301.7 1450.6,289.9 1451.3,293.3 1451.98,284.8 1452.7,286.1 1453.4,291.5 1454.1,297.0 1454.8,298.6 1455.35,304.0 1455.5,306.1 1456.2,304.3 1456.9,312.4 1457.6,327.5 1458.3,328.5 1458.72,328.7 1459,338.8 1459.7,318.4 1460.4,312.4 1461.1,300.1 1461.8,298.7 1462.1,286.5 1462.5,292.1 1463.2,297.9 1463.9,299.0 1464.6,309.1 1465.3,314.7 1466,318.9 1466.7,319.7 1467.4,329.2 1468.1,320.3 1468.8,331.4 1469.5,319.4 1470.2,318.8 1470.9,308.1 1471.6,300.8 1472.3,298.4 1473,293.4 1473.7,311.6 1474.4,314.0 1475.1,316.2 1475.8,323.9 1476.5,311.9 1477.2,308.3 1477.9,306.4 1478.6,305.6 1479.3,308.4 1480,305.8 1480.7,296.4 1481.4,307.3 1482.1,312.3 1482.34,315.8 1482.8,318.3 1483.5,328.3 1484.2,341.2 1484.59,347.4 1484.9,338.8 1485.6,329.2 1486.3,308.9 1486.84,308.0 1487,311.3 1487.7,305.5 1488.4,316.7 1489.1,316.2 1489.8,315.9 1490.5,310.2 1491.2,304.8 1491.9,301.1 1492.6,293.8 1493.3,286.5 1493.59,289.9 1494,299.6 1494.7,309.8 1495.4,320.7 1496.1,340.6 1496.8,345.8 1496.97,346.6 1497.5,343.2 1498.2,334.8 1498.9,327.8 1499.6,309.0 1500.3,304.6 1501,306.0 1501.7,308.4 1502.4,314.0 1503.1,310.8 1503.8,316.6 1504.5,315.9 1505.2,314.9 1505.9,316.0 1506.6,316.0 1507.09,315.3 1507.3,309.3 1508,296.4 1508.7,296.1 1509.34,283.0 1510.1,285.6 1510.8,281.8 1511.5,302.8 1512.2,304.1 1512.71,305.1 1512.9,306.5 1513.6,287.7 1514.3,266.8 1514.96,254.8 1515.7,271.6 1516.4,293.0 1517.1,315.4 1517.66,321.3 1517.8,316.8 1518.5,320.8 1519.2,317.0 1519.9,311.3 1520.6,308.5 1521.3,304.5 1522,306.9 1522.7,305.4 1523.4,308.4 1523.96,306.5 1524.1,306.5 1524.8,293.4 1525.5,285.0 1526.2,282.4 1526.9,264.5 1527.33,254.5 1527.6,246.9 1528.3,220.5 1529,192.3 1529.58,184.8 1530.4,302.2 1531.1,193.8 1531.8,-4.0 1532,-20.0 1532.5,214.0 1533.2,602.0 1533.9,255.2 1534.5,-20.0 1535.3,156.0 1536,300.0 1536.7,296.7 1537.4,293.4 1538.1,286.9 1538.8,280.8 1539.5,278.5 1540.2,275.9 1540.9,285.3 1541.51,281.3 1542.3,287.1 1543,299.2 1543.7,317.2 1544.4,327.1 1544.65,329.6 1545.1,325.7 1545.8,317.1 1546.5,302.6 1547.2,295.0 1547.58,294.0 1547.9,292.5 1548.6,281.7 1549.3,279.9 1550,276.1 1550.7,279.2 1550.95,278.3 1551.4,279.9 1552.1,280.3 1552.8,298.4 1553.5,303.3 1554.2,310.7 1554.33,308.7 1554.9,298.8 1555.6,298.6 1556.3,287.5 1557,280.9 1557.7,268.4 1558.4,265.8 1559.1,286.8 1559.8,302.7 1560.5,317.4 1561.08,317.5 1561.2,315.9 1561.9,309.0 1562.6,297.6 1563.3,295.6 1564,291.5 1564.45,286.1 1564.7,289.7 1565.4,289.0 1566.1,283.2 1566.8,282.3 1567.5,282.2 1567.82,278.2 1568.2,273.8 1568.9,263.9 1569.6,248.2 1570.07,257.4 1570.3,251.9 1571,268.7 1571.7,289.5 1572.32,295.8 1573.1,298.6 1573.8,310.3 1574.5,310.7 1575.2,316.8 1575.9,306.1 1576.6,307.3 1577.3,303.3 1578,305.6 1578.7,300.9 1579.4,298.9 1580.1,302.6 1580.8,307.8 1581.5,305.5 1582.2,313.3 1582.9,306.8 1583.6,313.5 1584.3,305.6 1585,303.0 1585.7,312.1 1586.4,320.7 1587.1,320.8 1587.8,330.0 1588.5,340.5 1589.19,348.3 1589.9,339.3 1590.6,316.6 1591.3,295.6 1592,280.9 1592.57,278.1 1592.7,277.9 1593.4,288.5 1594.1,311.3 1594.8,327.9 1595.49,329.1 1596.2,329.9 1596.9,321.8 1597.6,308.5 1598.19,300.6 1599,297.3 1599.7,281.0 1600.4,274.4 1601.1,270.4 1601.57,264.5 1601.8,270.7 1602.5,279.2 1603.2,287.3 1603.9,304.4 1604.6,316.3 1604.94,311.1 1605.3,314.6 1606,311.2 1606.7,310.7 1607.4,319.6 1608.1,310.5 1608.8,316.5 1609.5,318.1 1610.2,307.6 1610.9,294.8 1611.6,299.2 1612.3,297.1 1613,299.1 1613.7,297.6 1614.4,289.8 1615.1,293.6 1615.8,295.3 1616.5,299.3 1617.2,295.3 1617.9,302.6 1618.6,304.6 1619.3,305.2 1620,307.5 1620.7,311.1 1621.4,313.7 1621.81,310.1 1622.1,320.0 1622.8,307.9 1623.5,296.9 1624.2,298.6 1624.9,289.4 1625.19,286.7 1625.6,283.3 1626.3,291.5 1627,299.7 1627.7,312.7 1628.4,323.9 1628.56,322.9 1629.1,323.5 1629.8,328.7 1630.5,329.0 1631.2,333.8 1631.9,339.4 1632.6,337.4 1633.06,344.7 1633.3,340.3 1634,329.0 1634.7,316.4 1635.4,303.2 1636.1,295.6 1636.43,302.3 1636.8,297.1 1637.5,309.2 1638.2,321.2 1638.9,331.9 1639.6,342.5 1640.3,344.6 1640.48,340.8 1641,338.4 1641.7,328.4 1642.4,313.7 1643.1,306.5 1643.8,303.2 1644.5,300.4 1645.2,300.8 1645.9,298.9 1646.6,289.8 1647.3,297.3 1648,303.3 1648.7,307.3 1649.4,308.2 1649.93,307.8 1650.1,305.5 1650.8,303.4 1651.5,290.8 1652.2,273.1 1652.9,261.2 1653.3,263.9 1653.6,269.4 1654.3,266.2 1655,270.4 1655.7,273.2 1656.4,274.4 1657.1,277.5 1657.8,281.1 1658.5,285.0 1659.2,283.1 1659.9,289.7 1660.6,293.5 1661.3,303.2 1662,307.9 1662.7,307.8 1663.4,311.8 1664.1,320.7 1664.8,326.3 1665.5,333.7 1666.2,340.0 1666.8,339.9 1667.6,334.0 1668.3,336.6 1669,320.3 1669.7,315.3 1670.17,311.5 1670.4,308.7 1671.1,313.9 1671.8,315.7 1672.5,319.5 1673.2,319.9 1673.9,321.5 1674.6,317.5 1675.3,327.1 1676,327.2 1676.7,326.4 1677.4,326.0 1678.1,326.7 1678.8,323.4 1679.5,321.7 1680.2,319.8 1680.9,314.5 1681.6,319.0 1682.3,316.3 1683,316.4 1683.67,311.3 1684.4,302.5 1685.1,289.7 1685.8,284.4 1685.92,287.9 1686.5,286.1 1687.2,293.0 1687.9,298.5 1688.6,306.3 1689.3,312.9 1690,313.9 1690.7,310.2 1691.4,303.6 1692.1,296.0 1692.8,300.5 1693.5,293.9 1694.2,305.3 1694.9,317.6 1695.6,319.0 1696.04,323.6 1696.3,322.2 1697,311.4 1697.7,295.1 1698.4,286.0 1699.1,271.6 1699.42,279.5 1699.8,276.3 1700.5,289.3 1701.2,302.8 1701.9,317.8 1702.6,321.5 1702.79,324.2 1703.3,318.9 1704,302.0 1704.7,282.9 1705.04,282.5 1705.4,294.3 1706.1,341.4 1706.8,392.6 1707.29,408.8 1707.5,405.1 1708.2,393.1 1708.9,365.5 1709.6,337.7 1710.22,318.3 1711,307.0 1711.7,295.9 1712.4,285.9 1712.91,280.4 1713.1,287.0 1713.8,286.5 1714.5,288.7 1715.2,288.8 1715.9,294.8 1716.6,297.5 1717.3,306.5 1718,307.4 1718.54,311.9 1718.7,306.8 1719.4,317.6 1720.1,327.8 1720.8,340.2 1721.5,340.8 1721.91,348.0 1722.2,344.6 1722.9,312.2 1723.6,273.0 1724.16,253.8 1724.3,256.5 1725,259.1 1725.7,261.2 1726.4,267.6 1726.86,258.6 1727.1,256.4 1727.8,257.5 1728.5,245.4 1729.11,248.5 1729.9,243.8 1730.6,256.0 1731.3,266.0 1732,273.8 1732.7,274.2 1733.4,287.6 1734.1,294.3 1734.8,297.5 1735.5,298.1 1736.2,305.7 1736.9,300.0 1737.6,230.9 1738.3,70.2 1739,-20.0 1739.7,289.2 1740.4,783.9 1740.8,900.3 1741.1,824.2 1741.8,319.5 1742.5,-20.0 1743.2,128.1 1743.9,305.6 1744.6,306.3 1745.3,304.5 1746,316.6 1746.7,312.9 1747.4,314.2 1748.1,318.6 1748.8,326.6 1749.5,323.7 1750.03,328.1 1750.2,325.3 1750.9,319.6 1751.6,315.6 1752.3,297.3 1753,288.7 1753.4,288.4 1753.7,279.9 1754.4,273.3 1755.1,260.9 1755.65,268.4 1755.8,268.4 1756.5,276.8 1757.2,282.8 1757.9,284.0 1758.6,279.0 1759.3,274.4 1760,265.6 1760.7,255.9 1761.28,255.6 1761.4,252.4 1762.1,263.3 1762.8,277.1 1763.5,287.1 1764.2,290.6 1764.9,296.8 1765.6,298.9"/>
<path stroke="#00d050" d="M941.0,374.1L941.7,375.2 942.4,374.3 943.1,372.5 943.8,376.0 944.5,370.7 945.2,375.2 945.9,370.1 946.6,374.1 947.3,374.4 948,375.6 948.7,380.5 949.4,381.8 950.1,376.3 950.8,375.8 951.5,375.6 952.2,380.2 952.9,384.5 953.6,380.1 954.3,385.6 955,378.9 955.7,380.7 956.4,376.0 957.1,373.3 957.8,365.2 958.5,368.3 959.2,369.5 959.9,375.2 960.6,371.0 961.3,372.8 962,373.9 962.7,384.2 963.4,385.1 964.1,384.1 964.8,380.4 965.5,379.9 966.2,381.5 966.9,376.6 967.6,377.9 968.3,379.7 969,374.3 969.7,382.6 970.4,369.9 971.1,378.2 971.8,375.1 972.5,381.1 973.2,388.6 973.9,392.2 974.6,374.1 975.3,378.1 976,381.2 976.7,374.1 977.4,376.6 978.1,373.2 978.8,376.2 979.5,377.7 980.2,371.3 980.9,369.7 981.6,368.8 982.3,364.4 983,352.5 983.7,364.8 984.4,359.4 985.1,366.6 985.8,366.1 986.5,368.2 987.2,361.4 987.9,364.6 988.6,352.2 989.3,350.8 990,354.5 990.7,352.1 991.4,358.3 992.1,358.2 992.8,367.4 993.5,366.6 994.2,377.7 994.9,379.9 995.6,381.8 996.3,377.5 997,366.5 997.7,364.9 998.4,358.2 999.1,360.1 999.8,355.3 1000.5,354.9 1000.63,347.4 1001.2,353.1 1001.9,371.2 1002.6,385.5 1003.3,401.9 1003.56,399.0 1004,393.6 1004.7,384.6 1005.4,384.6 1006.1,379.8 1006.8,381.0 1007.5,379.5 1008.2,380.1 1008.9,381.6 1009.6,374.5 1010.3,376.2 1011,377.0 1011.7,375.2 1012.4,379.7 1013.1,375.1 1013.8,377.6 1014.5,370.1 1015.2,372.4 1015.9,371.7 1016.6,372.3 1017.3,380.5 1018,371.4 1018.7,380.9 1019.4,380.8 1020.1,372.9 1020.8,372.4 1021.5,376.5 1022.2,384.7 1022.9,378.0 1023.6,385.9 1024.3,387.1 1025,388.1 1025.7,394.6 1026.4,391.1 1027.1,387.0 1027.8,381.6 1028.5,376.1 1029.2,375.9 1029.9,384.8 1030.6,367.7 1031.3,373.7 1032,384.5 1032.7,379.0 1033.4,385.6 1034.1,384.2 1034.8,389.2 1035.5,375.7 1036.2,373.1 1036.9,370.2 1037.6,366.9 1038.3,366.6 1039,360.0 1039.7,283.3 1040.4,132.9 1041.1,5.5 1041.5,-20.0 1041.8,77.3 1042.5,602.7 1042.8,700.0 1043.2,632.6 1043.9,400.1 1044.2,360.0 1044.6,353.0 1045.3,356.1 1046,361.0 1046.7,372.6 1047.4,376.2 1048.1,381.2 1048.8,375.9 1049.5,370.0 1050.2,368.9 1050.9,372.0 1051.6,366.9 1052.3,366.8 1053,375.2 1053.7,372.2 1054.4,372.0 1055.1,369.9 1055.8,370.2 1056.5,362.0 1057.2,362.2 1057.9,361.7 1058.6,358.6 1059.3,353.5 1060,350.0 1060.7,346.2 1061.4,336.5 1062.1,333.6 1062.51,333.3 1062.8,336.0 1063.5,335.7 1064.2,356.1 1064.9,363.6 1065.6,374.4 1065.89,368.9 1066.3,369.7 1067,359.6 1067.7,358.0 1068.4,353.9 1069.1,354.2 1069.8,361.9 1070.5,368.0 1071.2,372.7 1071.9,373.3 1072.6,368.5 1073.3,355.6 1074,355.4 1074.7,360.3 1075.4,362.6 1076.1,359.6 1076.8,371.2 1077.5,365.0 1078.2,369.3 1078.9,361.5 1079.6,348.5 1080.3,334.8 1080.51,336.1 1081,324.9 1081.7,311.4 1082.4,303.0 1082.76,301.2 1083.1,305.0 1083.8,330.5 1084.5,359.6 1085.01,370.5 1085.2,370.8 1085.9,363.0 1086.6,356.9 1087.3,354.6 1088,355.3 1088.7,354.0 1089.4,356.7 1090.1,356.7 1090.8,363.7 1091.5,370.1 1092.2,364.2 1092.9,369.2 1093.6,371.1 1094.3,376.9 1095,380.0 1095.7,267.3 1096.4,66.4 1097,-20.0 1097.8,331.7 1098.4,560.0 1099.2,451.9 1099.8,380.0 1100.6,378.6 1101.3,372.6 1102,377.4 1102.7,370.8 1103.4,368.6 1104.1,366.4 1104.8,367.0 1105.5,371.1 1106.2,374.1 1106.9,379.2 1107.6,378.1 1108.3,381.7 1109,375.6 1109.7,384.8 1110.4,382.4 1110.89,378.4 1111.1,387.1 1111.8,388.5 1112.5,376.2 1113.2,363.6 1113.9,350.2 1114.27,353.5 1114.6,356.4 1115.3,344.7 1116,343.0 1116.7,339.9 1117.4,339.6 1118.1,348.7 1118.8,357.6 1119.5,367.3 1120.2,368.8 1120.9,373.1 1121.6,382.2 1122.3,380.3 1123,383.1 1123.7,380.8 1124.4,379.3 1125.1,376.3 1125.8,372.3 1126.5,361.9 1127.2,357.2 1127.9,350.4 1128.6,353.8 1129.3,352.7 1130,357.9 1130.7,362.7 1131.4,371.9 1132.1,379.7 1132.8,383.3 1133.5,379.1 1134.2,378.0 1134.9,380.8 1135.6,374.8 1136.3,376.3 1137,369.3 1137.7,379.2 1138.4,367.2 1139.1,358.1 1139.8,360.3 1140.14,357.4 1140.5,361.5 1141.2,366.5 1141.9,375.0 1142.6,388.3 1143.3,393.2 1143.52,401.4 1144,394.6 1144.7,397.0 1145.4,396.0 1146.1,384.1 1146.8,378.8 1147.5,372.0 1148.2,362.7 1148.9,356.1 1149.6,345.2 1150.27,343.7 1151,356.3 1151.7,375.1 1152.4,387.3 1152.52,389.4 1153.1,391.9 1153.8,380.9 1154.5,384.2 1155.2,384.0 1155.9,385.1 1156.6,389.3 1157.3,388.9 1158,394.3 1158.7,400.1 1159.4,400.0 1160.1,390.3 1160.8,397.8 1161.5,394.9 1162.2,401.7 1162.9,393.3 1163.6,387.0 1164.3,390.7 1165,391.6 1165.7,390.6 1166.4,382.5 1167.1,376.1 1167.8,370.5 1168.5,371.8 1169.2,370.9 1169.9,370.1 1170.6,376.4 1171.3,376.9 1172,380.0 1172.7,303.5 1173.4,144.2 1174.1,7.4 1174.5,-20.0 1174.8,43.8 1175.5,412.9 1175.9,520.0 1176.2,506.2 1176.9,417.5 1177.5,370.0 1178.3,374.5 1179,367.9 1179.7,372.2 1180.4,376.7 1181.1,373.0 1181.8,381.5 1182.5,380.1 1183.2,377.7 1183.9,386.7 1184.6,380.6 1185.3,373.3 1186,371.2 1186.7,368.7 1187.4,368.3 1188.1,374.2 1188.8,372.8 1189.5,376.2 1190.2,370.7 1190.9,370.3 1191.6,368.9 1192.3,374.9 1193,375.8 1193.7,382.7 1194.4,368.7 1195.1,376.4 1195.8,373.9 1196.5,368.4 1197.2,368.4 1197.9,358.9 1198.6,364.6 1199.3,367.1 1200,360.8 1200.7,343.1 1201.4,349.1 1202.1,353.6 1202.8,348.1 1203.5,340.6 1204.2,348.3 1204.9,342.5 1205.6,353.3 1206.3,355.8 1207,365.1 1207.7,370.2 1208.4,375.9 1209.1,380.2 1209.8,372.0 1210.5,378.5 1211.2,372.7 1211.9,377.1 1212.6,376.6 1213.3,377.4 1214,376.4 1214.7,379.1 1215.4,377.1 1216.1,383.3 1216.8,380.0 1217.5,376.1 1218.2,372.7 1218.9,368.9 1219.6,370.5 1220.3,370.9 1221,366.8 1221.7,371.9 1222.4,372.3 1223.1,375.1 1223.8,371.6 1224.5,370.8 1225.2,367.9 1225.9,366.1 1226.6,365.6 1227.3,370.2 1228,372.1 1228.7,376.1 1229.4,377.5 1230.1,373.5 1230.8,376.1 1231.5,371.0 1232.2,374.5 1232.9,369.9 1233.6,370.2 1234.3,366.7 1235,365.6 1235.7,358.9 1236.4,362.8 1236.9,364.7 1237.1,362.1 1237.8,357.9 1238.5,349.7 1239.2,341.1 1239.9,344.9 1240.28,338.0 1240.6,341.7 1241.3,347.3 1242,349.7 1242.7,354.6 1243.4,357.4 1244.1,363.7 1244.8,364.6 1245.5,372.9 1246.2,371.3 1246.9,386.4 1247.03,376.0 1247.6,387.6 1248.3,387.0 1249,393.5 1249.7,397.3 1250.4,393.1 1251.1,382.7 1251.8,370.6 1252.5,364.9 1252.66,367.8 1253.2,369.4 1253.9,364.9 1254.6,372.1 1255.3,375.3 1256,373.5 1256.7,371.3 1257.4,367.0 1258.1,347.1 1258.73,346.6 1259.5,367.3 1260.2,393.4 1260.53,392.5 1260.9,395.2 1261.6,385.5 1262.3,373.3 1263,367.8 1263.23,366.2 1263.7,355.1 1264.4,356.7 1265.1,353.2 1265.8,350.3 1266.5,351.0 1267.2,350.2 1267.9,359.9 1268.6,354.9 1269.3,356.6 1270,359.5 1270.7,356.1 1271.4,374.2 1272.1,369.8 1272.8,378.1 1273.5,371.3 1274.2,358.2 1274.9,346.0 1275.6,333.7 1276.28,320.2 1277,328.3 1277.7,337.4 1278.4,356.8 1279.1,367.7 1279.66,367.6 1279.8,366.8 1280.5,364.0 1281.2,356.6 1281.9,349.3 1282.6,345.1 1283.03,348.1 1283.3,346.4 1284,348.6 1284.7,354.9 1285.4,366.1 1285.73,365.1 1286.1,366.9 1286.8,369.5 1287.5,375.8 1288.2,378.8 1288.9,380.1 1289.6,371.1 1290.3,372.9 1291,362.7 1291.7,358.6 1292.04,359.0 1292.4,367.2 1293.1,363.0 1293.8,371.2 1294.5,383.0 1295.2,388.2 1295.41,393.6 1295.9,386.4 1296.6,383.4 1297.3,383.0 1298,376.8 1298.7,376.8 1299.4,370.2 1300.1,362.8 1300.8,353.7 1301.5,363.5 1302.2,364.0 1302.9,356.5 1303.6,357.3 1304.3,353.4 1305,342.4 1305.7,348.0 1306.4,342.9 1307.1,336.6 1307.8,329.0 1308.5,334.2 1309.2,337.0 1309.9,335.7 1310.6,343.9 1311.3,349.5 1312,348.9 1312.7,347.9 1313.4,354.8 1314.1,355.9 1314.8,355.8 1315.5,362.3 1316.2,359.0 1316.9,352.2 1317.6,359.2 1318.3,357.0 1319,351.2 1319.7,349.7 1320.4,352.8 1321.1,362.0 1321.8,363.8 1322.5,361.8 1323.2,370.3 1323.9,369.7 1324.6,363.1 1325.3,367.6 1326,363.1 1326.7,353.6 1327.4,363.2 1328.1,358.3 1328.8,363.2 1329.5,362.9 1330.2,366.4 1330.9,375.5 1331.6,376.8 1332.3,373.5 1333,375.0 1333.7,372.1 1334.4,364.8 1335.1,364.9 1335.8,359.9 1336.5,365.2 1337.2,370.2 1337.9,365.7 1338.6,361.4 1339.3,369.1 1340,371.4 1340.7,368.6 1341.4,372.5 1342.1,374.6 1342.8,373.0 1343.5,374.9 1344.2,373.7 1344.9,373.4 1345.6,366.2 1346.3,361.3 1347,356.4 1347.7,361.4 1348.4,358.2 1349.1,359.9 1349.8,361.2 1350.5,353.8 1351.2,363.5 1351.9,348.6 1352.6,360.9 1353,360.2 1353.15,376.0 1353.3,379.1 1354,376.5 1354.7,377.9 1355.4,375.5 1356.1,373.8 1356.8,377.1 1357.5,370.7 1358.2,363.0 1358.9,357.5 1359.6,355.0 1360.3,351.1 1361,344.4 1361.7,350.3 1362.4,341.9 1363.1,342.2 1363.8,340.9 1364.5,347.9 1365.2,350.8 1365.9,353.1 1366.6,361.9 1367.3,359.7 1368,367.5 1368.7,376.6 1369.4,369.3 1370.1,366.6 1370.8,372.7 1371.5,373.5 1372.2,370.0 1372.9,365.9 1373.6,365.3 1374.3,362.5 1375,355.3 1375.7,359.3 1376.4,345.5 1377.1,345.8 1377.8,358.2 1378.5,357.4 1379.2,359.2 1379.9,356.7 1380.6,362.6 1381.3,364.5 1382,364.4 1382.7,364.2 1383.4,364.2 1384.1,367.0 1384.8,365.4 1385.5,371.6 1386.2,370.6 1386.9,372.7 1387.6,380.5 1388.3,381.3 1389,388.3 1389.7,382.3 1390.4,377.7 1391.1,375.0 1391.8,363.2 1392.5,361.3 1393.2,364.4 1393.9,365.3 1394.6,356.0 1395.3,350.0 1396,352.0 1396.7,353.5 1397.4,349.9 1398.1,355.1 1398.8,351.5 1399.5,352.9 1400.2,344.6 1400.9,339.2 1401.36,335.8 1401.6,336.4 1402.3,340.3 1403,346.2 1403.61,354.2 1404.4,357.0 1405.1,364.7 1405.8,368.9 1406.5,363.2 1407.2,370.2 1407.9,362.9 1408.6,370.5 1409.3,372.0 1410,367.8 1410.7,374.5 1411.4,369.3 1412.1,373.4 1412.8,372.6 1413.5,374.5 1413.74,377.0 1414.2,371.8 1414.9,371.4 1415.6,355.4 1415.99,348.3 1416.3,351.0 1417,345.8 1417.7,340.0 1418.23,340.5 1418.4,346.5 1419.1,346.0 1419.8,358.5 1420.48,364.6 1421.2,370.6 1421.9,379.0 1422.6,377.0 1423.3,391.3 1423.86,389.6 1424,386.3 1424.7,385.3 1425.4,376.4 1426.1,371.9 1426.8,360.5 1427.23,362.9 1427.5,362.8 1428.2,356.0 1428.9,351.9 1429.6,349.1 1430.3,350.0 1431,345.8 1431.7,355.7 1432.4,352.3 1433.1,358.2 1433.8,361.3 1434.5,362.8 1435.2,360.0 1435.9,365.1 1436.6,366.9 1437.3,375.5 1438,369.2 1438.7,372.6 1439.4,375.6 1440.1,375.6 1440.8,380.8 1441.5,380.8 1442.2,376.2 1442.9,365.9 1443.6,367.5 1444.3,357.5 1445,366.4 1445.7,372.2 1446.4,374.7 1447.03,374.2 1447.8,378.4 1448.5,398.7 1449.2,402.8 1449.73,395.5 1449.9,395.7 1450.6,395.5 1451.3,380.9 1452,385.1 1452.7,375.6 1453.1,372.2 1453.4,373.9 1454.1,370.1 1454.8,367.5 1455.5,372.9 1456.2,361.4 1456.9,372.9 1457.6,373.7 1458.3,374.8 1459,377.2 1459.7,378.2 1460.4,378.8 1461.1,373.0 1461.8,369.1 1462.5,369.9 1463.2,369.7 1463.9,370.1 1464.6,367.8 1465.3,370.7 1466,377.1 1466.7,374.8 1467.4,382.3 1468.1,377.3 1468.8,377.9 1469.5,377.5 1470.2,371.9 1470.9,370.6 1471.6,371.0 1472.3,368.8 1473,362.7 1473.7,367.0 1474.4,365.2 1475.1,362.7 1475.8,356.0 1476.5,361.1 1477.2,363.0 1477.9,362.2 1478.6,365.0 1479.3,373.3 1480,369.0 1480.7,371.3 1481.4,367.3 1482.1,366.0 1482.8,366.9 1483.5,360.5 1484.2,359.1 1484.9,358.1 1485.6,365.1 1486.3,374.0 1487,363.5 1487.7,367.1 1488.4,368.7 1489.1,360.5 1489.8,360.7 1490.5,362.1 1491.2,362.5 1491.9,367.6 1492.6,368.3 1493.3,367.2 1494,371.1 1494.7,362.6 1495.4,366.4 1496.1,352.7 1496.8,359.9 1497.5,352.0 1498.2,361.1 1498.9,361.1 1499.6,363.6 1500.3,373.4 1501,370.6 1501.7,370.3 1502.4,366.3 1503.1,358.0 1503.8,358.2 1504.5,362.8 1505.2,366.1 1505.9,359.7 1506.6,363.4 1507.3,368.7 1508,367.6 1508.7,371.1 1509.4,377.2 1510.1,381.7 1510.8,375.1 1511.5,384.4 1512.2,386.7 1512.9,391.1 1513.6,398.9 1514.3,393.8 1515,405.8 1515.7,402.0 1516.09,399.2 1516.4,402.2 1517.1,395.3 1517.8,390.0 1518.5,387.4 1519.2,386.4 1519.46,385.3 1519.9,379.5 1520.6,372.4 1521.3,371.6 1522,364.9 1522.7,375.6 1523.4,365.6 1524.1,370.6 1524.8,369.9 1525.5,373.7 1526.2,377.6 1526.9,375.2 1527.6,379.8 1528.3,383.0 1529,378.0 1529.7,377.2 1530.4,378.4 1531,370.0 1531.8,154.2 1532.5,-11.7 1533.2,178.0 1533.9,414.4 1534.6,265.1 1535.3,1.4 1535.5,-20.7 1536,81.1 1536.7,329.4 1537,370.0 1537.4,367.6 1538.1,373.4 1538.8,365.1 1539.5,359.4 1540.2,357.4 1540.9,364.9 1541.6,363.1 1542.3,356.9 1543,365.9 1543.7,361.8 1544.4,363.9 1545.1,367.1 1545.8,357.5 1546.5,358.9 1547.2,350.9 1547.58,356.1 1547.9,352.3 1548.6,344.7 1549.3,330.1 1550,319.2 1550.7,306.0 1550.95,307.2 1551.4,316.9 1552.1,328.9 1552.8,350.9 1553.2,353.5 1553.5,360.3 1554.2,363.2 1554.9,360.5 1555.6,364.3 1556.3,367.5 1557,378.1 1557.7,374.7 1558.4,369.9 1559.1,369.5 1559.8,370.5 1560.5,378.2 1561.2,384.1 1561.9,387.7 1562.6,384.6 1563.3,385.5 1564,382.8 1564.7,382.5 1565.4,379.5 1566.1,385.3 1566.8,383.9 1567.5,383.7 1568.2,374.3 1568.9,374.5 1569.6,372.5 1570.3,368.3 1571,365.7 1571.7,359.9 1572.4,349.1 1573.1,347.4 1573.8,346.4 1574.5,339.9 1575.2,338.9 1575.9,334.5 1576.6,329.4 1577.3,334.5 1578,335.4 1578.7,340.7 1579.4,341.1 1580.1,355.8 1580.8,359.9 1581.5,371.3 1582.2,379.3 1582.9,384.0 1583.57,387.9 1584.3,391.9 1585,386.7 1585.7,376.0 1586.4,382.3 1587.1,376.1 1587.8,378.4 1588.5,372.5 1589.2,368.2 1589.9,368.4 1590.6,371.8 1591.3,366.5 1592,368.9 1592.7,366.2 1593.4,359.6 1594.1,366.9 1594.8,371.3 1595.5,369.2 1596.2,373.8 1596.9,372.6 1597.6,371.5 1598.3,373.8 1599,367.3 1599.7,366.8 1600.4,357.1 1601.1,361.5 1601.8,361.1 1602.5,361.3 1603.2,361.1 1603.9,363.1 1604.6,363.6 1605.3,371.4 1606,373.9 1606.7,375.3 1607.4,381.4 1608.1,383.5 1608.8,382.2 1609.5,381.8 1610.2,378.7 1610.9,374.9 1611.6,383.9 1612.3,370.7 1613,366.5 1613.7,361.3 1614.4,369.5 1615.1,373.0 1615.8,372.4 1616.5,388.8 1617.2,384.5 1617.9,385.5 1618.6,381.1 1619.3,370.9 1620,374.6 1620.7,368.8 1621.4,368.9 1622.1,373.5 1622.8,372.9 1623.5,377.7 1624.2,368.9 1624.9,365.0 1625.6,363.9 1626.3,363.0 1627,361.9 1627.7,355.3 1628.4,356.5 1629.1,358.6 1629.8,359.6 1630.5,364.7 1631.2,370.1 1631.9,372.1 1632.6,373.2 1633.3,376.2 1634,377.9 1634.7,379.1 1635.4,367.6 1636.1,369.8 1636.8,365.5 1637.5,369.1 1638.2,367.2 1638.9,370.4 1639.6,375.6 1640.3,387.3 1640.93,395.2 1641.7,384.6 1642.4,368.6 1643.1,371.1 1643.8,359.5 1644.31,363.7 1644.5,366.9 1645.2,361.0 1645.9,360.2 1646.6,357.3 1647.3,370.9 1648,366.6 1648.7,364.1 1649.4,370.1 1650.1,364.7 1650.8,370.7 1651.5,365.0 1652.2,362.4 1652.9,368.1 1653.6,354.8 1654.3,351.4 1655,354.9 1655.7,355.0 1656.4,362.9 1657.1,368.5 1657.8,365.8 1658.5,368.8 1659.2,368.3 1659.9,377.4 1660.6,383.8 1661.3,379.5 1662,379.3 1662.7,382.5 1663.4,388.4 1664.1,387.6 1664.8,398.5 1665.5,390.9 1666.2,372.5 1666.9,374.5 1667.6,360.8 1668.3,367.2 1669,362.9 1669.7,365.3 1670.4,364.2 1671.1,359.3 1671.3,359.7 1671.8,355.1 1672.5,346.5 1673.2,335.3 1673.9,331.5 1674.6,331.8 1675.3,337.4 1676,339.2 1676.7,346.2 1677.4,351.9 1678.1,352.2 1678.8,356.9 1679.5,358.2 1680.2,361.3 1680.9,365.3 1681.6,363.9 1682.3,365.1 1683,360.4 1683.7,363.7 1684.4,362.7 1685.1,360.5 1685.8,359.9 1686.5,357.8 1687.2,355.1 1687.9,353.1 1688.6,349.4 1689.3,356.2 1690,357.6 1690.7,365.9 1691.4,369.8 1692.1,358.4 1692.8,362.3 1693.5,365.7 1694.2,362.0 1694.9,358.7 1695.6,353.9 1696.3,354.5 1697,348.6 1697.7,341.3 1698.4,337.0 1699.1,344.6 1699.8,341.2 1700.5,351.6 1701.2,354.4 1701.9,352.7 1702.6,354.4 1703.3,353.4 1704,359.2 1704.7,363.7 1705.04,364.6 1705.4,368.3 1706.1,380.0 1706.8,396.7 1707.5,406.4 1707.97,410.8 1708.2,414.7 1708.9,400.0 1709.6,383.2 1710.3,372.8 1710.67,366.8 1711,368.0 1711.7,367.6 1712.4,358.0 1713.1,369.0 1713.8,358.1 1714.5,367.3 1715.2,366.6 1715.9,364.0 1716.6,367.7 1717.3,369.9 1718,361.9 1718.7,364.6 1719.4,361.3 1720.1,358.7 1720.8,359.6 1721.5,355.9 1722.2,357.4 1722.9,354.2 1723.6,355.1 1724.3,348.5 1725,349.7 1725.7,356.8 1726.4,354.7 1727.1,361.8 1727.8,361.1 1728.5,359.2 1729.2,358.0 1729.9,354.7 1730.6,357.0 1731.3,357.7 1732,353.8 1732.7,364.1 1733.4,361.6 1734.1,359.8 1734.8,369.0 1735.5,362.3 1736.2,368.6 1736.9,370.0 1737.6,232.7 1738.3,-1.0 1738.5,-20.0 1739,185.6 1739.7,690.5 1740,761.3 1740.4,633.9 1741.1,119.1 1741.5,-20.0 1741.8,4.3 1742.5,180.0 1743.2,355.7 1743.5,380.0 1743.9,383.2 1744.6,377.8 1745.3,375.5 1746,366.3 1746.7,365.1 1747.4,368.8 1748.1,364.3 1748.8,357.2 1749.5,348.5 1750.2,344.0 1750.9,345.7 1751.6,343.8 1752.3,345.4 1753,346.6 1753.7,348.9 1754.4,355.6 1755.1,355.3 1755.8,340.4 1756.5,338.3 1757.2,335.4 1757.9,335.3 1758.6,331.9 1759.3,335.3 1760,344.0 1760.7,349.8 1761.4,357.4 1762.1,362.8 1762.8,370.4 1763.5,365.8 1764.2,361.8 1764.9,364.3 1765.6,364.9"/>
<path stroke="#00e0e0" d="M941.0,409.3L941.7,412.0 942.4,421.7 943.1,414.2 943.25,420.5 943.8,428.5 944.5,432.2 945.2,443.3 945.5,446.7 945.9,449.0 946.6,450.3 947.3,439.4 948,433.2 948.7,430.6 949.4,424.8 950.1,429.6 950.8,433.1 951.5,433.0 952.2,441.4 952.9,446.3 953.6,445.6 954.3,450.2 955,445.9 955.7,442.2 956.4,443.6 957.1,446.8 957.8,439.6 958.5,439.7 959.2,441.4 959.9,441.6 960.6,436.0 961.3,425.4 962,425.9 962.7,425.8 963.4,426.8 964.1,430.1 964.8,434.5 965.5,441.5 966.2,442.5 966.9,446.9 967.6,451.6 968.3,454.2 969,459.9 969.7,448.2 970.4,454.5 971.1,443.4 971.8,435.6 972.5,430.5 973.2,426.5 973.9,429.5 974.6,420.1 975.3,430.8 976,435.2 976.7,437.4 977.4,428.2 978.1,429.2 978.8,431.1 979.5,428.6 980.2,426.8 980.9,429.2 981.6,425.2 982.3,433.1 983,424.6 983.7,419.5 984.4,418.8 984.88,425.4 985.1,423.8 985.8,412.5 986.5,398.5 987.13,394.2 987.9,404.3 988.6,418.3 989.3,430.4 990,431.8 990.7,441.6 990.95,439.3 991.4,437.6 992.1,433.8 992.8,435.8 993.5,430.7 994.2,429.4 994.9,437.8 995.6,431.8 996.3,434.0 997,436.2 997.7,421.9 998.4,421.2 999.1,423.5 999.8,430.6 1000.5,439.3 1001.2,440.0 1001.9,442.7 1002.6,439.3 1003.3,441.4 1004,434.8 1004.7,432.9 1005.4,431.5 1006.1,430.7 1006.8,422.5 1007.5,420.3 1008.2,419.8 1008.9,428.2 1009.6,422.5 1010.3,424.9 1011,418.4 1011.7,427.1 1012.4,441.1 1013.1,435.7 1013.8,436.4 1014.5,442.8 1015.2,443.1 1015.9,440.6 1016.6,453.1 1017.3,445.7 1018,448.0 1018.7,450.5 1019.4,455.6 1020.1,466.5 1020.8,466.1 1021.5,458.1 1022.2,457.3 1022.9,449.5 1023.6,448.0 1024.3,441.0 1025,435.6 1025.7,435.9 1026.4,435.6 1027.1,438.1 1027.8,438.2 1028.5,442.7 1029.2,446.0 1029.9,457.1 1030.56,459.5 1031.3,294.4 1031.46,279.5 1032,329.2 1032.7,456.3 1033.26,507.7 1033.4,505.5 1034.1,436.8 1034.8,333.5 1035.5,279.5 1036.2,396.9 1036.5,430.0 1036.9,424.1 1037.6,427.7 1038.3,430.1 1039,420.5 1039.7,384.6 1040.4,311.6 1041.1,162.2 1041.8,-7.1 1042,-20.0 1042.5,283.6 1043.2,884.5 1043.9,905.1 1044.6,900.0 1045.3,665.0 1046,430.0 1046.7,428.8 1047.4,431.9 1048.1,440.4 1048.8,443.4 1049.5,441.2 1050.2,441.6 1050.9,440.1 1051.6,440.0 1052.3,436.5 1053,438.1 1053.7,440.5 1054.4,437.3 1055.1,419.8 1055.8,415.7 1056.5,412.5 1057.2,409.9 1057.9,419.2 1058.6,413.3 1059.3,416.1 1060,418.0 1060.7,424.3 1061.4,436.5 1062.1,432.6 1062.8,432.1 1063.5,433.5 1064.2,432.1 1064.9,427.3 1065.6,427.2 1066.3,426.2 1067,422.8 1067.7,429.7 1068.4,425.0 1069.1,429.0 1069.8,432.9 1070.5,433.1 1071.2,427.2 1071.9,431.3 1072.6,424.5 1073.3,425.0 1074,427.0 1074.7,426.0 1075.4,424.6 1076.1,426.3 1076.8,425.7 1077.14,426.2 1077.5,420.4 1078.2,422.1 1078.9,406.6 1079.6,406.2 1080.3,402.3 1080.51,396.9 1081,400.1 1081.7,407.9 1082.4,410.8 1083.1,417.8 1083.8,424.7 1084.5,436.2 1085.2,424.5 1085.9,426.9 1086.6,423.6 1087.3,421.2 1088,416.7 1088.7,414.4 1089.4,419.9 1090.1,421.0 1090.8,434.8 1091.32,427.9 1091.5,435.3 1092.2,397.3 1092.9,337.9 1093.6,289.5 1094.02,282.0 1094.3,283.3 1095,326.7 1095.7,393.9 1096.4,461.3 1097.1,504.8 1097.39,506.9 1097.8,489.0 1098.5,396.7 1099.2,302.5 1099.64,282.2 1099.9,283.5 1100.6,310.4 1101.3,356.2 1102,402.8 1102.7,432.5 1103.02,430.8 1103.4,439.3 1104.1,432.1 1104.8,427.2 1105.5,428.5 1106.2,419.2 1106.9,417.9 1107.6,415.0 1108.3,416.0 1109,412.2 1109.7,415.0 1110.4,418.0 1111.1,434.3 1111.8,445.5 1112.02,447.9 1112.5,446.5 1113.2,440.4 1113.9,433.8 1114.6,426.0 1115.3,430.2 1116,426.6 1116.7,423.8 1117.4,420.9 1118.1,425.7 1118.8,426.7 1119.5,433.5 1120.2,425.1 1120.9,425.3 1121.6,423.1 1122.3,425.3 1123,424.1 1123.7,429.2 1124.4,428.0 1125.1,428.2 1125.8,430.4 1126.5,425.4 1127.2,420.0 1127.9,404.6 1128.6,408.6 1129.3,406.4 1130,405.5 1130.7,404.5 1131.14,405.1 1131.4,415.4 1132.1,420.7 1132.8,430.7 1133.39,439.6 1134.2,434.5 1134.9,427.5 1135.6,429.9 1136.3,420.9 1137,427.7 1137.7,434.3 1138.4,441.2 1139.1,446.8 1139.8,448.0 1140.5,445.3 1141.2,444.3 1141.9,446.0 1142.6,453.9 1143.3,467.7 1144,478.6 1144.65,480.4 1145.4,473.7 1146.1,474.2 1146.8,475.5 1147.5,462.7 1148.2,465.6 1148.9,446.1 1149.6,431.2 1150.27,427.0 1151,435.7 1151.7,440.8 1152.4,442.0 1153.1,445.6 1153.8,444.4 1154.5,451.7 1155.2,450.0 1155.9,457.0 1156.6,453.9 1157.3,454.9 1158,463.4 1158.7,456.8 1159.4,456.3 1160.1,448.2 1160.8,439.7 1161.5,428.1 1162.2,424.9 1162.9,430.4 1163.6,427.8 1164.3,426.5 1165,427.6 1165.7,432.3 1166.4,436.4 1167.1,441.0 1167.8,449.7 1168.5,450.8 1168.72,451.9 1169.2,443.3 1169.9,439.7 1170.52,423.5 1171.3,375.9 1172,314.7 1172.7,286.1 1173.4,330.7 1174.1,450.4 1174.8,542.1 1175.02,549.8 1175.5,518.3 1176.2,405.2 1176.9,299.3 1177.27,280.5 1177.6,294.4 1178.3,392.9 1179,504.7 1179.52,542.7 1179.7,536.0 1180.4,452.6 1181.1,335.7 1181.77,281.5 1182.5,311.9 1183.2,372.1 1183.9,412.2 1184.02,409.2 1184.6,411.2 1185.3,415.9 1186,415.5 1186.7,419.2 1187.4,416.9 1188.1,427.7 1188.8,428.3 1189.5,428.9 1190.2,429.6 1190.9,429.2 1191.6,437.3 1192.3,440.9 1193,443.2 1193.7,443.8 1194.4,441.5 1195.1,440.0 1195.8,429.8 1196.5,429.6 1197.2,431.5 1197.9,417.6 1198.6,421.9 1199.3,430.2 1200,438.4 1200.7,435.4 1201.4,430.8 1202.1,439.6 1202.8,446.4 1203.5,442.7 1204.2,442.1 1204.9,454.8 1205.6,452.2 1206.3,455.0 1207,455.0 1207.7,445.5 1208.4,439.2 1209.1,438.0 1209.8,432.8 1210.5,435.2 1211.2,440.4 1211.9,438.9 1212.6,433.3 1213.3,441.2 1214,435.4 1214.7,439.0 1215.4,428.8 1216.1,420.7 1216.8,417.9 1217.5,423.8 1218.2,418.1 1218.9,416.9 1219.6,415.4 1220.3,416.3 1221,424.2 1221.7,424.3 1222.4,436.3 1223.1,427.4 1223.8,433.1 1224.5,426.2 1225.2,423.4 1225.9,420.3 1226.6,413.5 1227.3,412.0 1228,420.5 1228.7,421.3 1229.4,425.6 1230.1,430.9 1230.8,434.7 1231.5,434.2 1232.2,428.3 1232.9,429.9 1233.6,430.2 1234.3,433.0 1235,428.6 1235.7,428.6 1236.4,427.5 1237.1,419.0 1237.8,414.2 1238.5,430.0 1239.2,435.5 1239.9,445.3 1240.6,445.2 1241.3,441.1 1242,436.6 1242.7,429.2 1243.4,432.3 1244.1,432.7 1244.8,432.6 1245.5,439.8 1246.2,445.1 1246.58,454.4 1246.9,454.8 1247.6,469.2 1248.3,487.5 1248.83,495.2 1249,498.4 1249.7,486.1 1250.4,489.0 1251.1,489.5 1251.8,482.8 1252.5,481.3 1253.2,470.0 1253.9,469.0 1254.6,466.4 1255.3,464.2 1256,458.8 1256.7,452.7 1257.4,441.9 1258.1,448.2 1258.28,439.1 1258.8,446.9 1259.5,462.4 1260.2,478.1 1260.53,490.1 1260.9,485.5 1261.6,474.9 1262.3,461.7 1263,448.3 1263.23,447.6 1263.7,447.5 1264.4,445.9 1265.1,453.5 1265.8,454.7 1266.5,455.5 1267.2,451.6 1267.9,443.8 1268.6,444.1 1269.3,437.2 1270,434.8 1270.7,430.2 1271.4,427.9 1272.1,415.8 1272.8,416.6 1273.5,411.3 1274.2,401.5 1274.9,406.1 1275.16,400.1 1275.6,404.6 1276.3,416.0 1277,420.0 1277.7,421.8 1278.4,431.6 1278.53,433.3 1279.1,436.9 1279.8,432.1 1280.5,425.9 1281.2,424.5 1281.9,433.6 1282.6,434.6 1283.3,426.1 1284,437.2 1284.7,434.6 1285.4,447.9 1286.1,450.6 1286.8,452.5 1287.5,450.4 1288.2,455.9 1288.9,461.5 1289.6,460.7 1290.3,459.3 1291,463.1 1291.7,473.3 1292.4,480.3 1293.1,479.7 1293.8,476.1 1294.5,463.5 1295.2,452.5 1295.41,440.1 1295.9,442.2 1296.6,430.6 1297.3,434.3 1298,425.9 1298.7,430.9 1299.4,436.4 1300.1,436.4 1300.8,440.2 1301.5,450.8 1302.2,446.0 1302.9,445.4 1303.6,442.8 1304.3,446.6 1305,442.0 1305.7,445.0 1306.4,447.4 1307.1,440.8 1307.8,434.8 1308.5,432.4 1309.2,435.1 1309.9,435.4 1310.6,439.5 1311.3,439.4 1312,437.1 1312.7,435.7 1313.4,434.7 1314.1,427.0 1314.8,421.7 1315.5,417.5 1316.2,410.8 1316.9,408.3 1317.6,402.2 1317.91,402.1 1318.3,400.0 1319,413.5 1319.7,420.2 1320.4,432.2 1321.1,432.1 1321.29,436.9 1321.8,444.9 1322.5,439.5 1323.2,446.2 1323.9,443.6 1324.6,451.6 1325.3,448.9 1326,435.0 1326.7,421.6 1327.4,418.7 1327.59,409.7 1328.1,408.9 1328.8,394.6 1329.16,387.2 1329.5,390.4 1330.2,408.6 1330.9,421.5 1331.41,426.6 1331.6,428.5 1332.3,427.6 1333,434.5 1333.7,438.0 1334.4,437.9 1335.1,435.5 1335.8,431.2 1336.5,428.1 1337.2,433.2 1337.9,433.3 1338.6,428.7 1339.3,431.8 1340,442.8 1340.7,440.2 1341.4,443.4 1342.1,446.6 1342.8,446.9 1343.5,454.9 1344.2,453.0 1344.9,449.8 1345.6,455.4 1346.3,442.3 1347,432.6 1347.7,432.8 1348.4,428.7 1349.1,430.5 1349.8,433.1 1350.5,434.8 1351.2,431.0 1351.9,431.2 1352.6,434.0 1353,431.1 1353.15,425.3 1353.3,421.3 1354,426.3 1354.7,432.8 1355.4,440.3 1356.1,440.5 1356.8,446.2 1357.5,443.4 1358.2,438.4 1358.9,439.0 1359.6,439.2 1360.3,441.4 1361,426.8 1361.7,422.0 1362.4,427.3 1363.1,425.6 1363.8,433.3 1364.5,433.2 1365.2,433.5 1365.9,439.3 1366.6,429.4 1367.3,419.4 1367.62,423.5 1368,424.4 1368.7,445.9 1369.4,461.6 1369.87,465.0 1370.1,462.6 1370.8,453.8 1371.5,452.4 1372.2,446.5 1372.9,444.6 1373.25,431.6 1373.6,430.8 1374.3,422.5 1375,432.3 1375.7,431.7 1376.4,431.2 1377.1,425.1 1377.8,420.9 1378.5,424.3 1379.2,416.3 1379.9,416.1 1380.6,420.3 1381.3,423.1 1382,426.1 1382.7,431.5 1383.4,434.4 1384.1,432.8 1384.8,434.0 1385.5,430.9 1386.2,430.4 1386.9,431.9 1387.6,436.8 1388.3,441.7 1389,447.1 1389.7,449.4 1390.4,447.9 1391.1,443.3 1391.8,443.3 1392.5,435.3 1393.2,433.9 1393.9,432.3 1394.6,434.8 1395.3,432.3 1396,426.2 1396.7,425.3 1397.4,433.3 1398.1,435.6 1398.8,433.9 1399.5,445.0 1400.2,445.3 1400.9,441.9 1401.6,437.5 1402.3,430.6 1403,422.5 1403.7,427.2 1404.4,428.3 1405.1,429.0 1405.8,423.6 1406.5,431.6 1407.2,425.2 1407.9,437.4 1408.6,440.5 1409.3,451.5 1410,457.1 1410.7,463.3 1411.04,465.1 1411.4,462.8 1412.1,459.2 1412.8,448.7 1413.5,436.4 1413.74,430.1 1414.2,424.7 1414.9,416.8 1415.6,413.9 1415.99,411.0 1416.3,418.2 1417,416.2 1417.7,422.7 1418.4,419.2 1419.1,432.6 1419.8,432.5 1420.5,437.0 1421.2,439.9 1421.9,436.2 1422.6,443.3 1423.3,440.5 1424,438.5 1424.7,434.6 1425.4,432.7 1426.1,430.0 1426.8,423.8 1427.5,421.2 1428.2,424.0 1428.9,421.4 1429.6,419.5 1430.3,416.8 1431,414.3 1431.7,415.6 1432.4,423.0 1433.1,432.4 1433.8,441.8 1433.98,447.9 1434.5,444.1 1435.2,450.4 1435.9,456.3 1436.6,462.7 1437.3,454.1 1438,442.1 1438.7,434.5 1439.4,425.5 1439.6,431.0 1440.1,427.5 1440.8,432.1 1441.5,433.1 1442.2,437.6 1442.9,442.9 1443.6,433.9 1444.3,434.4 1445,428.6 1445.7,425.0 1446.4,427.5 1447.1,426.9 1447.8,431.4 1448.5,441.2 1449.2,438.7 1449.9,440.5 1450.6,442.8 1451.3,432.7 1452,432.0 1452.7,428.8 1453.4,432.2 1454.1,435.5 1454.8,432.3 1455.5,438.7 1456.2,434.3 1456.48,443.7 1456.9,440.4 1457.6,449.9 1458.3,444.5 1458.72,453.5 1459,448.7 1459.7,436.4 1460.4,427.1 1460.97,417.4 1461.1,424.7 1461.8,422.4 1462.5,429.7 1463.2,432.4 1463.9,443.8 1464.6,443.9 1465.3,446.1 1466,443.1 1466.7,449.5 1467.4,434.3 1468.1,432.3 1468.8,428.7 1469.5,429.0 1470.2,429.9 1470.9,417.9 1471.6,416.4 1472.3,412.4 1473,416.8 1473.7,427.0 1474.4,427.9 1475.1,425.8 1475.8,436.3 1476.5,433.3 1477.2,442.5 1477.9,451.4 1478.6,449.6 1479.3,449.2 1480,448.5 1480.7,451.9 1481.4,436.3 1482.1,440.6 1482.8,446.2 1483.5,433.6 1484.2,435.1 1484.9,433.1 1485.6,424.9 1486.3,422.4 1487,424.3 1487.7,413.5 1487.97,419.6 1488.4,422.2 1489.1,440.2 1489.8,460.5 1490.5,472.8 1490.67,471.7 1491.2,466.4 1491.9,457.5 1492.6,444.2 1493.3,433.0 1493.59,440.5 1494,442.8 1494.7,435.7 1495.4,440.5 1496.1,436.3 1496.8,437.5 1496.97,436.4 1497.5,437.3 1498.2,447.7 1498.9,452.7 1499.6,470.5 1500.3,480.0 1501,459.7 1501.7,441.3 1502.4,433.3 1502.59,435.9 1503.1,432.9 1503.8,444.3 1504.5,433.8 1505.2,447.0 1505.9,442.4 1506.6,443.1 1507.3,442.2 1508,444.1 1508.7,443.9 1509.4,447.5 1510.1,441.4 1510.8,433.9 1511.5,427.7 1512.2,417.2 1512.71,422.4 1512.9,417.1 1513.6,425.0 1514.3,433.9 1515,447.2 1515.41,451.9 1515.7,440.9 1516.4,443.2 1517.1,439.0 1517.8,431.9 1518.5,427.9 1519.2,431.8 1519.9,449.2 1520.6,450.5 1521.26,451.7 1522,445.7 1522.7,425.0 1523.4,413.6 1523.96,404.4 1524.1,406.2 1524.8,414.6 1525.5,425.6 1526.2,431.6 1526.9,443.2 1527.6,443.3 1528.3,438.7 1528.5,442.4 1529,432.8 1529.7,412.0 1530.4,401.0 1531.1,424.6 1531.8,464.1 1532,463.9 1532.5,463.1 1533.2,437.2 1533.9,423.0 1534.6,426.8 1535.3,430.6 1536,440.2 1536.7,452.1 1537.4,464.5 1538.1,453.9 1538.8,445.6 1539.5,438.8 1539.71,435.3 1540.2,431.8 1540.9,420.6 1541.6,430.2 1542.3,430.1 1543,431.7 1543.7,426.4 1544.4,430.6 1545.1,429.7 1545.8,427.1 1546.5,426.7 1547.2,431.3 1547.9,434.7 1548.6,431.1 1549.3,432.7 1550,431.4 1550.7,436.7 1551.4,438.4 1552.1,425.9 1552.8,420.2 1553.5,427.3 1554.2,425.5 1554.9,430.5 1555.6,433.2 1556.3,428.9 1557,428.1 1557.7,441.4 1558.4,436.8 1559.1,441.9 1559.8,442.1 1560.5,438.7 1561.2,433.2 1561.9,437.3 1562.6,442.9 1563.3,428.8 1564,424.4 1564.7,423.2 1565.4,416.1 1566.1,406.7 1566.25,402.8 1566.8,406.8 1567.5,422.7 1568.2,433.6 1568.9,443.6 1569.6,438.2 1570.3,436.7 1571,438.0 1571.7,431.4 1572.4,426.6 1573.1,430.4 1573.8,428.6 1574.5,436.0 1575.2,441.0 1575.9,442.7 1576.6,439.1 1577.3,439.8 1578,430.7 1578.7,427.7 1579.4,433.7 1580.1,421.8 1580.8,420.6 1581.5,423.4 1582.2,421.8 1582.9,424.4 1583.6,421.8 1584.3,422.4 1585,429.0 1585.7,426.9 1586.4,426.0 1587.1,438.7 1587.8,447.6 1588.5,449.8 1589.2,451.7 1589.9,441.0 1590.6,445.1 1591.3,443.7 1592,429.0 1592.57,436.5 1592.7,429.2 1593.4,416.8 1594.1,416.7 1594.8,400.9 1595.49,394.0 1596.2,399.5 1596.9,418.9 1597.6,422.6 1598.19,427.7 1599,433.7 1599.7,439.5 1600.4,435.8 1601.1,448.0 1601.8,437.3 1602.5,444.6 1603.2,455.3 1603.9,452.5 1604.49,452.9 1605.3,448.7 1606,444.4 1606.7,428.7 1607.19,431.2 1607.4,435.7 1608.1,426.9 1608.8,433.7 1609.5,435.1 1610.2,441.1 1610.9,442.3 1611.6,446.5 1612.3,436.4 1613,450.4 1613.7,451.5 1614.4,446.0 1615.1,445.0 1615.8,444.4 1616.5,439.7 1617.2,431.5 1617.9,441.6 1618.6,448.3 1619.3,457.9 1620,462.3 1620.69,464.0 1621.4,457.4 1622.1,444.9 1622.8,437.6 1623.5,426.9 1624.06,422.0 1624.2,415.5 1624.9,424.6 1625.6,441.0 1626.3,444.7 1627,454.1 1627.43,453.4 1627.7,451.3 1628.4,454.6 1629.1,440.6 1629.8,440.7 1630.5,429.3 1631.2,429.5 1631.9,418.2 1632.6,413.1 1633.3,403.0 1634,408.6 1634.7,410.7 1635.4,407.7 1636.1,416.8 1636.8,427.8 1637.5,432.1 1638.2,431.7 1638.9,432.6 1639.6,439.0 1640.3,432.3 1641,434.6 1641.7,436.5 1642.4,426.9 1643.1,411.7 1643.8,418.6 1644.5,412.8 1645.2,414.1 1645.9,431.2 1646.6,433.4 1647.3,443.2 1648,436.9 1648.7,431.9 1649.4,436.1 1650.1,424.6 1650.8,426.3 1651.5,424.1 1652.2,414.2 1652.9,409.6 1653.6,402.6 1654.3,397.8 1655,401.3 1655.7,406.5 1656.4,418.7 1657.1,420.4 1657.8,424.2 1658.5,427.5 1659.2,438.3 1659.9,433.1 1660.6,439.9 1661.18,434.8 1661.3,432.8 1662,428.2 1662.7,416.9 1663.4,406.5 1664.1,411.6 1664.8,412.6 1665.5,423.0 1666.2,423.1 1666.9,429.3 1667.6,421.2 1668.3,427.3 1669,427.0 1669.7,428.2 1670.4,425.5 1671.1,425.2 1671.8,435.7 1672.42,437.4 1673.2,429.7 1673.9,419.7 1674.6,418.1 1675.12,414.0 1675.3,409.4 1676,406.6 1676.7,405.9 1677.4,393.7 1678.05,391.7 1678.8,401.5 1679.5,405.7 1680.2,418.2 1680.9,426.7 1681.42,430.3 1681.6,433.6 1682.3,429.7 1683,432.9 1683.7,428.2 1684.4,428.8 1684.8,425.6 1685.1,434.0 1685.8,435.8 1686.5,445.0 1687.2,457.7 1687.9,463.5 1688.17,458.0 1688.6,460.1 1689.3,458.5 1690,451.4 1690.7,437.8 1691.4,436.1 1691.54,427.7 1692.1,430.4 1692.8,430.5 1693.5,421.0 1694.2,416.9 1694.9,412.0 1695.6,420.7 1696.3,418.6 1697,420.1 1697.7,433.6 1698.4,423.7 1699.1,432.8 1699.8,438.3 1700.5,434.9 1701.2,435.8 1701.9,446.9 1702.6,433.4 1703.3,432.3 1704,417.7 1704.7,415.1 1705.4,420.5 1706.1,426.0 1706.8,424.9 1707.5,430.1 1708.2,436.8 1708.9,441.9 1709.6,436.1 1710.3,448.0 1711,441.4 1711.7,450.2 1712.4,452.9 1713.1,458.7 1713.8,457.8 1714.5,455.1 1715.2,463.8 1715.9,466.4 1716.6,468.8 1717.3,474.1 1718,469.5 1718.7,463.8 1719.4,462.4 1720.1,454.2 1720.8,448.0 1721.5,442.1 1722.2,447.3 1722.9,445.1 1723.6,436.3 1724.3,436.4 1725,438.7 1725.7,452.8 1726.4,451.2 1727.1,447.3 1727.8,442.6 1728.5,442.1 1729.2,431.3 1729.9,426.2 1730.6,427.3 1731.3,418.7 1732,416.8 1732.7,412.1 1733.16,415.3 1733.4,418.3 1734.1,429.9 1734.8,435.0 1735,440.2 1735.5,435.9 1736.2,423.2 1736.9,403.1 1737.6,358.0 1738.3,305.0 1738.5,302.6 1739,344.1 1739.7,452.3 1740,472.6 1740.4,467.1 1741.1,442.2 1741.8,428.1 1742,422.0 1742.5,424.6 1743.2,437.6 1743.9,439.5 1744.6,432.2 1745.3,436.3 1746,443.7 1746.7,440.2 1747.4,449.0 1748.1,450.2 1748.8,450.6 1749.5,448.3 1750.2,444.5 1750.9,436.2 1751.6,426.2 1752.28,420.0 1753,424.1 1753.7,426.5 1754.4,435.7 1755.1,433.8 1755.65,436.1 1755.8,439.5 1756.5,432.2 1757.2,414.3 1757.9,411.8 1758.6,406.3 1759.3,410.1 1760,407.0 1760.7,402.7 1761.4,404.8 1762.1,405.6 1762.8,412.3 1763.5,424.7 1764.2,416.7 1764.9,421.7 1765.6,432.4"/>
<path stroke="#0090cc" d="M941.0,477.5L941.7,496.0 942.4,511.6 943.1,511.5 943.25,517.4 943.8,518.8 944.5,512.5 945.2,513.3 945.9,516.8 946.6,504.1 947.3,497.3 948,490.0 948.7,495.5 948.88,489.8 949.4,493.6 950.1,511.8 950.8,518.0 951.13,515.8 951.5,520.6 952.2,515.8 952.9,508.8 953.6,502.6 954.3,500.5 955,496.3 955.7,500.8 956.4,509.7 957.1,510.4 957.8,517.8 958.5,521.3 959.2,510.8 959.9,516.4 960.6,518.2 961.3,507.8 962,508.8 962.7,500.0 963.4,506.5 964.1,499.3 964.8,498.6 965.5,499.8 966.2,489.2 966.9,498.8 967.6,488.2 968.3,489.3 969,482.4 969.13,480.8 969.7,491.4 970.4,500.7 971.1,508.4 971.8,516.9 972.5,525.5 973.2,517.4 973.9,513.5 974.6,507.6 975.3,502.0 976,496.9 976.7,499.9 977.4,498.4 978.1,499.0 978.8,497.4 979.5,502.0 980.2,506.4 980.9,505.3 981.6,505.3 982.3,505.2 983,507.2 983.7,510.6 984.4,510.4 985.1,506.0 985.8,499.0 986.5,495.6 987.2,490.4 987.9,485.9 988.6,493.8 989.3,494.3 990,488.0 990.7,486.3 991.4,487.8 992.1,483.6 992.8,471.1 993.5,482.9 994.2,476.0 994.9,484.0 995.6,485.8 996.3,485.1 997,494.6 997.7,500.6 998.4,510.0 999.1,494.6 999.8,501.3 1000.5,491.6 1001.2,483.9 1001.9,481.9 1002.6,488.5 1003.3,488.7 1004,489.7 1004.7,491.8 1005.13,495.9 1005.4,496.7 1006.1,504.3 1006.8,506.7 1007.5,516.7 1008.06,517.8 1008.2,516.1 1008.9,515.4 1009.6,514.7 1010.3,499.5 1011,493.7 1011.7,496.6 1012.4,487.6 1013.1,483.5 1013.8,484.4 1014.5,489.6 1015.2,484.5 1015.9,493.4 1016.38,489.1 1016.6,497.3 1017.3,504.8 1018,518.9 1018.63,529.6 1019.4,537.8 1020.1,545.1 1020.8,553.3 1021.5,551.1 1022.2,549.8 1022.9,540.0 1023.6,532.6 1024.3,527.8 1025,519.6 1025.7,526.1 1026.4,521.4 1027.1,523.0 1027.8,531.2 1028.5,535.4 1029.2,533.7 1029.88,536.0 1030.6,356.5 1031.01,279.5 1031.3,290.8 1032,381.2 1032.7,488.7 1033.26,525.1 1033.4,523.9 1034.1,449.2 1034.8,337.8 1035.5,279.5 1036.2,451.6 1036.5,500.0 1036.9,504.0 1037.6,494.1 1038.3,488.1 1039,480.0 1039.7,433.3 1040.4,360.5 1041,327.9 1041.8,425.8 1042.5,579.7 1043.2,766.8 1043.9,900.0 1044.6,691.7 1045.2,520.0 1046,506.1 1046.7,502.7 1047.4,489.5 1048.1,489.5 1048.5,486.4 1048.8,485.9 1049.5,488.3 1050.2,483.6 1050.9,492.9 1051.5,495.0 1052.3,508.4 1053,519.2 1053.51,522.8 1053.7,524.1 1054.4,509.1 1055.1,491.5 1055.76,483.3 1056.5,488.1 1057.2,486.0 1057.9,490.0 1058.6,488.6 1059.3,488.0 1060,492.1 1060.7,491.4 1061.4,500.0 1062.1,488.0 1062.8,497.9 1063.5,486.2 1064.2,482.3 1064.9,485.7 1065.6,487.2 1066.3,485.3 1067,486.7 1067.7,481.2 1068.4,480.2 1069.1,478.0 1069.8,480.0 1070.5,484.8 1071.2,479.1 1071.9,471.7 1072.6,476.9 1073.3,474.5 1074,461.1 1074.7,466.8 1075.4,458.3 1076.1,465.9 1076.8,465.9 1077.5,466.7 1078.2,468.4 1078.9,461.2 1079.6,445.9 1080.3,439.8 1080.51,444.9 1081,448.2 1081.7,459.1 1082.4,461.6 1082.76,468.6 1083.1,473.9 1083.8,482.1 1084.5,482.6 1085.2,492.0 1085.9,482.7 1086.6,477.9 1087.3,485.5 1088,477.7 1088.7,480.6 1089.4,483.8 1090.1,490.6 1090.8,502.1 1091.5,503.1 1092.2,508.6 1092.89,504.5 1093.6,451.5 1094.3,350.2 1095,282.3 1095.14,279.1 1095.7,319.2 1096.4,430.6 1097.1,524.3 1097.39,542.6 1097.8,513.6 1098.5,410.4 1099.2,305.2 1099.64,278.3 1099.9,281.2 1100.6,317.8 1101.3,375.1 1102,434.3 1102.7,475.0 1103.02,484.2 1103.4,487.3 1104.1,496.6 1104.8,498.6 1105.5,495.6 1106.2,497.2 1106.9,497.1 1107.6,488.7 1108.3,495.3 1109,494.5 1109.7,497.6 1110.4,492.4 1111.1,482.2 1111.8,480.9 1112.5,478.6 1113.2,490.2 1113.9,496.0 1114.6,491.5 1115.3,492.1 1116,496.8 1116.7,497.3 1117.4,486.4 1118.1,491.1 1118.8,486.9 1119.5,489.2 1120.2,492.8 1120.9,491.2 1121.6,491.6 1122.3,496.7 1123,494.0 1123.7,490.7 1124.4,490.4 1125.1,488.4 1125.8,494.2 1126.5,495.8 1127.2,493.3 1127.9,500.7 1128.6,503.5 1129.3,501.5 1130,496.9 1130.7,489.4 1131.4,490.1 1132.1,490.5 1132.8,495.9 1133.5,493.0 1134.2,495.8 1134.9,498.2 1135.6,504.5 1136.3,500.8 1137,503.2 1137.7,502.6 1138.4,506.0 1139.1,495.4 1139.8,509.6 1140.5,511.7 1141.2,517.2 1141.9,516.3 1142.6,503.8 1143.3,502.4 1143.52,497.3 1144,488.9 1144.7,489.9 1145.4,478.2 1146.1,475.4 1146.8,471.5 1147.5,471.6 1148.2,470.9 1148.9,470.7 1149.6,474.4 1150.27,482.4 1151,488.5 1151.7,511.9 1152.4,518.4 1152.52,516.9 1153.1,511.7 1153.8,516.7 1154.5,509.5 1155.2,504.6 1155.9,504.8 1156.6,501.7 1157.3,502.0 1158,509.5 1158.7,505.9 1159.4,503.2 1160.1,504.3 1160.8,513.3 1161.5,512.9 1162.2,517.8 1162.9,517.2 1163.6,513.1 1164.3,506.5 1165,514.2 1165.7,510.3 1166.4,505.9 1167.1,507.6 1167.8,501.8 1168.5,503.7 1169.2,509.0 1169.9,510.8 1170.6,503.6 1171.3,509.6 1171.65,501.1 1172,488.7 1172.7,401.8 1173.4,307.4 1173.9,281.0 1174.1,285.4 1174.8,371.6 1175.5,488.0 1176.15,539.7 1176.9,472.6 1177.6,354.8 1178.3,281.7 1179,321.5 1179.7,426.5 1180.4,509.9 1180.65,520.0 1181.1,513.7 1181.8,495.5 1182.5,473.3 1182.9,468.6 1183.2,476.4 1183.9,474.1 1184.6,488.1 1185.3,492.7 1186,500.7 1186.7,497.3 1187.4,503.8 1188.1,508.4 1188.8,507.5 1189.5,502.9 1190.2,498.1 1190.9,491.8 1191.6,483.9 1192.3,481.4 1193,485.1 1193.7,502.0 1194.4,501.7 1195.1,496.2 1195.8,489.9 1196.5,495.0 1197.2,492.0 1197.9,484.4 1198.6,489.6 1199.3,494.2 1200,503.0 1200.7,507.1 1201.4,504.0 1202.1,499.0 1202.8,492.3 1203.5,490.4 1204.2,488.6 1204.9,485.5 1205.6,493.3 1206.3,491.3 1207,493.9 1207.7,496.9 1208.4,490.6 1209.1,497.6 1209.8,499.5 1210.5,504.1 1211.2,497.5 1211.9,492.6 1212.6,499.8 1213.3,499.1 1214,497.3 1214.7,498.1 1215.4,500.3 1216.1,500.6 1216.8,504.1 1217.5,496.5 1218.2,491.5 1218.9,492.5 1219.6,491.5 1220.3,489.3 1221,480.8 1221.7,488.3 1222.4,487.7 1223.1,486.1 1223.8,490.9 1224.5,495.2 1225.2,496.4 1225.9,492.5 1226.6,501.4 1227.3,500.1 1228,503.1 1228.7,512.2 1229.4,508.6 1230.1,507.6 1230.8,505.6 1231.5,508.9 1232.2,505.0 1232.9,510.5 1233.6,514.9 1234.3,521.0 1234.65,518.8 1235,516.1 1235.7,504.5 1236.4,490.4 1237.1,475.8 1237.58,475.2 1237.8,476.6 1238.5,483.9 1239.2,486.0 1239.9,495.5 1240.28,504.4 1240.6,503.1 1241.3,504.2 1242,499.9 1242.7,502.6 1243.4,505.3 1243.66,500.0 1244.1,506.9 1244.8,497.7 1245.5,491.8 1246.2,485.0 1246.9,475.2 1247.03,477.5 1247.6,470.0 1248.3,483.2 1249,495.6 1249.7,504.4 1250.4,518.7 1251.1,522.4 1251.8,531.5 1252.5,547.3 1252.66,543.6 1253.2,540.4 1253.9,522.9 1254.6,509.2 1255.3,493.3 1255.58,492.0 1256,488.1 1256.7,497.1 1257.4,507.1 1258.1,513.2 1258.28,520.6 1258.8,514.7 1259.5,531.3 1260.2,534.7 1260.53,538.1 1260.9,533.9 1261.6,523.6 1262.3,505.8 1263,494.1 1263.23,497.5 1263.7,493.9 1264.4,499.1 1265.1,491.1 1265.8,493.8 1266.5,493.4 1267.2,492.2 1267.9,489.3 1268.6,483.7 1269.3,489.9 1269.53,492.4 1270,483.4 1270.7,478.6 1271.4,468.2 1272.1,469.5 1272.8,458.5 1273.5,466.4 1274.2,467.8 1274.9,469.6 1275.6,477.5 1276.28,482.0 1277,493.5 1277.7,506.2 1278.4,513.6 1279.1,524.3 1279.66,531.7 1279.8,522.9 1280.5,535.1 1281.2,525.9 1281.9,518.3 1282.6,509.1 1283.3,493.2 1284,480.1 1284.7,478.1 1284.83,475.9 1285.4,479.1 1286.1,485.4 1286.8,499.7 1287.5,499.5 1288.2,501.1 1288.9,507.0 1289.6,504.6 1290.3,506.6 1291,508.1 1291.7,506.2 1292.4,506.4 1293.1,502.8 1293.8,514.6 1294.5,505.5 1295.2,504.2 1295.9,504.0 1296.6,495.3 1297.3,493.7 1298,499.1 1298.7,496.2 1299.4,505.8 1300.1,513.6 1300.8,513.5 1301.04,513.0 1301.5,512.0 1302.2,502.0 1302.9,489.0 1303.6,485.6 1304.3,484.5 1305,489.5 1305.7,497.7 1306.4,507.9 1307.1,511.1 1307.79,520.0 1308.5,525.5 1309.2,510.8 1309.9,509.3 1310.6,504.4 1311.3,497.0 1312,495.5 1312.7,494.1 1313.4,493.0 1314.1,490.6 1314.8,501.4 1315.5,489.9 1316.2,491.0 1316.9,490.2 1317.6,478.8 1318.3,487.8 1319,488.0 1319.7,494.0 1320.4,498.8 1321.1,502.3 1321.8,496.4 1322.5,498.0 1323.2,492.0 1323.9,493.2 1324.6,485.7 1325.3,486.8 1326,496.2 1326.7,497.8 1327.4,491.0 1328.1,493.1 1328.8,488.3 1329.5,488.8 1330.2,490.2 1330.9,473.6 1331.6,480.5 1332.3,486.8 1333,482.2 1333.7,484.8 1334.4,489.7 1335.1,495.8 1335.8,493.6 1336.5,495.4 1337.2,495.9 1337.9,496.8 1338.6,496.7 1339.3,502.7 1340,495.6 1340.7,494.9 1341.4,496.1 1342.1,501.6 1342.8,493.4 1343.5,494.0 1344.2,493.3 1344.9,500.9 1345.6,499.3 1346.3,495.4 1347,486.7 1347.7,489.2 1348.4,487.0 1349.1,490.6 1349.8,494.2 1350.5,496.1 1351.2,494.8 1351.9,492.9 1352.6,494.6 1353,501.3 1353.15,496.8 1353.3,501.4 1354,498.0 1354.7,505.7 1355.4,501.0 1356.1,504.4 1356.8,508.3 1357.5,503.7 1358.2,505.2 1358.9,491.9 1359.6,504.3 1360.3,496.6 1361,499.4 1361.7,489.5 1362.4,496.6 1363.1,496.6 1363.8,495.2 1364.5,496.6 1365.2,490.3 1365.9,499.7 1366.6,497.0 1367.3,495.1 1368,497.6 1368.7,501.5 1369.4,503.1 1370.1,501.7 1370.8,506.6 1371.5,519.4 1372.2,516.3 1372.9,522.4 1373.6,514.2 1374.3,505.7 1375,505.7 1375.7,502.2 1376.4,491.9 1377.1,482.3 1377.8,486.4 1378.5,480.7 1379.2,489.4 1379.9,484.7 1380.6,492.9 1381.3,486.4 1382,494.0 1382.7,492.2 1383.4,495.6 1384.1,495.6 1384.8,496.1 1385.5,498.3 1386.2,483.2 1386.9,490.0 1387.19,489.5 1387.6,489.7 1388.3,497.8 1389,509.2 1389.7,519.3 1390.12,512.2 1390.4,520.1 1391.1,511.6 1391.8,512.9 1392.5,512.0 1393.2,509.9 1393.9,495.8 1394.6,498.0 1395.3,491.8 1396,488.1 1396.7,480.4 1397.4,476.5 1398.1,478.9 1398.8,481.4 1399.5,475.0 1400.2,483.5 1400.9,483.4 1401.6,492.8 1402.3,492.5 1403,492.3 1403.7,488.9 1404.4,494.8 1405.1,495.7 1405.8,495.9 1406.5,491.1 1407.2,486.0 1407.9,481.3 1408.6,482.9 1409.3,478.8 1410,477.7 1410.7,482.9 1411.4,482.2 1412.1,487.1 1412.8,485.4 1413.5,497.0 1414.2,496.7 1414.9,495.2 1415.6,487.2 1416.3,489.6 1417,488.7 1417.7,491.9 1418.4,504.4 1419.1,512.3 1419.8,515.4 1420.48,524.5 1421.2,521.2 1421.9,521.0 1422.6,509.0 1423.3,503.4 1424,494.6 1424.7,494.1 1425.4,501.8 1426.1,484.8 1426.8,484.0 1427.5,477.3 1428.2,489.8 1428.9,488.1 1429.6,501.5 1430.3,502.7 1431,510.6 1431.7,510.9 1432.4,502.2 1433.1,505.3 1433.8,518.9 1434.5,508.7 1435.2,507.0 1435.9,497.3 1436.6,506.5 1437.3,506.1 1438,501.9 1438.7,501.1 1439.4,509.2 1440.1,506.0 1440.8,505.5 1441.5,502.9 1442.2,500.1 1442.9,500.2 1443.6,500.3 1444.3,495.6 1445,496.9 1445.7,499.4 1446.4,498.8 1447.1,504.6 1447.8,504.6 1448.5,499.5 1449.2,502.5 1449.9,496.7 1450.6,493.1 1451.3,493.9 1452,492.7 1452.7,496.9 1453.4,504.8 1454.1,503.8 1454.8,511.2 1455.5,505.3 1456.2,497.2 1456.9,502.3 1457.6,493.2 1458.3,496.5 1459,496.1 1459.7,498.0 1460.4,499.2 1461.1,493.6 1461.8,494.5 1462.5,491.9 1463.2,475.0 1463.9,470.4 1464.6,474.3 1465.3,478.4 1466,483.3 1466.7,491.0 1467.4,487.3 1468.1,490.7 1468.8,490.6 1469.5,487.6 1470.2,492.4 1470.9,491.4 1471.6,489.6 1472.3,493.9 1473,492.1 1473.7,490.9 1474.4,498.2 1475.1,498.9 1475.8,494.9 1476.5,498.1 1477.2,503.4 1477.9,503.8 1478.6,497.1 1479.3,499.6 1480,503.5 1480.7,507.9 1481.4,517.9 1482.1,516.9 1482.8,514.6 1483.5,509.8 1484.2,518.8 1484.9,521.2 1485.6,514.5 1486.3,527.4 1487,518.6 1487.7,529.3 1487.97,528.5 1488.4,523.1 1489.1,511.5 1489.8,500.6 1490.5,496.7 1490.67,491.1 1491.2,493.1 1491.9,494.1 1492.6,498.2 1493.3,495.5 1494,495.5 1494.7,490.8 1495.4,498.0 1496.1,493.0 1496.8,493.3 1497.5,494.5 1498.2,495.0 1498.9,492.8 1499.6,495.9 1500.3,493.1 1501,498.0 1501.7,504.7 1502.4,510.4 1503.1,512.4 1503.8,507.8 1504.5,509.7 1505.2,500.1 1505.9,497.1 1506.6,500.2 1507.3,518.0 1508,529.6 1508.66,540.5 1509.4,538.2 1510.1,523.1 1510.8,509.1 1511.5,509.9 1512.2,497.6 1512.9,499.4 1513.6,495.9 1514.3,489.9 1515,495.2 1515.7,498.8 1516.4,494.1 1517.1,502.2 1517.8,505.1 1518.34,498.9 1518.5,501.6 1519.2,494.5 1519.9,477.9 1520.6,470.1 1521.26,458.9 1522,471.2 1522.7,480.1 1523.4,485.0 1523.96,483.6 1524.1,487.5 1524.8,490.7 1525.5,496.8 1526.2,502.2 1526.9,506.6 1527.6,504.0 1528.3,497.1 1528.5,499.5 1529,487.0 1529.7,458.7 1530.4,430.1 1531,412.3 1531.8,462.2 1532.5,521.3 1533,536.4 1533.2,538.9 1533.9,510.2 1534.6,477.3 1535,463.0 1535.3,470.5 1536,485.9 1536.7,498.8 1537,498.8 1537.4,506.4 1538.1,506.4 1538.8,513.3 1539.5,505.8 1540.2,494.4 1540.9,494.6 1541.6,492.9 1542.3,500.8 1543,503.8 1543.7,502.6 1544.4,506.7 1545.1,502.1 1545.8,492.0 1546.5,498.4 1547.2,490.4 1547.9,483.9 1548.6,487.3 1549.3,474.7 1549.83,478.4 1550,478.7 1550.7,485.3 1551.4,497.3 1552.1,512.7 1552.8,518.7 1553.2,521.8 1553.5,518.6 1554.2,512.8 1554.9,509.9 1555.6,498.7 1556.3,500.7 1556.58,493.9 1557,487.4 1557.7,476.7 1558.4,482.5 1559.1,473.9 1559.8,472.5 1560.5,464.4 1561.2,474.4 1561.9,480.9 1562.6,484.4 1563.3,482.5 1564,487.0 1564.7,489.9 1565.4,491.4 1566.1,491.4 1566.8,489.9 1567.5,498.3 1568.2,506.9 1568.9,514.1 1569.6,515.3 1570.3,518.4 1571,510.8 1571.7,509.2 1572.4,506.8 1573.1,501.4 1573.8,500.4 1574.5,499.6 1575.2,500.0 1575.9,502.9 1576.6,506.9 1577.3,506.9 1578,498.2 1578.7,493.7 1579.4,491.1 1580.1,490.5 1580.8,490.0 1581.5,495.4 1582.2,508.1 1582.9,507.6 1583.6,500.9 1584.3,494.9 1585,488.8 1585.7,485.7 1586.4,484.5 1587.1,487.5 1587.8,492.9 1588.5,497.2 1589.2,490.4 1589.9,493.7 1590.6,493.8 1591.3,490.6 1592,486.2 1592.7,485.8 1593.4,473.2 1594.1,480.1 1594.8,478.0 1595.5,477.4 1596.2,482.9 1596.9,487.5 1597.6,485.8 1598.3,478.5 1599,475.8 1599.7,460.3 1600.4,463.8 1601.1,462.9 1601.8,478.1 1602.5,493.2 1603.2,497.1 1603.82,501.2 1604.6,512.7 1605.3,510.3 1606,513.6 1606.7,503.7 1607.4,505.8 1608.1,513.3 1608.8,514.3 1609.5,526.2 1610.2,531.8 1610.56,528.6 1610.9,531.8 1611.6,527.6 1612.3,521.5 1613,509.6 1613.7,496.7 1613.94,495.8 1614.4,493.1 1615.1,485.7 1615.8,479.0 1616.5,480.6 1617.2,476.4 1617.9,479.0 1618.6,483.5 1619.3,500.3 1620,494.9 1620.7,503.5 1621.4,497.1 1622.1,501.3 1622.8,512.8 1623.5,505.2 1624.2,503.7 1624.9,510.0 1625.6,512.9 1626.3,510.4 1627,508.3 1627.7,516.6 1628.4,522.5 1629.1,524.0 1629.8,524.3 1630.5,521.3 1630.81,529.6 1631.2,522.8 1631.9,510.8 1632.6,500.8 1633.3,490.5 1634,487.5 1634.18,483.6 1634.7,486.0 1635.4,492.3 1636.1,501.8 1636.8,513.3 1637.5,510.5 1638.2,514.2 1638.9,510.1 1639.6,506.3 1640.3,505.5 1641,502.7 1641.7,501.0 1642.4,494.6 1643.1,491.7 1643.8,488.5 1644.5,488.9 1645.2,478.5 1645.9,480.1 1646.6,479.1 1647.3,475.0 1648,477.6 1648.7,472.6 1649.4,463.7 1650.1,464.1 1650.8,450.8 1651.5,452.4 1652.2,453.5 1652.9,443.9 1653.3,439.9 1653.6,443.7 1654.3,456.5 1655,471.8 1655.7,479.6 1656.4,490.4 1656.68,492.6 1657.1,491.7 1657.8,490.9 1658.5,487.1 1659.2,484.7 1659.9,490.7 1660.6,487.1 1661.3,483.5 1662,490.2 1662.7,501.9 1663.4,491.7 1664.1,500.2 1664.8,499.8 1665.5,495.0 1666.2,496.6 1666.9,499.5 1667.6,503.3 1668.3,505.6 1669,510.3 1669.7,496.3 1670.4,507.6 1671.1,513.4 1671.8,521.8 1672.5,522.0 1673.2,531.8 1673.55,534.2 1673.9,528.1 1674.6,529.1 1675.3,518.4 1676,509.3 1676.7,512.5 1676.92,501.9 1677.4,503.4 1678.1,494.7 1678.8,497.2 1679.5,487.0 1680.2,476.2 1680.9,484.2 1681.6,480.9 1682.3,491.1 1683,489.9 1683.7,494.7 1684.4,486.7 1685.1,486.3 1685.8,482.5 1686.5,487.3 1687.2,485.5 1687.9,486.9 1688.6,485.7 1689.3,488.5 1690,499.5 1690.42,495.2 1690.7,495.3 1691.4,492.5 1692.1,476.9 1692.8,456.5 1693.5,454.7 1693.79,449.3 1694.2,455.4 1694.9,463.1 1695.6,485.9 1696.3,495.0 1696.72,500.6 1697,495.8 1697.7,489.4 1698.4,493.0 1699.1,485.9 1699.8,484.6 1700.5,481.5 1701.2,481.7 1701.9,494.1 1702.6,505.6 1703.3,508.2 1704,509.9 1704.7,519.0 1705.4,517.9 1706.1,514.3 1706.8,516.9 1707.5,519.9 1708.2,511.0 1708.9,518.1 1709.6,510.3 1710.3,519.5 1711,513.8 1711.7,516.0 1712.4,510.9 1713.1,508.1 1713.8,514.3 1714.5,510.9 1715.2,513.1 1715.9,509.8 1716.6,509.2 1717.3,510.6 1718,516.1 1718.7,523.4 1719.4,526.8 1720.1,529.1 1720.79,525.9 1721.5,519.9 1722.2,519.0 1722.9,516.7 1723.6,503.8 1724.16,501.6 1724.3,497.9 1725,491.9 1725.7,489.8 1726.4,485.4 1727.1,479.4 1727.54,467.8 1727.8,470.9 1728.5,450.3 1729.11,444.0 1729.9,459.1 1730.6,470.7 1731.3,481.3 1732,495.8 1732.7,491.7 1733.4,496.1 1734.1,492.7 1734.8,503.1 1735,499.4 1735.5,494.3 1736.2,484.0 1736.9,472.4 1737.6,433.0 1738.3,382.7 1738.5,379.8 1739,421.5 1739.7,523.4 1740,539.3 1740.4,534.8 1741.1,505.5 1741.8,482.7 1742,474.7 1742.5,479.2 1743.2,486.3 1743.9,501.8 1744.6,499.2 1745.3,498.0 1745.5,501.0 1746,482.7 1746.7,456.6 1747.11,450.2 1747.4,456.5 1748.1,461.7 1748.8,471.6 1749.5,489.0 1750.03,493.3 1750.2,486.3 1750.9,481.7 1751.6,485.0 1752.3,486.7 1753,485.3 1753.7,484.4 1754.4,486.6 1755.1,486.8 1755.8,481.8 1756.5,476.8 1757.2,480.6 1757.9,490.7 1758.6,485.6 1759.3,493.6 1760,497.8 1760.7,485.1 1761.4,494.0 1762.1,490.0 1762.8,490.2 1763.5,483.4 1764.2,482.5 1764.9,484.1 1765.6,487.5"/>
<path stroke="#0048b0" d="M941.0,554.9L941.7,558.6 942.4,569.0 943.1,568.0 943.8,572.2 944.5,577.4 945.2,577.3 945.9,566.9 946.6,575.1 947.3,571.3 948,560.6 948.7,570.1 949.4,563.0 950.1,564.4 950.8,560.3 951.5,566.7 952.2,565.4 952.9,563.5 953.6,572.4 954.3,579.8 955,577.8 955.7,576.3 956.4,569.4 957.1,567.6 957.8,557.7 958.5,552.8 959.2,560.4 959.9,565.7 960.6,557.2 961.3,555.0 962,558.4 962.7,565.9 963.4,571.8 964.1,575.3 964.8,579.5 965.5,573.7 966.2,573.2 966.9,576.7 967.6,567.5 968.3,567.9 969,571.6 969.7,571.6 970.4,574.7 971.1,575.6 971.8,572.7 972.5,570.3 973.2,572.7 973.9,572.9 974.6,582.4 975.3,571.4 976,577.4 976.7,578.8 977.4,576.8 978.1,566.5 978.8,570.8 979.5,570.4 980.2,565.9 980.9,575.6 981.6,570.7 982.3,579.6 983,562.1 983.7,552.4 984.4,555.5 985.1,547.8 985.8,546.7 986.5,553.6 987.2,555.0 987.9,556.0 988.6,559.0 989.3,558.3 990,564.1 990.7,566.5 991.4,564.4 992.1,565.4 992.8,562.2 993.5,560.1 994.2,555.8 994.9,560.5 995.6,557.2 996.3,563.3 997,561.3 997.7,559.4 998.4,558.2 999.1,557.2 999.8,555.2 1000.5,561.7 1001.2,563.7 1001.9,554.0 1002.6,562.4 1003.3,564.7 1004,567.3 1004.7,568.5 1005.4,571.0 1006.1,567.7 1006.8,564.0 1007.5,565.0 1008.2,559.2 1008.9,561.7 1009.6,562.9 1010.3,560.6 1011,572.7 1011.7,564.4 1012.4,567.5 1013.1,568.8 1013.8,569.5 1014.5,570.2 1015.2,572.7 1015.9,572.4 1016.6,583.7 1017.3,585.3 1018,589.4 1018.7,593.1 1019.4,587.2 1020.1,584.7 1020.8,578.5 1021.5,578.0 1022.2,576.3 1022.9,571.1 1023.6,574.1 1024.3,565.8 1025,569.1 1025.7,570.5 1026.4,583.9 1027.1,591.4 1027.8,592.1 1028.5,583.4 1029.2,587.9 1029.5,591.2 1029.9,594.9 1030.6,621.9 1031,629.9 1031.3,611.1 1032,501.7 1032.4,472.5 1032.7,490.1 1033.4,606.3 1033.8,641.7 1034.1,633.8 1034.8,589.5 1035.5,562.0 1036.2,555.5 1036.9,548.6 1037.6,561.8 1038.3,551.5 1039,558.7 1039.7,556.9 1040.4,560.9 1041.1,561.0 1041.8,563.9 1042.5,564.1 1043.2,563.2 1043.9,567.8 1044.6,570.6 1045.3,562.8 1046,569.5 1046.7,580.3 1047.4,598.1 1048.1,586.2 1048.8,556.1 1049,563.4 1049.5,560.6 1050.2,571.5 1050.9,579.2 1051.6,575.3 1052.3,568.7 1053,561.8 1053.7,563.5 1054.4,561.0 1055.1,557.8 1055.8,565.7 1056.5,562.8 1057.2,568.3 1057.9,565.2 1058.6,572.2 1059.3,563.5 1060,562.3 1060.7,556.0 1061.4,560.5 1062.1,571.4 1062.8,563.1 1063.5,566.4 1064.2,563.6 1064.9,570.5 1065.6,566.0 1066.3,568.0 1067,571.3 1067.7,567.5 1068.4,572.2 1069.1,561.3 1069.8,561.9 1070.5,560.3 1071.2,558.6 1071.9,557.6 1072.6,553.7 1073.3,550.2 1074,549.8 1074.7,546.6 1075.4,548.6 1076.1,542.4 1076.8,557.4 1077.5,551.6 1078.2,553.2 1078.9,551.5 1079.6,546.7 1080.3,534.8 1081,533.2 1081.7,540.0 1082.4,544.6 1083.1,541.7 1083.8,550.0 1084.5,554.9 1085.2,559.4 1085.9,552.8 1086.6,560.2 1087.3,558.1 1088,565.6 1088.7,561.9 1089.4,566.7 1090.1,567.3 1090.8,566.0 1091.5,562.1 1092,554.8 1092.2,559.4 1092.9,571.6 1093.5,580.0 1094.3,461.5 1094.7,420.6 1095,449.7 1095.7,610.3 1096,640.0 1096.4,626.0 1097.1,574.0 1097.5,563.3 1097.8,555.5 1098.5,559.8 1099.2,570.5 1099.9,570.9 1100.6,568.6 1101.3,564.4 1102,558.1 1102.7,559.5 1103.4,551.9 1104.1,556.3 1104.8,566.5 1105.5,573.7 1106.2,562.5 1106.9,566.4 1107.6,563.7 1108.3,564.9 1109,567.3 1109.7,559.9 1110.4,557.1 1111.1,552.5 1111.8,555.5 1112.5,558.8 1113.2,558.4 1113.9,573.5 1114.6,574.3 1115.3,569.8 1116,568.8 1116.7,566.3 1117.4,557.1 1118.1,551.3 1118.8,554.0 1119.5,557.0 1120.2,549.3 1120.9,558.5 1121.6,557.4 1122.3,562.6 1123,553.7 1123.7,551.2 1124.4,554.6 1125.1,556.1 1125.8,560.6 1126.5,553.6 1127.2,554.7 1127.9,552.5 1128.6,552.9 1129.3,550.9 1130,555.6 1130.7,556.3 1131.4,554.7 1132.1,552.7 1132.8,554.7 1133.5,559.6 1134.2,560.6 1134.9,557.9 1135.6,559.3 1136.3,555.3 1137,562.9 1137.7,559.7 1138.4,566.1 1139.1,564.0 1139.8,561.4 1140.5,560.4 1141.2,564.8 1141.9,567.5 1142.6,580.7 1143.3,576.4 1144,579.7 1144.7,589.2 1145.4,584.6 1146.1,581.1 1146.8,577.2 1147.5,574.3 1148.2,574.3 1148.9,566.6 1149.6,561.1 1150.3,571.0 1151,581.2 1151.7,580.4 1152.4,581.1 1153.1,575.8 1153.8,579.9 1154.5,570.6 1155.2,576.9 1155.9,572.9 1156.6,583.2 1157.3,583.1 1158,575.9 1158.7,571.7 1159.4,566.3 1160.1,575.4 1160.8,569.5 1161.5,560.9 1162.2,557.9 1162.9,555.3 1163.6,557.7 1164.3,561.3 1165,564.0 1165.7,568.0 1166.4,570.7 1167.1,565.8 1167.8,570.4 1168.5,570.4 1169.2,562.4 1169.9,564.3 1170.6,546.6 1171.3,503.9 1172,479.3 1172.7,543.0 1173.4,619.8 1174.1,567.2 1174.8,477.3 1175,473.1 1175.5,498.5 1176.2,568.6 1176.5,578.7 1176.9,573.9 1177.6,558.6 1178,558.8 1178.3,556.9 1179,560.8 1179.7,562.9 1180.4,569.0 1181.1,567.0 1181.8,568.8 1182.5,568.4 1183.2,561.4 1183.9,557.3 1184.6,553.5 1185.3,561.2 1186,552.5 1186.7,553.1 1187.4,560.0 1188.1,558.1 1188.8,561.2 1189.5,558.3 1190.2,563.5 1190.9,556.2 1191.6,557.3 1192.3,564.2 1193,556.7 1193.7,556.5 1194.4,549.9 1195.1,542.4 1195.8,546.3 1196.5,544.3 1197.2,562.6 1197.9,563.7 1198.6,568.4 1199.3,563.0 1200,557.8 1200.7,553.6 1201.4,553.0 1202.1,552.5 1202.8,552.3 1203.5,556.8 1204.2,560.6 1204.9,567.1 1205.6,575.8 1206.3,569.8 1207,571.2 1207.7,569.4 1208.4,567.6 1209.1,572.2 1209.8,571.0 1210.5,567.5 1211.2,574.3 1211.9,567.5 1212.6,572.1 1213.3,572.3 1214,566.6 1214.7,567.7 1215.4,564.1 1216.1,559.6 1216.8,569.2 1217.5,559.8 1218.2,564.3 1218.9,566.1 1219.6,551.8 1220.3,549.9 1221,552.6 1221.7,557.7 1222.4,552.7 1223.1,551.5 1223.8,559.5 1224.5,566.1 1225.2,567.3 1225.9,567.3 1226.6,564.6 1227.3,566.0 1228,566.0 1228.7,564.5 1229.4,564.9 1230.1,567.5 1230.8,566.7 1231.5,561.6 1232.2,560.5 1232.9,558.4 1233.6,554.9 1234.3,561.7 1235,556.2 1235.7,555.2 1236.4,553.2 1237.1,562.1 1237.8,563.1 1238.5,563.8 1239.2,571.0 1239.9,570.3 1240.6,564.6 1241.3,564.4 1242,555.5 1242.7,568.6 1243.4,572.2 1244.1,568.1 1244.8,568.3 1245.5,560.0 1245.91,562.5 1246.2,567.7 1246.9,565.1 1247.6,577.3 1248.3,592.4 1248.83,590.9 1249,595.9 1249.7,593.2 1250.4,582.1 1251.1,582.3 1251.8,579.7 1252.5,574.1 1253.2,569.3 1253.9,571.8 1254.6,572.9 1254.91,577.6 1255.3,574.7 1256,588.5 1256.7,594.5 1257.4,605.5 1258.1,610.8 1258.28,607.4 1258.8,606.6 1259.5,590.1 1260.2,576.9 1260.9,563.6 1261.6,559.8 1262.3,565.5 1263,569.3 1263.7,565.1 1264.4,566.3 1265.1,568.1 1265.8,567.2 1266.5,562.4 1267.2,562.3 1267.9,566.0 1268.6,562.9 1269.3,559.9 1270,554.6 1270.7,548.5 1271.4,562.4 1272.1,554.7 1272.8,550.6 1273.5,556.6 1274.2,557.1 1274.9,559.6 1275.6,548.3 1276.3,553.4 1277,552.9 1277.7,554.8 1278.4,555.4 1279.1,561.8 1279.8,563.7 1280.5,556.8 1281.2,556.8 1281.9,551.5 1282.6,555.9 1283.03,556.7 1283.3,544.4 1284,543.0 1284.7,532.9 1285.4,533.0 1285.73,532.1 1286.1,533.1 1286.8,542.8 1287.5,559.0 1288.2,573.9 1288.66,581.4 1288.9,578.7 1289.6,572.1 1290.3,572.3 1291,570.3 1291.7,570.4 1292.4,569.7 1293.1,564.5 1293.8,566.7 1294.5,560.9 1295.2,560.0 1295.9,561.9 1296.6,557.2 1297.3,565.9 1298,554.3 1298.7,556.0 1299.4,560.4 1300.1,556.9 1300.8,563.9 1301.5,566.7 1302.2,562.8 1302.9,567.2 1303.6,568.7 1304.3,564.9 1305,558.9 1305.7,560.8 1306.4,557.1 1307.1,559.0 1307.8,565.8 1308.5,566.1 1309.2,560.6 1309.9,563.1 1310.6,561.8 1311.3,560.0 1312,561.1 1312.7,561.5 1313.4,560.9 1314.1,557.2 1314.8,555.6 1315.5,562.9 1316.2,555.4 1316.9,564.1 1317.6,565.3 1318.3,572.1 1319,573.0 1319.7,570.0 1320.4,568.4 1321.1,565.3 1321.8,558.8 1322.5,568.6 1323.2,564.9 1323.9,561.0 1324.6,550.4 1325.3,560.4 1326,556.9 1326.7,559.3 1327.4,562.3 1328.1,563.8 1328.8,556.0 1329.5,557.2 1330.2,556.6 1330.9,565.9 1331.6,573.3 1332.3,568.7 1333,571.8 1333.7,564.8 1334.4,559.0 1335.1,556.1 1335.8,560.1 1336.5,557.9 1337.2,547.6 1337.9,555.0 1338.6,559.5 1339.3,561.4 1340,560.4 1340.7,551.7 1341.4,557.3 1342.1,562.5 1342.8,553.4 1343.5,555.6 1344.2,560.8 1344.9,560.8 1345.6,554.4 1346.3,561.9 1347,558.6 1347.7,558.0 1348.4,555.0 1349.1,563.9 1349.8,558.9 1350.5,561.0 1351.2,554.8 1351.9,551.5 1352.6,551.3 1353,556.4 1353.15,552.6 1353.3,555.9 1354,566.7 1354.7,567.3 1355.4,569.8 1356.1,568.2 1356.8,561.8 1357.5,566.8 1358.2,558.9 1358.9,558.8 1359.6,566.6 1360.3,562.9 1361,558.8 1361.7,558.6 1362.4,560.4 1363.1,564.9 1363.8,558.7 1364.5,565.0 1365.2,561.6 1365.9,557.1 1366.6,559.5 1367.3,564.3 1368,569.4 1368.7,565.6 1369.4,571.0 1370.1,571.1 1370.8,573.4 1371.5,575.1 1372.2,567.5 1372.9,576.0 1373.6,571.4 1374.3,569.9 1375,564.4 1375.7,559.2 1376.4,559.9 1377.1,556.3 1377.8,563.0 1378.5,556.9 1379.2,558.4 1379.9,553.8 1380.6,549.7 1381.3,558.1 1382,556.5 1382.7,551.5 1383.4,557.6 1384.1,564.3 1384.8,561.0 1385.5,562.2 1386.2,562.8 1386.9,565.1 1387.6,560.4 1388.3,552.6 1389,553.7 1389.7,551.4 1390.4,556.5 1391.1,565.8 1391.8,554.7 1392.5,563.1 1393.2,557.8 1393.9,561.5 1394.6,550.7 1395.3,552.7 1396,550.7 1396.7,559.6 1397.4,549.1 1398.1,542.9 1398.8,547.7 1399.5,550.3 1400.2,557.5 1400.9,562.8 1401.6,559.5 1402.3,567.0 1403,566.2 1403.7,565.3 1404.4,566.3 1405.1,563.8 1405.8,568.2 1406.5,570.6 1407.2,569.4 1407.9,575.9 1408.6,570.4 1409.3,564.2 1410,564.6 1410.7,566.3 1411.4,565.9 1412.1,562.6 1412.8,555.5 1413.5,565.7 1414.2,564.1 1414.9,557.5 1415.6,558.8 1416.3,562.6 1417,563.5 1417.7,567.0 1418.4,559.2 1419.1,560.0 1419.8,564.7 1420.5,554.9 1421.2,564.0 1421.9,559.9 1422.6,562.4 1423.3,562.7 1424,564.3 1424.7,559.3 1425.4,550.4 1426.1,549.1 1426.8,553.3 1427.5,559.3 1428.2,559.0 1428.9,564.3 1429.48,568.7 1430.3,587.6 1431,605.2 1431.28,608.7 1431.7,611.8 1432.4,611.8 1432.86,611.5 1433.1,609.1 1433.8,577.3 1434.43,565.8 1435.2,566.5 1435.9,564.6 1436.6,569.1 1437.3,566.1 1438,571.7 1438.7,565.2 1439.4,559.6 1440.1,560.1 1440.8,564.5 1441.5,568.1 1442.2,562.4 1442.9,562.1 1443.6,557.9 1444.3,558.3 1445,562.3 1445.7,554.0 1446.4,554.8 1447.1,555.7 1447.8,558.1 1448.5,555.2 1449.2,562.3 1449.9,559.4 1450.6,555.6 1451.3,563.5 1452,562.5 1452.7,566.4 1453.4,559.3 1454.1,565.4 1454.8,559.0 1455.5,564.0 1456.2,557.6 1456.9,553.5 1457.6,555.8 1458.3,558.3 1459,568.3 1459.7,571.4 1460.4,574.1 1461.1,568.0 1461.8,564.9 1462.5,569.5 1463.2,559.2 1463.9,563.2 1464.6,564.7 1465.3,551.9 1466,559.8 1466.7,554.3 1467.4,566.6 1468.1,559.0 1468.8,567.7 1469.5,564.1 1470.2,553.7 1470.9,560.6 1471.6,558.2 1472.3,565.4 1473,558.4 1473.7,568.8 1474.4,567.2 1475.1,568.5 1475.8,566.1 1476.5,573.1 1477.2,576.5 1477.9,569.1 1478.6,579.2 1479.3,577.9 1480,578.0 1480.7,582.2 1481.4,575.7 1482.1,573.6 1482.8,569.7 1483.5,565.6 1484.2,558.8 1484.9,541.9 1485.6,538.9 1486.3,539.6 1486.84,536.3 1487,536.1 1487.7,537.0 1488.4,544.4 1489.1,561.1 1489.77,566.1 1490.5,573.5 1491.2,564.9 1491.9,574.6 1492.6,573.4 1493.3,570.7 1494,568.9 1494.7,561.2 1495.4,555.2 1496.1,554.7 1496.8,552.1 1497.5,557.4 1498.2,550.5 1498.9,547.1 1499.6,550.2 1500.3,560.3 1501,562.0 1501.7,563.7 1502.4,569.9 1503.1,571.8 1503.8,568.3 1504.5,570.5 1505.2,565.8 1505.9,562.9 1506.6,570.1 1507.3,569.7 1508,568.3 1508.7,567.7 1509.4,560.2 1510.1,564.7 1510.8,570.8 1511.5,581.4 1512.2,583.1 1512.9,584.5 1513.6,591.3 1514.3,581.5 1515,574.8 1515.7,572.9 1516.4,574.5 1517.1,570.7 1517.8,564.1 1518.5,555.6 1519.2,558.7 1519.9,558.2 1520.6,558.1 1521.3,562.1 1522,559.1 1522.7,565.0 1523.4,563.4 1524.1,563.7 1524.8,561.2 1525.5,562.8 1526.2,564.2 1526.9,565.9 1527.6,569.7 1528.3,565.6 1529,555.4 1529.7,549.1 1530.4,544.4 1531,539.9 1531.8,560.8 1532.5,591.2 1533,598.7 1533.2,598.8 1533.9,566.0 1534.6,528.5 1535,533.3 1535.3,527.6 1536,543.6 1536.7,564.3 1537,565.6 1537.4,557.4 1538.1,558.8 1538.8,561.8 1539.5,563.7 1540.2,552.9 1540.9,565.8 1541.6,559.8 1542.3,562.0 1543,561.4 1543.7,560.3 1544.4,565.7 1545.1,568.9 1545.8,562.3 1546.5,563.1 1547.2,562.4 1547.9,561.1 1548.6,551.8 1549.3,559.2 1550,558.5 1550.7,564.2 1551.4,557.6 1552.1,563.9 1552.8,557.8 1553.5,565.7 1554.2,565.6 1554.9,575.6 1555.6,567.9 1556.3,574.8 1557,576.7 1557.7,570.3 1558.4,566.8 1559.1,558.0 1559.8,566.3 1560.5,568.2 1561.08,580.4 1561.2,575.3 1561.9,585.3 1562.6,582.7 1563.3,591.9 1564,586.6 1564.7,576.4 1565.4,559.2 1566.1,546.7 1566.25,545.2 1566.8,542.9 1567.5,553.5 1568.2,558.5 1568.9,570.0 1569.6,568.8 1570.3,566.1 1571,568.7 1571.7,566.9 1572.4,559.0 1573.1,558.2 1573.8,555.1 1574.5,553.3 1575.2,550.3 1575.9,555.3 1576.6,560.2 1577.3,558.0 1578,557.8 1578.7,556.5 1579.4,566.6 1580.1,556.6 1580.8,565.2 1581.5,560.9 1582.2,563.8 1582.9,543.9 1583.6,555.9 1584.3,551.8 1585,555.5 1585.7,556.6 1586.4,566.2 1587.1,562.7 1587.8,559.5 1588.5,559.4 1589.2,564.2 1589.9,570.8 1590.6,566.4 1591.3,567.5 1592,577.3 1592.7,570.0 1593.4,570.6 1594.1,574.2 1594.8,577.2 1595.5,573.3 1596.2,578.2 1596.9,579.3 1597.6,574.2 1598.3,567.1 1599,559.1 1599.7,554.4 1600.4,558.7 1601.1,565.8 1601.8,556.8 1602.5,560.1 1603.2,555.8 1603.9,557.6 1604.6,552.7 1605.3,559.3 1606,557.7 1606.7,560.0 1607.4,554.1 1608.1,560.8 1608.8,558.7 1609.5,555.8 1610.2,557.6 1610.9,557.3 1611.6,556.3 1612.3,553.6 1613,555.4 1613.7,550.4 1614.4,559.0 1615.1,550.3 1615.8,548.9 1616.5,555.8 1617.2,557.6 1617.9,559.7 1618.6,559.1 1619.3,565.5 1620,562.8 1620.7,567.7 1621.4,563.6 1622.1,561.9 1622.8,563.1 1623.5,569.1 1624.2,572.4 1624.9,574.1 1625.6,568.4 1626.3,569.4 1627,563.6 1627.7,569.4 1628.4,565.1 1629.1,561.1 1629.8,568.9 1630.5,570.2 1631.2,582.0 1631.9,572.4 1632.6,581.5 1633.3,580.5 1634,568.2 1634.7,564.7 1635.31,553.6 1636.1,546.0 1636.8,545.3 1637.5,536.9 1638.2,535.3 1638.9,540.8 1639.6,550.8 1640.3,566.3 1640.93,568.7 1641.7,570.1 1642.4,566.9 1643.1,563.8 1643.8,567.5 1644.5,562.1 1645.2,559.5 1645.9,553.2 1646.6,557.9 1647.3,549.8 1648,547.3 1648.7,554.8 1649.4,558.7 1650.1,558.2 1650.8,562.9 1651.5,560.0 1652.2,556.9 1652.9,555.9 1653.6,556.5 1654.3,553.6 1655,551.2 1655.7,554.7 1656.4,561.8 1657.1,558.3 1657.8,560.1 1658.5,565.2 1659.2,562.6 1659.9,558.9 1660.6,558.8 1661.3,557.1 1662,555.6 1662.7,567.0 1663.4,561.9 1664.1,566.2 1664.8,563.5 1665.5,555.5 1666.2,558.9 1666.9,553.6 1667.6,553.6 1668.3,554.1 1669,556.1 1669.7,558.0 1670.4,557.6 1671.1,569.0 1671.8,564.0 1672.5,564.2 1673.2,561.9 1673.9,559.4 1674.6,554.3 1675.3,559.7 1676,544.6 1676.7,546.9 1677.4,547.0 1678.1,542.5 1678.8,543.7 1679.5,554.5 1680.2,560.1 1680.9,561.2 1681.6,574.4 1682.3,577.6 1683,585.6 1683.22,582.0 1683.7,583.6 1684.4,570.1 1685.1,569.7 1685.8,561.9 1685.92,563.7 1686.5,553.7 1687.2,559.9 1687.9,563.1 1688.6,554.4 1689.3,555.1 1690,555.1 1690.7,554.1 1691.4,561.2 1692.1,556.4 1692.8,554.4 1693.5,559.5 1694.2,564.1 1694.9,559.3 1695.6,560.5 1696.3,552.4 1697,554.9 1697.7,551.9 1698.4,555.8 1699.1,553.0 1699.8,553.4 1700.5,552.7 1701.2,556.3 1701.9,559.3 1702.6,556.2 1703.3,559.6 1704,551.2 1704.7,552.6 1705.4,539.8 1706.1,547.6 1706.8,548.0 1707.5,562.7 1708.2,567.1 1708.9,564.8 1709.6,558.3 1710.3,557.7 1711,564.7 1711.7,564.0 1712.4,564.7 1713.1,562.5 1713.8,574.2 1714.5,572.4 1715.2,573.5 1715.9,567.2 1716.6,578.5 1717.3,577.9 1718,589.3 1718.7,578.9 1719.4,582.6 1720.1,578.3 1720.8,571.8 1721.5,562.4 1722.2,555.5 1722.9,566.1 1723.6,561.1 1724.3,556.2 1725,554.7 1725.7,558.2 1726.4,561.9 1727.1,557.4 1727.8,549.9 1728.5,551.9 1729.2,551.2 1729.9,545.4 1730.6,549.3 1731.3,548.4 1732,544.2 1732.7,547.8 1733.4,553.5 1734.1,568.9 1734.8,560.0 1735,566.9 1735.5,554.8 1736.2,548.2 1736.9,542.2 1737.6,511.0 1738.3,473.5 1738.5,472.7 1739,503.7 1739.7,586.5 1740,598.6 1740.4,596.5 1741.1,571.5 1741.8,543.8 1742,552.2 1742.5,549.8 1743.2,563.5 1743.9,561.9 1744.6,556.9 1745.3,557.9 1745.5,561.4 1746,553.6 1746.7,544.2 1747.4,536.1 1747.78,537.8 1748.1,539.6 1748.8,542.0 1749.5,547.6 1750.2,548.7 1750.9,550.4 1751.6,556.4 1752.3,554.6 1753,539.0 1753.7,537.8 1754.4,535.1 1755.1,537.0 1755.8,528.9 1756.5,537.3 1757.2,541.6 1757.9,546.3 1758.6,542.7 1759.3,543.4 1760,541.7 1760.7,542.9 1761.4,542.4 1762.1,540.9 1762.8,545.5 1763.5,553.1 1764.2,557.1 1764.9,558.9 1765.6,560.6"/>
<path stroke="#000090" d="M941.0,623.7L941.7,622.7 942.4,625.9 943.1,625.6 943.25,625.0 943.8,634.2 944.5,635.2 945.2,638.8 945.5,642.6 945.9,638.2 946.6,639.0 947.3,637.6 948,629.4 948.7,628.1 949.4,624.4 950.1,619.7 950.8,627.9 951.5,631.9 952.2,634.9 952.9,635.1 953.6,631.8 954.3,632.0 955,638.4 955.7,641.6 956.4,640.5 957.1,637.3 957.8,641.5 958.5,632.2 959.2,637.3 959.9,637.1 960.6,634.0 961.3,645.4 962,650.4 962.7,643.7 963.4,635.6 964.1,633.5 964.8,623.6 965.5,625.8 966.2,639.2 966.9,639.6 967.6,650.4 968.3,651.7 969,648.5 969.7,645.0 970.4,635.7 971.1,625.6 971.8,635.9 972.5,632.8 973.2,639.0 973.9,646.0 974.6,642.9 975.3,645.8 976,639.5 976.7,632.7 977.4,633.1 978.1,627.5 978.8,626.6 979.5,625.4 980.2,626.3 980.9,620.8 981.6,628.0 982.3,624.2 983,625.5 983.7,629.7 984.4,626.9 985.1,635.7 985.8,628.4 986.5,632.8 987.2,632.7 987.9,634.1 988.6,633.4 989.3,634.3 990,631.4 990.7,629.3 991.4,623.3 992.1,615.3 992.8,610.1 993.5,607.8 994.2,613.4 994.9,626.1 995.6,636.9 996.3,633.5 997,640.2 997.7,628.7 998.4,622.0 999.1,619.0 999.8,621.6 1000.5,625.5 1001.2,613.8 1001.9,619.2 1002.6,619.4 1003.3,619.9 1004,621.0 1004.7,627.5 1005.4,631.6 1006.1,633.0 1006.8,625.3 1007.5,634.9 1008.2,632.0 1008.9,632.7 1009.6,633.3 1010.3,632.3 1011,636.7 1011.7,632.7 1012.4,625.0 1013.1,625.7 1013.8,630.1 1014.5,635.4 1015.2,634.5 1015.9,646.1 1016.6,640.9 1017.3,647.2 1018,652.6 1018.7,651.5 1019.4,653.4 1020.1,645.4 1020.8,648.8 1021.5,640.9 1022.2,636.6 1022.9,637.1 1023.6,640.1 1024.3,629.5 1025,635.7 1025.7,641.1 1026.4,645.0 1027.1,653.3 1027.8,652.7 1028.5,644.1 1029.2,654.8 1029.5,651.7 1029.9,665.0 1030.6,700.0 1031.3,600.0 1032,500.4 1032.7,600.0 1033.4,700.0 1034.1,667.5 1034.8,624.1 1035,621.4 1035.5,619.8 1036.2,617.9 1036.9,622.7 1037.6,623.1 1038.3,622.8 1039,629.4 1039.7,624.3 1040.4,627.0 1041.1,628.1 1041.8,633.2 1042.5,629.6 1043.2,637.9 1043.9,641.1 1044.6,645.1 1045,638.5 1045.3,632.3 1046,620.1 1046.7,607.3 1047,597.8 1047.4,609.5 1048.1,634.5 1048.8,655.6 1049,656.8 1049.5,652.1 1050.2,636.5 1050.5,636.1 1050.9,622.8 1051.6,624.9 1052.3,610.2 1053,616.9 1053.7,609.0 1054.4,612.3 1055.1,619.3 1055.8,616.0 1056.5,619.1 1057.2,624.2 1057.9,626.9 1058.6,628.1 1059.3,630.8 1060,629.3 1060.7,633.1 1061.4,627.1 1062.1,622.7 1062.8,617.5 1063.5,620.9 1064.2,624.4 1064.9,624.8 1065.6,631.4 1066.3,620.0 1067,620.8 1067.7,620.6 1068.4,625.2 1069.1,624.0 1069.8,625.1 1070.5,620.1 1071.2,626.5 1071.9,623.0 1072.6,624.9 1073.3,613.5 1074,615.5 1074.7,612.1 1075.4,612.5 1076.1,608.7 1076.8,599.8 1077.5,600.5 1078.2,601.2 1078.9,600.0 1079.6,603.7 1080.3,594.0 1081,595.3 1081.64,594.0 1082.4,591.7 1083.1,599.3 1083.8,602.3 1084.5,610.6 1085.2,613.7 1085.9,631.3 1086.6,627.0 1087.3,629.0 1088,623.5 1088.7,611.0 1089.4,612.0 1090.1,617.9 1090.8,620.8 1091.5,630.6 1092,630.0 1092.2,611.5 1092.9,383.8 1093.5,250.0 1094.3,265.7 1095,300.0 1095.7,469.1 1096.4,645.9 1097.1,640.3 1097.8,631.2 1098,622.1 1098.5,618.5 1099.2,623.5 1099.9,633.1 1100.6,645.6 1101.3,639.6 1102,633.9 1102.7,635.9 1103.4,627.4 1104.1,625.3 1104.8,632.0 1105.5,619.9 1106.2,625.0 1106.9,612.9 1107.6,618.3 1108.3,615.5 1108.64,614.0 1109,614.1 1109.7,603.6 1110.22,601.5 1110.4,597.9 1111.1,602.0 1111.8,620.6 1112.5,630.8 1113.14,633.5 1113.9,629.0 1114.6,635.4 1115.3,626.5 1116,630.7 1116.7,625.8 1117.4,625.0 1118.1,630.9 1118.8,632.4 1119.5,628.5 1120.2,637.7 1120.9,632.3 1121.6,629.5 1122.3,631.1 1123,631.9 1123.7,636.0 1124.4,639.0 1125.1,638.5 1125.8,640.0 1125.97,635.8 1126.5,640.1 1127.2,634.2 1127.9,626.7 1128.6,614.1 1128.89,609.1 1129.3,619.0 1130,616.2 1130.7,617.2 1131.4,615.8 1132.1,618.7 1132.8,621.3 1133.5,623.1 1134.2,619.5 1134.9,618.6 1135.6,622.5 1136.3,623.7 1137,618.2 1137.7,617.5 1138.4,617.3 1139.1,619.7 1139.8,623.8 1140.5,633.8 1141.2,626.8 1141.9,641.7 1142.4,641.1 1142.6,641.7 1143.3,654.0 1144,663.9 1144.65,657.3 1145.4,656.2 1146.1,653.0 1146.8,643.8 1147.5,634.3 1148.2,631.0 1148.9,616.7 1149.6,616.2 1149.82,613.0 1150.3,624.3 1151,632.8 1151.7,648.8 1152.4,660.1 1152.52,657.3 1153.1,661.7 1153.8,658.3 1154.5,661.6 1155.2,649.5 1155.9,653.2 1156.6,639.4 1157.3,634.5 1158,636.2 1158.7,639.2 1159.4,640.8 1160.1,640.9 1160.8,635.4 1161.5,639.3 1162.2,625.0 1162.9,620.1 1163.6,627.0 1164.3,627.1 1165,635.1 1165.7,629.1 1166.4,636.3 1167.1,639.3 1167.8,639.2 1168.5,635.7 1169.2,631.3 1169.9,629.8 1170.6,577.2 1171.3,487.3 1171.5,486.9 1172,526.7 1172.7,641.3 1173,661.6 1173.4,626.7 1174.1,503.3 1174.5,472.2 1174.8,487.7 1175.5,595.9 1176,638.0 1176.2,643.0 1176.9,628.7 1177.6,620.2 1178,616.0 1178.3,626.6 1179,622.5 1179.7,621.2 1180.4,629.8 1181.1,623.8 1181.8,633.3 1182.5,628.9 1183.2,622.4 1183.9,621.2 1184.6,616.4 1185.3,616.2 1186,607.7 1186.7,617.9 1187.4,621.7 1188.1,618.6 1188.8,614.9 1189.5,615.0 1190.2,626.5 1190.9,627.5 1191.6,624.9 1192.3,623.6 1193,618.4 1193.7,614.1 1194.4,612.1 1195.1,616.1 1195.8,618.3 1196.5,629.5 1197.2,629.6 1197.9,626.7 1198.6,628.2 1199.3,625.0 1200,622.1 1200.7,621.7 1201.4,619.5 1202.1,622.7 1202.8,614.3 1203.5,610.3 1204.2,615.2 1204.9,620.0 1205.6,626.1 1206.3,626.8 1207,631.2 1207.7,628.6 1208.4,627.9 1209.1,613.1 1209.8,625.3 1210.5,622.8 1211.2,626.0 1211.9,622.4 1212.6,627.6 1213.3,632.6 1214,639.6 1214.7,633.2 1215.4,641.0 1216.1,642.1 1216.65,647.9 1216.8,644.1 1217.5,633.7 1218.2,624.4 1218.9,611.7 1219.58,606.5 1220.3,607.9 1221,609.4 1221.7,615.4 1222.4,621.0 1223.1,614.6 1223.8,626.7 1224.5,627.3 1225.2,621.4 1225.9,625.4 1226.6,620.4 1227.3,616.8 1228,615.4 1228.7,619.4 1229.4,619.4 1230.1,621.8 1230.8,629.0 1231.5,633.2 1232.2,633.1 1232.9,629.3 1233.6,628.5 1234.3,634.0 1235,629.9 1235.7,630.4 1236.4,623.9 1237.1,621.8 1237.8,618.9 1238.5,612.0 1239.2,612.9 1239.9,621.5 1240.6,632.7 1241.3,631.0 1242,635.6 1242.7,636.1 1243.4,638.6 1244.1,632.8 1244.8,638.5 1245.5,640.5 1246.2,645.3 1246.9,650.9 1247.6,655.7 1248.3,662.5 1249,662.2 1249.7,660.8 1250.4,650.1 1251.1,651.1 1251.8,642.9 1252.5,635.6 1253.2,633.5 1253.9,638.8 1254.6,636.3 1255.3,634.2 1256,641.9 1256.7,646.3 1257.16,648.2 1257.4,646.2 1258.1,621.4 1258.73,609.0 1259.5,617.1 1260.2,626.2 1260.9,643.8 1261.6,657.4 1262.3,655.7 1263,660.3 1263.7,664.1 1264.4,669.0 1265.1,654.2 1265.8,656.1 1266.5,640.8 1267.2,643.6 1267.9,633.7 1268.6,644.0 1269.3,637.1 1270,633.6 1270.7,634.6 1271.4,621.9 1272.1,612.3 1272.8,619.1 1273.5,607.6 1274.2,606.4 1274.9,605.7 1275.16,613.2 1275.6,603.5 1276.3,621.8 1277,623.1 1277.41,630.9 1277.7,624.2 1278.4,628.5 1279.1,621.8 1279.8,625.2 1280.5,611.6 1281.2,619.6 1281.9,615.9 1282.6,610.1 1283.3,609.7 1283.48,610.5 1284,607.0 1284.7,616.8 1285.4,633.5 1286.1,638.3 1286.41,641.9 1286.8,644.4 1287.5,652.7 1288.2,653.1 1288.9,647.6 1289.6,646.6 1290.3,655.9 1291,658.0 1291.7,645.6 1292.04,645.4 1292.4,653.2 1293.1,641.9 1293.8,643.8 1294.5,633.4 1295.2,622.5 1295.41,620.0 1295.9,623.2 1296.6,620.7 1297.3,627.4 1298,628.8 1298.7,629.7 1299.4,624.5 1300.1,629.6 1300.8,633.5 1301.5,633.0 1302.2,634.2 1302.9,637.2 1303.6,637.0 1304.3,632.2 1305,631.7 1305.7,623.5 1306.4,623.4 1307.1,621.1 1307.8,618.0 1308.5,621.9 1309.2,623.4 1309.9,625.4 1310.6,621.7 1311.3,627.7 1312,630.4 1312.7,641.6 1313.4,631.1 1314.1,618.9 1314.8,618.2 1315.5,618.0 1316.2,618.9 1316.34,617.4 1316.9,617.3 1317.6,626.2 1318.3,639.5 1319,638.9 1319.7,640.3 1320.4,631.0 1321.1,632.1 1321.8,636.6 1322.5,630.2 1323.2,626.2 1323.9,623.9 1324.6,623.9 1325.3,626.1 1326,629.2 1326.7,628.0 1327.4,633.9 1328.1,633.3 1328.8,640.7 1329.5,633.2 1330.2,634.4 1330.9,634.4 1331.41,628.2 1331.6,634.3 1332.3,625.9 1333,617.7 1333.66,610.7 1334.4,613.7 1335.1,611.4 1335.8,618.8 1336.5,626.5 1337.2,625.9 1337.9,631.8 1338.6,630.6 1339.3,632.0 1340,642.9 1340.41,630.6 1340.7,637.0 1341.4,627.4 1342.1,618.5 1342.8,613.0 1343.5,607.0 1343.79,612.3 1344.2,611.4 1344.9,616.8 1345.6,617.3 1346.3,625.1 1347,632.7 1347.7,629.6 1348.4,628.0 1349.1,635.8 1349.8,626.5 1350.5,626.6 1351.2,631.5 1351.9,630.9 1352.6,627.2 1353,629.1 1353.15,638.2 1353.3,634.8 1354,637.1 1354.7,637.4 1355.4,632.4 1356.1,630.2 1356.8,624.3 1357.5,627.1 1358.2,628.0 1358.9,616.2 1359.6,620.6 1360.3,627.3 1361,621.8 1361.7,628.5 1362.4,628.5 1363.1,627.6 1363.8,632.8 1364.5,634.2 1365.2,637.9 1365.9,636.9 1366.6,629.5 1367.3,634.8 1368,646.8 1368.7,649.3 1369.4,638.8 1370.1,627.7 1370.8,615.4 1371.45,618.0 1372.2,615.3 1372.9,625.3 1373.6,624.2 1374.3,620.5 1375,628.6 1375.7,620.3 1376.4,619.0 1377.1,625.6 1377.8,624.7 1378.5,626.4 1379.2,624.9 1379.9,619.6 1380.6,624.2 1381.3,632.6 1382,629.7 1382.7,629.8 1383.4,634.9 1384.1,627.5 1384.8,630.1 1385.5,627.1 1386.2,625.1 1386.9,629.4 1387.6,620.0 1388.3,613.8 1389,610.6 1389.7,613.5 1390.4,614.1 1391.1,628.7 1391.8,631.0 1392.5,638.1 1393.2,635.6 1393.9,632.0 1394.6,632.6 1395.3,638.0 1396,635.6 1396.7,628.3 1397.4,628.3 1398.1,627.8 1398.8,627.3 1399.5,622.9 1400.2,620.1 1400.9,623.3 1401.6,622.8 1402.3,624.5 1403,625.0 1403.7,613.8 1404.4,618.8 1405.1,625.1 1405.8,623.9 1406.5,612.3 1407.2,618.3 1407.9,627.5 1408.6,634.5 1409.3,640.7 1410,649.7 1410.7,642.4 1411.4,640.1 1412.1,637.5 1412.8,631.8 1413.5,619.5 1414.2,607.7 1414.9,603.3 1415.54,607.4 1416.3,609.4 1417,611.7 1417.7,622.4 1418.4,621.2 1419.1,627.4 1419.8,632.5 1420.5,639.3 1421.2,634.5 1421.9,626.4 1422.6,628.8 1423.3,630.4 1424,621.0 1424.7,630.3 1425.4,626.7 1426.1,623.9 1426.8,628.8 1427.5,631.3 1428.2,628.7 1428.9,642.8 1429.6,636.1 1430.3,636.0 1431,646.4 1431.7,641.1 1432.4,642.7 1433.1,631.8 1433.8,627.2 1434.5,628.3 1435.2,627.5 1435.9,627.9 1436.6,627.8 1437.3,620.2 1438,620.0 1438.7,631.0 1439.4,621.3 1440.1,629.8 1440.8,628.1 1441.5,632.4 1442.2,633.4 1442.9,634.1 1443.6,638.3 1444.3,630.7 1445,626.5 1445.7,622.9 1446.4,627.0 1447.1,619.7 1447.8,621.4 1448.5,624.4 1449.2,619.7 1449.9,624.0 1450.6,627.2 1451.3,634.2 1452,632.2 1452.7,643.2 1453.4,636.0 1454.1,633.4 1454.8,633.7 1455.5,638.4 1456.2,635.5 1456.9,634.7 1457.6,635.1 1458.3,630.5 1459,628.1 1459.7,621.8 1460.4,625.3 1461.1,626.3 1461.8,624.8 1462.5,630.6 1463.2,630.9 1463.9,629.8 1464.6,632.7 1465.3,637.0 1466,629.5 1466.7,634.2 1467.4,627.5 1468.1,623.1 1468.8,620.4 1469.5,621.2 1470.2,617.9 1470.9,619.0 1471.6,624.8 1472.3,631.1 1473,639.9 1473.7,630.6 1474.4,633.4 1475.1,636.6 1475.8,640.8 1476.5,652.0 1477.2,640.0 1477.9,637.5 1478.6,641.7 1479.3,637.8 1480,640.1 1480.7,636.5 1481.4,632.5 1482.1,636.3 1482.8,639.3 1483.5,632.7 1484.2,638.9 1484.9,636.8 1485.6,631.4 1486.3,634.7 1487,634.2 1487.7,638.1 1488.4,634.3 1489.1,644.3 1489.8,633.8 1490.5,633.7 1491.2,643.6 1491.9,640.4 1492.6,639.2 1493.3,643.9 1494,634.6 1494.7,633.5 1495.4,643.9 1496.1,638.9 1496.8,642.0 1497.5,636.3 1498.2,627.8 1498.9,622.6 1499.6,619.0 1500.3,614.3 1501,619.3 1501.7,621.6 1502.4,630.8 1503.1,644.7 1503.8,643.4 1504.5,642.3 1505.2,643.5 1505.9,644.8 1506.6,644.9 1507.3,643.5 1508,646.7 1508.7,642.9 1509.4,640.9 1510.1,636.4 1510.8,627.7 1511.5,630.8 1512.2,634.4 1512.9,628.4 1513.6,630.7 1514.3,629.4 1515,633.0 1515.7,644.2 1516.4,639.6 1517.1,640.3 1517.8,636.7 1518.5,641.2 1519.2,632.9 1519.9,639.6 1520.6,635.0 1521.3,632.3 1522,625.6 1522.7,622.7 1523.4,614.7 1524.1,614.9 1524.8,613.4 1525.5,616.2 1526.2,632.2 1526.9,625.4 1527.6,645.1 1528.3,636.0 1529,629.9 1529.7,638.6 1530,639.1 1530.4,631.3 1531.1,594.0 1531.8,562.7 1532,559.7 1532.5,627.6 1533.2,761.5 1533.9,687.6 1534.6,590.0 1535.3,608.8 1536,625.3 1536.7,619.1 1537.4,619.3 1538.1,617.6 1538.8,621.7 1539.5,619.6 1540.2,631.9 1540.9,634.1 1541.6,634.5 1542.3,641.8 1543,647.9 1543.7,645.5 1544.2,646.8 1544.4,645.0 1545.1,642.0 1545.8,625.8 1546.5,620.7 1547.2,615.7 1547.58,618.4 1547.9,618.2 1548.6,623.2 1549.3,631.6 1550,645.3 1550.7,647.7 1550.95,649.5 1551.4,652.2 1552.1,643.6 1552.8,646.7 1553.5,639.7 1554.2,646.0 1554.9,647.6 1555.6,635.2 1556.3,638.4 1557,639.6 1557.7,637.5 1558.4,639.8 1559.1,626.3 1559.8,630.8 1560.5,620.3 1561.2,620.7 1561.9,615.3 1562.6,618.3 1563.3,606.5 1564,605.8 1564.7,607.3 1565.4,614.5 1566.1,626.3 1566.8,628.6 1567.5,636.5 1568.2,645.3 1568.9,636.2 1569.6,645.0 1570.3,646.6 1571,649.8 1571.7,654.4 1572.4,658.2 1573.1,643.8 1573.8,639.5 1574.5,636.6 1575.2,638.5 1575.9,643.1 1576.6,639.5 1577.3,645.7 1578,645.2 1578.7,648.7 1579.4,638.7 1580.1,633.3 1580.8,625.4 1581.5,620.5 1582.2,623.6 1582.9,616.9 1583.6,613.7 1584.3,617.4 1585,627.1 1585.7,628.9 1586.4,632.5 1587.1,635.6 1587.8,636.3 1588.5,635.2 1589.2,635.8 1589.9,637.9 1590.6,638.8 1591.3,637.6 1592,640.0 1592.7,641.6 1593.4,639.0 1593.69,638.6 1594.1,635.1 1594.8,619.6 1595.5,621.7 1596.2,621.3 1596.9,634.0 1597.6,639.9 1598.3,638.8 1599,648.1 1599.7,640.7 1600.4,645.2 1601.1,644.4 1601.8,649.1 1602.5,643.9 1603.2,639.7 1603.9,643.5 1604.6,640.5 1605.3,640.2 1606,633.9 1606.7,641.4 1607.4,635.0 1608.1,636.1 1608.8,632.2 1609.5,633.2 1610.2,635.0 1610.9,640.8 1611.6,642.6 1612.3,638.2 1613,647.5 1613.7,650.4 1614.4,649.2 1615.1,643.4 1615.8,643.1 1616.5,636.0 1617.2,630.4 1617.9,633.9 1618.6,634.9 1619.3,631.5 1620,628.0 1620.7,622.3 1621.4,627.2 1622.1,628.8 1622.8,623.7 1623.5,626.6 1624.2,633.4 1624.9,625.7 1625.6,624.8 1626.3,624.1 1627,613.6 1627.7,613.4 1628.4,619.6 1629.1,633.1 1629.8,636.1 1630.5,638.6 1630.81,642.5 1631.2,639.2 1631.9,635.2 1632.6,620.3 1633.3,612.2 1634,600.8 1634.18,609.3 1634.7,613.1 1635.4,603.0 1636.1,600.4 1636.8,602.8 1637.5,607.1 1638.2,611.0 1638.9,612.6 1639.6,623.3 1640.3,620.2 1641,615.8 1641.7,613.9 1642.4,620.9 1643.1,611.9 1643.8,610.4 1644.5,613.0 1645.2,616.1 1645.9,612.1 1646.6,616.5 1647.3,615.6 1648,606.2 1648.7,602.7 1649.4,600.8 1650.1,599.6 1650.8,605.9 1651.5,599.3 1652.2,613.8 1652.9,611.5 1653.6,620.8 1654.3,625.1 1655,629.0 1655.7,625.6 1656.4,629.4 1657.1,636.1 1657.8,634.7 1658.5,630.1 1659.2,628.7 1659.9,623.6 1660.6,614.8 1661.3,614.8 1662,621.0 1662.7,624.0 1663.4,623.7 1664.1,628.3 1664.8,629.9 1665.5,628.7 1666.2,622.8 1666.9,609.5 1667.6,605.9 1668.3,607.1 1669,612.8 1669.7,619.0 1670.4,629.8 1671.1,633.2 1671.8,633.3 1672.5,630.6 1673.2,629.4 1673.9,620.3 1674.6,610.3 1675.3,615.4 1676,611.6 1676.7,609.7 1677.4,604.3 1678.05,611.9 1678.8,610.8 1679.5,617.1 1680.2,634.1 1680.9,640.4 1681.42,641.1 1681.6,647.1 1682.3,637.5 1683,640.6 1683.7,640.8 1684.4,630.1 1685.1,632.0 1685.8,630.9 1686.5,627.7 1687.2,618.9 1687.9,617.4 1688.6,616.6 1689.3,605.1 1690,603.8 1690.7,610.0 1691.4,613.9 1691.54,604.8 1692.1,608.0 1692.8,620.9 1693.5,631.1 1694.2,642.6 1694.9,643.2 1695.6,645.5 1696.3,642.2 1697,632.5 1697.7,634.9 1698.4,623.5 1699.1,623.3 1699.8,621.8 1700.5,619.2 1701.2,617.6 1701.9,620.2 1702.6,631.1 1703.3,645.1 1704,640.7 1704.7,649.6 1705.4,649.5 1706.1,649.0 1706.8,648.1 1707.5,648.3 1708.2,647.9 1708.9,652.6 1709.6,646.5 1710.3,649.7 1711,644.3 1711.7,647.0 1712.4,646.7 1713.1,645.8 1713.8,645.3 1714.5,645.0 1715.2,638.9 1715.9,645.3 1716.6,636.5 1717.3,640.5 1718,645.8 1718.7,647.0 1719.4,642.9 1720.1,651.2 1720.8,647.1 1721.5,651.2 1722.2,647.4 1722.9,646.9 1723.6,643.2 1724.3,639.5 1725,629.5 1725.7,632.3 1726.4,629.8 1727.1,623.7 1727.8,620.6 1728.5,624.4 1729.2,623.2 1729.9,628.5 1730.6,637.8 1731.3,640.5 1732,637.0 1732.7,645.9 1733.4,645.7 1734.1,653.5 1734.28,652.8 1734.8,636.9 1735,633.3 1735.5,623.0 1736.2,618.8 1736.9,604.9 1737.6,574.1 1738.3,545.8 1738.5,538.2 1739,571.1 1739.7,647.5 1740,659.8 1740.4,653.7 1741.1,629.6 1741.8,608.7 1742,608.6 1742.5,612.1 1743.2,622.5 1743.9,623.8 1744.6,628.4 1745.3,622.4 1746,622.3 1746.7,632.2 1747.4,637.9 1748.1,642.7 1748.8,642.5 1749.5,642.2 1750.2,631.5 1750.9,620.4 1751.6,615.3 1752.28,612.1 1753,618.4 1753.7,631.2 1754.4,642.5 1755.1,646.1 1755.65,655.0 1755.8,653.0 1756.5,642.5 1757.2,638.5 1757.9,640.5 1758.6,631.7 1759.3,632.0 1760,637.0 1760.7,634.0 1761.4,633.7 1762.1,630.5 1762.8,637.8 1763.5,640.3 1764.2,640.0 1764.9,634.7 1765.6,636.6"/>
<path stroke="#100070" d="M941.0,676.1L941.7,675.6 942.4,684.2 943.1,678.4 943.8,685.5 944.5,691.7 945.2,697.3 945.9,696.6 946.6,693.2 947.3,688.3 948,690.3 948.7,688.4 949.4,696.7 950.1,692.6 950.8,690.6 951.5,691.8 952.2,687.3 952.9,684.5 953.6,690.5 954.3,695.7 955,701.9 955.7,707.1 956.4,718.0 957.1,716.5 957.8,713.1 958.5,708.0 959.2,700.6 959.9,696.5 960.6,686.3 961.3,692.9 962,684.5 962.7,690.2 963.4,687.5 964.1,694.1 964.8,684.1 965.5,693.3 966.2,694.7 966.9,701.4 967.6,699.4 968.3,705.0 969,704.1 969.7,707.5 970.4,700.8 971.1,695.9 971.8,699.5 972.5,692.3 973.2,699.1 973.9,704.8 974.6,709.9 975.3,709.1 976,703.2 976.7,704.9 977.4,700.3 978.1,697.9 978.8,696.2 979.5,699.8 980.2,696.7 980.9,689.1 981.6,690.3 982.3,684.9 983,688.3 983.7,691.8 984.4,688.3 985.1,681.8 985.8,681.2 986.5,680.0 987.2,679.3 987.9,679.9 988.6,680.0 989.3,681.6 990,677.1 990.7,681.5 991.4,686.7 992.1,677.9 992.8,678.6 993.5,671.7 994.2,674.8 994.9,674.2 995.6,676.0 996.3,677.8 997,683.8 997.7,686.4 998.4,691.1 999.1,688.1 999.8,695.7 1000.5,691.8 1001.2,691.5 1001.9,698.6 1002.6,695.3 1003.3,698.0 1004,695.1 1004.7,695.0 1005.4,700.7 1006.1,706.1 1006.8,703.4 1007.5,703.4 1008.2,691.4 1008.9,687.5 1009.6,683.4 1010.3,679.2 1011,682.4 1011.7,686.4 1012.4,689.1 1013.1,684.9 1013.8,697.4 1014.5,695.6 1015.2,691.3 1015.9,697.5 1016.6,696.0 1017.3,703.6 1018,703.9 1018.63,705.4 1019.4,717.9 1020.1,733.6 1020.8,733.1 1021.5,728.9 1022.2,724.0 1022.9,721.1 1023.6,719.9 1024.3,713.7 1025,706.7 1025.7,707.7 1026.4,712.3 1027.1,713.0 1027.8,706.9 1028.5,705.7 1029.2,703.7 1029.9,700.1 1030.6,766.0 1031.2,830.2 1032,736.2 1032.6,640.0 1033.4,551.7 1034,520.4 1034.8,629.2 1035.4,700.0 1036.2,696.8 1036.9,697.3 1037.6,700.3 1038.3,698.4 1039,695.0 1039.7,698.7 1040.4,700.8 1041.1,700.4 1041.8,696.3 1042.5,694.3 1043.2,698.9 1043.9,694.6 1044.6,689.0 1045.3,689.7 1046,692.3 1046.7,676.0 1047.4,673.3 1048.1,673.6 1048.8,697.4 1049,699.0 1049.5,689.9 1050.2,685.8 1050.9,676.8 1051.6,679.0 1052.3,678.0 1053,681.6 1053.7,681.2 1054.4,684.0 1055.1,688.2 1055.8,681.2 1056.5,681.9 1057.2,693.0 1057.9,695.1 1058.6,695.5 1059.3,690.5 1060,697.7 1060.7,699.4 1061.4,700.4 1062.1,693.1 1062.8,692.2 1063.5,690.6 1064.2,689.7 1064.9,695.6 1065.6,694.4 1066.3,695.2 1067,696.8 1067.7,698.3 1068.4,693.9 1069.1,685.5 1069.8,696.9 1070.5,687.3 1071.2,684.0 1071.9,676.1 1072.6,685.0 1073.3,687.9 1074,697.9 1074.7,705.7 1074.89,708.9 1075.4,701.1 1076.1,670.9 1076.8,646.5 1077.14,645.9 1077.5,644.9 1078.2,651.5 1078.71,657.0 1078.9,654.3 1079.6,653.0 1080.3,644.4 1081,625.1 1081.64,631.7 1082.4,638.4 1083.1,654.7 1083.8,673.9 1084.5,685.8 1085.2,697.3 1085.9,694.4 1086.14,701.1 1086.6,690.4 1087.3,686.4 1088,690.9 1088.7,685.3 1089.4,697.8 1090.1,692.1 1090.8,691.5 1091.5,692.3 1092.2,694.6 1092.9,696.4 1093.6,698.5 1094,700.0 1094.3,724.0 1095,835.4 1095.2,846.0 1095.7,739.3 1096.4,500.3 1096.6,480.0 1097.1,506.9 1097.8,583.0 1098,600.0 1098.5,638.2 1099.2,682.5 1099.5,689.2 1099.9,694.3 1100.6,694.3 1101.3,698.8 1102,706.4 1102.7,697.4 1103.4,695.4 1104.1,690.9 1104.8,691.0 1105.5,689.3 1106.2,689.6 1106.9,699.2 1107.6,693.7 1108.3,693.4 1109,687.3 1109.7,690.9 1110.4,687.4 1111.1,686.9 1111.8,690.0 1112.5,688.1 1113.2,682.2 1113.9,684.5 1114.6,692.0 1115.3,689.0 1116,679.4 1116.7,685.8 1117.4,676.8 1118.1,679.5 1118.8,677.2 1119.5,681.5 1120.2,677.4 1120.9,686.2 1121.6,689.3 1122.3,695.6 1123,687.7 1123.7,694.4 1124.4,681.6 1125.1,688.0 1125.8,684.1 1126.5,694.4 1127.2,688.0 1127.9,697.7 1128.6,698.9 1128.89,699.9 1129.3,698.6 1130,692.5 1130.7,679.7 1131.4,673.6 1132.1,677.7 1132.27,674.5 1132.8,682.7 1133.5,679.9 1134.2,676.8 1134.52,678.7 1134.9,672.8 1135.6,682.4 1136.3,688.6 1137,695.9 1137.7,707.8 1137.89,705.3 1138.4,710.4 1139.1,703.7 1139.8,699.2 1140.5,697.4 1140.82,694.1 1141.2,691.2 1141.9,677.1 1142.6,665.8 1143.3,664.9 1143.52,668.3 1144,663.6 1144.7,682.2 1145.4,699.6 1146.1,719.5 1146.8,728.8 1147.5,726.8 1148.2,709.6 1148.9,704.6 1149.15,698.8 1149.6,694.5 1150.3,687.0 1151,676.3 1151.4,682.6 1151.7,685.7 1152.4,694.6 1153.1,699.1 1153.8,707.7 1154.5,716.5 1154.77,720.7 1155.2,714.7 1155.9,706.1 1156.6,693.3 1157.3,696.6 1157.47,688.1 1158,694.9 1158.7,695.7 1159.4,694.8 1160.1,701.9 1160.8,699.7 1161.5,698.9 1162.2,699.8 1162.9,689.8 1163.6,685.2 1164.3,689.5 1165,687.5 1165.7,699.4 1166.4,698.8 1167.1,696.7 1167.8,697.7 1168.5,688.7 1169.2,703.1 1169.9,694.4 1170.5,699.1 1171.3,750.7 1171.8,774.0 1172,767.9 1172.7,673.0 1173.2,600.0 1173.4,577.1 1174.1,495.7 1174.6,474.0 1174.8,479.4 1175.5,590.4 1176,638.8 1176.2,639.9 1176.9,615.6 1177.5,598.5 1178.3,648.1 1179,688.8 1179.7,701.1 1180.4,695.5 1181.1,703.3 1181.8,698.4 1182.5,701.0 1183.2,695.1 1183.9,690.6 1184.6,691.7 1185.3,690.2 1186,683.2 1186.7,681.3 1187.4,687.2 1188.1,697.5 1188.8,701.8 1189.5,698.5 1190.2,689.4 1190.9,695.4 1191.6,692.8 1192.3,694.8 1193,690.8 1193.7,685.9 1194.4,688.6 1195.1,687.0 1195.8,691.2 1196.5,691.9 1197.2,699.6 1197.9,686.2 1198.6,688.5 1199.3,688.2 1200,686.2 1200.7,686.6 1201.4,682.8 1202.1,692.4 1202.8,692.6 1203.5,694.8 1204.2,699.8 1204.9,699.0 1205.6,698.6 1206.3,694.2 1207,695.4 1207.7,694.8 1208.4,694.6 1209.1,683.3 1209.8,685.1 1210.5,684.6 1211.2,678.4 1211.9,676.0 1212.6,675.9 1213.3,679.3 1214,684.6 1214.7,686.3 1215.4,685.2 1216.1,694.5 1216.8,691.4 1217.5,691.0 1218.2,685.0 1218.9,692.4 1219.6,687.6 1220.3,690.3 1221,687.3 1221.7,680.7 1222.4,687.8 1223.1,685.8 1223.8,680.4 1224.5,687.6 1225.2,681.4 1225.9,688.7 1226.6,694.3 1227.3,688.4 1228,683.5 1228.7,677.0 1229.4,678.1 1230.1,681.3 1230.8,678.2 1231.5,679.5 1232.2,688.2 1232.9,693.5 1233.6,692.2 1234.3,688.9 1235,684.3 1235.7,687.2 1236.4,683.0 1237.1,676.7 1237.8,681.0 1238.5,675.3 1239.2,680.6 1239.9,679.9 1240.6,686.1 1241.3,676.4 1242,676.3 1242.53,678.7 1242.7,675.3 1243.4,688.5 1244.1,695.2 1244.8,703.2 1245.5,711.5 1245.91,715.0 1246.2,719.2 1246.9,719.9 1247.6,725.7 1248.3,725.7 1249,725.9 1249.7,726.6 1250.4,723.3 1251.1,718.2 1251.8,717.5 1252.5,711.6 1253.2,712.8 1253.9,717.1 1254.6,707.5 1255.3,710.0 1256,704.1 1256.7,709.3 1257.4,718.4 1258.1,724.4 1258.8,729.7 1259.5,723.8 1260.2,730.1 1260.9,720.2 1261.6,722.8 1262.3,724.6 1263,710.2 1263.7,710.5 1264.4,714.2 1265.1,717.1 1265.8,711.9 1266.5,711.1 1267.2,708.7 1267.9,706.1 1268.6,702.0 1269.3,704.6 1270,697.1 1270.7,698.5 1271.4,697.7 1272.1,691.8 1272.8,694.7 1273.5,692.9 1274.2,679.3 1274.9,665.0 1275.6,667.0 1275.83,661.8 1276.3,659.0 1277,668.3 1277.7,686.3 1278.4,702.8 1278.53,702.6 1279.1,703.3 1279.8,699.1 1280.5,700.1 1281.2,699.4 1281.9,708.6 1282.6,708.8 1283.3,721.4 1284,724.1 1284.16,723.5 1284.7,718.4 1285.4,695.4 1286.1,678.1 1286.41,677.1 1286.8,678.8 1287.5,676.8 1288.2,693.1 1288.66,692.2 1288.9,694.4 1289.6,691.8 1290.3,693.9 1291,693.7 1291.7,704.7 1292.4,705.3 1293.1,712.5 1293.8,707.4 1294.5,708.5 1295.2,706.4 1295.9,709.4 1296.6,707.9 1297.3,703.2 1298,708.4 1298.7,700.3 1299.4,704.4 1300.1,696.9 1300.8,702.5 1301.5,693.4 1302.2,688.2 1302.9,698.8 1303.6,689.8 1304.3,698.3 1305,692.4 1305.7,693.7 1306.4,689.5 1307.1,692.1 1307.8,693.8 1308.5,693.1 1309.2,695.7 1309.9,693.7 1310.6,691.3 1311.3,682.5 1312,683.6 1312.7,683.3 1313.4,686.5 1314.1,695.3 1314.8,700.8 1315.5,703.5 1316.2,696.9 1316.9,698.8 1317.6,697.8 1318.3,695.2 1319,692.8 1319.7,689.8 1320.4,691.9 1321.1,693.3 1321.8,692.4 1322.5,691.8 1323.2,696.9 1323.9,684.9 1324.6,688.8 1325.3,685.3 1326,678.2 1326.7,685.7 1327.4,690.0 1328.1,682.6 1328.8,691.0 1329.5,695.5 1330.2,693.5 1330.9,694.4 1331.6,694.2 1332.3,699.9 1333,696.2 1333.7,701.0 1334.4,703.5 1335.1,711.0 1335.8,710.8 1336.5,702.3 1337.2,704.8 1337.9,696.3 1338.6,690.9 1339.3,690.3 1340,686.5 1340.7,686.1 1341.4,686.4 1342.1,690.7 1342.8,686.1 1343.5,686.8 1344.2,684.7 1344.9,682.9 1345.6,679.2 1346.3,679.9 1347,678.8 1347.7,688.8 1348.4,685.2 1349.1,689.1 1349.8,699.5 1350.5,703.2 1351.2,695.5 1351.9,696.8 1352.6,702.8 1353,705.3 1353.15,699.7 1353.3,700.9 1354,696.1 1354.7,694.5 1355.4,688.9 1356.1,684.3 1356.8,688.3 1357.5,696.0 1358.2,692.8 1358.9,696.5 1359.6,690.8 1360.3,699.6 1361,694.4 1361.7,693.8 1362.4,688.0 1363.1,690.4 1363.8,697.6 1364.5,692.5 1365.2,686.2 1365.9,691.2 1366.6,691.5 1367.3,694.5 1368,691.5 1368.7,697.8 1369.4,701.0 1370.1,700.2 1370.8,697.4 1371.5,701.6 1372.2,711.9 1372.9,704.0 1373.6,709.4 1374.3,704.6 1375,703.8 1375.7,695.4 1376.4,686.7 1377.1,683.1 1377.8,677.3 1378.5,670.1 1379.2,669.5 1379.9,666.0 1380.44,664.6 1380.6,674.8 1381.3,672.1 1382,688.8 1382.7,695.5 1383.37,702.2 1384.1,701.1 1384.8,698.8 1385.5,694.1 1386.2,697.0 1386.9,693.9 1387.6,689.8 1388.3,689.1 1389,688.2 1389.7,684.9 1390.4,691.1 1391.1,691.6 1391.8,690.5 1392.5,691.8 1393.2,691.6 1393.9,692.4 1394.6,694.5 1395.3,687.8 1396,685.0 1396.7,688.9 1397.4,685.1 1398.1,681.9 1398.8,682.4 1399.5,680.2 1400.2,680.6 1400.9,682.3 1401.6,693.8 1402.3,700.7 1403,712.2 1403.61,717.1 1404.4,712.1 1405.1,707.0 1405.8,695.5 1406.5,682.3 1406.99,679.9 1407.2,677.5 1407.9,687.6 1408.6,694.1 1409.3,695.0 1410,702.1 1410.7,700.4 1411.4,700.3 1412.1,699.3 1412.8,689.1 1413.5,691.7 1414.2,690.8 1414.9,680.5 1415.6,691.3 1416.3,684.4 1417,684.5 1417.7,687.2 1418.4,690.8 1419.1,687.4 1419.8,687.2 1420.5,686.5 1421.2,693.4 1421.9,685.4 1422.6,677.8 1423.3,684.8 1423.86,685.6 1424,682.7 1424.7,691.5 1425.4,696.6 1426.1,708.9 1426.8,714.0 1427.23,711.6 1427.5,713.3 1428.2,707.3 1428.9,709.3 1429.6,705.7 1430.3,697.3 1431,694.0 1431.7,695.8 1432.4,693.4 1433.1,687.6 1433.8,683.5 1434.5,690.4 1435.2,686.7 1435.9,685.8 1436.6,689.7 1437.3,696.2 1438,693.5 1438.7,704.1 1439.4,706.7 1440.1,708.0 1440.8,703.6 1441.5,707.5 1442.2,688.0 1442.9,684.9 1443.6,682.8 1444.3,676.5 1445,674.8 1445.7,676.1 1446.4,682.0 1447.1,680.8 1447.8,686.6 1448.5,692.3 1449.2,696.6 1449.9,698.1 1450.6,694.6 1451.3,694.4 1452,687.2 1452.7,689.9 1453.4,688.9 1454.1,687.5 1454.8,692.2 1455.5,697.3 1456.2,698.2 1456.9,696.2 1457.6,701.0 1458.3,691.3 1459,698.4 1459.7,697.5 1460.4,693.9 1461.1,688.0 1461.8,687.6 1462.5,679.8 1463.2,675.5 1463.9,684.8 1464.6,686.2 1465.3,688.2 1466,695.4 1466.7,691.2 1467.4,691.9 1468.1,687.2 1468.8,695.1 1469.5,686.6 1470.2,694.1 1470.9,690.7 1471.6,689.3 1472.3,691.5 1473,689.0 1473.7,690.8 1474.4,694.1 1475.1,697.9 1475.8,703.1 1476.5,712.0 1477.2,706.8 1477.9,707.9 1478.6,704.7 1479.3,703.1 1480,701.0 1480.7,706.9 1481.4,714.0 1482.1,715.5 1482.8,712.4 1483.5,711.6 1484.2,709.2 1484.9,701.6 1485.6,700.4 1486.3,702.1 1487,696.6 1487.7,698.1 1488.4,698.8 1489.1,699.8 1489.8,697.0 1490.5,691.8 1491.2,694.1 1491.9,692.9 1492.6,695.5 1493.3,690.1 1494,686.9 1494.7,693.4 1495.4,686.6 1496.1,688.0 1496.8,693.1 1497.5,700.2 1498.2,700.4 1498.9,712.2 1499.6,706.6 1500.3,703.4 1501,695.4 1501.7,686.6 1502.4,688.8 1503.1,687.6 1503.8,688.3 1504.5,685.6 1505.2,688.3 1505.9,695.8 1506.6,699.2 1507.3,700.0 1508,690.4 1508.7,701.1 1509.4,707.7 1510.1,709.5 1510.8,714.0 1511.5,721.5 1512.2,714.0 1512.9,709.9 1513.6,700.7 1514.3,696.7 1515,697.3 1515.7,692.4 1516.4,691.3 1517.1,698.7 1517.8,693.6 1518.5,697.3 1519.2,691.5 1519.9,686.5 1520.6,686.7 1521.3,680.6 1522,686.7 1522.7,686.2 1523.4,683.6 1524.1,688.9 1524.8,684.3 1525.5,687.5 1526.2,688.7 1526.9,699.4 1527.6,697.3 1528.3,697.2 1528.46,693.3 1529,693.6 1529.7,684.1 1530.4,673.6 1530.71,669.6 1531.1,678.9 1531.8,716.5 1532.5,753.2 1532.96,765.1 1533.2,755.8 1533.9,693.1 1534.31,670.7 1534.6,670.9 1535.3,673.5 1536,678.2 1536.33,673.7 1536.7,676.8 1537.4,687.4 1538.1,705.2 1538.58,700.1 1538.8,701.3 1539.5,708.6 1540.2,697.7 1540.9,701.7 1541.6,701.0 1542.3,693.7 1543,691.7 1543.7,692.5 1544.4,690.5 1545.1,696.3 1545.8,693.0 1546.5,693.3 1547.2,706.5 1547.9,696.5 1548.6,701.1 1549.3,692.4 1550,698.5 1550.7,694.3 1551.4,676.2 1552.1,684.2 1552.8,690.8 1553.5,691.9 1554.2,696.3 1554.9,695.2 1555.6,700.6 1556.3,697.6 1557,701.7 1557.7,701.6 1558.4,708.0 1559.1,704.4 1559.8,696.3 1560.5,695.7 1561.2,681.5 1561.9,688.3 1562.6,675.8 1563.3,686.4 1564,680.0 1564.7,684.6 1565.4,680.1 1566.1,678.5 1566.8,677.2 1567.5,669.4 1567.82,672.9 1568.2,669.9 1568.9,681.4 1569.6,686.1 1570.3,691.9 1571,698.0 1571.2,707.0 1571.7,702.3 1572.4,707.6 1573.1,712.5 1573.8,713.6 1574.5,719.6 1575.2,714.7 1575.9,711.1 1576.6,709.5 1577.3,711.5 1578,699.3 1578.7,694.6 1579.4,690.9 1580.1,685.2 1580.8,684.4 1581.32,683.4 1581.5,695.4 1582.2,677.4 1582.9,675.7 1583.57,672.4 1584.3,668.0 1585,678.2 1585.7,696.3 1586.4,704.7 1586.94,705.2 1587.1,711.0 1587.8,708.4 1588.5,697.7 1589.2,693.1 1589.9,696.8 1590.6,694.7 1591.3,687.9 1592,685.1 1592.7,687.7 1593.4,683.9 1594.1,681.6 1594.8,689.7 1595.5,695.6 1596.2,701.1 1596.9,699.8 1597.6,710.0 1598.3,708.3 1599,706.1 1599.7,707.5 1600.4,711.2 1601.1,713.8 1601.8,721.4 1602.5,723.8 1603.2,727.9 1603.9,718.6 1604.6,717.8 1605.3,721.6 1606,718.0 1606.7,712.9 1607.4,708.8 1608.1,700.6 1608.8,694.4 1609.5,690.6 1610.2,702.1 1610.9,694.4 1611.6,693.1 1612.3,691.2 1613,697.7 1613.7,701.3 1614.4,702.2 1615.1,697.8 1615.8,696.3 1616.5,694.8 1617.2,689.7 1617.9,681.0 1618.6,681.4 1619.3,687.6 1620,687.6 1620.7,692.8 1621.4,689.8 1622.1,694.3 1622.8,688.4 1623.5,688.3 1624.2,686.4 1624.9,683.3 1625.6,682.9 1626.3,695.3 1627,684.9 1627.7,697.6 1628.4,705.1 1629.1,700.4 1629.8,705.9 1630.5,697.3 1631.2,698.4 1631.9,707.8 1632.6,704.6 1633.3,701.1 1634,695.9 1634.7,679.0 1635.31,677.5 1636.1,667.5 1636.8,669.6 1637.5,673.4 1638.2,670.6 1638.9,675.1 1639.6,677.8 1640.3,684.8 1641,690.2 1641.7,681.9 1642.4,672.7 1643.1,674.2 1643.8,671.1 1644.5,671.2 1645.2,679.0 1645.9,660.0 1646.6,672.8 1647.3,669.2 1648,673.9 1648.7,672.2 1649.4,677.7 1650.1,684.8 1650.8,691.8 1651.5,688.6 1652.2,687.3 1652.9,676.8 1653.6,679.0 1654.3,682.2 1655,685.2 1655.7,685.9 1656.4,692.6 1657.1,686.6 1657.8,691.1 1658.5,688.4 1659.2,690.2 1659.9,682.3 1660.6,682.3 1661.3,687.5 1662,680.6 1662.7,682.8 1663.4,683.8 1664.1,682.4 1664.8,680.5 1665.5,677.6 1666.2,685.9 1666.9,678.8 1667.6,693.7 1668.3,687.5 1669,691.6 1669.7,692.8 1670.4,690.7 1671.1,693.3 1671.8,691.2 1672.5,694.7 1673.2,698.1 1673.9,689.3 1674.6,695.0 1675.3,693.8 1676,692.5 1676.7,691.8 1677.4,686.6 1678.1,692.0 1678.8,682.6 1679.5,682.7 1680.2,682.7 1680.9,683.6 1681.6,682.5 1682.3,676.2 1683,677.7 1683.7,671.7 1684.4,672.3 1685.1,671.6 1685.8,682.0 1686.5,683.9 1687.2,689.8 1687.9,693.0 1688.6,703.0 1689.3,708.3 1690,705.8 1690.7,710.5 1691.4,712.8 1692.1,712.5 1692.8,711.9 1693.5,699.4 1694.2,704.1 1694.9,692.2 1695.6,690.9 1696.3,697.8 1697,704.2 1697.7,700.7 1698.4,703.5 1699.1,695.4 1699.8,687.1 1700.5,682.0 1701.2,679.5 1701.9,681.7 1702.6,679.1 1703.3,678.8 1704,692.7 1704.7,694.0 1705.4,698.2 1706.1,693.3 1706.8,701.4 1707.5,693.9 1708.2,704.5 1708.9,706.7 1709.6,692.5 1710.3,693.3 1710.67,687.5 1711,694.5 1711.7,707.9 1712.4,730.2 1712.91,732.0 1713.1,734.0 1713.8,733.3 1714.5,719.6 1715.16,712.4 1715.9,711.8 1716.6,715.8 1717.3,712.9 1718,709.7 1718.7,713.9 1719.4,706.6 1720.1,711.4 1720.8,707.9 1721.5,713.2 1722.2,706.8 1722.9,708.9 1723.6,707.4 1724.3,703.5 1725,711.6 1725.7,707.8 1726.4,710.2 1727.1,709.1 1727.8,699.1 1728.5,695.1 1729.2,694.0 1729.9,691.4 1730.6,693.1 1731.3,688.6 1732,686.0 1732.7,686.4 1733.4,686.9 1734.1,691.1 1734.8,688.5 1735,682.8 1735.5,685.4 1736.2,672.8 1736.9,662.5 1737.6,619.3 1738.3,564.2 1738.5,554.5 1739,601.5 1739.7,703.4 1740,719.5 1740.4,716.4 1741.1,693.2 1741.8,677.0 1742,671.2 1742.5,678.9 1743.2,680.2 1743.9,684.1 1744.6,689.7 1745.3,689.4 1746,690.5 1746.7,685.8 1747.4,692.9 1748.1,702.0 1748.8,708.0 1749.5,720.1 1750.2,720.8 1750.9,715.3 1751.16,716.2 1751.6,711.8 1752.3,710.9 1753,704.9 1753.7,692.4 1754.4,683.5 1754.53,681.9 1755.1,674.8 1755.8,659.8 1756.5,651.2 1756.78,650.4 1757.2,661.1 1757.9,665.5 1758.6,679.8 1759.03,680.6 1759.3,687.5 1760,696.8 1760.7,706.7 1761.28,712.4 1761.4,713.0 1762.1,703.4 1762.8,683.0 1763.5,685.2 1764.2,683.2 1764.9,672.0 1765.6,671.9"/>
</g>
<text x="251.8" y="921" font-size="26.8" text-anchor="middle" textLength="67.4" lengthAdjust="spacingAndGlyphs">15600</text>
<text x="417.5" y="921" font-size="26.8" text-anchor="middle" textLength="67.4" lengthAdjust="spacingAndGlyphs">15650</text>
<text x="583.2" y="921" font-size="26.8" text-anchor="middle" textLength="67.4" lengthAdjust="spacingAndGlyphs">15700</text>
<text x="748.9" y="921" font-size="26.8" text-anchor="middle" textLength="67.4" lengthAdjust="spacingAndGlyphs">15750</text>
<text x="914.6" y="921" font-size="26.8" text-anchor="middle" textLength="67.4" lengthAdjust="spacingAndGlyphs">15800</text>
<text x="1073.0" y="921" font-size="26.8" text-anchor="middle" textLength="67.4" lengthAdjust="spacingAndGlyphs">16700</text>
<text x="1238.1" y="921" font-size="26.8" text-anchor="middle" textLength="67.4" lengthAdjust="spacingAndGlyphs">16750</text>
<text x="1403.1" y="921" font-size="26.8" text-anchor="middle" textLength="67.4" lengthAdjust="spacingAndGlyphs">16800</text>
<text x="1568.2" y="921" font-size="26.8" text-anchor="middle" textLength="67.4" lengthAdjust="spacingAndGlyphs">16850</text>
<text x="1733.2" y="921" font-size="26.8" text-anchor="middle" textLength="67.4" lengthAdjust="spacingAndGlyphs">16900</text>
<text x="88.5" y="766.9" font-size="26" text-anchor="end">1</text>
<text x="88.5" y="551.3" font-size="26" text-anchor="end">2</text>
<text x="88.5" y="335.7" font-size="26" text-anchor="end">3</text>
<text x="88.5" y="120.1" font-size="26" text-anchor="end">4</text>
<text x="508.6" y="949.5" font-size="26.8" text-anchor="middle">Wavelength [<tspan font-family="Liberation Sans, sans-serif">Å</tspan>]</text>
<text x="1353.6" y="949.5" font-size="26.8" text-anchor="middle">Wavelength [<tspan font-family="Liberation Sans, sans-serif">Å</tspan>]</text>
<text transform="translate(55,451) rotate(-90)" font-size="26" text-anchor="middle">F<tspan font-size="17" dy="6">data</tspan><tspan dy="-6"> / F</tspan><tspan font-size="17" dy="6">cont</tspan></text>
<text y="853.6" font-size="21.2"><tspan x="172.5">2M20570745+5207200,</tspan><tspan x="401.5">H=13.202,</tspan><tspan x="514">090+04,</tspan><tspan x="606">12 visits</tspan></text>
<text x="1775.5" y="47.8" font-size="26.8" style="fill:#c00000">56836 (725)</text>
<text x="1775.5" y="112.5" font-size="26.8" style="fill:#a51400">56817 (706)</text>
<text x="1775.5" y="177.2" font-size="26.8" style="fill:#8a4400">56809 (698)</text>
<text x="1775.5" y="241.9" font-size="26.8" style="fill:#6b6000">56626 (515)</text>
<text x="1775.5" y="306.5" font-size="26.8" style="fill:#457816">56623 (512)</text>
<text x="1775.5" y="371.2" font-size="26.8" style="fill:#00d050">56251 (140)</text>
<text x="1775.5" y="435.9" font-size="26.8" style="fill:#00e0e0">56232 (121)</text>
<text x="1775.5" y="500.6" font-size="26.8" style="fill:#0090cc">56227 (116)</text>
<text x="1775.5" y="565.3" font-size="26.8" style="fill:#0048b0">56223 (112)</text>
<text x="1775.5" y="629.9" font-size="26.8" style="fill:#000090">56221 (110)</text>
<text x="1775.5" y="694.6" font-size="26.8" style="fill:#100070">56205 (94)</text>
<text x="1775.5" y="759.3" font-size="26.8" style="fill:#000000">56111</text>
</svg></body></html>
